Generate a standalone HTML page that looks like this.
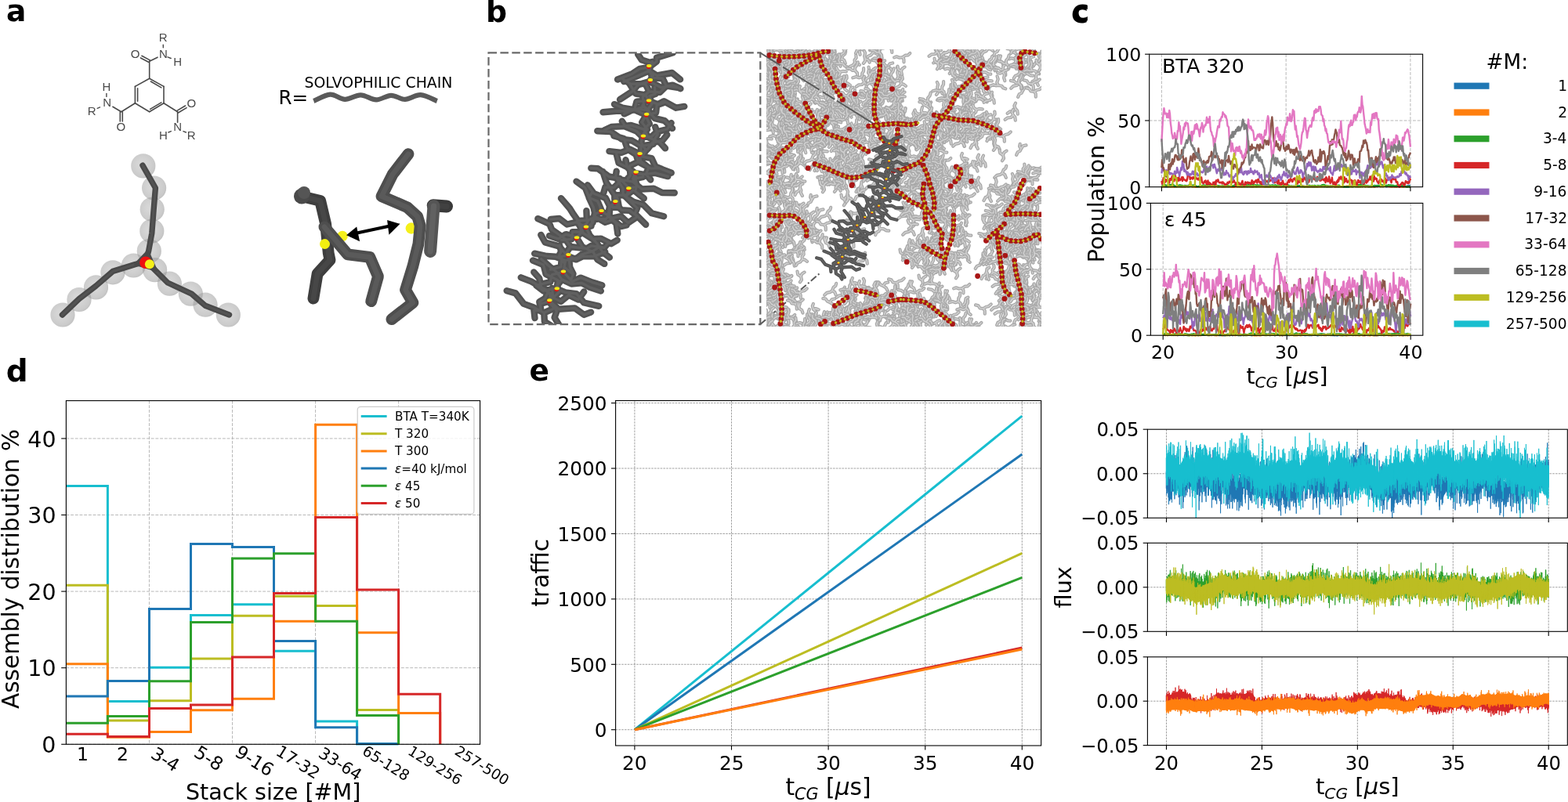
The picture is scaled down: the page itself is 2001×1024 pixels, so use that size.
<!DOCTYPE html>
<html><head><meta charset="utf-8"><title>Figure</title>
<style>html,body{margin:0;padding:0;background:#fff;overflow:hidden}svg{display:block}text{font-family:'DejaVu Sans',sans-serif}</style>
</head><body>
<svg width="2001" height="1024" viewBox="0 0 2001 1024">
<rect width="2001" height="1024" fill="#fff"/>
<line x1="190.46" y1="511.60" x2="190.46" y2="950.30" stroke="#b0b0b0" stroke-width="0.9" stroke-dasharray="3.9,1.8"/>
<line x1="296.52" y1="511.60" x2="296.52" y2="950.30" stroke="#b0b0b0" stroke-width="0.9" stroke-dasharray="3.9,1.8"/>
<line x1="402.58" y1="511.60" x2="402.58" y2="950.30" stroke="#b0b0b0" stroke-width="0.9" stroke-dasharray="3.9,1.8"/>
<line x1="508.64" y1="511.60" x2="508.64" y2="950.30" stroke="#b0b0b0" stroke-width="0.9" stroke-dasharray="3.9,1.8"/>
<line x1="84.40" y1="950.30" x2="612.60" y2="950.30" stroke="#b0b0b0" stroke-width="0.9" stroke-dasharray="3.9,1.8"/>
<line x1="84.40" y1="852.70" x2="612.60" y2="852.70" stroke="#b0b0b0" stroke-width="0.9" stroke-dasharray="3.9,1.8"/>
<line x1="84.40" y1="755.10" x2="612.60" y2="755.10" stroke="#b0b0b0" stroke-width="0.9" stroke-dasharray="3.9,1.8"/>
<line x1="84.40" y1="657.50" x2="612.60" y2="657.50" stroke="#b0b0b0" stroke-width="0.9" stroke-dasharray="3.9,1.8"/>
<line x1="84.40" y1="559.90" x2="612.60" y2="559.90" stroke="#b0b0b0" stroke-width="0.9" stroke-dasharray="3.9,1.8"/>
<g fill="none" stroke-width="3" stroke-linejoin="miter">
<path d="M84.4,620.4H137.4V895.5H190.5V852.2H243.5V785.4H296.5V771.7H349.5V831.2H402.6V921.1H455.6V949.8H508.6" stroke="#17becf"/>
<path d="M84.4,747.3H137.4V920.1H190.5V894.8H243.5V841.0H296.5V786.3H349.5V761.3H402.6V773.6H455.6V906.5H508.6V950.3" stroke="#bcbd22"/>
<path d="M84.4,847.8H137.4V941.2H190.5V934.5H243.5V906.7H296.5V892.3H349.5V793.2H402.6V542.3H455.6V807.8H508.6V910.4H561.7V950.3" stroke="#ff7f0e"/>
<path d="M84.4,889.1H137.4V869.4H190.5V777.5H243.5V694.6H296.5V698.5H349.5V818.5H402.6V928.8H455.6V949.8H508.6" stroke="#1f77b4"/>
<path d="M84.4,923.2H137.4V914.5H190.5V869.8H243.5V794.5H296.5V713.1H349.5V706.8H402.6V793.2H455.6V913.4H508.6V950.3" stroke="#2ca02c"/>
<path d="M84.4,937.3H137.4V940.5H190.5V904.6H243.5V900.0H296.5V839.0H349.5V757.5H402.6V660.4H455.6V753.1H508.6V886.3H561.7V950.3" stroke="#d62728"/>
</g>
<rect x="84.40" y="511.60" width="528.20" height="438.70" fill="none" stroke="#000" stroke-width="1.1"/>
<line x1="78.20" y1="950.30" x2="84.40" y2="950.30" stroke="#000" stroke-width="1.1"/>
<text x="53.36" y="960.93" font-size="28.50" fill="#000">0</text>
<line x1="78.20" y1="852.70" x2="84.40" y2="852.70" stroke="#000" stroke-width="1.1"/>
<text x="35.26" y="863.33" font-size="28.50" fill="#000">10</text>
<line x1="78.20" y1="755.10" x2="84.40" y2="755.10" stroke="#000" stroke-width="1.1"/>
<text x="35.26" y="765.73" font-size="28.50" fill="#000">20</text>
<line x1="78.20" y1="657.50" x2="84.40" y2="657.50" stroke="#000" stroke-width="1.1"/>
<text x="35.26" y="668.13" font-size="28.50" fill="#000">30</text>
<line x1="78.20" y1="559.90" x2="84.40" y2="559.90" stroke="#000" stroke-width="1.1"/>
<text x="35.26" y="570.53" font-size="28.50" fill="#000">40</text>
<text x="98.02" y="971.15" font-size="23.50" fill="#000">1</text>
<text x="148.94" y="970.99" font-size="23.50" fill="#000">2</text>
<text x="0" y="0" font-size="22.96" transform="translate(190.90,966.43) rotate(32)">3-4</text>
<text x="0" y="0" font-size="23.31" transform="translate(246.07,964.82) rotate(32)">5-8</text>
<text x="0" y="0" font-size="23.26" transform="translate(298.17,964.23) rotate(32)">9-16</text>
<text x="0" y="0" font-size="20.97" transform="translate(350.75,963.08) rotate(32)">17-32</text>
<text x="0" y="0" font-size="20.69" transform="translate(404.93,965.38) rotate(32)">33-64</text>
<text x="0" y="0" font-size="18.8" transform="translate(461.08,962.36) rotate(32)">65-128</text>
<text x="0" y="0" font-size="18.44" transform="translate(519.23,962.22) rotate(32)">129-256</text>
<text x="0" y="0" font-size="18.5" transform="translate(578.88,962.17) rotate(32)">257-500</text>
<text x="236.94" y="1020.50" font-size="28.55" fill="#000">Stack size [#M]</text>
<text x="0" y="0" font-size="29.5" transform="translate(24.42,904.93) rotate(-90)">Assembly distribution %</text>
<rect x="456.2" y="519.3" width="148.7" height="137.1" rx="4" fill="#fff" fill-opacity="0.8" stroke="#cccccc" stroke-width="1.2"/>
<line x1="460.70" y1="531.60" x2="493.60" y2="531.60" stroke="#17becf" stroke-width="3"/>
<text x="504.00" y="537.10" font-size="15.20" fill="#000">BTA T=340K</text>
<line x1="460.70" y1="553.76" x2="493.60" y2="553.76" stroke="#bcbd22" stroke-width="3"/>
<text x="504.00" y="559.26" font-size="15.20" fill="#000">T 320</text>
<line x1="460.70" y1="575.92" x2="493.60" y2="575.92" stroke="#ff7f0e" stroke-width="3"/>
<text x="504.00" y="581.42" font-size="15.20" fill="#000">T 300</text>
<line x1="460.70" y1="598.08" x2="493.60" y2="598.08" stroke="#1f77b4" stroke-width="3"/>
<text x="504.00" y="603.58" font-size="15.20" fill="#000"><tspan font-style="italic">ε</tspan>=40 kJ/mol</text>
<line x1="460.70" y1="620.24" x2="493.60" y2="620.24" stroke="#2ca02c" stroke-width="3"/>
<text x="504.00" y="625.74" font-size="15.20" fill="#000"><tspan font-style="italic">ε</tspan> 45</text>
<line x1="460.70" y1="642.40" x2="493.60" y2="642.40" stroke="#d62728" stroke-width="3"/>
<text x="504.00" y="647.90" font-size="15.20" fill="#000"><tspan font-style="italic">ε</tspan> 50</text>
<text x="7.65" y="486.64" font-size="39.00" font-weight="bold" fill="#000">d</text>
<line x1="809.90" y1="511.50" x2="809.90" y2="952.00" stroke="#8a8a8a" stroke-width="0.8" stroke-dasharray="2.6,1.2"/>
<line x1="933.50" y1="511.50" x2="933.50" y2="952.00" stroke="#8a8a8a" stroke-width="0.8" stroke-dasharray="2.6,1.2"/>
<line x1="1057.10" y1="511.50" x2="1057.10" y2="952.00" stroke="#8a8a8a" stroke-width="0.8" stroke-dasharray="2.6,1.2"/>
<line x1="1180.70" y1="511.50" x2="1180.70" y2="952.00" stroke="#8a8a8a" stroke-width="0.8" stroke-dasharray="2.6,1.2"/>
<line x1="1304.30" y1="511.50" x2="1304.30" y2="952.00" stroke="#8a8a8a" stroke-width="0.8" stroke-dasharray="2.6,1.2"/>
<line x1="785.60" y1="931.70" x2="1328.60" y2="931.70" stroke="#8a8a8a" stroke-width="0.8" stroke-dasharray="2.6,1.2"/>
<line x1="785.60" y1="848.28" x2="1328.60" y2="848.28" stroke="#8a8a8a" stroke-width="0.8" stroke-dasharray="2.6,1.2"/>
<line x1="785.60" y1="764.86" x2="1328.60" y2="764.86" stroke="#8a8a8a" stroke-width="0.8" stroke-dasharray="2.6,1.2"/>
<line x1="785.60" y1="681.44" x2="1328.60" y2="681.44" stroke="#8a8a8a" stroke-width="0.8" stroke-dasharray="2.6,1.2"/>
<line x1="785.60" y1="598.02" x2="1328.60" y2="598.02" stroke="#8a8a8a" stroke-width="0.8" stroke-dasharray="2.6,1.2"/>
<line x1="785.60" y1="514.60" x2="1328.60" y2="514.60" stroke="#8a8a8a" stroke-width="0.8" stroke-dasharray="2.6,1.2"/>
<g stroke-width="3" stroke-linecap="butt">
<line x1="809.90" y1="931.70" x2="1304.30" y2="531.12" stroke="#17becf" stroke-width="3"/>
<line x1="809.90" y1="931.70" x2="1304.30" y2="580.00" stroke="#1f77b4" stroke-width="3"/>
<line x1="809.90" y1="931.70" x2="1304.30" y2="706.47" stroke="#bcbd22" stroke-width="3"/>
<line x1="809.90" y1="931.70" x2="1304.30" y2="737.33" stroke="#2ca02c" stroke-width="3"/>
<line x1="809.90" y1="931.70" x2="1304.30" y2="827.09" stroke="#d62728" stroke-width="3"/>
<line x1="809.90" y1="931.70" x2="1304.30" y2="829.09" stroke="#ff7f0e" stroke-width="3"/>
</g>
<rect x="785.60" y="511.50" width="543.00" height="440.50" fill="none" stroke="#000" stroke-width="1.1"/>
<line x1="780.00" y1="931.70" x2="785.60" y2="931.70" stroke="#000" stroke-width="1.1"/>
<text x="758.86" y="940.99" font-size="24.80" fill="#000">0</text>
<line x1="780.00" y1="848.28" x2="785.60" y2="848.28" stroke="#000" stroke-width="1.1"/>
<text x="727.24" y="857.57" font-size="24.80" fill="#000">500</text>
<line x1="780.00" y1="764.86" x2="785.60" y2="764.86" stroke="#000" stroke-width="1.1"/>
<text x="711.50" y="774.15" font-size="24.80" fill="#000">1000</text>
<line x1="780.00" y1="681.44" x2="785.60" y2="681.44" stroke="#000" stroke-width="1.1"/>
<text x="711.50" y="690.73" font-size="24.80" fill="#000">1500</text>
<line x1="780.00" y1="598.02" x2="785.60" y2="598.02" stroke="#000" stroke-width="1.1"/>
<text x="711.50" y="607.31" font-size="24.80" fill="#000">2000</text>
<line x1="780.00" y1="514.60" x2="785.60" y2="514.60" stroke="#000" stroke-width="1.1"/>
<text x="711.50" y="523.89" font-size="24.80" fill="#000">2500</text>
<line x1="809.90" y1="952.00" x2="809.90" y2="957.60" stroke="#000" stroke-width="1.1"/>
<text x="794.03" y="982.55" font-size="24.80" fill="#000">20</text>
<line x1="933.50" y1="952.00" x2="933.50" y2="957.60" stroke="#000" stroke-width="1.1"/>
<text x="917.88" y="982.55" font-size="24.80" fill="#000">25</text>
<line x1="1057.10" y1="952.00" x2="1057.10" y2="957.60" stroke="#000" stroke-width="1.1"/>
<text x="1041.23" y="982.55" font-size="24.80" fill="#000">30</text>
<line x1="1180.70" y1="952.00" x2="1180.70" y2="957.60" stroke="#000" stroke-width="1.1"/>
<text x="1165.08" y="982.55" font-size="24.80" fill="#000">35</text>
<line x1="1304.30" y1="952.00" x2="1304.30" y2="957.60" stroke="#000" stroke-width="1.1"/>
<text x="1288.74" y="982.55" font-size="24.80" fill="#000">40</text>
<text x="1002.40" y="1015.40" font-size="29.7">t<tspan font-style="italic" font-size="20.79" dy="5.94">CG</tspan><tspan dy="-5.94"> [</tspan><tspan font-style="italic">μ</tspan>s]</text>
<text x="0" y="0" font-size="29.5" transform="translate(699.72,774.57) rotate(-90)">traffic</text>
<text x="675.50" y="486.40" font-size="37.50" font-weight="bold" fill="#000">e</text>
<line x1="1482.40" y1="69.20" x2="1482.40" y2="238.70" stroke="#b0b0b0" stroke-width="0.9" stroke-dasharray="3.9,1.8"/>
<line x1="1641.15" y1="69.20" x2="1641.15" y2="238.70" stroke="#b0b0b0" stroke-width="0.9" stroke-dasharray="3.9,1.8"/>
<line x1="1799.90" y1="69.20" x2="1799.90" y2="238.70" stroke="#b0b0b0" stroke-width="0.9" stroke-dasharray="3.9,1.8"/>
<line x1="1466.70" y1="153.95" x2="1815.60" y2="153.95" stroke="#b0b0b0" stroke-width="0.9" stroke-dasharray="3.9,1.8"/>
<line x1="1484.20" y1="259.40" x2="1484.20" y2="428.20" stroke="#b0b0b0" stroke-width="0.9" stroke-dasharray="3.9,1.8"/>
<line x1="1642.20" y1="259.40" x2="1642.20" y2="428.20" stroke="#b0b0b0" stroke-width="0.9" stroke-dasharray="3.9,1.8"/>
<line x1="1800.20" y1="259.40" x2="1800.20" y2="428.20" stroke="#b0b0b0" stroke-width="0.9" stroke-dasharray="3.9,1.8"/>
<line x1="1468.40" y1="343.80" x2="1815.80" y2="343.80" stroke="#b0b0b0" stroke-width="0.9" stroke-dasharray="3.9,1.8"/>
<path transform="translate(1482.40,0) scale(0.75776,0.1)" d="M0 2380l1 0 1 0 1 2 1 0 1 3 1 0 1 1 1 -2 1 3 1 -2 1 -1 1 0 1 0 1 -2 1 4 1 -2 1 -1 1 -2 1 -1 1 2 1 0 1 -2 1 -1 1 0 1 4 1 -2 1 -3 1 -3 1 0 1 6 1 -3 1 1 1 7 1 -2 1 2 1 -2 1 0 1 1 1 0 1 -2 1 -5 1 -5 1 2 1 2 1 4 1 2 1 -2 1 -1 1 0 1 -3 1 3 1 0 1 -2 1 -1 1 -3 1 0 1 2 1 0 1 4 1 4 1 -2 1 0 1 -1 1 5 1 0 1 0 1 0 1 -5 1 1 1 5 1 -2 1 1 1 -1 1 -3 1 3 1 1 1 -1 1 -3 1 -5 1 -3 1 0 1 1 1 -2 1 3 1 1 1 -2 1 -5 1 2 1 2 1 1 1 -3 1 1 1 -3 1 5 1 1 1 2 1 -2 1 -2 1 5 1 3 1 -1 1 2 1 4 1 -5 1 -1 1 -2 1 2 1 -3 1 1 1 -3 1 3 1 3 1 -1 1 2 1 -3 1 0 1 2 1 0 1 1 1 -4 1 2 1 2 1 -4 1 -7 1 -4 1 2 1 1 1 -3 1 3 1 4 1 1 1 -1 1 4 1 5 1 3 1 -3 1 2 1 -1 1 -1 1 -3 1 1 1 -2 1 3 1 0 1 3 1 -5 1 0 1 2 1 1 1 0 1 -3 1 5 1 0 1 1 1 -8 1 -3 1 1 1 -1 1 -5 1 2 1 2 1 -2 1 0 1 -1 1 3 1 -5 1 -3 1 1 1 0 1 8 1 -1 1 2 1 -1 1 -1 1 2 1 5 1 -1 1 2 1 0 1 2 1 0 1 -2 1 2 1 -1 1 -4 1 -6 1 1 1 6 1 3 1 3 1 0 1 -2 1 -1 1 2 1 -3 1 3 1 1 1 0 1 -1 1 0 1 1 1 -4 1 2 1 -3 1 -6 1 -3 1 -1 1 3 1 -3 1 2 1 1 1 2 1 0 1 2 1 1 1 3 1 0 1 -7 1 1 1 1 1 -1 1 -1 1 4 1 0 1 -2 1 -1 1 1 1 -5 1 4 1 0 1 2 1 -4 1 7 1 1 1 1 1 -2 1 -2 1 -4 1 5 1 -2 1 1 1 2 1 -2 1 3 1 3 1 0 1 -3 1 0 1 3 1 0 1 -6 1 1 1 4 1 1 1 0 1 -2 1 3 1 -1 1 -4 1 4 1 1 1 -2 1 -2 1 -2 1 0 1 -4 1 -1 1 0 1 0 1 5 1 0 1 1 1 -1 1 4 1 -6 1 0 1 4 1 4 1 0 1 -1 1 1 1 -2 1 1 1 -2 1 1 1 -1 1 -3 1 -8 1 4 1 2 1 3 1 -3 1 4 1 1 1 -1 1 3 1 1 1 0 1 -5 1 -2 1 1 1 3 1 1 1 -4 1 1 1 5 1 -3 1 0 1 2 1 -3 1 1 1 3 1 -1 1 -4 1 -1 1 -3 1 2 1 -3 1 2 1 1 1 -7 1 -1 1 3 1 1 1 0 1 -3 1 3 1 6 1 0 1 0 1 -1 1 -4 1 0 1 -2 1 4 1 -2 1 -6 1 0 1 1 1 1 1 -4 1 5 1 1 1 0 1 -1 1 2 1 0 1 2 1 0 1 0 1 4 1 0 1 -3 1 3 1 0 1 -2 1 3 1 -1 1 3 1 -4 1 -7 1 -5 1 3 1 -1 1 1 1 2 1 -4 1 6 1 -2 1 1 1 -3 1 1 1 3 1 0 1 -1 1 1 1 -1 1 2 1 7 1 -3 1 -2 1 0 1 0 1 -3 1 2 1 2 1 1 1 -4 1 5 1 -4 1 2 1 4 1 -5 1 1 1 4 1 0 1 -3 1 -4 1 2 1 -1 1 -2 1 3 1 -1 1 1 1 1 1 2 1 -1 1 0 1 2 1 0 1 -3 1 -1 1 -2 1 -3 1 -1 1 -5 1 5 1 -1 1 2" fill="none" stroke="#1f77b4" stroke-width="2.4" vector-effect="non-scaling-stroke" stroke-linejoin="round"/>
<path transform="translate(1482.40,0) scale(0.75776,0.1)" d="M0 2382l1 -3 1 4 1 2 1 -2 1 -2 1 -1 1 0 1 0 1 -1 1 1 1 -2 1 5 1 -1 1 2 1 -2 1 0 1 2 1 -1 1 1 1 2 1 0 1 1 1 -2 1 -2 1 0 1 -2 1 0 1 0 1 -1 1 -2 1 2 1 1 1 0 1 0 1 2 1 -2 1 1 1 -1 1 2 1 -1 1 -1 1 1 1 -4 1 0 1 -3 1 0 1 2 1 2 1 0 1 0 1 0 1 1 1 4 1 0 1 2 1 0 1 1 1 0 1 0 1 -2 1 1 1 -2 1 -1 1 -2 1 0 1 5 1 -1 1 1 1 0 1 0 1 0 1 0 1 -2 1 -4 1 0 1 0 1 2 1 -1 1 1 1 -2 1 1 1 -4 1 5 1 1 1 -2 1 1 1 1 1 1 1 2 1 -1 1 -5 1 -2 1 3 1 2 1 0 1 -2 1 2 1 1 1 -2 1 -2 1 1 1 3 1 2 1 1 1 -3 1 3 1 -1 1 0 1 -5 1 -2 1 3 1 -2 1 -2 1 2 1 3 1 0 1 3 1 -4 1 5 1 -1 1 1 1 0 1 -1 1 -2 1 0 1 -2 1 4 1 -1 1 1 1 -1 1 -1 1 1 1 1 1 -2 1 -1 1 1 1 -4 1 -4 1 4 1 -1 1 -4 1 0 1 1 1 1 1 2 1 1 1 1 1 -1 1 1 1 1 1 2 1 0 1 1 1 0 1 -2 1 -1 1 -1 1 -1 1 0 1 1 1 1 1 -2 1 3 1 -3 1 0 1 2 1 1 1 1 1 -1 1 2 1 -3 1 1 1 3 1 0 1 -3 1 2 1 1 1 -2 1 2 1 1 1 -5 1 0 1 0 1 -2 1 -5 1 -1 1 1 1 1 1 0 1 2 1 3 1 0 1 2 1 0 1 -1 1 -4 1 2 1 1 1 0 1 0 1 -2 1 1 1 2 1 3 1 2 1 -2 1 -1 1 2 1 0 1 -1 1 -2 1 1 1 0 1 3 1 -2 1 -1 1 2 1 0 1 0 1 0 1 1 1 -1 1 -1 1 0 1 1 1 1 1 -1 1 0 1 0 1 -2 1 -2 1 1 1 -2 1 -2 1 -2 1 -2 1 2 1 1 1 -1 1 4 1 0 1 1 1 1 1 3 1 1 1 -1 1 -2 1 -3 1 1 1 0 1 2 1 -1 1 0 1 -1 1 -4 1 1 1 3 1 2 1 2 1 0 1 -2 1 -1 1 3 1 -2 1 -3 1 1 1 1 1 1 1 -1 1 -2 1 -2 1 -2 1 -1 1 -2 1 0 1 5 1 1 1 -1 1 2 1 -2 1 1 1 2 1 -3 1 0 1 0 1 -1 1 -2 1 1 1 5 1 2 1 0 1 2 1 -1 1 -3 1 1 1 2 1 -5 1 2 1 2 1 -1 1 -1 1 1 1 -1 1 1 1 1 1 0 1 -2 1 1 1 -1 1 0 1 -5 1 2 1 -2 1 1 1 1 1 -1 1 -1 1 -2 1 1 1 2 1 2 1 -1 1 0 1 -2 1 0 1 -1 1 -2 1 1 1 4 1 3 1 3 1 -4 1 2 1 -3 1 -1 1 -2 1 -1 1 1 1 1 1 1 1 0 1 2 1 0 1 -3 1 4 1 -1 1 2 1 0 1 -2 1 0 1 -1 1 3 1 -2 1 1 1 -1 1 0 1 5 1 1 1 -2 1 -3 1 -1 1 0 1 3 1 -3 1 -4 1 1 1 1 1 4 1 -2 1 -5 1 0 1 -2 1 1 1 3 1 -2 1 3 1 1 1 0 1 -1 1 -1 1 0 1 2 1 3 1 0 1 1 1 2 1 0 1 0 1 -2 1 -1 1 -2 1 2 1 3 1 -3 1 3 1 0 1 -2 1 0 1 0 1 -4 1 1 1 3 1 2 1 -1 1 -2 1 3 1 1 1 -2 1 -2 1 1 1 -1 1 -2 1 4 1 0 1 -1 1 0 1 2 1 0 1 -1" fill="none" stroke="#ff7f0e" stroke-width="2.4" vector-effect="non-scaling-stroke" stroke-linejoin="round"/>
<path transform="translate(1482.40,0) scale(0.75776,0.1)" d="M0 2372l1 8 1 -11 1 5 1 -5 1 -4 1 -3 1 2 1 6 1 -2 1 3 1 10 1 -13 1 -2 1 -6 1 6 1 -5 1 -4 1 -3 1 3 1 7 1 2 1 10 1 6 1 -2 1 2 1 -1 1 -1 1 -9 1 -5 1 1 1 -4 1 5 1 2 1 -3 1 5 1 1 1 5 1 -1 1 -8 1 4 1 -1 1 3 1 4 1 4 1 -8 1 -10 1 -1 1 5 1 -3 1 3 1 -3 1 0 1 0 1 -1 1 3 1 2 1 7 1 1 1 4 1 -1 1 2 1 -2 1 -4 1 5 1 1 1 2 1 -6 1 -8 1 -3 1 2 1 -5 1 7 1 -6 1 4 1 11 1 -12 1 -6 1 6 1 0 1 1 1 0 1 6 1 2 1 -3 1 -1 1 -5 1 0 1 -9 1 5 1 0 1 9 1 4 1 -6 1 4 1 -3 1 0 1 4 1 0 1 1 1 1 1 -4 1 -3 1 2 1 3 1 -2 1 0 1 -5 1 -10 1 -1 1 2 1 3 1 5 1 4 1 4 1 0 1 1 1 -4 1 1 1 0 1 4 1 -7 1 -2 1 -7 1 -1 1 -4 1 3 1 -1 1 -8 1 8 1 -2 1 -4 1 1 1 0 1 -2 1 6 1 1 1 5 1 4 1 3 1 1 1 -1 1 -2 1 6 1 -9 1 -3 1 -2 1 3 1 2 1 -1 1 -1 1 8 1 -3 1 -12 1 10 1 -3 1 0 1 1 1 -4 1 6 1 0 1 -5 1 2 1 3 1 0 1 3 1 -6 1 5 1 -3 1 6 1 -3 1 0 1 11 1 -2 1 3 1 0 1 -8 1 4 1 3 1 -7 1 -1 1 -6 1 -1 1 5 1 0 1 -5 1 -2 1 1 1 1 1 2 1 3 1 -8 1 2 1 5 1 3 1 -3 1 -3 1 2 1 3 1 0 1 6 1 4 1 -5 1 1 1 -2 1 -6 1 -2 1 0 1 -8 1 0 1 3 1 -1 1 0 1 5 1 1 1 1 1 9 1 -1 1 0 1 1 1 5 1 0 1 -2 1 -2 1 3 1 -4 1 3 1 0 1 -7 1 2 1 1 1 -5 1 2 1 0 1 -1 1 -4 1 9 1 2 1 3 1 2 1 1 1 1 1 -4 1 1 1 -2 1 -4 1 2 1 -2 1 -8 1 -1 1 3 1 0 1 4 1 -2 1 -4 1 4 1 0 1 -5 1 3 1 -1 1 4 1 3 1 1 1 -10 1 2 1 2 1 2 1 0 1 -3 1 -1 1 -8 1 1 1 -4 1 1 1 -1 1 8 1 1 1 1 1 1 1 9 1 -5 1 1 1 1 1 0 1 0 1 -3 1 5 1 2 1 -3 1 -1 1 0 1 1 1 2 1 -1 1 -6 1 4 1 -7 1 -3 1 3 1 -3 1 7 1 6 1 4 1 -1 1 -1 1 0 1 -2 1 7 1 -5 1 4 1 0 1 -1 1 2 1 -3 1 0 1 3 1 -5 1 -4 1 3 1 1 1 2 1 -4 1 6 1 -7 1 0 1 2 1 -3 1 -5 1 -2 1 -4 1 1 1 -4 1 -4 1 3 1 -4 1 1 1 2 1 5 1 2 1 -2 1 6 1 -3 1 -1 1 -1 1 10 1 -1 1 -4 1 3 1 -1 1 9 1 -5 1 1 1 -5 1 7 1 -5 1 0 1 -4 1 3 1 2 1 -10 1 4 1 3 1 0 1 4 1 -6 1 -7 1 4 1 7 1 -6 1 -4 1 -2 1 -4 1 6 1 1 1 6 1 5 1 -5 1 2 1 -9 1 0 1 4 1 -3 1 -7 1 0 1 7 1 -1 1 -4 1 3 1 4 1 -3 1 0 1 5 1 2 1 2 1 -2 1 -1 1 -4 1 -3 1 7 1 -1 1 -4 1 -1 1 -3 1 3 1 5 1 -4 1 5 1 8 1 -6 1 3 1 0 1 4 1 3 1 2 1 -1 1 -4 1 3 1 -2 1 3 1 1" fill="none" stroke="#2ca02c" stroke-width="2.4" vector-effect="non-scaling-stroke" stroke-linejoin="round"/>
<path transform="translate(1482.40,0) scale(0.75776,0.1)" d="M0 2310l1 37 1 -29 1 -45 1 32 1 -6 1 29 1 -37 1 23 1 -15 1 -6 1 8 1 6 1 28 1 -53 1 0 1 15 1 -26 1 -27 1 63 1 -11 1 16 1 -46 1 -26 1 40 1 23 1 -9 1 -22 1 39 1 -46 1 26 1 12 1 -12 1 -7 1 -22 1 49 1 -48 1 21 1 11 1 1 1 9 1 -8 1 15 1 -17 1 -50 1 -16 1 5 1 11 1 46 1 -21 1 -3 1 9 1 9 1 -24 1 5 1 13 1 -15 1 14 1 -12 1 18 1 -3 1 11 1 -16 1 21 1 -10 1 -4 1 13 1 -31 1 60 1 9 1 10 1 -6 1 -23 1 10 1 -21 1 34 1 17 1 -38 1 -11 1 46 1 -22 1 19 1 -10 1 12 1 7 1 19 1 -20 1 -29 1 3 1 13 1 -24 1 43 1 -61 1 17 1 -9 1 -17 1 24 1 14 1 1 1 1 1 -7 1 6 1 13 1 -22 1 13 1 2 1 21 1 -8 1 10 1 -11 1 1 1 -23 1 3 1 9 1 -24 1 2 1 10 1 -13 1 7 1 8 1 -2 1 -28 1 4 1 24 1 4 1 36 1 -27 1 -12 1 4 1 -2 1 1 1 28 1 -11 1 32 1 -43 1 -7 1 -22 1 32 1 18 1 8 1 19 1 -61 1 27 1 -21 1 6 1 -12 1 17 1 -10 1 -1 1 16 1 -12 1 14 1 -47 1 8 1 27 1 9 1 -25 1 7 1 -19 1 -9 1 14 1 22 1 -43 1 -5 1 27 1 15 1 8 1 -17 1 29 1 -21 1 18 1 19 1 -58 1 31 1 -28 1 -10 1 18 1 -1 1 -6 1 15 1 -23 1 -27 1 37 1 -9 1 1 1 -12 1 -5 1 -15 1 15 1 15 1 29 1 1 1 -20 1 -38 1 22 1 45 1 -13 1 -34 1 52 1 -5 1 -5 1 28 1 -36 1 21 1 -44 1 30 1 12 1 8 1 -4 1 -8 1 12 1 7 1 -34 1 -10 1 -23 1 30 1 -19 1 -26 1 5 1 19 1 15 1 -8 1 -30 1 4 1 -13 1 20 1 18 1 19 1 -26 1 41 1 -48 1 -17 1 46 1 -16 1 -16 1 15 1 5 1 -30 1 33 1 -27 1 -25 1 7 1 9 1 20 1 12 1 8 1 -14 1 -4 1 20 1 -34 1 -28 1 6 1 -5 1 33 1 -28 1 10 1 -26 1 35 1 -14 1 32 1 -3 1 -13 1 -31 1 32 1 -21 1 14 1 12 1 13 1 -17 1 11 1 -14 1 0 1 -2 1 18 1 -6 1 -19 1 52 1 -70 1 17 1 32 1 8 1 -6 1 -57 1 48 1 38 1 -40 1 17 1 -50 1 66 1 17 1 -4 1 -22 1 17 1 45 1 -44 1 -27 1 13 1 -35 1 22 1 -51 1 3 1 16 1 -29 1 12 1 28 1 -14 1 20 1 33 1 -71 1 56 1 -16 1 -21 1 35 1 12 1 -9 1 -7 1 -16 1 -13 1 14 1 4 1 -2 1 47 1 -34 1 15 1 -20 1 -7 1 3 1 64 1 -29 1 27 1 -45 1 -22 1 30 1 -18 1 11 1 15 1 -29 1 9 1 25 1 -25 1 35 1 -6 1 -21 1 -31 1 15 1 27 1 -29 1 13 1 -31 1 9 1 -8 1 -36 1 26 1 18 1 -48 1 29 1 -3 1 40 1 -68 1 43 1 -17 1 8 1 -2 1 37 1 7 1 16 1 -5 1 -36 1 24 1 -7 1 -26 1 11 1 17 1 -11 1 18 1 12 1 -17 1 -43 1 58 1 -32 1 -2 1 -13 1 -6 1 -15 1 4 1 14 1 30 1 17 1 -57 1 2 1 0 1 16 1 -20 1 -7 1 16 1 43 1 1 1 -3 1 39 1 3 1 22 1 0 1 -21 1 -19 1 3 1 -21 1 2 1 6 1 30 1 2 1 -20 1 -37 1 8 1 7 1 12 1 -16 1 16 1 -6 1 -56 1 27" fill="none" stroke="#d62728" stroke-width="2.4" vector-effect="non-scaling-stroke" stroke-linejoin="round"/>
<path transform="translate(1482.40,0) scale(0.75776,0.1)" d="M0 2214l1 -63 1 19 1 -27 1 19 1 42 1 21 1 -30 1 -24 1 19 1 15 1 7 1 -1 1 -16 1 30 1 -4 1 -11 1 7 1 1 1 8 1 20 1 -19 1 -41 1 41 1 -33 1 15 1 -69 1 28 1 37 1 -4 1 50 1 -46 1 -32 1 -34 1 30 1 -110 1 42 1 -3 1 89 1 -23 1 29 1 -9 1 25 1 25 1 -36 1 18 1 19 1 5 1 -21 1 11 1 0 1 -13 1 -30 1 3 1 40 1 -34 1 -16 1 18 1 32 1 -3 1 -15 1 32 1 -10 1 6 1 -8 1 -49 1 14 1 0 1 -3 1 10 1 -6 1 -29 1 -27 1 -21 1 18 1 17 1 -29 1 39 1 31 1 -25 1 -38 1 14 1 -23 1 -6 1 -9 1 0 1 -6 1 42 1 -43 1 -6 1 32 1 16 1 38 1 30 1 -28 1 -26 1 21 1 -17 1 -6 1 0 1 7 1 -17 1 29 1 2 1 12 1 45 1 -12 1 -12 1 20 1 -51 1 28 1 0 1 2 1 30 1 15 1 1 1 -23 1 16 1 -4 1 25 1 26 1 -33 1 3 1 -21 1 1 1 -27 1 27 1 -12 1 -27 1 18 1 -27 1 -20 1 14 1 10 1 -64 1 56 1 16 1 15 1 4 1 -39 1 24 1 -23 1 -5 1 7 1 36 1 -42 1 -5 1 31 1 -20 1 6 1 -50 1 49 1 0 1 -10 1 28 1 6 1 -29 1 -17 1 26 1 -12 1 4 1 -9 1 43 1 -9 1 -10 1 63 1 -13 1 -21 1 -7 1 57 1 13 1 47 1 9 1 -30 1 -51 1 -30 1 -6 1 -6 1 24 1 -11 1 15 1 -56 1 32 1 2 1 16 1 21 1 17 1 27 1 13 1 -38 1 -27 1 9 1 35 1 -23 1 7 1 -38 1 -12 1 26 1 -43 1 24 1 5 1 41 1 -20 1 -25 1 -29 1 6 1 -41 1 42 1 11 1 -19 1 -19 1 19 1 45 1 -8 1 -26 1 11 1 -4 1 20 1 -24 1 17 1 -64 1 6 1 -16 1 14 1 25 1 -9 1 11 1 -43 1 -21 1 -21 1 37 1 40 1 -13 1 7 1 -37 1 2 1 14 1 20 1 57 1 -40 1 -8 1 -30 1 -11 1 -3 1 -28 1 -56 1 35 1 -8 1 -46 1 39 1 6 1 -40 1 38 1 64 1 -43 1 33 1 -43 1 63 1 -22 1 -34 1 31 1 21 1 3 1 13 1 -18 1 -3 1 9 1 -30 1 19 1 10 1 -18 1 17 1 -56 1 4 1 27 1 -35 1 10 1 47 1 -59 1 41 1 -13 1 1 1 5 1 23 1 -49 1 76 1 0 1 8 1 21 1 -32 1 -44 1 -43 1 62 1 -4 1 -18 1 10 1 -5 1 -36 1 25 1 3 1 -43 1 -2 1 14 1 -21 1 32 1 -15 1 6 1 45 1 -30 1 38 1 -32 1 -1 1 26 1 -7 1 15 1 9 1 10 1 29 1 -7 1 -14 1 18 1 -61 1 28 1 -19 1 16 1 -5 1 7 1 -26 1 65 1 -42 1 12 1 -14 1 5 1 16 1 66 1 -76 1 28 1 -24 1 33 1 -19 1 30 1 -38 1 44 1 -59 1 -9 1 9 1 -43 1 -36 1 43 1 -32 1 23 1 1 1 -2 1 -25 1 -31 1 39 1 -5 1 -33 1 23 1 -15 1 23 1 -22 1 -23 1 24 1 -62 1 83 1 -31 1 -8 1 20 1 -27 1 -11 1 2 1 45 1 33 1 -35 1 39 1 68 1 22 1 -24 1 38 1 -12 1 37 1 23 1 -23 1 13 1 -28 1 18 1 -8 1 -37 1 27 1 -7 1 12 1 2 1 4 1 -4 1 -3 1 -8 1 -7 1 11 1 -4 1 -3 1 -35 1 5 1 15 1 -53 1 0 1 8 1 -10 1 -1 1 2 1 29 1 9 1 -16 1 23 1 13 1 -6 1 60 1 -37 1 -12 1 22" fill="none" stroke="#9467bd" stroke-width="2.4" vector-effect="non-scaling-stroke" stroke-linejoin="round"/>
<path transform="translate(1482.40,0) scale(0.75776,0.1)" d="M0 2141l1 -100 1 103 1 -5 1 39 1 23 1 43 1 -3 1 16 1 -13 1 -24 1 -34 1 -87 1 38 1 28 1 -77 1 36 1 -47 1 -45 1 63 1 -55 1 24 1 -55 1 -30 1 0 1 14 1 24 1 23 1 -48 1 52 1 -26 1 11 1 -48 1 29 1 -95 1 86 1 -16 1 79 1 -29 1 39 1 -21 1 -36 1 97 1 44 1 -11 1 0 1 -16 1 -62 1 -34 1 -41 1 52 1 -12 1 25 1 -90 1 -9 1 3 1 76 1 -59 1 -24 1 24 1 36 1 -42 1 -79 1 64 1 39 1 52 1 -18 1 34 1 24 1 36 1 -51 1 -22 1 23 1 22 1 3 1 -33 1 10 1 -26 1 25 1 -16 1 -60 1 -4 1 -5 1 0 1 -56 1 117 1 -18 1 -80 1 34 1 11 1 12 1 -26 1 7 1 -3 1 25 1 -21 1 54 1 -17 1 53 1 -11 1 10 1 -39 1 103 1 -69 1 -30 1 36 1 11 1 24 1 -73 1 6 1 0 1 -13 1 35 1 -85 1 63 1 -1 1 45 1 -15 1 -12 1 -15 1 57 1 45 1 -48 1 -7 1 11 1 22 1 -8 1 26 1 1 1 54 1 -19 1 -23 1 -14 1 -16 1 -6 1 -53 1 23 1 -24 1 2 1 -34 1 -38 1 5 1 -60 1 7 1 -54 1 -16 1 -88 1 115 1 6 1 -47 1 44 1 -22 1 -50 1 55 1 -21 1 3 1 2 1 2 1 13 1 28 1 -39 1 -40 1 8 1 -2 1 68 1 -4 1 -76 1 17 1 22 1 6 1 -9 1 16 1 -84 1 -17 1 -6 1 16 1 43 1 -23 1 -26 1 37 1 16 1 -32 1 -109 1 60 1 -160 1 -61 1 -54 1 77 1 144 1 90 1 18 1 45 1 -17 1 -49 1 57 1 14 1 -36 1 71 1 -26 1 41 1 -22 1 -43 1 -42 1 -45 1 41 1 16 1 73 1 -11 1 37 1 -10 1 -47 1 28 1 8 1 -59 1 5 1 51 1 9 1 38 1 -42 1 16 1 -9 1 43 1 -47 1 60 1 7 1 -71 1 39 1 -60 1 37 1 9 1 28 1 71 1 -33 1 50 1 -61 1 8 1 40 1 18 1 -29 1 -25 1 87 1 -26 1 -24 1 -27 1 7 1 2 1 -32 1 -11 1 -50 1 64 1 -26 1 -18 1 -20 1 -6 1 59 1 24 1 60 1 -14 1 28 1 -34 1 20 1 33 1 -10 1 -26 1 -52 1 58 1 -38 1 -117 1 155 1 -37 1 -91 1 13 1 8 1 -29 1 18 1 40 1 129 1 -56 1 39 1 -56 1 -52 1 43 1 -61 1 -94 1 -70 1 42 1 -3 1 -67 1 63 1 -51 1 -14 1 -49 1 -33 1 -43 1 25 1 19 1 123 1 -34 1 28 1 -34 1 68 1 10 1 0 1 20 1 8 1 29 1 47 1 19 1 -36 1 65 1 -49 1 89 1 -23 1 5 1 -53 1 -55 1 49 1 29 1 34 1 -62 1 34 1 -33 1 42 1 124 1 -87 1 -30 1 53 1 5 1 8 1 -10 1 -20 1 -29 1 7 1 32 1 -138 1 -3 1 -3 1 -33 1 -37 1 23 1 -86 1 19 1 16 1 -42 1 25 1 8 1 32 1 69 1 -5 1 91 1 64 1 24 1 -77 1 32 1 -33 1 70 1 23 1 31 1 -22 1 -10 1 -70 1 -38 1 72 1 -18 1 -36 1 23 1 -42 1 -1 1 -95 1 -1 1 71 1 17 1 5 1 31 1 14 1 -20 1 -3 1 -42 1 6 1 43 1 -27 1 42 1 -26 1 14 1 21 1 51 1 -21 1 -7 1 14 1 -40 1 5 1 -46 1 41 1 -41 1 78 1 -11 1 -2 1 -13 1 23 1 -35 1 -6 1 47 1 -25 1 -48 1 38 1 -11 1 15 1 39 1 -2 1 -20 1 -42 1 73 1 -19 1 10 1 8 1 -81 1 -7 1 -36 1 -8 1 -24" fill="none" stroke="#8c564b" stroke-width="2.4" vector-effect="non-scaling-stroke" stroke-linejoin="round"/>
<path transform="translate(1482.40,0) scale(0.75776,0.1)" d="M0 1809l1 -136 1 -145 1 -83 1 -63 1 49 1 23 1 -5 1 -1 1 52 1 -9 1 -42 1 55 1 -94 1 45 1 115 1 52 1 78 1 30 1 39 1 -22 1 14 1 -65 1 40 1 65 1 -20 1 -15 1 -96 1 7 1 -115 1 52 1 -5 1 108 1 120 1 -50 1 -42 1 -42 1 -78 1 28 1 -75 1 33 1 -48 1 10 1 -1 1 3 1 55 1 119 1 35 1 -13 1 -10 1 -79 1 115 1 -75 1 -44 1 30 1 -37 1 -72 1 -6 1 53 1 -64 1 20 1 48 1 -1 1 39 1 54 1 -65 1 -52 1 9 1 -64 1 31 1 85 1 -64 1 1 1 -28 1 7 1 -32 1 -73 1 72 1 -46 1 42 1 -1 1 -75 1 136 1 54 1 6 1 40 1 8 1 39 1 97 1 -100 1 43 1 -45 1 -22 1 -55 1 -45 1 -36 1 10 1 7 1 -100 1 20 1 -32 1 -23 1 5 1 -63 1 14 1 9 1 7 1 32 1 -17 1 31 1 23 1 75 1 6 1 12 1 149 1 51 1 -26 1 135 1 -57 1 -47 1 53 1 47 1 -8 1 3 1 57 1 -90 1 -11 1 39 1 8 1 -47 1 46 1 -58 1 42 1 45 1 -30 1 43 1 42 1 -25 1 48 1 -28 1 -44 1 30 1 -87 1 11 1 -159 1 -142 1 -90 1 82 1 13 1 22 1 -30 1 18 1 34 1 -5 1 14 1 44 1 73 1 -18 1 16 1 -20 1 -1 1 -33 1 -17 1 25 1 4 1 -37 1 36 1 27 1 -56 1 44 1 72 1 -82 1 11 1 -36 1 -61 1 60 1 -34 1 -124 1 -36 1 -49 1 28 1 121 1 108 1 42 1 33 1 120 1 82 1 -87 1 38 1 -56 1 -92 1 -93 1 -14 1 -74 1 18 1 -29 1 120 1 -61 1 103 1 -57 1 -13 1 64 1 58 1 -99 1 25 1 -49 1 82 1 -113 1 -50 1 -26 1 -31 1 15 1 -98 1 44 1 -16 1 17 1 -89 1 38 1 60 1 -15 1 -51 1 -81 1 43 1 -28 1 146 1 91 1 -49 1 66 1 77 1 -15 1 62 1 54 1 28 1 28 1 -31 1 -51 1 -94 1 -43 1 -5 1 -52 1 -65 1 -58 1 5 1 147 1 10 1 91 1 -60 1 -26 1 -44 1 -10 1 -19 1 3 1 16 1 -47 1 -63 1 -13 1 40 1 -117 1 -9 1 30 1 -48 1 38 1 -24 1 -4 1 16 1 -56 1 6 1 -8 1 33 1 68 1 11 1 6 1 70 1 -29 1 81 1 13 1 58 1 -28 1 60 1 3 1 64 1 46 1 -2 1 23 1 -15 1 10 1 -6 1 -17 1 -10 1 22 1 -23 1 21 1 -12 1 12 1 57 1 -46 1 -24 1 -58 1 22 1 -114 1 36 1 -7 1 -138 1 116 1 113 1 -8 1 24 1 82 1 38 1 19 1 -38 1 -5 1 -75 1 -31 1 -91 1 -80 1 -22 1 24 1 -51 1 -26 1 61 1 -1 1 -32 1 -9 1 -86 1 30 1 -35 1 68 1 -43 1 3 1 -51 1 -16 1 4 1 -57 1 31 1 32 1 -45 1 -162 1 108 1 25 1 75 1 65 1 81 1 33 1 32 1 58 1 -35 1 -21 1 40 1 -18 1 6 1 13 1 -132 1 40 1 -78 1 -61 1 51 1 -60 1 22 1 38 1 -69 1 9 1 -10 1 66 1 17 1 -4 1 136 1 43 1 62 1 68 1 49 1 31 1 114 1 -72 1 92 1 -25 1 9 1 -86 1 -50 1 16 1 -57 1 48 1 -118 1 70 1 46 1 -30 1 8 1 -60 1 16 1 -12 1 66 1 -108 1 68 1 -29 1 3 1 -91 1 5 1 5 1 59 1 86 1 -9 1 35 1 -2 1 -17 1 -6 1 -52 1 -75 1 -2 1 42 1 -42 1 -63 1 11 1 -18 1 -15 1 -17 1 8 1 42 1 30 1 70 1 74" fill="none" stroke="#e377c2" stroke-width="2.4" vector-effect="non-scaling-stroke" stroke-linejoin="round"/>
<path transform="translate(1482.40,0) scale(0.75776,0.1)" d="M0 1772l1 128 1 102 1 64 1 16 1 -60 1 -61 1 7 1 19 1 45 1 -81 1 -6 1 39 1 75 1 -107 1 -12 1 -13 1 -29 1 38 1 -22 1 -25 1 -4 1 -3 1 -37 1 -68 1 54 1 10 1 -2 1 117 1 11 1 37 1 6 1 15 1 -39 1 -4 1 0 1 -18 1 -81 1 4 1 -1 1 -52 1 -16 1 -30 1 41 1 -14 1 -48 1 -39 1 -1 1 23 1 68 1 31 1 15 1 -9 1 29 1 26 1 -20 1 46 1 17 1 23 1 5 1 -32 1 68 1 1 1 -51 1 82 1 -38 1 36 1 17 1 -1 1 54 1 4 1 18 1 -19 1 -31 1 142 1 -78 1 39 1 -39 1 37 1 -25 1 -17 1 36 1 -13 1 -79 1 -22 1 -31 1 -41 1 13 1 -78 1 -64 1 -34 1 62 1 76 1 -17 1 59 1 24 1 49 1 22 1 55 1 43 1 62 1 1 1 -52 1 -26 1 -42 1 -40 1 -52 1 -110 1 72 1 -84 1 14 1 -27 1 -54 1 5 1 -30 1 -77 1 -26 1 -17 1 33 1 -74 1 1 1 64 1 -68 1 4 1 26 1 -55 1 22 1 -33 1 -19 1 45 1 -55 1 19 1 31 1 -17 1 -27 1 -8 1 -61 1 -27 1 20 1 105 1 -69 1 41 1 21 1 -48 1 88 1 61 1 113 1 189 1 59 1 -39 1 12 1 -78 1 -21 1 70 1 -63 1 -2 1 -3 1 -5 1 -65 1 27 1 76 1 -23 1 -22 1 73 1 14 1 -43 1 -9 1 46 1 24 1 -33 1 54 1 9 1 32 1 10 1 142 1 42 1 42 1 -7 1 21 1 0 1 -71 1 -39 1 -73 1 -18 1 -56 1 -71 1 -38 1 -10 1 -34 1 65 1 49 1 -9 1 -68 1 96 1 -71 1 -18 1 47 1 13 1 -13 1 32 1 -25 1 48 1 -17 1 -53 1 46 1 42 1 -17 1 -89 1 16 1 53 1 73 1 -15 1 13 1 12 1 17 1 -21 1 35 1 18 1 21 1 -21 1 -75 1 15 1 -43 1 13 1 -90 1 35 1 -32 1 -61 1 34 1 -5 1 -2 1 -17 1 -74 1 12 1 -11 1 28 1 49 1 1 1 31 1 2 1 33 1 77 1 19 1 51 1 105 1 29 1 -23 1 -105 1 11 1 25 1 13 1 -35 1 42 1 36 1 -45 1 -25 1 -16 1 -36 1 68 1 11 1 32 1 -39 1 39 1 -42 1 22 1 -4 1 -73 1 77 1 -70 1 12 1 39 1 -6 1 -54 1 -18 1 10 1 24 1 -18 1 -66 1 15 1 -7 1 -62 1 16 1 -18 1 -12 1 -84 1 -15 1 34 1 -57 1 -37 1 44 1 61 1 31 1 -27 1 51 1 84 1 -8 1 -29 1 -45 1 44 1 -41 1 96 1 -120 1 -29 1 -54 1 52 1 -5 1 26 1 61 1 20 1 23 1 -55 1 43 1 17 1 79 1 -78 1 71 1 -32 1 36 1 -128 1 36 1 20 1 -8 1 -11 1 -26 1 24 1 -21 1 -24 1 8 1 0 1 -13 1 40 1 8 1 -65 1 100 1 63 1 -3 1 4 1 11 1 92 1 1 1 -38 1 21 1 -38 1 -61 1 -33 1 -25 1 116 1 -102 1 26 1 -65 1 0 1 -122 1 41 1 44 1 -73 1 14 1 8 1 20 1 -23 1 25 1 70 1 60 1 -24 1 21 1 -59 1 -21 1 3 1 -87 1 -60 1 -65 1 -22 1 -11 1 -70 1 7 1 -49 1 59 1 1 1 23 1 91 1 73 1 -57 1 25 1 19 1 -66 1 53 1 -9 1 -49 1 -67 1 20 1 19 1 28 1 -51 1 -35 1 38 1 -23 1 81 1 -67 1 13 1 -37 1 77 1 -128 1 30 1 72 1 -43 1 9 1 58 1 -64 1 87 1 37 1 -25 1 68 1 -3 1 -43 1 68 1 -33 1 13 1 79 1 -4 1 -22 1 60" fill="none" stroke="#7f7f7f" stroke-width="2.4" vector-effect="non-scaling-stroke" stroke-linejoin="round"/>
<path transform="translate(1482.40,0) scale(0.75776,0.1)" d="M0 2387l1 -3 1 2 1 -9 1 4 1 -169 1 -31 1 17 1 40 1 -1 1 -47 1 193 1 3 1 -7 1 2 1 -1 1 7 1 -1 1 0 1 -96 1 -50 1 4 1 23 1 6 1 2 1 -2 1 108 1 5 1 -4 1 5 1 -4 1 2 1 -1 1 3 1 -2 1 0 1 -5 1 3 1 -4 1 5 1 -2 1 3 1 -5 1 0 1 6 1 -2 1 -6 1 5 1 -62 1 -2 1 64 1 2 1 -1 1 2 1 -5 1 0 1 -1 1 -246 1 -53 1 26 1 19 1 -45 1 93 1 9 1 -55 1 259 1 -6 1 3 1 1 1 -1 1 -4 1 2 1 0 1 4 1 -2 1 -1 1 0 1 -1 1 3 1 -6 1 2 1 2 1 1 1 -1 1 -6 1 2 1 2 1 -3 1 5 1 -1 1 5 1 -4 1 -4 1 -3 1 10 1 1 1 -1 1 1 1 -4 1 -4 1 7 1 -4 1 -3 1 5 1 3 1 -2 1 -3 1 2 1 -2 1 0 1 4 1 -3 1 2 1 0 1 -8 1 3 1 2 1 5 1 -272 1 -6 1 -80 1 8 1 -77 1 51 1 19 1 -1 1 50 1 30 1 274 1 -6 1 -7 1 14 1 -4 1 7 1 -6 1 1 1 -1 1 5 1 1 1 0 1 0 1 -4 1 1 1 2 1 -4 1 2 1 0 1 -3 1 0 1 5 1 1 1 -7 1 -2 1 2 1 5 1 -2 1 2 1 -11 1 12 1 1 1 0 1 -5 1 4 1 0 1 -5 1 4 1 2 1 -8 1 5 1 1 1 -7 1 1 1 3 1 0 1 2 1 2 1 0 1 0 1 0 1 1 1 -8 1 5 1 3 1 -3 1 0 1 -5 1 5 1 3 1 -2 1 -4 1 6 1 -4 1 2 1 1 1 0 1 0 1 -7 1 7 1 -3 1 0 1 0 1 1 1 -5 1 6 1 -1 1 2 1 1 1 -5 1 3 1 -8 1 9 1 0 1 -4 1 3 1 -4 1 0 1 -1 1 2 1 0 1 -3 1 7 1 -2 1 -7 1 9 1 -2 1 -4 1 7 1 -111 1 -28 1 30 1 -9 1 24 1 -50 1 42 1 -7 1 107 1 0 1 2 1 -1 1 1 1 -3 1 -7 1 7 1 3 1 -9 1 7 1 -8 1 3 1 3 1 0 1 3 1 -8 1 7 1 -1 1 0 1 -8 1 10 1 -3 1 -2 1 6 1 -1 1 -5 1 5 1 -5 1 0 1 1 1 -1 1 4 1 -1 1 2 1 -1 1 0 1 -5 1 0 1 3 1 3 1 0 1 -4 1 -4 1 5 1 3 1 -1 1 0 1 -3 1 4 1 -5 1 1 1 1 1 2 1 -8 1 3 1 4 1 -4 1 5 1 0 1 -4 1 -7 1 12 1 -7 1 5 1 2 1 -7 1 6 1 -3 1 -1 1 1 1 -239 1 34 1 -31 1 21 1 -8 1 63 1 -47 1 6 1 -40 1 50 1 -18 1 210 1 -4 1 8 1 -3 1 -2 1 1 1 1 1 -68 1 -10 1 79 1 1 1 -3 1 1 1 2 1 -2 1 3 1 -6 1 5 1 1 1 -5 1 0 1 5 1 -9 1 6 1 -2 1 -4 1 9 1 -6 1 -2 1 2 1 2 1 -2 1 4 1 -2 1 0 1 1 1 -1 1 2 1 -151 1 13 1 -58 1 36 1 -41 1 32 1 0 1 -4 1 -2 1 33 1 -19 1 14 1 -11 1 23 1 133 1 0 1 -1 1 -2 1 5 1 -5 1 -7 1 -273 1 84 1 -53 1 43 1 -62 1 18 1 64 1 -84 1 -9 1 7 1 36 1 44 1 2 1 -83 1 43 1 43 1 -86 1 33 1 8 1 16 1 -55 1 -119 1 148 1 -118 1 -12 1 109 1 -43 1 -69 1 133 1 33 1 38 1 -10 1 -100 1 34 1 31 1 -13 1 -39 1 62 1 -35 1 -4 1 31 1 -15 1 -27 1 -25" fill="none" stroke="#bcbd22" stroke-width="2.4" vector-effect="non-scaling-stroke" stroke-linejoin="round"/>
<path transform="translate(1484.20,0) scale(0.75418,0.1)" d="M0 4275l1 -4 1 -1 1 -4 1 -2 1 0 1 2 1 5 1 -1 1 1 1 -1 1 1 1 3 1 3 1 -2 1 -4 1 2 1 -1 1 -3 1 4 1 1 1 4 1 -4 1 0 1 1 1 5 1 0 1 -4 1 1 1 1 1 -2 1 3 1 0 1 -3 1 3 1 1 1 -1 1 0 1 0 1 -1 1 -1 1 2 1 2 1 -3 1 -3 1 -4 1 3 1 -3 1 -1 1 1 1 0 1 -2 1 -4 1 5 1 -1 1 2 1 1 1 -2 1 -1 1 4 1 1 1 0 1 4 1 -3 1 1 1 -1 1 -1 1 -5 1 1 1 2 1 -4 1 3 1 2 1 5 1 -4 1 0 1 -1 1 0 1 1 1 2 1 2 1 -1 1 -1 1 -5 1 3 1 2 1 3 1 -5 1 4 1 -3 1 -4 1 2 1 -2 1 7 1 1 1 2 1 0 1 -1 1 2 1 -4 1 -2 1 2 1 1 1 3 1 0 1 -7 1 2 1 -2 1 2 1 -3 1 -1 1 1 1 6 1 1 1 -5 1 1 1 -2 1 1 1 6 1 -3 1 -1 1 1 1 0 1 -1 1 1 1 -1 1 0 1 2 1 1 1 0 1 -1 1 2 1 0 1 -3 1 -4 1 0 1 5 1 1 1 -4 1 1 1 2 1 -1 1 -2 1 -1 1 -2 1 3 1 0 1 1 1 -1 1 4 1 1 1 -3 1 0 1 -5 1 -4 1 -2 1 3 1 -2 1 2 1 -1 1 4 1 2 1 -2 1 -5 1 2 1 -6 1 -6 1 7 1 2 1 4 1 1 1 2 1 0 1 -3 1 -2 1 1 1 0 1 1 1 0 1 -1 1 1 1 -1 1 5 1 -3 1 -4 1 0 1 6 1 -4 1 2 1 9 1 -1 1 -3 1 -1 1 -4 1 -1 1 0 1 6 1 3 1 -2 1 -2 1 3 1 1 1 -3 1 3 1 -4 1 1 1 3 1 0 1 -5 1 2 1 -2 1 4 1 1 1 0 1 -3 1 1 1 -3 1 -4 1 0 1 -3 1 3 1 -2 1 0 1 4 1 0 1 2 1 2 1 -1 1 -3 1 1 1 0 1 4 1 -1 1 -4 1 -2 1 -1 1 3 1 3 1 0 1 3 1 1 1 -2 1 2 1 -6 1 4 1 -2 1 3 1 -1 1 2 1 -1 1 0 1 0 1 -2 1 -5 1 2 1 -2 1 0 1 0 1 -5 1 7 1 2 1 5 1 0 1 -1 1 -12 1 0 1 -4 1 -2 1 4 1 0 1 -3 1 1 1 2 1 0 1 6 1 2 1 0 1 -2 1 3 1 1 1 0 1 0 1 -2 1 0 1 -1 1 5 1 2 1 -2 1 2 1 0 1 1 1 -1 1 -1 1 1 1 1 1 -1 1 1 1 -9 1 6 1 0 1 0 1 -4 1 1 1 5 1 -3 1 3 1 -1 1 1 1 -2 1 0 1 2 1 -4 1 2 1 -2 1 1 1 -1 1 -1 1 -2 1 2 1 1 1 -1 1 0 1 2 1 -6 1 2 1 -2 1 0 1 -3 1 8 1 -6 1 1 1 4 1 0 1 -7 1 0 1 5 1 2 1 -4 1 4 1 1 1 1 1 -7 1 2 1 -4 1 4 1 2 1 -2 1 -2 1 6 1 -2 1 -2 1 3 1 -1 1 -1 1 2 1 2 1 1 1 0 1 2 1 0 1 -2 1 2 1 1 1 -2 1 0 1 -7 1 -3 1 5 1 -3 1 0 1 1 1 2 1 0 1 -4 1 -1 1 3 1 2 1 1 1 -1 1 -6 1 5 1 0 1 1 1 3 1 -2 1 -1 1 4 1 2 1 -4 1 -1 1 -2 1 2 1 1 1 -2 1 2 1 3 1 -1 1 -3 1 3 1 -4 1 -2 1 3 1 0 1 0 1 -2 1 -1 1 4 1 4 1 -4 1 -1 1 -1 1 -1 1 -4 1 5 1 -3 1 3 1 -2 1 -3 1 5 1 -1" fill="none" stroke="#1f77b4" stroke-width="2.4" vector-effect="non-scaling-stroke" stroke-linejoin="round"/>
<path transform="translate(1484.20,0) scale(0.75418,0.1)" d="M0 4277l1 1 1 -1 1 2 1 2 1 -2 1 -2 1 1 1 3 1 -5 1 -2 1 0 1 2 1 2 1 -1 1 2 1 -3 1 0 1 -1 1 3 1 1 1 1 1 -1 1 0 1 1 1 -1 1 -1 1 -3 1 1 1 2 1 0 1 -3 1 1 1 1 1 0 1 0 1 -1 1 2 1 0 1 -2 1 -2 1 -1 1 -1 1 2 1 1 1 -1 1 3 1 0 1 3 1 1 1 0 1 0 1 0 1 1 1 -1 1 0 1 1 1 -4 1 1 1 -1 1 3 1 0 1 0 1 0 1 0 1 -1 1 -3 1 0 1 0 1 1 1 -5 1 -2 1 0 1 0 1 2 1 1 1 0 1 1 1 2 1 1 1 -1 1 0 1 4 1 -1 1 -3 1 1 1 0 1 2 1 -2 1 2 1 2 1 0 1 -6 1 2 1 2 1 -1 1 -1 1 -3 1 3 1 3 1 0 1 -2 1 -1 1 -2 1 3 1 1 1 0 1 -2 1 -1 1 1 1 2 1 -3 1 -1 1 -5 1 1 1 -2 1 4 1 1 1 2 1 1 1 1 1 1 1 0 1 0 1 -2 1 0 1 0 1 -3 1 0 1 0 1 0 1 1 1 -1 1 2 1 -2 1 -3 1 -1 1 2 1 4 1 1 1 -1 1 -1 1 0 1 1 1 -3 1 2 1 -2 1 -1 1 3 1 0 1 1 1 2 1 3 1 -2 1 2 1 0 1 -1 1 1 1 0 1 0 1 -2 1 -2 1 3 1 1 1 -1 1 1 1 -2 1 -4 1 2 1 -1 1 -4 1 0 1 -2 1 6 1 -2 1 0 1 4 1 -2 1 -2 1 -2 1 -1 1 1 1 2 1 1 1 1 1 -1 1 1 1 0 1 -2 1 0 1 -4 1 -3 1 4 1 2 1 3 1 2 1 -1 1 2 1 1 1 0 1 -2 1 0 1 1 1 -3 1 -1 1 0 1 -2 1 3 1 -1 1 2 1 -2 1 -2 1 3 1 -3 1 3 1 -2 1 0 1 2 1 2 1 0 1 0 1 1 1 -1 1 2 1 -1 1 0 1 1 1 0 1 0 1 -4 1 1 1 1 1 3 1 0 1 -4 1 -3 1 -1 1 -2 1 0 1 2 1 -1 1 -1 1 1 1 1 1 4 1 -2 1 0 1 3 1 -1 1 -1 1 0 1 -2 1 -1 1 4 1 0 1 -1 1 -2 1 -2 1 4 1 1 1 -2 1 -2 1 -3 1 3 1 1 1 3 1 -2 1 3 1 -3 1 -1 1 -1 1 5 1 1 1 -2 1 3 1 -1 1 0 1 -2 1 -1 1 0 1 1 1 0 1 0 1 -2 1 1 1 -2 1 4 1 -3 1 1 1 -2 1 0 1 -1 1 -3 1 3 1 0 1 1 1 0 1 4 1 0 1 0 1 1 1 0 1 2 1 -3 1 -1 1 -4 1 2 1 3 1 -1 1 3 1 -1 1 1 1 0 1 -1 1 -1 1 -4 1 -1 1 3 1 -1 1 2 1 0 1 2 1 1 1 -3 1 1 1 1 1 1 1 0 1 -4 1 2 1 2 1 -1 1 2 1 0 1 -3 1 0 1 0 1 1 1 2 1 0 1 -1 1 -3 1 -2 1 1 1 2 1 -2 1 4 1 0 1 0 1 1 1 -1 1 1 1 -2 1 -1 1 0 1 2 1 -2 1 2 1 0 1 0 1 0 1 1 1 -1 1 -1 1 -1 1 0 1 -2 1 1 1 -1 1 0 1 2 1 -2 1 3 1 -2 1 2 1 -1 1 -3 1 -1 1 2 1 0 1 1 1 2 1 2 1 -1 1 -2 1 3 1 0 1 -2 1 -1 1 2 1 -3 1 3 1 -2 1 -3 1 4 1 -1 1 -1 1 0 1 1 1 1 1 2 1 -1 1 -2 1 1 1 2 1 0 1 -1 1 -1 1 0 1 0 1 2 1 -4 1 2 1 0 1 2 1 -1 1 0 1 -2 1 -2 1 -2" fill="none" stroke="#ff7f0e" stroke-width="2.4" vector-effect="non-scaling-stroke" stroke-linejoin="round"/>
<path transform="translate(1484.20,0) scale(0.75418,0.1)" d="M0 4267l1 -1 1 -1 1 2 1 -4 1 -1 1 -3 1 3 1 -2 1 5 1 -1 1 11 1 3 1 -5 1 1 1 -1 1 5 1 -7 1 -3 1 0 1 -1 1 -1 1 -5 1 1 1 7 1 1 1 -5 1 -2 1 3 1 -2 1 1 1 -2 1 7 1 3 1 -3 1 1 1 -2 1 -7 1 2 1 0 1 3 1 3 1 0 1 5 1 7 1 -7 1 -1 1 -5 1 -1 1 0 1 -2 1 -3 1 6 1 -5 1 5 1 -1 1 -9 1 1 1 -5 1 4 1 0 1 1 1 0 1 5 1 4 1 -1 1 6 1 2 1 -3 1 1 1 3 1 2 1 -2 1 0 1 -2 1 -1 1 -8 1 3 1 7 1 -2 1 -1 1 -1 1 5 1 -5 1 -1 1 0 1 6 1 -4 1 0 1 -6 1 2 1 5 1 -2 1 3 1 -3 1 4 1 -1 1 0 1 -1 1 1 1 2 1 -1 1 1 1 -2 1 0 1 7 1 -2 1 -7 1 -2 1 -3 1 -1 1 2 1 5 1 -4 1 -4 1 -2 1 -1 1 0 1 1 1 0 1 1 1 -1 1 5 1 2 1 -2 1 1 1 9 1 -2 1 3 1 -6 1 -4 1 -3 1 3 1 4 1 0 1 -1 1 2 1 -2 1 -3 1 -2 1 4 1 7 1 -2 1 1 1 -3 1 -7 1 -6 1 0 1 -3 1 -4 1 2 1 1 1 -1 1 2 1 4 1 4 1 0 1 3 1 -4 1 2 1 -5 1 -4 1 7 1 -4 1 3 1 -5 1 0 1 2 1 -2 1 4 1 0 1 -1 1 2 1 -1 1 4 1 -2 1 5 1 -3 1 -1 1 -3 1 3 1 -11 1 3 1 1 1 4 1 -4 1 3 1 -3 1 5 1 0 1 2 1 -4 1 2 1 4 1 -2 1 5 1 3 1 -4 1 6 1 -4 1 0 1 3 1 -3 1 -3 1 2 1 0 1 -4 1 -3 1 1 1 3 1 3 1 2 1 -4 1 -2 1 -2 1 -4 1 2 1 2 1 2 1 -7 1 8 1 -1 1 -2 1 0 1 -8 1 -3 1 0 1 5 1 0 1 3 1 0 1 0 1 3 1 -2 1 -6 1 -2 1 2 1 8 1 -3 1 -4 1 3 1 2 1 -2 1 4 1 -2 1 4 1 3 1 0 1 4 1 -1 1 -3 1 4 1 -5 1 2 1 -3 1 -1 1 1 1 2 1 5 1 1 1 1 1 -8 1 -4 1 5 1 -4 1 0 1 1 1 -2 1 -3 1 3 1 1 1 0 1 3 1 -1 1 0 1 2 1 2 1 -2 1 -4 1 -1 1 3 1 -3 1 0 1 -2 1 -4 1 5 1 0 1 3 1 3 1 -8 1 -3 1 8 1 -2 1 2 1 -4 1 0 1 1 1 0 1 -1 1 0 1 2 1 0 1 -1 1 4 1 0 1 0 1 1 1 -3 1 5 1 0 1 2 1 -3 1 1 1 -1 1 -2 1 5 1 -3 1 2 1 0 1 -1 1 -4 1 -3 1 -6 1 1 1 3 1 2 1 -2 1 -5 1 0 1 4 1 0 1 0 1 1 1 3 1 9 1 1 1 -6 1 -1 1 8 1 -2 1 5 1 -10 1 -1 1 4 1 -4 1 2 1 -2 1 -1 1 4 1 -3 1 4 1 -6 1 0 1 4 1 6 1 -8 1 -6 1 5 1 -6 1 0 1 2 1 1 1 1 1 -5 1 1 1 7 1 -8 1 -2 1 5 1 2 1 4 1 -1 1 -2 1 -1 1 2 1 3 1 -4 1 0 1 -8 1 5 1 -3 1 1 1 4 1 -5 1 1 1 4 1 1 1 -4 1 5 1 -5 1 -2 1 2 1 -4 1 -5 1 0 1 2 1 -5 1 -2 1 6 1 3 1 2 1 3 1 6 1 -4 1 0 1 0 1 -5 1 4 1 0 1 0 1 2 1 1 1 -3 1 0 1 -4 1 4 1 0 1 5 1 0 1 3" fill="none" stroke="#2ca02c" stroke-width="2.4" vector-effect="non-scaling-stroke" stroke-linejoin="round"/>
<path transform="translate(1484.20,0) scale(0.75418,0.1)" d="M0 4206l1 -15 1 -6 1 -31 1 -14 1 5 1 31 1 37 1 -1 1 5 1 10 1 0 1 27 1 -43 1 21 1 6 1 -20 1 29 1 -30 1 -22 1 9 1 22 1 4 1 30 1 -43 1 -4 1 13 1 12 1 -20 1 -34 1 32 1 9 1 30 1 -28 1 -9 1 -49 1 13 1 16 1 16 1 -19 1 36 1 -22 1 -6 1 11 1 16 1 -28 1 -36 1 20 1 -5 1 -28 1 28 1 12 1 28 1 -1 1 -2 1 5 1 10 1 24 1 13 1 1 1 -31 1 1 1 7 1 -25 1 -16 1 15 1 8 1 -20 1 -9 1 19 1 -9 1 -1 1 -24 1 24 1 -19 1 -5 1 26 1 -23 1 -13 1 35 1 -42 1 34 1 19 1 2 1 -20 1 -12 1 6 1 -25 1 1 1 -19 1 -43 1 23 1 72 1 9 1 19 1 -10 1 -7 1 21 1 14 1 -8 1 -7 1 44 1 -41 1 -11 1 -6 1 -11 1 19 1 -7 1 -26 1 -20 1 -2 1 14 1 21 1 -29 1 -4 1 16 1 48 1 7 1 27 1 -45 1 -12 1 12 1 -2 1 -60 1 -15 1 42 1 5 1 27 1 29 1 -18 1 -60 1 -25 1 14 1 18 1 1 1 -16 1 40 1 37 1 -51 1 -4 1 -30 1 7 1 -21 1 29 1 -3 1 -24 1 -6 1 27 1 -9 1 25 1 35 1 -16 1 -30 1 -10 1 37 1 -18 1 -9 1 18 1 55 1 -34 1 -22 1 -7 1 41 1 25 1 -35 1 -20 1 -9 1 10 1 -7 1 15 1 6 1 16 1 -12 1 5 1 -25 1 -13 1 23 1 -39 1 34 1 -9 1 -19 1 -18 1 60 1 -24 1 -22 1 -21 1 63 1 12 1 -3 1 5 1 -34 1 18 1 -28 1 -5 1 39 1 18 1 1 1 -10 1 -27 1 6 1 -19 1 39 1 57 1 -13 1 -27 1 -3 1 12 1 -22 1 -47 1 9 1 20 1 16 1 -47 1 8 1 -8 1 -18 1 -11 1 35 1 -14 1 -8 1 1 1 -10 1 27 1 8 1 16 1 -16 1 18 1 -9 1 25 1 -2 1 3 1 -3 1 -7 1 1 1 2 1 40 1 -38 1 9 1 -1 1 11 1 -30 1 18 1 -17 1 -26 1 -28 1 -11 1 4 1 41 1 -22 1 -15 1 -3 1 -1 1 15 1 22 1 -17 1 -17 1 38 1 -15 1 3 1 -11 1 5 1 -14 1 -8 1 -3 1 46 1 -14 1 6 1 30 1 -18 1 31 1 -25 1 -35 1 21 1 -15 1 -1 1 -5 1 39 1 -13 1 0 1 -13 1 7 1 -19 1 5 1 -6 1 -19 1 12 1 -9 1 10 1 1 1 23 1 -11 1 -18 1 15 1 -7 1 2 1 33 1 -6 1 -25 1 20 1 42 1 -12 1 9 1 -47 1 7 1 5 1 16 1 -7 1 12 1 16 1 -6 1 11 1 -36 1 25 1 -4 1 10 1 21 1 -48 1 44 1 -43 1 29 1 -10 1 -53 1 54 1 23 1 -40 1 -5 1 12 1 -2 1 17 1 -9 1 -36 1 13 1 -1 1 -23 1 -33 1 31 1 3 1 20 1 16 1 6 1 10 1 29 1 27 1 -7 1 -23 1 -39 1 8 1 -1 1 -19 1 -14 1 7 1 4 1 -38 1 19 1 17 1 36 1 -17 1 2 1 -43 1 15 1 -13 1 -11 1 -24 1 45 1 -27 1 12 1 11 1 13 1 10 1 7 1 46 1 -26 1 -9 1 14 1 -8 1 -55 1 0 1 17 1 -32 1 29 1 8 1 13 1 3 1 -17 1 -10 1 21 1 2 1 -3 1 8 1 -2 1 13 1 9 1 -9 1 15 1 -18 1 -1 1 14 1 4 1 0 1 -6 1 -11 1 0 1 13 1 -38 1 -17 1 5 1 -14 1 3 1 14 1 3 1 -51 1 -2 1 -3 1 28 1 0 1 -35 1 13 1 -4 1 -7 1 8" fill="none" stroke="#d62728" stroke-width="2.4" vector-effect="non-scaling-stroke" stroke-linejoin="round"/>
<path transform="translate(1484.20,0) scale(0.75418,0.1)" d="M0 4063l1 -12 1 -21 1 36 1 -123 1 19 1 22 1 -43 1 56 1 17 1 48 1 -2 1 17 1 -30 1 9 1 28 1 6 1 -4 1 16 1 -56 1 -27 1 4 1 64 1 -31 1 58 1 -24 1 -11 1 21 1 26 1 12 1 -116 1 22 1 14 1 -44 1 -7 1 -33 1 79 1 51 1 -164 1 35 1 37 1 6 1 -34 1 75 1 -13 1 5 1 -29 1 3 1 33 1 40 1 99 1 -84 1 51 1 -11 1 -103 1 22 1 -32 1 15 1 -31 1 8 1 31 1 -63 1 29 1 69 1 3 1 -36 1 48 1 -51 1 -36 1 -87 1 63 1 -14 1 96 1 11 1 -15 1 -25 1 4 1 4 1 26 1 12 1 -26 1 -30 1 -25 1 -34 1 -34 1 112 1 22 1 -1 1 22 1 -61 1 -31 1 17 1 2 1 -50 1 37 1 25 1 -38 1 -7 1 -48 1 13 1 -7 1 52 1 56 1 -2 1 118 1 -54 1 -64 1 -5 1 9 1 -52 1 14 1 -37 1 -81 1 9 1 -4 1 18 1 23 1 16 1 20 1 -31 1 100 1 10 1 -34 1 43 1 -2 1 25 1 -34 1 -43 1 -57 1 2 1 56 1 -3 1 -17 1 -50 1 124 1 -24 1 82 1 -56 1 -28 1 -22 1 -34 1 -1 1 45 1 -12 1 -47 1 25 1 12 1 64 1 -61 1 32 1 33 1 11 1 26 1 -9 1 -75 1 -32 1 -51 1 -40 1 79 1 -5 1 -50 1 -72 1 116 1 84 1 -26 1 18 1 43 1 -32 1 30 1 88 1 -37 1 -34 1 -47 1 -48 1 0 1 19 1 33 1 68 1 -6 1 -69 1 -33 1 -88 1 37 1 100 1 -46 1 -43 1 69 1 70 1 -30 1 -47 1 50 1 0 1 19 1 33 1 29 1 -44 1 -9 1 7 1 92 1 -130 1 28 1 -16 1 34 1 -45 1 54 1 -34 1 -12 1 -58 1 49 1 15 1 -8 1 -110 1 81 1 -21 1 28 1 -24 1 -32 1 -1 1 -5 1 -5 1 36 1 9 1 71 1 -8 1 13 1 -13 1 -55 1 -23 1 -20 1 -43 1 126 1 -36 1 -6 1 -1 1 54 1 -45 1 -59 1 -36 1 23 1 -15 1 -24 1 -58 1 -14 1 38 1 30 1 18 1 10 1 40 1 -29 1 46 1 37 1 -25 1 24 1 2 1 84 1 -69 1 -13 1 -4 1 -30 1 -10 1 34 1 -97 1 41 1 -35 1 -64 1 65 1 14 1 51 1 -47 1 28 1 55 1 -69 1 -32 1 58 1 -51 1 8 1 -108 1 -32 1 79 1 43 1 59 1 -3 1 1 1 -30 1 8 1 76 1 24 1 -82 1 -48 1 25 1 17 1 14 1 1 1 77 1 -60 1 27 1 -18 1 108 1 -46 1 -84 1 102 1 -97 1 -22 1 39 1 65 1 -76 1 -14 1 -25 1 21 1 38 1 -47 1 48 1 -49 1 81 1 24 1 41 1 -95 1 70 1 23 1 -65 1 -27 1 -108 1 -62 1 12 1 4 1 117 1 41 1 4 1 -3 1 51 1 17 1 8 1 -80 1 -29 1 14 1 7 1 -20 1 30 1 2 1 67 1 -60 1 -56 1 -13 1 -14 1 -6 1 -79 1 26 1 87 1 50 1 -43 1 -47 1 -20 1 -18 1 17 1 87 1 28 1 69 1 -14 1 34 1 -42 1 -18 1 68 1 -73 1 -53 1 59 1 -27 1 -46 1 13 1 -42 1 0 1 -40 1 11 1 24 1 -13 1 -22 1 8 1 38 1 43 1 11 1 18 1 -23 1 -15 1 1 1 -3 1 -10 1 -70 1 -34 1 56 1 -4 1 30 1 11 1 15 1 28 1 54 1 88 1 -58 1 -85 1 33 1 -40 1 11 1 -21 1 33 1 -2 1 -7 1 99 1 -48 1 -18 1 94 1 -75 1 -23 1 -27 1 -27 1 16 1 42 1 1 1 0 1 -120 1 -69 1 57 1 37" fill="none" stroke="#9467bd" stroke-width="2.4" vector-effect="non-scaling-stroke" stroke-linejoin="round"/>
<path transform="translate(1484.20,0) scale(0.75418,0.1)" d="M0 3809l1 -36 1 56 1 64 1 -146 1 -55 1 131 1 117 1 28 1 -48 1 -59 1 13 1 95 1 -48 1 -63 1 -9 1 26 1 -51 1 3 1 73 1 -25 1 74 1 -93 1 -40 1 67 1 -28 1 -92 1 156 1 -13 1 -129 1 113 1 -5 1 81 1 -28 1 134 1 53 1 -32 1 -70 1 -70 1 -58 1 -94 1 -43 1 -36 1 87 1 13 1 -215 1 -106 1 15 1 17 1 -3 1 91 1 -88 1 88 1 49 1 -114 1 199 1 -11 1 133 1 31 1 -13 1 7 1 -30 1 40 1 -14 1 63 1 -5 1 63 1 -89 1 63 1 -85 1 8 1 -1 1 -101 1 -6 1 130 1 -60 1 184 1 -72 1 -11 1 60 1 -54 1 -16 1 -170 1 34 1 -135 1 -67 1 83 1 79 1 -85 1 34 1 6 1 33 1 91 1 13 1 51 1 79 1 -24 1 -160 1 -113 1 27 1 7 1 -20 1 -74 1 14 1 65 1 45 1 -70 1 -154 1 100 1 176 1 -59 1 15 1 -3 1 -78 1 20 1 110 1 130 1 -30 1 53 1 -58 1 61 1 -15 1 65 1 -25 1 -14 1 -82 1 -116 1 15 1 58 1 -148 1 -6 1 -22 1 -17 1 -71 1 -25 1 4 1 -4 1 109 1 68 1 18 1 0 1 6 1 -16 1 7 1 37 1 111 1 -83 1 -47 1 63 1 -44 1 -28 1 0 1 132 1 59 1 4 1 -148 1 54 1 7 1 57 1 3 1 -55 1 123 1 148 1 -125 1 -54 1 1 1 -107 1 -83 1 146 1 -19 1 -102 1 42 1 9 1 -81 1 22 1 80 1 28 1 65 1 -78 1 95 1 -112 1 94 1 -43 1 70 1 -24 1 -111 1 -93 1 -85 1 29 1 10 1 -1 1 -28 1 49 1 -66 1 3 1 -55 1 4 1 -11 1 88 1 47 1 97 1 7 1 -3 1 -72 1 89 1 -241 1 44 1 -61 1 -33 1 220 1 16 1 -107 1 184 1 -75 1 56 1 14 1 -37 1 115 1 -53 1 17 1 21 1 -84 1 -259 1 17 1 -2 1 41 1 77 1 -7 1 -92 1 20 1 -33 1 51 1 -149 1 171 1 -21 1 -13 1 9 1 102 1 81 1 1 1 -22 1 73 1 46 1 -75 1 -91 1 38 1 40 1 33 1 -196 1 -15 1 27 1 -53 1 -130 1 -24 1 160 1 33 1 47 1 33 1 85 1 10 1 55 1 -54 1 -23 1 83 1 85 1 -18 1 -93 1 -61 1 -9 1 217 1 -25 1 -3 1 -30 1 38 1 -25 1 -4 1 -236 1 -45 1 27 1 11 1 14 1 -11 1 32 1 -1 1 -73 1 -43 1 2 1 -69 1 23 1 101 1 131 1 30 1 -21 1 -47 1 -84 1 48 1 54 1 -67 1 -80 1 52 1 -16 1 -84 1 7 1 32 1 164 1 -107 1 -36 1 7 1 47 1 90 1 -9 1 -6 1 -88 1 90 1 -112 1 9 1 -72 1 93 1 -19 1 -74 1 18 1 123 1 17 1 -46 1 98 1 79 1 -54 1 39 1 -82 1 65 1 95 1 2 1 -156 1 42 1 -27 1 -38 1 52 1 -99 1 -15 1 -30 1 123 1 101 1 148 1 -62 1 -45 1 -101 1 -132 1 18 1 15 1 -38 1 -104 1 81 1 -37 1 32 1 30 1 -55 1 68 1 71 1 -63 1 -2 1 15 1 2 1 -41 1 27 1 -57 1 -20 1 -89 1 -54 1 -15 1 62 1 26 1 69 1 -183 1 69 1 0 1 -55 1 144 1 76 1 29 1 64 1 68 1 2 1 -123 1 -57 1 3 1 3 1 118 1 -70 1 -36 1 76 1 -30 1 5 1 26 1 52 1 20 1 33 1 -71 1 -48 1 -35 1 8 1 21 1 -152 1 151 1 -94 1 -14 1 8 1 46 1 16 1 79 1 75 1 -29 1 84 1 -107 1 -102 1 234 1 52 1 -84 1 -62 1 -42 1 -53" fill="none" stroke="#8c564b" stroke-width="2.4" vector-effect="non-scaling-stroke" stroke-linejoin="round"/>
<path transform="translate(1484.20,0) scale(0.75418,0.1)" d="M0 3657l1 -14 1 -162 1 174 1 -50 1 12 1 17 1 34 1 17 1 -99 1 -30 1 109 1 -135 1 142 1 -64 1 -4 1 -86 1 11 1 -49 1 55 1 -45 1 22 1 -133 1 143 1 -59 1 21 1 37 1 85 1 -25 1 139 1 85 1 -113 1 110 1 -171 1 25 1 -26 1 -3 1 -30 1 36 1 32 1 2 1 -95 1 -70 1 -59 1 35 1 69 1 167 1 -77 1 -68 1 56 1 -61 1 -81 1 44 1 -49 1 28 1 185 1 21 1 9 1 -70 1 66 1 10 1 49 1 -42 1 -37 1 -99 1 -51 1 16 1 6 1 14 1 9 1 -111 1 255 1 -18 1 -52 1 -101 1 113 1 -41 1 -70 1 60 1 159 1 -19 1 55 1 -113 1 46 1 -184 1 11 1 84 1 32 1 69 1 -74 1 -139 1 45 1 -62 1 110 1 -28 1 -181 1 180 1 -93 1 -58 1 209 1 105 1 32 1 -136 1 22 1 -6 1 -76 1 -2 1 -11 1 38 1 -93 1 93 1 -138 1 72 1 86 1 -61 1 -24 1 182 1 -58 1 90 1 17 1 -120 1 54 1 -63 1 18 1 -176 1 47 1 119 1 74 1 34 1 -62 1 -30 1 -100 1 -1 1 2 1 -14 1 27 1 -16 1 -51 1 -34 1 86 1 157 1 27 1 -71 1 179 1 -45 1 -105 1 12 1 54 1 -198 1 -103 1 65 1 -85 1 -55 1 161 1 -203 1 159 1 52 1 102 1 -27 1 96 1 -43 1 -117 1 -7 1 33 1 -124 1 115 1 -75 1 54 1 -6 1 11 1 -1 1 14 1 69 1 29 1 -62 1 2 1 88 1 22 1 13 1 -42 1 -48 1 -25 1 44 1 -25 1 96 1 188 1 -104 1 60 1 -431 1 -115 1 -7 1 -79 1 -12 1 -53 1 57 1 65 1 36 1 94 1 135 1 -140 1 33 1 22 1 47 1 14 1 46 1 75 1 -185 1 191 1 -45 1 -45 1 -7 1 87 1 -5 1 19 1 62 1 -41 1 1 1 13 1 -91 1 80 1 -68 1 40 1 -58 1 -9 1 -20 1 85 1 41 1 35 1 -61 1 -88 1 -85 1 71 1 0 1 139 1 142 1 -15 1 -26 1 54 1 55 1 -151 1 8 1 76 1 -274 1 -9 1 34 1 -58 1 78 1 -138 1 161 1 89 1 -35 1 28 1 -158 1 139 1 22 1 -64 1 -69 1 -82 1 -1 1 -152 1 116 1 25 1 -39 1 70 1 45 1 43 1 45 1 69 1 -1 1 81 1 -103 1 92 1 -236 1 -128 1 -37 1 81 1 86 1 -90 1 24 1 -14 1 95 1 -82 1 97 1 -9 1 143 1 9 1 -88 1 19 1 12 1 -92 1 8 1 -101 1 229 1 -89 1 -54 1 130 1 67 1 -132 1 70 1 12 1 -93 1 14 1 -56 1 71 1 -47 1 -95 1 -2 1 203 1 -95 1 -15 1 67 1 -141 1 160 1 -186 1 79 1 -127 1 47 1 135 1 -24 1 -36 1 -41 1 -70 1 112 1 -37 1 -45 1 52 1 88 1 61 1 -97 1 -70 1 86 1 99 1 -143 1 130 1 -51 1 44 1 106 1 -81 1 -29 1 -151 1 -169 1 86 1 -40 1 -29 1 108 1 100 1 -134 1 71 1 19 1 35 1 11 1 45 1 -79 1 -95 1 69 1 128 1 -31 1 105 1 1 1 -151 1 -189 1 31 1 137 1 -58 1 207 1 13 1 -171 1 -52 1 138 1 115 1 -127 1 -12 1 36 1 -57 1 42 1 137 1 -129 1 31 1 50 1 60 1 -88 1 26 1 -98 1 7 1 -105 1 48 1 55 1 143 1 25 1 -131 1 -276 1 163 1 93 1 -50 1 -45 1 64 1 -18 1 124 1 -23 1 -113 1 -134 1 55 1 45 1 -28 1 -71 1 2 1 102 1 -22 1 -64 1 93 1 113 1 -73 1 -38 1 -74 1 21 1 74 1 33 1 70 1 40 1 -5" fill="none" stroke="#e377c2" stroke-width="2.4" vector-effect="non-scaling-stroke" stroke-linejoin="round"/>
<path transform="translate(1484.20,0) scale(0.75418,0.1)" d="M0 4012l1 -90 1 -154 1 96 1 -31 1 247 1 -9 1 110 1 -213 1 -231 1 53 1 230 1 12 1 -8 1 -24 1 -109 1 -52 1 355 1 -216 1 70 1 48 1 -182 1 70 1 160 1 93 1 -92 1 -147 1 -153 1 86 1 85 1 -173 1 118 1 -134 1 50 1 30 1 69 1 -15 1 72 1 67 1 -18 1 45 1 -75 1 -23 1 24 1 8 1 8 1 -207 1 62 1 101 1 29 1 -85 1 41 1 19 1 23 1 -31 1 -43 1 -32 1 204 1 63 1 69 1 -107 1 -181 1 -130 1 46 1 -81 1 79 1 56 1 187 1 32 1 -1 1 -163 1 -178 1 120 1 -17 1 -1 1 113 1 170 1 -1 1 57 1 -60 1 -65 1 -35 1 -23 1 -83 1 101 1 -134 1 193 1 -68 1 -77 1 80 1 135 1 -158 1 45 1 -128 1 -77 1 37 1 21 1 -93 1 10 1 146 1 -30 1 -59 1 2 1 2 1 38 1 19 1 100 1 113 1 -205 1 64 1 -53 1 153 1 -85 1 53 1 -373 1 200 1 116 1 -134 1 -102 1 285 1 -80 1 -115 1 155 1 -110 1 63 1 88 1 -15 1 2 1 101 1 -326 1 89 1 86 1 -119 1 26 1 -134 1 90 1 -12 1 21 1 5 1 42 1 15 1 -181 1 142 1 72 1 21 1 -84 1 -33 1 -77 1 196 1 -52 1 15 1 21 1 -35 1 206 1 -114 1 -56 1 134 1 -61 1 -212 1 78 1 -57 1 52 1 94 1 69 1 -14 1 -189 1 -64 1 124 1 -106 1 55 1 94 1 -63 1 105 1 133 1 -223 1 196 1 -133 1 139 1 -74 1 -28 1 9 1 158 1 -71 1 -72 1 49 1 -59 1 -149 1 92 1 -48 1 120 1 -90 1 -81 1 -245 1 18 1 62 1 -67 1 215 1 -89 1 118 1 79 1 -134 1 10 1 -110 1 228 1 -44 1 57 1 8 1 178 1 -193 1 -40 1 102 1 100 1 10 1 -234 1 17 1 35 1 -67 1 11 1 -17 1 -65 1 5 1 -55 1 185 1 -20 1 31 1 -29 1 -3 1 62 1 6 1 -132 1 78 1 120 1 -122 1 -113 1 62 1 -4 1 99 1 -7 1 -142 1 -54 1 36 1 66 1 183 1 -94 1 -72 1 -107 1 -166 1 72 1 -17 1 207 1 -118 1 -36 1 -75 1 28 1 40 1 -84 1 174 1 -31 1 -66 1 157 1 133 1 -86 1 -19 1 -63 1 -42 1 123 1 -42 1 -108 1 90 1 47 1 117 1 -133 1 -200 1 227 1 -86 1 -66 1 112 1 49 1 100 1 33 1 -79 1 -100 1 -4 1 -79 1 19 1 156 1 -180 1 -81 1 149 1 -170 1 34 1 55 1 -153 1 369 1 131 1 -164 1 1 1 74 1 -212 1 -22 1 171 1 40 1 -134 1 -180 1 288 1 -62 1 29 1 161 1 -69 1 109 1 -45 1 -254 1 -38 1 -51 1 -12 1 19 1 -54 1 191 1 32 1 -108 1 100 1 30 1 -154 1 -128 1 147 1 111 1 -80 1 -15 1 90 1 -79 1 -44 1 24 1 -286 1 -8 1 53 1 10 1 -197 1 75 1 236 1 35 1 46 1 96 1 -29 1 -16 1 22 1 58 1 -102 1 192 1 -137 1 2 1 -27 1 262 1 -266 1 196 1 28 1 -141 1 45 1 7 1 183 1 -57 1 -111 1 -116 1 31 1 -34 1 -44 1 90 1 63 1 -247 1 146 1 -131 1 43 1 -121 1 148 1 -32 1 1 1 59 1 -21 1 101 1 -12 1 27 1 -106 1 26 1 152 1 -15 1 -38 1 62 1 -198 1 -22 1 -60 1 133 1 42 1 -122 1 182 1 -78 1 -19 1 51 1 -31 1 103 1 -73 1 106 1 72 1 -239 1 76 1 196 1 -207 1 58 1 166 1 -8 1 -206 1 -64 1 -183 1 83 1 -25 1 153 1 -30 1 -162 1 9 1 42 1 251 1 -16" fill="none" stroke="#7f7f7f" stroke-width="2.4" vector-effect="non-scaling-stroke" stroke-linejoin="round"/>
<path transform="translate(1484.20,0) scale(0.75418,0.1)" d="M0 4274l1 -154 1 -57 1 18 1 10 1 178 1 6 1 6 1 -17 1 16 1 -3 1 1 1 -3 1 1 1 -7 1 11 1 -12 1 1 1 12 1 -2 1 -2 1 1 1 -4 1 -3 1 10 1 -10 1 1 1 -1 1 2 1 5 1 -2 1 -1 1 -6 1 7 1 -5 1 6 1 -2 1 0 1 -3 1 -1 1 7 1 3 1 -2 1 2 1 1 1 0 1 -1 1 -3 1 0 1 4 1 -2 1 -1 1 -3 1 3 1 -8 1 11 1 -2 1 -3 1 3 1 1 1 1 1 -4 1 -3 1 6 1 -27 1 -146 1 -95 1 -64 1 -9 1 69 1 88 1 171 1 7 1 3 1 0 1 0 1 4 1 -11 1 7 1 2 1 -11 1 6 1 0 1 3 1 -3 1 1 1 1 1 2 1 -2 1 4 1 -3 1 1 1 -8 1 5 1 -11 1 -38 1 -78 1 -152 1 73 1 39 1 165 1 7 1 -1 1 -9 1 8 1 -1 1 -8 1 9 1 3 1 -6 1 4 1 -5 1 -3 1 10 1 -198 1 -71 1 41 1 198 1 20 1 -6 1 2 1 4 1 -194 1 -6 1 169 1 35 1 0 1 4 1 -4 1 5 1 -3 1 -9 1 5 1 4 1 -1 1 4 1 0 1 0 1 -3 1 -1 1 4 1 -2 1 3 1 -5 1 -3 1 -3 1 8 1 0 1 -2 1 -3 1 3 1 3 1 -3 1 -145 1 -124 1 -81 1 33 1 128 1 182 1 11 1 -8 1 2 1 -2 1 1 1 2 1 1 1 4 1 -11 1 -4 1 -269 1 8 1 265 1 11 1 -3 1 4 1 -3 1 1 1 -7 1 -1 1 6 1 2 1 -4 1 5 1 -6 1 -7 1 4 1 -2 1 7 1 2 1 2 1 -1 1 -5 1 -154 1 -94 1 37 1 3 1 58 1 155 1 1 1 -2 1 -11 1 -168 1 -2 1 183 1 -4 1 -4 1 -9 1 -66 1 -47 1 -50 1 31 1 71 1 68 1 7 1 3 1 -9 1 8 1 -9 1 -313 1 316 1 -5 1 12 1 0 1 -3 1 2 1 -7 1 8 1 -1 1 -8 1 -7 1 10 1 1 1 1 1 1 1 0 1 3 1 -7 1 0 1 -2 1 -2 1 4 1 -2 1 0 1 0 1 8 1 -6 1 1 1 5 1 -3 1 2 1 0 1 -11 1 13 1 -6 1 4 1 -7 1 -215 1 -56 1 68 1 205 1 -7 1 12 1 -4 1 2 1 3 1 -6 1 0 1 7 1 0 1 -4 1 -2 1 -6 1 5 1 1 1 3 1 -8 1 10 1 -11 1 5 1 3 1 3 1 -11 1 6 1 7 1 -2 1 0 1 -188 1 -55 1 -47 1 103 1 164 1 19 1 0 1 5 1 -5 1 -1 1 -2 1 4 1 0 1 4 1 -3 1 -1 1 4 1 -5 1 6 1 -4 1 -3 1 -3 1 7 1 0 1 3 1 -7 1 5 1 -4 1 -6 1 11 1 -6 1 3 1 -6 1 -4 1 6 1 5 1 -6 1 6 1 0 1 -1 1 -138 1 3 1 134 1 -3 1 5 1 1 1 -3 1 4 1 -2 1 -1 1 -1 1 3 1 -5 1 3 1 -259 1 24 1 217 1 11 1 7 1 -10 1 11 1 -2 1 -4 1 2 1 -6 1 -257 1 -10 1 227 1 48 1 -6 1 11 1 -9 1 -180 1 -81 1 -3 1 55 1 207 1 -1 1 10 1 -2 1 -4 1 4 1 -4 1 6 1 -2 1 -2 1 -2 1 7 1 -1 1 0 1 1 1 -7 1 -216 1 212 1 6 1 -3 1 2 1 -8 1 10 1 -4 1 8 1 1 1 -2 1 1 1 -3 1 1 1 1 1 -2 1 3 1 -6 1 4 1 -2 1 0 1 3 1 1 1 -8 1 4 1 -4 1 0 1 -263 1 19 1 248 1 -1 1 -2 1 1 1 -1 1 3 1 2 1 2 1 -15 1 5 1 5 1 -3 1 6" fill="none" stroke="#bcbd22" stroke-width="2.4" vector-effect="non-scaling-stroke" stroke-linejoin="round"/>
<rect x="1466.70" y="69.20" width="348.90" height="169.50" fill="none" stroke="#000" stroke-width="1.1"/>
<line x1="1461.10" y1="238.70" x2="1466.70" y2="238.70" stroke="#000" stroke-width="1.1"/>
<text x="1441.29" y="247.59" font-size="23.70" fill="#000">0</text>
<line x1="1461.10" y1="153.95" x2="1466.70" y2="153.95" stroke="#000" stroke-width="1.1"/>
<text x="1426.24" y="162.84" font-size="23.70" fill="#000">50</text>
<line x1="1461.10" y1="69.20" x2="1466.70" y2="69.20" stroke="#000" stroke-width="1.1"/>
<text x="1411.07" y="78.09" font-size="23.70" fill="#000">100</text>
<rect x="1468.40" y="259.40" width="347.40" height="168.80" fill="none" stroke="#000" stroke-width="1.1"/>
<line x1="1462.80" y1="428.20" x2="1468.40" y2="428.20" stroke="#000" stroke-width="1.1"/>
<text x="1442.99" y="437.09" font-size="23.70" fill="#000">0</text>
<line x1="1462.80" y1="343.80" x2="1468.40" y2="343.80" stroke="#000" stroke-width="1.1"/>
<text x="1427.94" y="352.69" font-size="23.70" fill="#000">50</text>
<line x1="1462.80" y1="259.40" x2="1468.40" y2="259.40" stroke="#000" stroke-width="1.1"/>
<text x="1412.77" y="268.29" font-size="23.70" fill="#000">100</text>
<line x1="1482.40" y1="238.70" x2="1482.40" y2="244.30" stroke="#000" stroke-width="1.1"/>
<line x1="1641.15" y1="238.70" x2="1641.15" y2="244.30" stroke="#000" stroke-width="1.1"/>
<line x1="1799.90" y1="238.70" x2="1799.90" y2="244.30" stroke="#000" stroke-width="1.1"/>
<line x1="1484.20" y1="428.20" x2="1484.20" y2="433.80" stroke="#000" stroke-width="1.1"/>
<text x="1469.03" y="458.24" font-size="23.70" fill="#000">20</text>
<line x1="1642.20" y1="428.20" x2="1642.20" y2="433.80" stroke="#000" stroke-width="1.1"/>
<text x="1627.03" y="458.24" font-size="23.70" fill="#000">30</text>
<line x1="1800.20" y1="428.20" x2="1800.20" y2="433.80" stroke="#000" stroke-width="1.1"/>
<text x="1785.33" y="458.24" font-size="23.70" fill="#000">40</text>
<text x="1482.96" y="93.00" font-size="25.40" fill="#000">BTA 320</text>
<text x="1485.75" y="288.54" font-size="25.40" fill="#000">ε 45</text>
<text x="1590.50" y="489.70" font-size="28.3">t<tspan font-style="italic" font-size="19.81" dy="5.66">CG</tspan><tspan dy="-5.66"> [</tspan><tspan font-style="italic">μ</tspan>s]</text>
<text x="0" y="0" font-size="28.6" transform="translate(1409.34,335.18) rotate(-90)">Population %</text>
<text x="1367.00" y="29.00" font-size="37.50" font-weight="bold" fill="#000">c</text>
<text x="1896.43" y="87.80" font-size="26.30" fill="#000">#M:</text>
<rect x="1855.5" y="105.6" width="45" height="8.2" fill="#1f77b4"/>
<text x="1988.16" y="115.89" font-size="18.60" fill="#000">1</text>
<rect x="1855.5" y="139.4" width="45" height="8.2" fill="#ff7f0e"/>
<text x="1988.35" y="149.74" font-size="18.60" fill="#000">2</text>
<rect x="1855.5" y="173.1" width="45" height="8.2" fill="#2ca02c"/>
<text x="1969.00" y="183.36" font-size="18.60" fill="#000">3-4</text>
<rect x="1855.5" y="206.9" width="45" height="8.2" fill="#d62728"/>
<text x="1969.19" y="217.12" font-size="18.60" fill="#000">5-8</text>
<rect x="1855.5" y="240.6" width="45" height="8.2" fill="#9467bd"/>
<text x="1957.19" y="250.88" font-size="18.60" fill="#000">9-16</text>
<rect x="1855.5" y="274.4" width="45" height="8.2" fill="#8c564b"/>
<text x="1946.13" y="284.64" font-size="18.60" fill="#000">17-32</text>
<rect x="1855.5" y="308.2" width="45" height="8.2" fill="#e377c2"/>
<text x="1945.29" y="318.40" font-size="18.60" fill="#000">33-64</text>
<rect x="1855.5" y="341.9" width="45" height="8.2" fill="#7f7f7f"/>
<text x="1933.66" y="352.16" font-size="18.60" fill="#000">65-128</text>
<rect x="1855.5" y="375.7" width="45" height="8.2" fill="#bcbd22"/>
<text x="1921.76" y="385.92" font-size="18.60" fill="#000">129-256</text>
<rect x="1855.5" y="409.4" width="45" height="8.2" fill="#17becf"/>
<text x="1921.85" y="419.68" font-size="18.60" fill="#000">257-500</text>
<line x1="1488.50" y1="548.20" x2="1488.50" y2="661.30" stroke="#8a8a8a" stroke-width="0.8" stroke-dasharray="2.6,1.2"/>
<line x1="1610.42" y1="548.20" x2="1610.42" y2="661.30" stroke="#8a8a8a" stroke-width="0.8" stroke-dasharray="2.6,1.2"/>
<line x1="1732.35" y1="548.20" x2="1732.35" y2="661.30" stroke="#8a8a8a" stroke-width="0.8" stroke-dasharray="2.6,1.2"/>
<line x1="1854.28" y1="548.20" x2="1854.28" y2="661.30" stroke="#8a8a8a" stroke-width="0.8" stroke-dasharray="2.6,1.2"/>
<line x1="1976.20" y1="548.20" x2="1976.20" y2="661.30" stroke="#8a8a8a" stroke-width="0.8" stroke-dasharray="2.6,1.2"/>
<line x1="1464.40" y1="604.75" x2="2000.30" y2="604.75" stroke="#8a8a8a" stroke-width="0.8" stroke-dasharray="2.6,1.2"/>
<line x1="1488.50" y1="693.30" x2="1488.50" y2="806.30" stroke="#8a8a8a" stroke-width="0.8" stroke-dasharray="2.6,1.2"/>
<line x1="1610.42" y1="693.30" x2="1610.42" y2="806.30" stroke="#8a8a8a" stroke-width="0.8" stroke-dasharray="2.6,1.2"/>
<line x1="1732.35" y1="693.30" x2="1732.35" y2="806.30" stroke="#8a8a8a" stroke-width="0.8" stroke-dasharray="2.6,1.2"/>
<line x1="1854.28" y1="693.30" x2="1854.28" y2="806.30" stroke="#8a8a8a" stroke-width="0.8" stroke-dasharray="2.6,1.2"/>
<line x1="1976.20" y1="693.30" x2="1976.20" y2="806.30" stroke="#8a8a8a" stroke-width="0.8" stroke-dasharray="2.6,1.2"/>
<line x1="1464.40" y1="749.80" x2="2000.30" y2="749.80" stroke="#8a8a8a" stroke-width="0.8" stroke-dasharray="2.6,1.2"/>
<line x1="1488.50" y1="838.80" x2="1488.50" y2="951.60" stroke="#8a8a8a" stroke-width="0.8" stroke-dasharray="2.6,1.2"/>
<line x1="1610.42" y1="838.80" x2="1610.42" y2="951.60" stroke="#8a8a8a" stroke-width="0.8" stroke-dasharray="2.6,1.2"/>
<line x1="1732.35" y1="838.80" x2="1732.35" y2="951.60" stroke="#8a8a8a" stroke-width="0.8" stroke-dasharray="2.6,1.2"/>
<line x1="1854.28" y1="838.80" x2="1854.28" y2="951.60" stroke="#8a8a8a" stroke-width="0.8" stroke-dasharray="2.6,1.2"/>
<line x1="1976.20" y1="838.80" x2="1976.20" y2="951.60" stroke="#8a8a8a" stroke-width="0.8" stroke-dasharray="2.6,1.2"/>
<line x1="1464.40" y1="895.20" x2="2000.30" y2="895.20" stroke="#8a8a8a" stroke-width="0.8" stroke-dasharray="2.6,1.2"/>
<path d="M1488.5 602.5 1491.0 603.9 1493.4 605.5 1495.9 604.9 1498.3 605.3 1500.8 602.5 1503.2 602.2 1505.7 603.8 1508.1 606.6 1510.6 601.6 1513.0 596.6 1515.5 595.7 1517.9 599.5 1520.4 599.1 1522.8 599.5 1525.3 600.5 1527.7 599.7 1530.2 603.2 1532.6 600.7 1535.1 602.6 1537.5 600.2 1540.0 600.2 1542.4 600.1 1544.9 603.1 1547.3 607.6 1549.8 603.8 1552.2 601.1 1554.7 601.4 1557.1 604.4 1559.6 600.7 1562.0 600.7 1564.5 605.3 1566.9 609.1 1569.4 607.9 1571.8 610.8 1574.3 613.4 1576.7 615.7 1579.2 613.6 1581.6 613.8 1584.1 609.6 1586.5 601.0 1589.0 602.7 1591.4 603.7 1593.9 602.6 1596.3 606.3 1598.8 609.8 1601.2 605.1 1603.7 606.7 1606.1 607.4 1608.6 608.3 1611.0 610.2 1613.5 606.5 1615.9 603.4 1618.4 605.7 1620.8 611.1 1623.3 613.5 1625.7 611.3 1628.2 614.4 1630.6 618.8 1633.1 615.0 1635.5 609.3 1638.0 616.6 1640.4 617.9 1642.9 615.3 1645.3 613.3 1647.8 614.4 1650.2 614.7 1652.7 617.7 1655.2 611.5 1657.6 608.0 1660.1 605.4 1662.5 603.7 1665.0 601.0 1667.4 600.9 1669.9 602.1 1672.3 602.2 1674.8 603.3 1677.2 612.3 1679.7 607.6 1682.1 603.3 1684.6 608.1 1687.0 606.2 1689.5 604.5 1691.9 607.0 1694.4 607.1 1696.8 605.4 1699.3 602.6 1701.7 605.5 1704.2 606.4 1706.6 605.6 1709.1 603.9 1711.5 604.2 1714.0 602.1 1716.4 598.5 1718.9 602.1 1721.3 598.8 1723.8 596.7 1726.2 592.5 1728.7 592.3 1731.1 594.6 1733.6 593.6 1736.0 587.8 1738.5 585.6 1740.9 588.2 1743.4 590.3 1745.8 591.6 1748.3 601.5 1750.7 605.2 1753.2 606.8 1755.6 608.4 1758.1 611.0 1760.5 613.6 1763.0 613.6 1765.4 610.5 1767.9 609.5 1770.3 608.6 1772.8 612.5 1775.2 611.9 1777.7 614.4 1780.1 617.1 1782.6 612.4 1785.0 609.1 1787.5 608.9 1789.9 609.3 1792.4 607.8 1794.8 605.7 1797.3 608.0 1799.7 611.6 1802.2 612.9 1804.6 608.0 1807.1 605.5 1809.5 606.3 1812.0 603.8 1814.5 606.9 1816.9 605.2 1819.4 599.7 1821.8 600.6 1824.3 602.0 1826.7 598.1 1829.2 598.5 1831.6 597.1 1834.1 601.5 1836.5 603.7 1839.0 607.6 1841.4 612.3 1843.9 608.8 1846.3 602.8 1848.8 600.0 1851.2 604.6 1853.7 608.1 1856.1 604.3 1858.6 602.1 1861.0 605.1 1863.5 602.8 1865.9 601.5 1868.4 603.3 1870.8 604.5 1873.3 603.5 1875.7 605.2 1878.2 608.4 1880.6 610.6 1883.1 604.2 1885.5 607.5 1888.0 607.2 1890.4 602.1 1892.9 598.8 1895.3 597.2 1897.8 602.0 1900.2 604.1 1902.7 611.9 1905.1 611.2 1907.6 610.5 1910.0 613.3 1912.5 616.4 1914.9 615.1 1917.4 614.0 1919.8 615.4 1922.3 616.8 1924.7 610.9 1927.2 607.6 1929.6 607.9 1932.1 610.1 1934.5 610.4 1937.0 611.8 1939.4 611.8 1941.9 608.1 1944.3 607.2 1946.8 605.1 1949.2 600.7 1951.7 602.0 1954.1 603.9 1956.6 609.4 1959.0 606.9 1961.5 606.6 1963.9 603.4 1966.4 601.7 1968.8 598.8 1971.3 596.0 1973.7 596.3 1976.2 594.1 1976.2 614.9 1973.7 617.1 1971.3 616.8 1968.8 619.6 1966.4 622.5 1963.9 624.2 1961.5 627.4 1959.0 627.7 1956.6 630.2 1954.1 624.7 1951.7 622.8 1949.2 621.5 1946.8 625.9 1944.3 628.1 1941.9 628.9 1939.4 632.7 1937.0 632.6 1934.5 631.2 1932.1 630.9 1929.6 628.7 1927.2 628.4 1924.7 631.8 1922.3 637.6 1919.8 636.2 1917.4 634.8 1914.9 635.9 1912.5 637.2 1910.0 634.1 1907.6 631.3 1905.1 632.0 1902.7 632.7 1900.2 624.9 1897.8 622.8 1895.3 618.1 1892.9 619.6 1890.4 622.9 1888.0 628.0 1885.5 628.3 1883.1 625.0 1880.6 631.5 1878.2 629.2 1875.7 626.0 1873.3 624.4 1870.8 625.4 1868.4 624.1 1865.9 622.4 1863.5 623.6 1861.0 625.9 1858.6 622.9 1856.1 625.1 1853.7 628.9 1851.2 625.4 1848.8 620.8 1846.3 623.7 1843.9 629.6 1841.4 633.1 1839.0 628.4 1836.5 624.6 1834.1 622.3 1831.6 617.9 1829.2 619.3 1826.7 619.0 1824.3 622.8 1821.8 621.5 1819.4 620.5 1816.9 626.0 1814.5 627.7 1812.0 624.6 1809.5 627.1 1807.1 626.3 1804.6 628.8 1802.2 633.7 1799.7 632.4 1797.3 628.8 1794.8 626.5 1792.4 628.6 1789.9 630.1 1787.5 629.7 1785.0 629.9 1782.6 633.3 1780.1 638.0 1777.7 635.3 1775.2 632.8 1772.8 633.3 1770.3 629.4 1767.9 630.3 1765.4 631.3 1763.0 634.5 1760.5 634.4 1758.1 631.8 1755.6 629.2 1753.2 627.6 1750.7 626.0 1748.3 622.3 1745.8 612.4 1743.4 611.1 1740.9 609.0 1738.5 606.5 1736.0 608.7 1733.6 614.4 1731.1 615.4 1728.7 613.1 1726.2 613.3 1723.8 617.5 1721.3 619.6 1718.9 622.9 1716.4 619.3 1714.0 622.9 1711.5 625.0 1709.1 624.8 1706.6 626.4 1704.2 627.2 1701.7 626.4 1699.3 623.5 1696.8 626.2 1694.4 627.9 1691.9 627.8 1689.5 625.3 1687.0 627.0 1684.6 628.9 1682.1 624.1 1679.7 628.4 1677.2 633.1 1674.8 624.1 1672.3 623.0 1669.9 622.9 1667.4 621.7 1665.0 621.8 1662.5 624.5 1660.1 626.2 1657.6 628.8 1655.2 632.3 1652.7 638.5 1650.2 635.5 1647.8 635.2 1645.3 634.1 1642.9 636.1 1640.4 638.7 1638.0 637.4 1635.5 630.1 1633.1 635.8 1630.6 639.6 1628.2 635.2 1625.7 632.1 1623.3 634.3 1620.8 631.9 1618.4 626.5 1615.9 624.2 1613.5 627.3 1611.0 631.1 1608.6 629.1 1606.1 628.2 1603.7 627.5 1601.2 625.9 1598.8 630.7 1596.3 627.2 1593.9 623.4 1591.4 624.5 1589.0 623.5 1586.5 621.8 1584.1 630.4 1581.6 634.6 1579.2 634.4 1576.7 636.5 1574.3 634.2 1571.8 631.7 1569.4 628.8 1566.9 629.9 1564.5 626.1 1562.0 621.5 1559.6 621.5 1557.1 625.2 1554.7 622.2 1552.2 621.9 1549.8 624.6 1547.3 628.4 1544.9 623.9 1542.4 620.9 1540.0 621.0 1537.5 621.1 1535.1 623.4 1532.6 621.5 1530.2 624.0 1527.7 620.5 1525.3 621.3 1522.8 620.3 1520.4 619.9 1517.9 620.4 1515.5 616.5 1513.0 617.4 1510.6 622.4 1508.1 627.4 1505.7 624.6 1503.2 623.1 1500.8 623.3 1498.3 626.1 1495.9 625.8 1493.4 626.3 1491.0 624.7 1488.5 623.3Z" fill="#1f77b4" stroke="#1f77b4" stroke-width="1.5" stroke-linejoin="round"/>
<path transform="translate(1488.50,0) scale(0.09756,0.1)" d="M0 6324l1 -122 1 -14 1 -1 1 -234 1 -26 1 67 1 -80 1 249 1 -231 1 189 1 -23 1 -10 1 211 1 -108 1 -54 1 -68 1 62 1 111 1 35 1 -142 1 142 1 -14 1 -139 1 -23 1 130 1 122 1 -274 1 -66 1 170 1 -3 1 261 1 -434 1 266 1 -230 1 170 1 -47 1 10 1 211 1 -587 1 563 1 -229 1 117 1 -64 1 -206 1 415 1 -218 1 -83 1 49 1 -41 1 151 1 117 1 -36 1 -120 1 -142 1 71 1 -198 1 198 1 -19 1 0 1 251 1 -300 1 226 1 -87 1 -349 1 456 1 -171 1 -19 1 25 1 10 1 56 1 -323 1 515 1 -128 1 -324 1 117 1 182 1 10 1 -86 1 -367 1 265 1 191 1 -175 1 125 1 -273 1 161 1 -131 1 131 1 -227 1 211 1 18 1 161 1 -77 1 -95 1 117 1 -379 1 332 1 97 1 -224 1 195 1 -109 1 45 1 71 1 -280 1 179 1 -111 1 193 1 143 1 -43 1 -105 1 -39 1 -42 1 -70 1 229 1 -202 1 186 1 -64 1 -412 1 169 1 204 1 -268 1 62 1 64 1 -52 1 208 1 -13 1 90 1 -204 1 252 1 -89 1 -144 1 127 1 -109 1 -194 1 356 1 -322 1 271 1 36 1 -151 1 -106 1 215 1 1 1 -53 1 45 1 -123 1 103 1 -70 1 -82 1 109 1 -198 1 240 1 10 1 -363 1 83 1 193 1 -103 1 57 1 123 1 -151 1 63 1 -122 1 376 1 -345 1 87 1 116 1 -22 1 13 1 119 1 -94 1 -189 1 313 1 -152 1 247 1 -216 1 -131 1 71 1 -16 1 138 1 -219 1 189 1 -230 1 89 1 67 1 -241 1 246 1 -188 1 113 1 28 1 -131 1 79 1 54 1 6 1 -46 1 6 1 62 1 96 1 211 1 -323 1 17 1 -188 1 110 1 -89 1 -74 1 235 1 98 1 -226 1 182 1 -29 1 -218 1 127 1 -79 1 306 1 -180 1 -145 1 325 1 -173 1 -23 1 355 1 -495 1 299 1 -78 1 -242 1 438 1 -300 1 121 1 -65 1 107 1 -275 1 312 1 -201 1 -21 1 88 1 -9 1 -9 1 -175 1 59 1 62 1 130 1 -169 1 -40 1 68 1 -177 1 432 1 -577 1 362 1 108 1 89 1 -349 1 44 1 100 1 -16 1 -49 1 69 1 -220 1 62 1 92 1 197 1 -389 1 236 1 72 1 -300 1 115 1 330 1 -50 1 -160 1 109 1 -141 1 -351 1 -40 1 400 1 -106 1 -10 1 123 1 186 1 -314 1 157 1 -78 1 -32 1 176 1 -337 1 205 1 -27 1 85 1 -157 1 -33 1 211 1 -145 1 120 1 91 1 -112 1 -131 1 9 1 -77 1 231 1 -55 1 -48 1 -68 1 97 1 108 1 84 1 -344 1 1 1 230 1 -264 1 221 1 -43 1 -100 1 216 1 52 1 129 1 -251 1 -28 1 -57 1 31 1 53 1 -150 1 275 1 -180 1 -4 1 92 1 -226 1 152 1 -117 1 58 1 139 1 -293 1 112 1 133 1 15 1 121 1 -98 1 3 1 -52 1 87 1 -132 1 85 1 186 1 -134 1 50 1 46 1 -133 1 -158 1 268 1 105 1 -234 1 -399 1 468 1 -123 1 94 1 -161 1 -73 1 208 1 -174 1 294 1 -154 1 180 1 -195 1 112 1 -123 1 174 1 -190 1 26 1 75 1 31 1 68 1 -110 1 -101 1 79 1 -36 1 -129 1 203 1 -79 1 -67 1 28 1 17 1 46 1 -233 1 262 1 31 1 -123 1 -127 1 21 1 180 1 -105 1 26 1 66 1 -77 1 20 1 65 1 -212 1 264 1 -220 1 -99 1 -9 1 242 1 38 1 185 1 -193 1 -330 1 539 1 -16 1 -319 1 32 1 314 1 -235 1 -69 1 248 1 -311 1 316 1 -318 1 135 1 119 1 115 1 -161 1 -24 1 -6 1 62 1 -52 1 -149 1 244 1 -84 1 -109 1 65 1 -107 1 -88 1 254 1 -64 1 415 1 -338 1 -132 1 229 1 -305 1 432 1 -429 1 247 1 55 1 -73 1 -16 1 93 1 56 1 -115 1 -202 1 52 1 -122 1 249 1 -36 1 -9 1 -41 1 -38 1 -172 1 134 1 77 1 -163 1 269 1 69 1 -256 1 68 1 5 1 -116 1 152 1 -25 1 -56 1 -28 1 -52 1 111 1 -22 1 347 1 -479 1 366 1 -190 1 -331 1 372 1 161 1 -414 1 287 1 -63 1 4 1 -119 1 -3 1 125 1 -148 1 267 1 -198 1 162 1 -163 1 182 1 -36 1 -249 1 334 1 0 1 -214 1 113 1 29 1 -49 1 -294 1 407 1 -115 1 -53 1 143 1 -121 1 -66 1 171 1 -271 1 286 1 -130 1 -60 1 -367 1 645 1 -250 1 -295 1 399 1 -219 1 118 1 214 1 -240 1 165 1 -143 1 214 1 -293 1 404 1 -293 1 -188 1 110 1 118 1 -21 1 12 1 -403 1 357 1 -9 1 85 1 -36 1 -144 1 151 1 36 1 -33 1 -11 1 -51 1 93 1 -26 1 69 1 -267 1 152 1 53 1 -76 1 46 1 196 1 -183 1 -234 1 155 1 -83 1 234 1 109 1 -115 1 -264 1 294 1 -17 1 -241 1 173 1 -11 1 -74 1 21 1 50 1 -75 1 131 1 -101 1 -98 1 220 1 -96 1 118 1 -241 1 13 1 -50 1 -5 1 0 1 33 1 193 1 -220 1 250 1 -416 1 276 1 -48 1 237 1 -289 1 -13 1 368 1 -104 1 -22 1 13 1 -252 1 -96 1 419 1 -272 1 177 1 -208 1 499 1 -258 1 -217 1 259 1 -248 1 221 1 -201 1 60 1 144 1 45 1 -80 1 -177 1 149 1 75 1 -510 1 638 1 -177 1 -97 1 212 1 -146 1 59 1 141 1 -250 1 209 1 -52 1 -257 1 303 1 -226 1 -80 1 13 1 75 1 78 1 155 1 -207 1 -40 1 126 1 79 1 -256 1 257 1 -189 1 112 1 156 1 -446 1 116 1 3 1 253 1 -173 1 -42 1 132 1 -313 1 482 1 -356 1 350 1 -50 1 -47 1 -230 1 166 1 -18 1 27 1 84 1 -67 1 4 1 -101 1 17 1 263 1 -221 1 -239 1 217 1 -51 1 91 1 -22 1 -78 1 168 1 -162 1 195 1 -258 1 241 1 -281 1 -52 1 335 1 -304 1 143 1 -204 1 235 1 -30 1 -1 1 -209 1 415 1 -348 1 95 1 77 1 -34 1 -162 1 14 1 -108 1 305 1 167 1 -172 1 -28 1 45 1 -206 1 -141 1 247 1 281 1 -377 1 227 1 -99 1 -106 1 67 1 44 1 -34 1 -52 1 19 1 -191 1 660 1 -270 1 -23 1 -183 1 57 1 -93 1 295 1 -148 1 -115 1 100 1 44 1 -91 1 -175 1 486 1 -478 1 175 1 135 1 -202 1 83 1 -146 1 261 1 -236 1 237 1 -171 1 -53 1 110 1 -110 1 151 1 -222 1 193 1 39 1 -73 1 -4 1 93 1 -203 1 123 1 -107 1 268 1 -20 1 -151 1 105 1 -115 1 -88 1 -75 1 -44 1 96 1 193 1 -152 1 135 1 -135 1 200 1 -308 1 127 1 88 1 130 1 -196 1 104 1 -106 1 137 1 -14 1 -157 1 -104 1 362 1 -153 1 -68 1 78 1 56 1 -330 1 401 1 -170 1 100 1 -41 1 269 1 -419 1 144 1 92 1 -345 1 259 1 58 1 38 1 -249 1 138 1 50 1 124 1 -46 1 -170 1 51 1 258 1 -139 1 -143 1 -313 1 461 1 191 1 -388 1 154 1 107 1 -237 1 109 1 115 1 54 1 -166 1 -40 1 236 1 -363 1 288 1 -351 1 153 1 74 1 -78 1 111 1 -71 1 -220 1 291 1 -176 1 230 1 -98 1 -130 1 285 1 -198 1 308 1 -135 1 -90 1 -174 1 34 1 203 1 -105 1 -40 1 223 1 -271 1 -117 1 22 1 221 1 -24 1 56 1 -52 1 -35 1 -116 1 73 1 133 1 -222 1 -21 1 192 1 -31 1 -17 1 208 1 -221 1 -66 1 -162 1 228 1 68 1 -3 1 -95 1 -31 1 226 1 -143 1 -64 1 349 1 -442 1 212 1 -139 1 128 1 21 1 -34 1 -42 1 -86 1 164 1 119 1 -47 1 21 1 -222 1 217 1 -306 1 179 1 23 1 -182 1 240 1 -12 1 -147 1 -7 1 222 1 -436 1 247 1 229 1 -134 1 -149 1 95 1 -84 1 -203 1 191 1 -164 1 170 1 172 1 -277 1 286 1 -214 1 51 1 208 1 -22 1 -69 1 -54 1 -104 1 165 1 -238 1 127 1 206 1 -9 1 -90 1 82 1 -56 1 -122 1 62 1 -102 1 221 1 25 1 78 1 53 1 -171 1 -64 1 28 1 -32 1 -272 1 406 1 -117 1 27 1 45 1 -299 1 174 1 -168 1 320 1 -379 1 -68 1 404 1 -117 1 17 1 -87 1 218 1 -221 1 -34 1 172 1 226 1 -196 1 -32 1 -148 1 183 1 61 1 -220 1 28 1 -60 1 81 1 -123 1 95 1 291 1 -263 1 -70 1 84 1 -182 1 248 1 -142 1 247 1 -157 1 75 1 49 1 37 1 -187 1 -33 1 131 1 84 1 -44 1 -214 1 257 1 -306 1 359 1 -250 1 -69 1 -66 1 218 1 27 1 65 1 -304 1 137 1 51 1 -15 1 -89 1 35 1 -153 1 422 1 -396 1 161 1 -69 1 27 1 -29 1 -114 1 59 1 209 1 -187 1 2 1 -67 1 33 1 18 1 -133 1 261 1 -429 1 361 1 60 1 -235 1 -23 1 -21 1 -15 1 127 1 54 1 -50 1 51 1 67 1 -276 1 -24 1 247 1 23 1 33 1 160 1 -133 1 -17 1 -58 1 125 1 108 1 -330 1 -127 1 506 1 -274 1 -122 1 253 1 37 1 -197 1 36 1 66 1 -293 1 1 1 111 1 89 1 37 1 -156 1 142 1 -227 1 12 1 242 1 -176 1 -99 1 129 1 222 1 -94 1 25 1 -71 1 4 1 52 1 -147 1 -65 1 249 1 109 1 -234 1 51 1 -54 1 146 1 -122 1 171 1 -247 1 -72 1 341 1 209 1 -294 1 -10 1 -98 1 7 1 -60 1 -284 1 406 1 -15 1 -101 1 299 1 -355 1 188 1 100 1 -73 1 -165 1 -46 1 -54 1 115 1 158 1 -160 1 75 1 -319 1 570 1 -481 1 113 1 43 1 71 1 72 1 58 1 75 1 -468 1 134 1 48 1 42 1 294 1 -206 1 -54 1 -132 1 291 1 -176 1 78 1 -43 1 108 1 -141 1 44 1 260 1 -395 1 -131 1 416 1 -275 1 269 1 -70 1 -290 1 222 1 -167 1 160 1 -96 1 156 1 -207 1 -48 1 156 1 146 1 -17 1 72 1 -211 1 17 1 158 1 -224 1 196 1 -321 1 126 1 -101 1 293 1 38 1 110 1 -330 1 227 1 -325 1 166 1 -81 1 255 1 -97 1 -104 1 -68 1 268 1 -216 1 140 1 -213 1 124 1 11 1 -105 1 -85 1 180 1 -181 1 283 1 -172 1 191 1 -167 1 150 1 -111 1 -69 1 213 1 96 1 -217 1 -86 1 39 1 146 1 -221 1 148 1 -144 1 211 1 -171 1 -90 1 226 1 -43 1 -120 1 21 1 27 1 61 1 190 1 -207 1 166 1 -166 1 333 1 -498 1 -55 1 175 1 167 1 -64 1 -159 1 32 1 175 1 -238 1 56 1 15 1 118 1 -60 1 96 1 -118 1 123 1 -221 1 128 1 -34 1 -25 1 15 1 223 1 -352 1 152 1 81 1 61 1 -36 1 1 1 -78 1 109 1 -119 1 -2 1 111 1 -374 1 292 1 -61 1 26 1 46 1 -104 1 -98 1 194 1 105 1 -173 1 336 1 -294 1 50 1 -71 1 227 1 -143 1 68 1 -65 1 -144 1 105 1 56 1 -224 1 147 1 264 1 -127 1 -193 1 -2 1 39 1 1 1 159 1 -88 1 140 1 -35 1 20 1 -1 1 -72 1 -12 1 65 1 -241 1 200 1 -260 1 63 1 283 1 -261 1 297 1 -356 1 146 1 168 1 141 1 -242 1 117 1 -323 1 299 1 -154 1 -105 1 40 1 -35 1 62 1 -133 1 211 1 -195 1 236 1 -184 1 168 1 -127 1 -99 1 -67 1 385 1 -142 1 38 1 -272 1 269 1 -199 1 171 1 104 1 -207 1 165 1 -224 1 -15 1 -81 1 294 1 -342 1 87 1 352 1 -501 1 51 1 345 1 -157 1 230 1 -159 1 -42 1 -53 1 180 1 -119 1 113 1 -153 1 -34 1 87 1 -132 1 48 1 51 1 -93 1 309 1 -148 1 219 1 -224 1 55 1 -164 1 157 1 26 1 -70 1 10 1 -85 1 194 1 58 1 17 1 -353 1 314 1 -98 1 79 1 -251 1 189 1 -219 1 256 1 -119 1 -75 1 -16 1 287 1 -108 1 -49 1 239 1 -315 1 40 1 -18 1 256 1 -188 1 -25 1 -83 1 199 1 -161 1 -165 1 308 1 -8 1 -11 1 148 1 -138 1 -252 1 325 1 -94 1 -173 1 76 1 38 1 72 1 -22 1 -25 1 -108 1 85 1 -98 1 367 1 -338 1 183 1 -60 1 48 1 -145 1 85 1 -102 1 187 1 -137 1 -128 1 17 1 198 1 -75 1 57 1 -28 1 -16 1 -154 1 79 1 -120 1 -10 1 356 1 -190 1 99 1 165 1 -84 1 -86 1 -286 1 194 1 18 1 -28 1 106 1 -116 1 53 1 204 1 -130 1 -499 1 346 1 101 1 -96 1 207 1 -135 1 -99 1 337 1 -108 1 -50 1 -17 1 41 1 -99 1 -98 1 94 1 -93 1 4 1 212 1 -111 1 64 1 -130 1 133 1 -27 1 -237 1 237 1 195 1 -217 1 -23 1 112 1 -85 1 -120 1 197 1 -31 1 79 1 -128 1 70 1 97 1 -106 1 -248 1 462 1 -38 1 -211 1 217 1 -427 1 440 1 -25 1 -110 1 -218 1 39 1 23 1 36 1 -119 1 384 1 -270 1 -148 1 314 1 -176 1 -106 1 -19 1 168 1 -257 1 164 1 -83 1 274 1 -46 1 3 1 -326 1 522 1 -84 1 -331 1 78 1 390 1 -322 1 -19 1 -192 1 399 1 -175 1 -196 1 28 1 208 1 -88 1 162 1 -362 1 233 1 -216 1 49 1 211 1 -92 1 -110 1 18 1 -152 1 67 1 98 1 -43 1 185 1 -15 1 -142 1 52 1 190 1 -128 1 75 1 -24 1 -224 1 299 1 -34 1 -153 1 61 1 0 1 209 1 -160 1 41 1 68 1 -9 1 -44 1 -148 1 -135 1 219 1 -165 1 163 1 209 1 -211 1 -156 1 0 1 279 1 -410 1 376 1 -10 1 -25 1 -244 1 154 1 -76 1 398 1 -277 1 16 1 -95 1 137 1 -207 1 240 1 99 1 28 1 -373 1 67 1 195 1 -228 1 148 1 -2 1 169 1 -129 1 -82 1 0 1 104 1 -194 1 -71 1 280 1 -151 1 234 1 -255 1 179 1 -114 1 -49 1 48 1 -143 1 227 1 -51 1 -98 1 25 1 -37 1 67 1 69 1 -187 1 66 1 -102 1 -66 1 217 1 47 1 -26 1 31 1 166 1 -450 1 158 1 -240 1 360 1 -151 1 33 1 34 1 -134 1 127 1 23 1 -27 1 306 1 -175 1 -12 1 -284 1 130 1 -30 1 21 1 80 1 -232 1 240 1 135 1 -249 1 -57 1 143 1 -28 1 -75 1 -75 1 131 1 -142 1 155 1 -220 1 435 1 -297 1 72 1 26 1 183 1 -286 1 149 1 92 1 -28 1 -32 1 -32 1 139 1 -3 1 -170 1 44 1 -263 1 298 1 -157 1 -118 1 255 1 -150 1 77 1 45 1 -203 1 317 1 -44 1 144 1 -205 1 -139 1 147 1 -128 1 188 1 -245 1 149 1 62 1 -250 1 200 1 -68 1 62 1 -67 1 83 1 168 1 -181 1 -19 1 6 1 87 1 -266 1 336 1 -129 1 0 1 156 1 5 1 -232 1 -9 1 67 1 233 1 -168 1 -77 1 -43 1 -57 1 95 1 -67 1 -90 1 489 1 -421 1 173 1 -98 1 14 1 153 1 -23 1 -164 1 77 1 -114 1 125 1 -329 1 294 1 -308 1 357 1 -169 1 -67 1 293 1 -44 1 -179 1 -108 1 -9 1 83 1 -65 1 279 1 -76 1 -230 1 269 1 -40 1 187 1 -208 1 177 1 -252 1 -149 1 127 1 20 1 65 1 -106 1 217 1 -79 1 -326 1 442 1 -89 1 98 1 -324 1 184 1 137 1 -14 1 -310 1 53 1 -15 1 93 1 -124 1 -45 1 92 1 288 1 27 1 -58 1 -240 1 220 1 -49 1 -151 1 117 1 47 1 -270 1 70 1 -31 1 -18 1 -59 1 202 1 14 1 198 1 -186 1 49 1 -186 1 33 1 -96 1 44 1 -24 1 72 1 47 1 65 1 -48 1 109 1 -172 1 63 1 239 1 81 1 -252 1 -34 1 -32 1 -201 1 233 1 80 1 -200 1 -69 1 -79 1 328 1 -106 1 23 1 -237 1 106 1 74 1 -88 1 139 1 -25 1 -9 1 57 1 -30 1 -74 1 24 1 -163 1 64 1 128 1 263 1 -94 1 -140 1 -11 1 124 1 -116 1 -78 1 93 1 -62 1 -21 1 95 1 39 1 -99 1 -55 1 175 1 120 1 -135 1 -183 1 271 1 -311 1 196 1 -89 1 114 1 -182 1 61 1 -26 1 284 1 -343 1 296 1 -176 1 -105 1 83 1 -77 1 34 1 22 1 101 1 -211 1 4 1 201 1 46 1 -136 1 115 1 -110 1 -76 1 17 1 -103 1 121 1 169 1 -16 1 -172 1 -174 1 284 1 80 1 -280 1 178 1 -98 1 -52 1 260 1 -80 1 30 1 -126 1 -16 1 141 1 -142 1 303 1 -267 1 -13 1 31 1 182 1 -160 1 124 1 -312 1 213 1 -13 1 -17 1 -70 1 67 1 -46 1 192 1 -248 1 192 1 -175 1 60 1 -102 1 128 1 178 1 -42 1 -121 1 -204 1 218 1 -54 1 -136 1 224 1 -101 1 -3 1 110 1 -106 1 -86 1 -8 1 177 1 -384 1 326 1 82 1 44 1 26 1 -210 1 452 1 -333 1 163 1 -139 1 1 1 163 1 -17 1 -269 1 230 1 -60 1 44 1 -151 1 -45 1 34 1 38 1 -9 1 207 1 -301 1 237 1 47 1 -59 1 50 1 -147 1 -48 1 -68 1 152 1 52 1 -35 1 102 1 -29 1 -346 1 334 1 -42 1 -119 1 24 1 -61 1 201 1 14 1 -290 1 251 1 -77 1 -29 1 245 1 -204 1 46 1 -133 1 91 1 234 1 -388 1 414 1 -278 1 29 1 -17 1 -66 1 -123 1 217 1 -24 1 -155 1 35 1 -38 1 45 1 63 1 28 1 -3 1 -170 1 -69 1 -69 1 368 1 -100 1 -17 1 18 1 123 1 -400 1 74 1 214 1 37 1 -60 1 138 1 -102 1 -139 1 -110 1 103 1 -31 1 305 1 262 1 -567 1 158 1 38 1 -212 1 326 1 -1 1 -45 1 -283 1 81 1 342 1 -418 1 209 1 -49 1 152 1 -329 1 175 1 -101 1 268 1 -199 1 72 1 20 1 78 1 -25 1 45 1 -65 1 -63 1 -87 1 264 1 -60 1 -63 1 133 1 -176 1 2 1 -14 1 -65 1 -62 1 25 1 71 1 -41 1 173 1 17 1 -208 1 11 1 -185 1 301 1 93 1 -166 1 82 1 47 1 -277 1 -75 1 204 1 116 1 -116 1 34 1 169 1 -276 1 66 1 -117 1 235 1 -75 1 8 1 182 1 -524 1 571 1 -119 1 -98 1 151 1 -236 1 119 1 -62 1 -17 1 30 1 6 1 34 1 -79 1 -46 1 126 1 16 1 -13 1 -84 1 87 1 18 1 145 1 -431 1 402 1 -374 1 97 1 -25 1 87 1 -17 1 34 1 -35 1 -31 1 -84 1 321 1 -202 1 -143 1 24 1 296 1 -168 1 6 1 8 1 326 1 -402 1 317 1 -461 1 198 1 108 1 -110 1 58 1 73 1 -68 1 -60 1 139 1 -184 1 -50 1 10 1 -13 1 -10 1 64 1 -83 1 158 1 -30 1 -133 1 -73 1 288 1 150 1 -456 1 115 1 -68 1 111 1 99 1 109 1 26 1 -305 1 55 1 86 1 181 1 -95 1 1 1 -37 1 329 1 -392 1 -188 1 265 1 -81 1 -28 1 172 1 -192 1 158 1 -40 1 -81 1 45 1 -14 1 142 1 -219 1 226 1 -252 1 171 1 86 1 -140 1 113 1 -73 1 -51 1 -112 1 8 1 48 1 102 1 162 1 -154 1 -2 1 -26 1 67 1 9 1 -157 1 269 1 -179 1 -151 1 252 1 30 1 -106 1 3 1 -79 1 -145 1 188 1 -83 1 154 1 -14 1 -99 1 126 1 -237 1 205 1 -22 1 117 1 -87 1 74 1 -77 1 173 1 -213 1 -224 1 454 1 -454 1 231 1 -136 1 232 1 -386 1 396 1 -113 1 -209 1 359 1 123 1 -277 1 96 1 34 1 -15 1 92 1 -357 1 5 1 325 1 -150 1 46 1 -208 1 244 1 -313 1 213 1 95 1 -90 1 57 1 -368 1 274 1 69 1 -70 1 -181 1 319 1 94 1 -382 1 95 1 135 1 -59 1 -169 1 481 1 -512 1 174 1 -113 1 79 1 -394 1 466 1 -216 1 469 1 -337 1 -104 1 304 1 79 1 -266 1 -116 1 -22 1 261 1 -123 1 234 1 -408 1 299 1 -233 1 213 1 5 1 -250 1 316 1 -277 1 209 1 75 1 -8 1 -255 1 152 1 44 1 150 1 -341 1 18 1 88 1 -84 1 523 1 -359 1 -91 1 -2 1 84 1 -114 1 123 1 -30 1 66 1 -165 1 110 1 -29 1 -226 1 193 1 3 1 201 1 -132 1 -181 1 50 1 58 1 27 1 -29 1 -43 1 98 1 272 1 -583 1 91 1 171 1 -215 1 358 1 -336 1 152 1 -95 1 162 1 -70 1 -69 1 -59 1 67 1 2 1 135 1 -295 1 193 1 53 1 7 1 108 1 -55 1 99 1 -234 1 41 1 -41 1 197 1 -109 1 14 1 -213 1 332 1 1 1 -366 1 112 1 263 1 -371 1 -18 1 59 1 408 1 -266 1 135 1 -65 1 177 1 -438 1 311 1 -134 1 -73 1 42 1 24 1 120 1 -75 1 60 1 272 1 -430 1 219 1 -29 1 -19 1 117 1 -29 1 70 1 -295 1 -109 1 153 1 155 1 -318 1 214 1 163 1 44 1 -275 1 -171 1 238 1 27 1 -38 1 90 1 -34 1 -102 1 107 1 -213 1 240 1 -226 1 30 1 95 1 -17 1 6 1 -253 1 333 1 -253 1 12 1 173 1 -252 1 520 1 -336 1 16 1 15 1 -112 1 154 1 -13 1 -176 1 154 1 128 1 -206 1 84 1 54 1 -149 1 174 1 24 1 -102 1 -12 1 -46 1 160 1 -370 1 143 1 71 1 -9 1 351 1 -448 1 239 1 -204 1 209 1 -276 1 202 1 -47 1 -227 1 66 1 307 1 -82 1 -130 1 47 1 -121 1 200 1 155 1 -130 1 -93 1 -83 1 -32 1 -62 1 122 1 55 1 -129 1 102 1 42 1 5 1 -190 1 -73 1 34 1 383 1 -346 1 285 1 -107 1 -110 1 245 1 -13 1 -52 1 -324 1 87 1 268 1 -141 1 -6 1 -17 1 125 1 -287 1 242 1 -172 1 327 1 -271 1 53 1 -163 1 521 1 -413 1 -19 1 132 1 -218 1 -117 1 185 1 5 1 -73 1 145 1 -96 1 83 1 155 1 55 1 -290 1 76 1 162 1 -87 1 -194 1 406 1 -94 1 -217 1 -9 1 262 1 -32 1 -151 1 -166 1 175 1 300 1 -431 1 145 1 51 1 86 1 -309 1 123 1 -25 1 8 1 1 1 -54 1 -118 1 356 1 -121 1 56 1 -280 1 261 1 173 1 -214 1 89 1 -14 1 -40 1 99 1 73 1 -526 1 271 1 107 1 -213 1 -88 1 406 1 -170 1 -98 1 159 1 -170 1 223 1 -73 1 -72 1 -69 1 42 1 90 1 -38 1 227 1 -561 1 325 1 -24 1 -71 1 -41 1 14 1 134 1 115 1 -200 1 86 1 -19 1 -77 1 -24 1 -131 1 203 1 196 1 -301 1 -44 1 333 1 -295 1 55 1 91 1 -90 1 -6 1 -32 1 -76 1 152 1 -14 1 -303 1 479 1 -116 1 8 1 -132 1 -41 1 312 1 -322 1 311 1 -512 1 416 1 -231 1 177 1 -119 1 190 1 -112 1 23 1 3 1 -108 1 161 1 -6 1 133 1 -165 1 32 1 -173 1 27 1 174 1 -148 1 -103 1 207 1 126 1 -467 1 260 1 -18 1 -242 1 425 1 -142 1 272 1 -305 1 14 1 165 1 3 1 -86 1 21 1 -229 1 223 1 -17 1 2 1 179 1 -132 1 120 1 -181 1 309 1 -136 1 -184 1 299 1 -79 1 -354 1 307 1 -171 1 -45 1 185 1 85 1 -422 1 279 1 -143 1 156 1 -137 1 238 1 8 1 -34 1 -56 1 4 1 -41 1 -109 1 120 1 -188 1 218 1 -152 1 -66 1 -50 1 485 1 -478 1 459 1 -401 1 200 1 -33 1 163 1 -229 1 27 1 168 1 4 1 -195 1 -29 1 24 1 157 1 -42 1 -119 1 20 1 -44 1 130 1 110 1 -133 1 -18 1 120 1 -113 1 166 1 -147 1 119 1 -349 1 113 1 124 1 221 1 0 1 -259 1 118 1 -71 1 234 1 -8 1 -215 1 49 1 149 1 -63 1 -211 1 169 1 -130 1 -141 1 167 1 45 1 109 1 -229 1 348 1 -47 1 -142 1 172 1 -325 1 204 1 -146 1 103 1 -14 1 -40 1 258 1 -119 1 -92 1 -344 1 201 1 5 1 223 1 -249 1 -42 1 42 1 -240 1 527 1 -31 1 -110 1 98 1 -130 1 -63 1 73 1 -16 1 -39 1 -39 1 186 1 11 1 -250 1 207 1 66 1 -130 1 86 1 -51 1 11 1 -89 1 -42 1 242 1 60 1 -365 1 308 1 103 1 48 1 -244 1 77 1 155 1 -122 1 20 1 -270 1 88 1 31 1 162 1 -139 1 -110 1 60 1 -115 1 141 1 -81 1 31 1 129 1 -248 1 114 1 -51 1 254 1 -3 1 -109 1 78 1 -185 1 43 1 -112 1 71 1 222 1 -259 1 201 1 19 1 -102 1 5 1 -130 1 -219 1 314 1 -135 1 224 1 -66 1 105 1 -12 1 -226 1 120 1 -1 1 161 1 -325 1 256 1 64 1 -78 1 -91 1 -20 1 -102 1 323 1 -83 1 -256 1 -96 1 380 1 -66 1 194 1 -94 1 8 1 -117 1 137 1 -273 1 122 1 29 1 -161 1 147 1 103 1 -156 1 -278 1 270 1 -57 1 87 1 11 1 -88 1 406 1 -190 1 -75 1 -30 1 -233 1 -136 1 227 1 38 1 -35 1 -109 1 319 1 -62 1 -84 1 -27 1 289 1 -298 1 265 1 -301 1 -12 1 405 1 -355 1 28 1 103 1 -201 1 -146 1 200 1 206 1 46 1 -31 1 -17 1 -278 1 120 1 44 1 -119 1 108 1 -4 1 94 1 -33 1 -84 1 157 1 -367 1 196 1 89 1 -209 1 272 1 -279 1 122 1 -223 1 310 1 -24 1 63 1 34 1 -200 1 173 1 -174 1 130 1 -221 1 467 1 -373 1 56 1 12 1 85 1 -306 1 285 1 -113 1 82 1 12 1 -41 1 -75 1 228 1 -83 1 119 1 -235 1 174 1 6 1 -186 1 90 1 -58 1 73 1 -70 1 31 1 165 1 -172 1 80 1 -14 1 -72 1 103 1 64 1 -280 1 -87 1 276 1 -202 1 82 1 128 1 33 1 -67 1 18 1 -21 1 -18 1 123 1 -264 1 266 1 -13 1 -252 1 21 1 -88 1 169 1 111 1 -237 1 178 1 7 1 98 1 -175 1 355 1 -372 1 335 1 -373 1 320 1 -308 1 -211 1 356 1 135 1 -413 1 316 1 74 1 -304 1 524 1 -179 1 -31 1 -81 1 196 1 -365 1 -14 1 133 1 41 1 149 1 -268 1 150 1 -167 1 -68 1 124 1 282 1 -141 1 -295 1 141 1 -148 1 479 1 -276 1 17 1 187 1 -115 1 -205 1 62 1 133 1 -117 1 -114 1 304 1 -176 1 -104 1 214 1 -247 1 183 1 -157 1 21 1 85 1 66 1 58 1 -120 1 3 1 -156 1 189 1 -67 1 -181 1 170 1 -28 1 -149 1 191 1 -53 1 -40 1 124 1 137 1 34 1 -174 1 -170 1 15 1 -87 1 86 1 217 1 109 1 -120 1 -36 1 61 1 -214 1 220 1 -158 1 -51 1 321 1 -179 1 -213 1 50 1 77 1 146 1 -53 1 -93 1 -154 1 102 1 69 1 -32 1 -69 1 327 1 -96 1 -141 1 -144 1 27 1 244 1 -111 1 101 1 -41 1 -76 1 64 1 30 1 77 1 57 1 -186 1 -51 1 -49 1 190 1 -9 1 -262 1 107 1 -54 1 190 1 16 1 48 1 -281 1 261 1 77 1 -134 1 -258 1 168 1 -27 1 11 1 18 1 15 1 163 1 -391 1 238 1 -181 1 352 1 -246 1 218 1 6 1 -213 1 -102 1 -49 1 8 1 209 1 -141 1 188 1 -1 1 -103 1 57 1 -126 1 360 1 -387 1 223 1 -263 1 50 1 302 1 -125 1 -92 1 189 1 -17 1 -52 1 -136 1 -32 1 158 1 -159 1 -92 1 62 1 210 1 22 1 -139 1 -74 1 32 1 107 1 58 1 -300 1 194 1 -256 1 378 1 -114 1 36 1 -321 1 74 1 229 1 166 1 -389 1 147 1 161 1 37 1 -241 1 79 1 -37 1 -32 1 108 1 -5 1 -108 1 103 1 7 1 -118 1 337 1 -434 1 108 1 165 1 -81 1 -171 1 84 1 293 1 -90 1 -151 1 -221 1 141 1 130 1 -102 1 75 1 48 1 -101 1 330 1 -409 1 64 1 128 1 65 1 38 1 -188 1 6 1 6 1 -195 1 501 1 -191 1 12 1 -221 1 165 1 88 1 -127 1 -27 1 -167 1 168 1 82 1 12 1 36 1 -165 1 -42 1 136 1 15 1 -203 1 161 1 -59 1 212 1 -68 1 194 1 -81 1 -210 1 -114 1 200 1 119 1 -161 1 -148 1 183 1 -129 1 134 1 161 1 -38 1 -84 1 -317 1 215 1 95 1 -78 1 -7 1 75 1 -44 1 5 1 -135 1 -121 1 32 1 229 1 -104 1 163 1 43 1 -149 1 -78 1 96 1 -109 1 -9 1 8 1 117 1 144 1 -417 1 300 1 -158 1 45 1 108 1 -284 1 162 1 76 1 35 1 67 1 31 1 -249 1 132 1 -7 1 -127 1 122 1 -121 1 171 1 -25 1 -186 1 198 1 -162 1 23 1 48 1 192 1 -48 1 -26 1 16 1 -268 1 225 1 59 1 -98 1 -54 1 205 1 -287 1 -3 1 176 1 -190 1 306 1 -139 1 -43 1 -29 1 -135 1 192 1 81 1 -141 1 2 1 -43 1 100 1 -66 1 97 1 -151 1 157 1 1 1 -230 1 239 1 -101 1 -72 1 111 1 -152 1 194 1 -190 1 331 1 -34 1 -179 1 -167 1 -31 1 315 1 -107 1 55 1 205 1 -366 1 147 1 -237 1 139 1 110 1 19 1 -74 1 -71 1 110 1 -420 1 316 1 167 1 -155 1 -146 1 82 1 100 1 41 1 21 1 43 1 -74 1 -98 1 124 1 -285 1 178 1 113 1 -55 1 -189 1 409 1 -240 1 -309 1 228 1 241 1 -138 1 40 1 -386 1 432 1 -55 1 0 1 136 1 240 1 -386 1 -75 1 116 1 -118 1 -49 1 23 1 300 1 -403 1 83 1 14 1 98 1 2 1 62 1 -125 1 -68 1 181 1 -182 1 166 1 -146 1 96 1 -132 1 -134 1 223 1 116 1 -14 1 -126 1 138 1 -204 1 98 1 -85 1 187 1 48 1 -17 1 -147 1 150 1 -201 1 336 1 -181 1 -61 1 195 1 -155 1 115 1 -184 1 19 1 -132 1 208 1 102 1 -154 1 -99 1 2 1 -11 1 -133 1 194 1 -14 1 81 1 -28 1 -204 1 87 1 382 1 -485 1 411 1 -203 1 -173 1 113 1 -53 1 -46 1 65 1 198 1 -206 1 138 1 205 1 -279 1 -100 1 56 1 19 1 -219 1 202 1 -82 1 86 1 -164 1 246 1 -206 1 -75 1 290 1 -175 1 323 1 -207 1 -51 1 209 1 117 1 -236 1 52 1 -80 1 -19 1 -70 1 -108 1 134 1 257 1 -284 1 39 1 43 1 -199 1 157 1 90 1 -109 1 278 1 -337 1 116 1 -207 1 119 1 40 1 26 1 169 1 -139 1 -55 1 -88 1 64 1 -38 1 -5 1 164 1 -121 1 68 1 119 1 38 1 -297 1 -75 1 -7 1 295 1 -304 1 6 1 301 1 -161 1 -156 1 223 1 -144 1 239 1 -51 1 -154 1 116 1 -43 1 1 1 148 1 -321 1 205 1 41 1 8 1 -56 1 130 1 -207 1 151 1 -151 1 212 1 15 1 -9 1 -148 1 189 1 -273 1 146 1 -162 1 166 1 -154 1 234 1 13 1 -236 1 151 1 -219 1 216 1 -137 1 169 1 110 1 -412 1 218 1 -153 1 112 1 252 1 -268 1 -89 1 -40 1 -46 1 151 1 74 1 -12 1 163 1 -258 1 13 1 62 1 145 1 -191 1 167 1 -229 1 250 1 -22 1 -32 1 89 1 -16 1 -77 1 279 1 -566 1 216 1 20 1 150 1 -131 1 19 1 4 1 198 1 -179 1 218 1 -215 1 101 1 -28 1 -46 1 -147 1 -45 1 158 1 142 1 -327 1 384 1 -105 1 -51 1 55 1 -265 1 124 1 -98 1 179 1 -141 1 133 1 -7 1 -70 1 -7 1 -28 1 104 1 157 1 -154 1 302 1 -300 1 71 1 -208 1 485 1 -615 1 303 1 163 1 -257 1 -9 1 6 1 -215 1 386 1 -146 1 19 1 119 1 -124 1 -115 1 269 1 -179 1 -79 1 48 1 295 1 -238 1 83 1 -203 1 179 1 -250 1 419 1 -217 1 181 1 -352 1 36 1 333 1 -222 1 110 1 204 1 -76 1 -149 1 -48 1 107 1 -99 1 5 1 5 1 182 1 -170 1 -43 1 264 1 -398 1 18 1 164 1 -252 1 378 1 13 1 -47 1 3 1 -338 1 243 1 6 1 -60 1 -166 1 190 1 63 1 -87 1 -119 1 178 1 -202 1 151 1 58 1 -81 1 -195 1 288 1 -212 1 98 1 52 1 7 1 -107 1 33 1 25 1 -42 1 194 1 -36 1 31 1 -91 1 -5 1 17 1 -115 1 193 1 -94 1 -140 1 -118 1 207 1 -147 1 -28 1 300 1 -171 1 161 1 -84 1 -103 1 232 1 -218 1 77 1 16 1 -114 1 160 1 122 1 -223 1 73 1 -60 1 112 1 -18 1 14 1 35 1 -59 1 -10 1 -97 1 -405 1 490 1 120 1 -279 1 238 1 -44 1 -64 1 -42 1 -13 1 -7 1 42 1 -162 1 39 1 168 1 -49 1 157 1 -261 1 107 1 -263 1 325 1 -286 1 317 1 114 1 -108 1 -147 1 -72 1 244 1 -215 1 192 1 -13 1 -4 1 -253 1 195 1 -13 1 238 1 -219 1 -14 1 -166 1 329 1 -18 1 17 1 -25 1 -172 1 184 1 -248 1 149 1 120 1 -52 1 78 1 11 1 -330 1 43 1 248 1 -74 1 -260 1 299 1 -119 1 -42 1 82 1 -2 1 20 1 -59 1 197 1 -188 1 -8 1 188 1 -228 1 166 1 205 1 -104 1 -252 1 -64 1 127 1 123 1 -166 1 -144 1 129 1 180 1 -243 1 88 1 0 1 -22 1 -73 1 83 1 100 1 -100 1 -15 1 -128 1 307 1 -145 1 85 1 -156 1 91 1 317 1 -514 1 212 1 49 1 57 1 -49 1 25 1 -149 1 -44 1 35 1 -65 1 149 1 -182 1 97 1 -61 1 -10 1 113 1 -193 1 51 1 156 1 -271 1 15 1 408 1 83 1 -212 1 -138 1 -48 1 49 1 70 1 -116 1 45 1 137 1 -67 1 -118 1 208 1 -4 1 19 1 -281 1 110 1 -20 1 154 1 -43 1 -162 1 195 1 -168 1 149 1 2 1 -81 1 -56 1 -114 1 261 1 -250 1 302 1 10 1 172 1 -398 1 -71 1 335 1 -115 1 -22 1 180 1 -206 1 -47 1 105 1 70 1 -161 1 -79 1 254 1 -161 1 -78 1 430 1 -390 1 -170 1 380 1 -329 1 199 1 -114 1 107 1 119 1 70 1 -515 1 475 1 -138 1 -216 1 143 1 11 1 269 1 -175 1 91 1 68 1 -272 1 -63 1 196 1 -16 1 -137 1 -51 1 245 1 -274 1 29 1 118 1 149 1 -216 1 -13 1 -141 1 304 1 -282 1 234 1 -114 1 76 1 -20 1 -173 1 290 1 -192 1 149 1 -30 1 103 1 -109 1 278 1 -224 1 -149 1 25 1 293 1 -71 1 -91 1 -269 1 300 1 -57 1 28 1 -75 1 147 1 -150 1 -35 1 -57 1 224 1 -225 1 -125 1 132 1 9 1 392 1 -479 1 -76 1 83 1 101 1 -40 1 -276 1 478 1 -33 1 -183 1 105 1 307 1 -315 1 -15 1 170 1 -157 1 17 1 265 1 -314 1 -229 1 39 1 378 1 36 1 -176 1 -21 1 197 1 -78 1 -267 1 144 1 -112 1 145 1 -140 1 212 1 0 1 61 1 123 1 -198 1 114 1 -120 1 -73 1 7 1 -22 1 105 1 -41 1 -150 1 160 1 -31 1 322 1 -170 1 -282 1 254 1 27 1 -250 1 287 1 -272 1 141 1 62 1 193 1 -438 1 411 1 -70 1 -278 1 255 1 -230 1 74 1 27 1 103 1 -55 1 -114 1 163 1 -205 1 62 1 -53 1 33 1 -37 1 36 1 -52 1 65 1 12 1 172 1 111 1 -231 1 -121 1 260 1 85 1 -128 1 -109 1 -62 1 157 1 104 1 -150 1 -94 1 99 1 -153 1 180 1 -182 1 -98 1 332 1 -29 1 -192 1 -335 1 339 1 60 1 -169 1 184 1 198 1 -86 1 -307 1 400 1 -31 1 -295 1 90 1 -154 1 306 1 -63 1 -45 1 107 1 -143 1 -13 1 -122 1 126 1 40 1 -120 1 -88 1 0 1 87 1 93 1 4 1 123 1 -179 1 21 1 -202 1 178 1 -68 1 -81 1 425 1 -148 1 -53 1 -40 1 162 1 -253 1 -4 1 62 1 -34 1 233 1 -280 1 221 1 161 1 -263 1 -40 1 146 1 127 1 -47 1 -117 1 319 1 -465 1 -7 1 154 1 -158 1 149 1 128 1 -235 1 6 1 203 1 60 1 -57 1 -270 1 199 1 -393 1 437 1 -181 1 30 1 58 1 -126 1 207 1 -120 1 131 1 139 1 -301 1 159 1 11 1 -239 1 97 1 -66 1 -179 1 202 1 -44 1 207 1 -267 1 -1 1 249 1 -221 1 38 1 68 1 -41 1 -303 1 400 1 -35 1 -41 1 32 1 209 1 -313 1 -51 1 -95 1 290 1 88 1 -251 1 210 1 -141 1 52 1 -67 1 93 1 -151 1 198 1 -436 1 209 1 180 1 39 1 -115 1 43 1 41 1 -290 1 62 1 276 1 -224 1 69 1 -97 1 186 1 -370 1 266 1 -262 1 324 1 -230 1 191 1 -222 1 243 1 106 1 -13 1 -62 1 -162 1 38 1 42 1 -125 1 -75 1 349 1 -257 1 -183 1 373 1 -6 1 -128 1 13 1 98 1 -62 1 -205 1 105 1 241 1 136 1 -78 1 -170 1 134 1 3 1 -206 1 131 1 26 1 -90 1 -172 1 154 1 -65 1 79 1 -184 1 365 1 2 1 -77 1 -316 1 54 1 341 1 -72 1 -135 1 77 1 -108 1 175 1 151 1 -286 1 -81 1 364 1 43 1 -197 1 170 1 -312 1 212 1 -240 1 141 1 -66 1 -51 1 118 1 90 1 -240 1 316 1 -368 1 258 1 -10 1 -117 1 10 1 -17 1 257 1 -71 1 -159 1 -11 1 73 1 -167 1 199 1 -138 1 6 1 101 1 60 1 -119 1 29 1 2 1 193 1 -186 1 -160 1 248 1 -48 1 45 1 -136 1 385 1 -462 1 140 1 95 1 -79 1 -115 1 103 1 -38 1 -59 1 133 1 -73 1 -99 1 110 1 169 1 -184 1 -171 1 315 1 -117 1 9 1 -80 1 161 1 -60 1 -258 1 155 1 178 1 -176 1 111 1 -196 1 413 1 -228 1 -120 1 302 1 -74 1 -160 1 54 1 40 1 -79 1 219 1 -80 1 -324 1 316 1 -133 1 54 1 -115 1 51 1 16 1 -92 1 112 1 258 1 -146 1 -268 1 55 1 160 1 161 1 -92 1 -365 1 111 1 4 1 368 1 -36 1 -99 1 100 1 -179 1 152 1 -197 1 89 1 48 1 -159 1 20 1 38 1 58 1 -29 1 237 1 1 1 -160 1 -104 1 -186 1 174 1 181 1 -46 1 95 1 -152 1 3 1 -6 1 -44 1 -101 1 48 1 231 1 -264 1 257 1 -181 1 41 1 -194 1 216 1 -9 1 31 1 -137 1 62 1 79 1 -139 1 -148 1 62 1 5 1 264 1 -56 1 -49 1 231 1 -451 1 399 1 -247 1 223 1 -168 1 -76 1 19 1 175 1 -26 1 -197 1 135 1 0 1 -125 1 442 1 -356 1 -118 1 -67 1 137 1 181 1 -223 1 -110 1 318 1 3 1 -79 1 30 1 208 1 50 1 -141 1 -84 1 -129 1 116 1 -77 1 -148 1 -215 1 262 1 239 1 -253 1 122 1 -44 1 -73 1 20 1 264 1 -23 1 -190 1 -59 1 -176 1 191 1 107 1 21 1 31 1 81 1 -3 1 -85 1 -88 1 104 1 -94 1 44 1 6 1 25 1 -83 1 39 1 343 1 -367 1 13 1 77 1 -82 1 116 1 -107 1 135 1 -195 1 40 1 217 1 -106 1 -177 1 36 1 36 1 163 1 -48 1 -94 1 -14 1 30 1 97 1 -62 1 35 1 89 1 -11 1 -29 1 80 1 -250 1 -44 1 -23 1 227 1 -2 1 -141 1 90 1 -29 1 -4 1 168 1 -369 1 335 1 6 1 -315 1 250 1 -283 1 104 1 -1 1 95 1 125 1 -32 1 -174 1 31 1 132 1 -12 1 -35 1 -93 1 -68 1 -62 1 154 1 -228 1 92 1 -100 1 294 1 -190 1 -81 1 368 1 -358 1 89 1 -72 1 101 1 -140 1 205 1 4 1 -149 1 9 1 255 1 -330 1 9 1 -1 1 224 1 -264 1 103 1 -44 1 123 1 56 1 31 1 6 1 -192 1 215 1 -12 1 -121 1 76 1 229 1 -183 1 -40 1 -252 1 108 1 210 1 6 1 -78 1 -91 1 122 1 -148 1 244 1 -208 1 -100 1 480 1 -331 1 -33 1 -29 1 38 1 9 1 -39 1 17 1 -4 1 -179 1 68 1 20 1 198 1 -22 1 -180 1 272 1 -254 1 297 1 -432 1 108 1 232 1 -7 1 193 1 -253 1 -158 1 73 1 101 1 -302 1 191 1 23 1 98 1 -126 1 -249 1 284 1 264 1 -247 1 -203 1 92 1 226 1 -103 1 215 1 -268 1 193 1 -45 1 2 1 19 1 -293 1 36 1 205 1 -42 1 -210 1 253 1 9 1 44 1 -301 1 159 1 27 1 56 1 68 1 -228 1 220 1 -24 1 148 1 -86 1 -60 1 7 1 137 1 -110 1 -69 1 306 1 -407 1 106 1 114 1 -126 1 -80 1 56 1 -8 1 5 1 -73 1 263 1 -95 1 -117 1 48 1 146 1 -110 1 48 1 -106 1 215 1 -6 1 -21 1 -165 1 -326 1 188 1 -14 1 154 1 -205 1 171 1 39 1 -134 1 279 1 122 1 -130 1 -342 1 53 1 93 1 58 1 -17 1 -73 1 162 1 -204 1 217 1 -291 1 214 1 75 1 -68 1 66 1 -110 1 198 1 -165 1 -73 1 -44 1 91 1 -187 1 363 1 -177 1 34 1 -55 1 18 1 -213 1 176 1 104 1 -430 1 315 1 27 1 -129 1 186 1 -54 1 -136 1 259 1 -101 1 -179 1 -116 1 236 1 15 1 -142 1 338 1 -108 1 9 1 163 1 115 1 -318 1 -166 1 28 1 -69 1 515 1 -341 1 -179 1 278 1 44 1 -194 1 37 1 -80 1 82 1 -160 1 79 1 73 1 64 1 -135 1 166 1 -215 1 -27 1 22 1 276 1 -231 1 4 1 -74 1 311 1 -118 1 -67 1 -190 1 249 1 -206 1 88 1 -226 1 187 1 244 1 -172 1 -71 1 -126 1 87 1 119 1 128 1 -157 1 19 1 -183 1 56 1 312 1 118 1 -257 1 -94 1 149 1 -57 1 -225 1 63 1 317 1 -267 1 36 1 46 1 -100 1 -16 1 -236 1 284 1 128 1 -25 1 -132 1 -147 1 159 1 5 1 33 1 71 1 -71 1 175 1 -248 1 36 1 24 1 140 1 -79 1 32 1 -105 1 75 1 -66 1 -73 1 -24 1 295 1 -102 1 93 1 -298 1 266 1 -298 1 232 1 -204 1 204 1 -36 1 -36 1 7 1 36 1 -112 1 -73 1 45 1 175 1 199 1 -245 1 373 1 -452 1 32 1 254 1 -231 1 167 1 -244 1 262 1 4 1 -8 1 -109 1 154 1 -422 1 341 1 -274 1 257 1 11 1 43 1 1 1 -152 1 -105 1 148 1 121 1 -139 1 135 1 245 1 -367 1 243 1 -140 1 -82 1 64 1 -26 1 -249 1 64 1 -76 1 160 1 1 1 -192 1 314 1 -134 1 28 1 -15 1 -33 1 59 1 -84 1 210 1 -172 1 185 1 -260 1 10 1 157 1 41 1 -74 1 -79 1 265 1 -69 1 -246 1 137 1 140 1 115 1 -224 1 166 1 -237 1 32 1 -245 1 384 1 -234 1 236 1 -24 1 -99 1 74 1 -344 1 257 1 94 1 -379 1 386 1 -61 1 -11 1 77 1 -174 1 -71 1 307 1 -109 1 -19 1 120 1 -18 1 -119 1 71 1 -147 1 -71 1 73 1 -21 1 155 1 -37 1 -127 1 -33 1 80 1 -81 1 107 1 112 1 -191 1 101 1 147 1 -313 1 50 1 -41 1 150 1 -240 1 131 1 -68 1 207 1 -40 1 -208 1 159 1 -8 1 -185 1 28 1 118 1 -214 1 423 1 -167 1 77 1 -255 1 -20 1 257 1 -74 1 -94 1 45 1 35 1 -78 1 -124 1 226 1 150 1 -133 1 -20 1 38 1 -133 1 14 1 -24 1 55 1 16 1 150 1 -88 1 53 1 -146 1 55 1 -2 1 -67 1 100 1 -177 1 9 1 241 1 -299 1 216 1 51 1 -51 1 111 1 -216 1 -117 1 339 1 -233 1 -18 1 -9 1 1 1 33 1 100 1 -161 1 64 1 -59 1 70 1 71 1 -26 1 -79 1 -59 1 369 1 -98 1 35 1 -128 1 39 1 -118 1 61 1 -202 1 250 1 24 1 30 1 -86 1 -70 1 86 1 39 1 71 1 -197 1 86 1 62 1 -84 1 -65 1 -213 1 42 1 304 1 -57 1 178 1 16 1 -30 1 -340 1 143 1 167 1 -92 1 -21 1 17 1 -243 1 410 1 -196 1 -77 1 -41 1 319 1 -300 1 166 1 -72 1 120 1 -282 1 -309 1 269 1 173 1 172 1 -330 1 -40 1 285 1 -257 1 325 1 -57 1 -171 1 197 1 -265 1 -83 1 181 1 -55" fill="none" stroke="#1f77b4" stroke-width="0.9" vector-effect="non-scaling-stroke" stroke-linejoin="bevel"/>
<path d="M1488.5 584.9 1491.0 582.4 1493.4 582.8 1495.9 584.4 1498.3 587.1 1500.8 585.6 1503.2 592.7 1505.7 596.3 1508.1 591.4 1510.6 586.9 1513.0 584.8 1515.5 584.6 1517.9 589.1 1520.4 592.1 1522.8 594.5 1525.3 590.4 1527.7 583.3 1530.2 579.9 1532.6 584.6 1535.1 582.4 1537.5 581.2 1540.0 582.0 1542.4 585.5 1544.9 588.0 1547.3 586.5 1549.8 585.7 1552.2 583.3 1554.7 583.2 1557.1 585.0 1559.6 586.9 1562.0 588.6 1564.5 589.1 1566.9 586.6 1569.4 581.3 1571.8 577.2 1574.3 580.0 1576.7 583.0 1579.2 580.9 1581.6 578.6 1584.1 576.8 1586.5 578.4 1589.0 580.8 1591.4 581.8 1593.9 581.6 1596.3 583.7 1598.8 584.7 1601.2 595.0 1603.7 596.5 1606.1 596.7 1608.6 600.0 1611.0 596.9 1613.5 598.0 1615.9 598.2 1618.4 596.2 1620.8 593.3 1623.3 593.9 1625.7 593.7 1628.2 592.8 1630.6 588.6 1633.1 588.1 1635.5 591.2 1638.0 591.8 1640.4 594.1 1642.9 592.9 1645.3 592.0 1647.8 589.1 1650.2 588.0 1652.7 587.9 1655.2 590.2 1657.6 592.5 1660.1 596.1 1662.5 593.3 1665.0 594.6 1667.4 589.1 1669.9 583.4 1672.3 585.9 1674.8 583.8 1677.2 583.5 1679.7 585.1 1682.1 583.8 1684.6 583.5 1687.0 584.8 1689.5 581.1 1691.9 586.1 1694.4 595.5 1696.8 594.7 1699.3 594.3 1701.7 590.3 1704.2 587.2 1706.6 586.8 1709.1 580.9 1711.5 583.8 1714.0 587.3 1716.4 587.9 1718.9 588.7 1721.3 591.6 1723.8 597.8 1726.2 604.1 1728.7 599.9 1731.1 595.7 1733.6 596.3 1736.0 594.4 1738.5 595.5 1740.9 593.1 1743.4 595.9 1745.8 594.3 1748.3 593.3 1750.7 593.9 1753.2 601.6 1755.6 601.2 1758.1 602.3 1760.5 605.3 1763.0 602.3 1765.4 597.6 1767.9 596.4 1770.3 596.9 1772.8 594.2 1775.2 591.5 1777.7 592.6 1780.1 587.1 1782.6 584.3 1785.0 589.1 1787.5 593.3 1789.9 590.5 1792.4 589.1 1794.8 580.1 1797.3 584.6 1799.7 588.5 1802.2 590.2 1804.6 594.7 1807.1 589.9 1809.5 585.0 1812.0 589.2 1814.5 593.4 1816.9 595.1 1819.4 594.8 1821.8 587.9 1824.3 585.1 1826.7 582.1 1829.2 582.1 1831.6 582.3 1834.1 578.8 1836.5 576.8 1839.0 582.1 1841.4 582.1 1843.9 583.3 1846.3 580.4 1848.8 581.9 1851.2 585.1 1853.7 586.1 1856.1 589.1 1858.6 590.0 1861.0 592.4 1863.5 593.9 1865.9 592.3 1868.4 587.6 1870.8 585.3 1873.3 585.5 1875.7 586.2 1878.2 590.0 1880.6 587.5 1883.1 590.3 1885.5 591.1 1888.0 589.4 1890.4 585.6 1892.9 586.2 1895.3 586.4 1897.8 588.1 1900.2 587.6 1902.7 593.3 1905.1 587.5 1907.6 583.4 1910.0 580.9 1912.5 580.9 1914.9 584.4 1917.4 584.8 1919.8 582.9 1922.3 584.6 1924.7 583.7 1927.2 586.6 1929.6 587.4 1932.1 589.5 1934.5 589.1 1937.0 590.2 1939.4 596.1 1941.9 594.5 1944.3 594.3 1946.8 594.3 1949.2 598.2 1951.7 601.1 1954.1 596.0 1956.6 599.7 1959.0 600.0 1961.5 595.4 1963.9 594.9 1966.4 590.6 1968.8 595.4 1971.3 594.6 1973.7 595.1 1976.2 594.6 1976.2 620.1 1973.7 620.5 1971.3 620.0 1968.8 620.9 1966.4 616.0 1963.9 620.4 1961.5 620.9 1959.0 625.4 1956.6 625.1 1954.1 621.4 1951.7 626.5 1949.2 623.6 1946.8 619.7 1944.3 619.8 1941.9 619.9 1939.4 621.6 1937.0 615.6 1934.5 614.5 1932.1 614.9 1929.6 612.9 1927.2 612.0 1924.7 609.1 1922.3 610.1 1919.8 608.4 1917.4 610.3 1914.9 609.9 1912.5 606.3 1910.0 606.3 1907.6 608.9 1905.1 613.0 1902.7 618.8 1900.2 613.0 1897.8 613.6 1895.3 611.9 1892.9 611.6 1890.4 611.0 1888.0 614.8 1885.5 616.6 1883.1 615.8 1880.6 613.0 1878.2 615.4 1875.7 611.7 1873.3 610.9 1870.8 610.8 1868.4 613.0 1865.9 617.7 1863.5 619.3 1861.0 617.8 1858.6 615.5 1856.1 614.6 1853.7 611.5 1851.2 610.6 1848.8 607.3 1846.3 605.8 1843.9 608.8 1841.4 607.5 1839.0 607.5 1836.5 602.2 1834.1 604.3 1831.6 607.7 1829.2 607.5 1826.7 607.5 1824.3 610.5 1821.8 613.3 1819.4 620.2 1816.9 620.6 1814.5 618.8 1812.0 614.6 1809.5 610.4 1807.1 615.3 1804.6 620.2 1802.2 615.7 1799.7 614.0 1797.3 610.0 1794.8 605.6 1792.4 614.5 1789.9 615.9 1787.5 618.7 1785.0 614.6 1782.6 609.7 1780.1 612.6 1777.7 618.1 1775.2 616.9 1772.8 619.6 1770.3 622.4 1767.9 621.9 1765.4 623.0 1763.0 627.7 1760.5 630.7 1758.1 627.8 1755.6 626.7 1753.2 627.0 1750.7 619.4 1748.3 618.7 1745.8 619.7 1743.4 621.4 1740.9 618.6 1738.5 621.0 1736.0 619.9 1733.6 621.8 1731.1 621.2 1728.7 625.3 1726.2 629.5 1723.8 623.2 1721.3 617.0 1718.9 614.1 1716.4 613.4 1714.0 612.8 1711.5 609.2 1709.1 606.3 1706.6 612.3 1704.2 612.7 1701.7 615.7 1699.3 619.8 1696.8 620.2 1694.4 621.0 1691.9 611.5 1689.5 606.6 1687.0 610.3 1684.6 608.9 1682.1 609.2 1679.7 610.5 1677.2 609.0 1674.8 609.3 1672.3 611.3 1669.9 608.8 1667.4 614.6 1665.0 620.1 1662.5 618.8 1660.1 621.6 1657.6 618.0 1655.2 615.7 1652.7 613.4 1650.2 613.4 1647.8 614.5 1645.3 617.4 1642.9 618.3 1640.4 619.6 1638.0 617.3 1635.5 616.6 1633.1 613.5 1630.6 614.1 1628.2 618.3 1625.7 619.2 1623.3 619.4 1620.8 618.7 1618.4 621.6 1615.9 623.7 1613.5 623.5 1611.0 622.4 1608.6 625.4 1606.1 622.1 1603.7 622.0 1601.2 620.4 1598.8 610.2 1596.3 609.2 1593.9 607.1 1591.4 607.2 1589.0 606.3 1586.5 603.8 1584.1 602.2 1581.6 604.1 1579.2 606.3 1576.7 608.4 1574.3 605.5 1571.8 602.6 1569.4 606.8 1566.9 612.1 1564.5 614.5 1562.0 614.0 1559.6 612.3 1557.1 610.5 1554.7 608.6 1552.2 608.7 1549.8 611.1 1547.3 611.9 1544.9 613.5 1542.4 610.9 1540.0 607.5 1537.5 606.7 1535.1 607.8 1532.6 610.0 1530.2 605.3 1527.7 608.7 1525.3 615.8 1522.8 620.0 1520.4 617.5 1517.9 614.6 1515.5 610.1 1513.0 610.3 1510.6 612.4 1508.1 616.8 1505.7 621.7 1503.2 618.1 1500.8 611.1 1498.3 612.6 1495.9 609.9 1493.4 608.2 1491.0 607.8 1488.5 610.3Z" fill="#17becf" stroke="#17becf" stroke-width="1.5" stroke-linejoin="round"/>
<path transform="translate(1488.50,0) scale(0.09756,0.1)" d="M0 6069l1 -187 1 243 1 -436 1 113 1 396 1 -405 1 152 1 -105 1 122 1 16 1 179 1 -121 1 -58 1 216 1 -97 1 -138 1 -58 1 113 1 -233 1 268 1 -162 1 -91 1 281 1 -277 1 171 1 109 1 -333 1 5 1 262 1 -197 1 14 1 134 1 -301 1 300 1 74 1 -96 1 15 1 37 1 -26 1 145 1 -266 1 265 1 -340 1 59 1 154 1 1 1 34 1 -86 1 -230 1 198 1 107 1 -303 1 299 1 -2 1 -357 1 199 1 -65 1 70 1 15 1 -13 1 -16 1 -186 1 463 1 162 1 -293 1 169 1 -220 1 186 1 -177 1 -132 1 215 1 30 1 -220 1 220 1 -101 1 16 1 155 1 -302 1 299 1 -272 1 69 1 191 1 -93 1 -156 1 151 1 -338 1 430 1 -311 1 393 1 -190 1 -166 1 416 1 -299 1 183 1 23 1 -81 1 -40 1 -3 1 15 1 41 1 244 1 -541 1 -99 1 231 1 99 1 96 1 -165 1 -5 1 170 1 -103 1 -128 1 78 1 56 1 -32 1 122 1 -87 1 -15 1 112 1 -91 1 -139 1 -32 1 450 1 -101 1 -334 1 78 1 -14 1 234 1 -199 1 -69 1 16 1 160 1 -27 1 -113 1 10 1 -136 1 488 1 -236 1 -273 1 337 1 -178 1 -189 1 346 1 -187 1 -213 1 451 1 110 1 -418 1 222 1 -44 1 -19 1 -147 1 205 1 -180 1 38 1 120 1 -140 1 114 1 58 1 -429 1 674 1 -100 1 -14 1 -87 1 -91 1 43 1 -337 1 379 1 101 1 -150 1 55 1 1 1 -184 1 91 1 -96 1 309 1 -221 1 79 1 94 1 127 1 -207 1 152 1 -276 1 27 1 7 1 -333 1 205 1 445 1 -367 1 68 1 2 1 118 1 -185 1 524 1 -218 1 -271 1 57 1 -108 1 187 1 12 1 -185 1 93 1 268 1 -371 1 277 1 -286 1 99 1 -53 1 -77 1 257 1 -247 1 98 1 30 1 -42 1 68 1 -69 1 -39 1 102 1 -234 1 145 1 171 1 -206 1 -16 1 284 1 -245 1 89 1 -94 1 72 1 -79 1 26 1 335 1 -331 1 -60 1 -34 1 -83 1 114 1 -129 1 59 1 193 1 33 1 -281 1 92 1 319 1 -107 1 -302 1 145 1 264 1 -301 1 -66 1 48 1 111 1 26 1 32 1 -2 1 -106 1 -327 1 -11 1 379 1 188 1 -202 1 29 1 -11 1 193 1 -237 1 73 1 -96 1 231 1 -217 1 180 1 -65 1 -22 1 6 1 -4 1 -4 1 16 1 6 1 -6 1 -33 1 -310 1 132 1 208 1 114 1 -356 1 165 1 -52 1 -124 1 436 1 -181 1 -125 1 -178 1 212 1 -17 1 12 1 7 1 -27 1 113 1 14 1 -32 1 -142 1 -81 1 151 1 69 1 -199 1 110 1 -40 1 136 1 52 1 -130 1 90 1 -194 1 276 1 -173 1 44 1 149 1 -91 1 89 1 -102 1 -17 1 -393 1 521 1 -229 1 158 1 -106 1 92 1 56 1 -326 1 47 1 400 1 -223 1 29 1 180 1 -252 1 -31 1 68 1 -41 1 -188 1 321 1 -228 1 -130 1 716 1 -375 1 -218 1 125 1 142 1 -278 1 70 1 347 1 -343 1 142 1 -62 1 189 1 -251 1 64 1 151 1 -82 1 -250 1 -7 1 415 1 -268 1 104 1 25 1 -91 1 -181 1 150 1 206 1 -129 1 -54 1 -91 1 177 1 -13 1 -19 1 -55 1 343 1 -456 1 125 1 41 1 138 1 -192 1 -240 1 354 1 150 1 -283 1 43 1 12 1 215 1 -276 1 -24 1 646 1 -590 1 -96 1 217 1 162 1 -316 1 -292 1 247 1 -265 1 249 1 78 1 64 1 -305 1 374 1 -77 1 -28 1 -95 1 21 1 202 1 -38 1 -404 1 220 1 10 1 48 1 -97 1 156 1 -275 1 33 1 145 1 -122 1 151 1 17 1 -197 1 164 1 89 1 -341 1 249 1 -98 1 -146 1 391 1 -144 1 -183 1 169 1 24 1 -57 1 34 1 13 1 -105 1 46 1 -231 1 195 1 -188 1 224 1 -228 1 251 1 -183 1 132 1 -217 1 343 1 -52 1 -111 1 190 1 -331 1 235 1 -84 1 -69 1 67 1 195 1 99 1 47 1 -124 1 -19 1 7 1 -167 1 258 1 43 1 -239 1 -219 1 383 1 -116 1 -7 1 -163 1 20 1 174 1 -187 1 133 1 -102 1 -143 1 551 1 -109 1 -34 1 -13 1 -194 1 5 1 -218 1 47 1 156 1 52 1 -85 1 23 1 113 1 -174 1 159 1 -56 1 3 1 51 1 15 1 -105 1 22 1 156 1 -419 1 1 1 16 1 66 1 182 1 108 1 24 1 111 1 -199 1 188 1 -245 1 -33 1 128 1 -8 1 -59 1 -84 1 111 1 -282 1 365 1 -40 1 -35 1 -39 1 -51 1 -48 1 132 1 -260 1 483 1 -300 1 35 1 191 1 0 1 -226 1 -129 1 104 1 77 1 27 1 23 1 -13 1 -139 1 -51 1 87 1 162 1 -172 1 -64 1 393 1 -303 1 102 1 -88 1 186 1 -16 1 -127 1 67 1 -3 1 44 1 -182 1 -88 1 279 1 -166 1 99 1 -91 1 -113 1 121 1 54 1 143 1 -299 1 -72 1 485 1 -333 1 111 1 144 1 -406 1 161 1 -210 1 405 1 -32 1 146 1 -212 1 251 1 -200 1 -201 1 91 1 -73 1 108 1 -81 1 129 1 158 1 -246 1 86 1 91 1 45 1 -325 1 393 1 -116 1 -170 1 -45 1 57 1 224 1 -347 1 162 1 180 1 -350 1 154 1 252 1 113 1 -351 1 64 1 -115 1 15 1 126 1 -158 1 16 1 181 1 -245 1 79 1 58 1 -72 1 156 1 1 1 -99 1 111 1 -348 1 183 1 -67 1 -150 1 45 1 -73 1 414 1 -347 1 277 1 -29 1 -60 1 7 1 16 1 -40 1 -179 1 505 1 -100 1 -17 1 -233 1 28 1 -32 1 -218 1 268 1 201 1 -261 1 -188 1 -19 1 277 1 -20 1 -23 1 -43 1 110 1 34 1 -278 1 3 1 212 1 78 1 9 1 70 1 0 1 -142 1 74 1 -148 1 112 1 54 1 -75 1 289 1 -390 1 79 1 -231 1 255 1 -40 1 97 1 -420 1 245 1 -132 1 210 1 -124 1 208 1 -42 1 -41 1 101 1 -208 1 -18 1 -54 1 284 1 -46 1 -71 1 -100 1 266 1 -136 1 -191 1 139 1 34 1 142 1 -93 1 -132 1 -53 1 366 1 -284 1 94 1 87 1 -397 1 162 1 245 1 -17 1 -169 1 226 1 -173 1 -81 1 267 1 -205 1 -44 1 156 1 -142 1 -26 1 44 1 151 1 -215 1 156 1 -84 1 27 1 10 1 269 1 -410 1 79 1 48 1 -66 1 134 1 -41 1 -86 1 384 1 -200 1 -29 1 -44 1 29 1 29 1 -149 1 -70 1 46 1 -69 1 71 1 -125 1 -9 1 297 1 49 1 -39 1 -9 1 -158 1 28 1 48 1 118 1 -33 1 -29 1 -70 1 442 1 -450 1 -31 1 167 1 -286 1 90 1 16 1 304 1 -325 1 82 1 -17 1 333 1 -96 1 -184 1 158 1 -376 1 355 1 -249 1 53 1 -333 1 399 1 -186 1 262 1 111 1 -212 1 -137 1 239 1 -220 1 63 1 81 1 -50 1 0 1 97 1 -106 1 -47 1 175 1 251 1 -443 1 201 1 -179 1 201 1 -175 1 91 1 16 1 -51 1 -59 1 288 1 -400 1 24 1 100 1 266 1 -333 1 113 1 -231 1 302 1 -40 1 -155 1 421 1 -244 1 -31 1 270 1 -196 1 -159 1 -21 1 -184 1 86 1 324 1 -309 1 60 1 42 1 178 1 -412 1 -1 1 200 1 163 1 46 1 -4 1 -286 1 362 1 -395 1 158 1 -72 1 -56 1 -216 1 221 1 130 1 -90 1 23 1 8 1 -5 1 156 1 -178 1 231 1 -341 1 214 1 109 1 -252 1 1 1 72 1 216 1 -24 1 -273 1 -240 1 268 1 -20 1 -28 1 197 1 -280 1 231 1 -98 1 110 1 69 1 -52 1 18 1 -55 1 -264 1 175 1 116 1 -142 1 135 1 -228 1 55 1 156 1 -47 1 -19 1 150 1 18 1 -128 1 107 1 -127 1 -111 1 145 1 -117 1 -181 1 304 1 -256 1 324 1 54 1 -170 1 63 1 175 1 -381 1 58 1 266 1 -90 1 -1 1 147 1 -226 1 244 1 51 1 -440 1 295 1 23 1 -82 1 63 1 -404 1 231 1 -53 1 -11 1 -170 1 590 1 -419 1 79 1 14 1 -145 1 76 1 329 1 -267 1 51 1 -193 1 440 1 -376 1 75 1 -58 1 31 1 339 1 -378 1 100 1 112 1 -252 1 136 1 -239 1 67 1 322 1 -266 1 107 1 6 1 17 1 -173 1 259 1 -167 1 260 1 -267 1 217 1 -5 1 -171 1 153 1 -308 1 303 1 -370 1 121 1 102 1 -77 1 61 1 -305 1 256 1 143 1 -136 1 102 1 -42 1 65 1 -3 1 -185 1 113 1 -108 1 146 1 -26 1 51 1 -255 1 -63 1 251 1 -124 1 352 1 -29 1 -291 1 342 1 -627 1 240 1 -93 1 248 1 165 1 -75 1 -7 1 -235 1 265 1 -23 1 -347 1 378 1 -80 1 -278 1 -160 1 585 1 104 1 -244 1 -130 1 35 1 94 1 104 1 -287 1 204 1 2 1 -93 1 -197 1 182 1 -331 1 395 1 -116 1 383 1 -204 1 -98 1 88 1 11 1 -19 1 53 1 -69 1 -92 1 -39 1 200 1 -116 1 82 1 -244 1 -114 1 226 1 -29 1 104 1 -97 1 90 1 151 1 -350 1 -137 1 225 1 92 1 -62 1 -172 1 302 1 -162 1 88 1 321 1 -254 1 -141 1 26 1 67 1 162 1 -225 1 16 1 -48 1 -170 1 249 1 -141 1 85 1 -311 1 315 1 -306 1 514 1 35 1 -250 1 71 1 -204 1 77 1 -7 1 229 1 -108 1 -129 1 211 1 -88 1 -161 1 188 1 -37 1 -150 1 114 1 267 1 -217 1 9 1 -47 1 -286 1 161 1 142 1 130 1 -216 1 87 1 -160 1 139 1 -101 1 249 1 -81 1 -32 1 121 1 -173 1 117 1 15 1 45 1 -92 1 206 1 -362 1 76 1 -26 1 -95 1 144 1 94 1 -215 1 249 1 -74 1 329 1 -229 1 -75 1 -111 1 19 1 -73 1 222 1 7 1 -104 1 157 1 -69 1 -66 1 285 1 -72 1 -285 1 147 1 -188 1 165 1 76 1 -228 1 115 1 -88 1 154 1 35 1 -82 1 87 1 -85 1 104 1 -197 1 -55 1 47 1 250 1 -354 1 421 1 -265 1 28 1 -103 1 213 1 -14 1 -254 1 11 1 314 1 -95 1 65 1 262 1 -525 1 271 1 -96 1 -27 1 217 1 -322 1 218 1 135 1 -239 1 31 1 102 1 -69 1 -252 1 154 1 115 1 46 1 -303 1 340 1 222 1 -445 1 252 1 246 1 -118 1 3 1 115 1 -206 1 -20 1 -336 1 254 1 48 1 -51 1 -49 1 -116 1 -55 1 456 1 -66 1 -203 1 -284 1 328 1 -219 1 222 1 -5 1 -45 1 -224 1 274 1 -82 1 -13 1 -80 1 117 1 -104 1 -128 1 113 1 173 1 -33 1 -58 1 81 1 124 1 -31 1 -68 1 198 1 -690 1 288 1 207 1 20 1 -275 1 380 1 -60 1 -277 1 162 1 -119 1 95 1 28 1 98 1 -159 1 29 1 1 1 94 1 -224 1 159 1 -53 1 245 1 59 1 -338 1 203 1 15 1 -166 1 -149 1 229 1 8 1 -103 1 -10 1 68 1 261 1 -364 1 222 1 -406 1 389 1 -130 1 34 1 -42 1 -330 1 384 1 -182 1 134 1 47 1 -166 1 61 1 85 1 115 1 -198 1 -427 1 501 1 -121 1 182 1 -560 1 695 1 -115 1 183 1 -371 1 53 1 -28 1 70 1 -223 1 38 1 34 1 536 1 -252 1 -145 1 -120 1 528 1 -616 1 177 1 -182 1 400 1 -54 1 40 1 -66 1 27 1 131 1 -415 1 103 1 187 1 182 1 -455 1 488 1 -169 1 12 1 -78 1 -168 1 -56 1 75 1 203 1 -353 1 19 1 61 1 -221 1 496 1 -39 1 6 1 -30 1 -171 1 61 1 96 1 -229 1 173 1 57 1 5 1 103 1 -153 1 95 1 -104 1 -61 1 -11 1 129 1 -337 1 413 1 -264 1 96 1 -37 1 139 1 16 1 -203 1 337 1 -271 1 224 1 59 1 -272 1 88 1 -354 1 526 1 -271 1 1 1 -11 1 95 1 162 1 -344 1 5 1 45 1 18 1 -163 1 26 1 40 1 189 1 -222 1 272 1 -196 1 194 1 -117 1 -135 1 155 1 -171 1 201 1 -309 1 271 1 -391 1 290 1 120 1 147 1 -111 1 -354 1 467 1 45 1 -263 1 -145 1 229 1 68 1 -96 1 2 1 -198 1 -105 1 279 1 94 1 51 1 85 1 -224 1 224 1 -327 1 151 1 55 1 -302 1 462 1 -379 1 123 1 -23 1 40 1 150 1 -255 1 -92 1 461 1 -313 1 32 1 24 1 -104 1 84 1 39 1 -232 1 319 1 -83 1 2 1 53 1 -31 1 -282 1 319 1 -482 1 587 1 126 1 -247 1 73 1 -348 1 116 1 222 1 -122 1 19 1 -428 1 348 1 -19 1 -45 1 35 1 38 1 128 1 -142 1 -34 1 240 1 -198 1 184 1 66 1 -236 1 -86 1 -50 1 216 1 126 1 -74 1 -96 1 -23 1 -82 1 90 1 -174 1 239 1 -150 1 -36 1 37 1 -30 1 214 1 -294 1 199 1 -48 1 119 1 -200 1 122 1 49 1 -198 1 206 1 -173 1 10 1 -39 1 77 1 173 1 -203 1 -33 1 -215 1 16 1 122 1 -9 1 501 1 -293 1 87 1 -249 1 -2 1 -1 1 -7 1 27 1 60 1 61 1 -178 1 108 1 -146 1 237 1 -14 1 75 1 -201 1 218 1 213 1 -225 1 -23 1 -97 1 53 1 -225 1 133 1 -79 1 -54 1 45 1 10 1 200 1 -122 1 72 1 -119 1 194 1 -170 1 151 1 -190 1 -62 1 8 1 234 1 -253 1 424 1 -269 1 237 1 -208 1 169 1 -150 1 97 1 -281 1 -120 1 183 1 -33 1 72 1 86 1 24 1 128 1 -51 1 -224 1 155 1 -94 1 187 1 -449 1 134 1 192 1 -279 1 196 1 -85 1 181 1 38 1 -288 1 103 1 -12 1 -25 1 142 1 78 1 -119 1 320 1 -261 1 -150 1 200 1 -307 1 319 1 110 1 -238 1 109 1 -114 1 192 1 -160 1 70 1 -19 1 -99 1 233 1 -99 1 -182 1 -16 1 56 1 259 1 -195 1 90 1 -12 1 176 1 83 1 -439 1 31 1 321 1 -159 1 -76 1 106 1 -154 1 121 1 144 1 -145 1 -127 1 190 1 -234 1 -40 1 64 1 14 1 91 1 -82 1 188 1 239 1 -241 1 -301 1 66 1 291 1 -116 1 67 1 67 1 -124 1 -160 1 121 1 31 1 263 1 -605 1 467 1 -166 1 -114 1 80 1 -101 1 439 1 -221 1 -37 1 100 1 43 1 -354 1 318 1 -332 1 30 1 182 1 136 1 -115 1 19 1 -16 1 21 1 -127 1 32 1 -32 1 -3 1 -185 1 -96 1 292 1 22 1 24 1 -159 1 35 1 83 1 35 1 -108 1 -76 1 199 1 -120 1 315 1 -173 1 -165 1 280 1 -6 1 -247 1 318 1 -232 1 -342 1 248 1 -214 1 40 1 320 1 -70 1 -84 1 -96 1 -47 1 92 1 68 1 206 1 -291 1 229 1 -227 1 -62 1 406 1 -492 1 315 1 -179 1 16 1 -136 1 92 1 -63 1 100 1 227 1 -85 1 -132 1 -28 1 121 1 111 1 78 1 -175 1 -419 1 432 1 59 1 -145 1 -17 1 82 1 307 1 -180 1 -11 1 -182 1 190 1 -47 1 127 1 -74 1 -392 1 190 1 43 1 176 1 47 1 -305 1 151 1 -94 1 54 1 14 1 364 1 -480 1 -120 1 248 1 43 1 -51 1 70 1 213 1 -199 1 -45 1 -138 1 288 1 -95 1 -56 1 -79 1 -212 1 190 1 -4 1 260 1 -395 1 478 1 -437 1 77 1 109 1 166 1 -205 1 138 1 -275 1 608 1 -421 1 375 1 -371 1 54 1 -165 1 286 1 -22 1 173 1 -238 1 -93 1 67 1 106 1 -101 1 -115 1 39 1 328 1 -210 1 71 1 282 1 -481 1 24 1 196 1 -225 1 51 1 101 1 -114 1 69 1 73 1 -260 1 376 1 -505 1 243 1 88 1 -131 1 176 1 -74 1 -328 1 209 1 95 1 7 1 -148 1 7 1 171 1 -217 1 165 1 -4 1 -111 1 206 1 107 1 -215 1 -147 1 169 1 -160 1 -44 1 220 1 -52 1 31 1 -109 1 24 1 47 1 -163 1 135 1 23 1 140 1 -106 1 -182 1 98 1 74 1 23 1 107 1 -22 1 -238 1 151 1 -7 1 -176 1 232 1 3 1 -260 1 104 1 306 1 -218 1 129 1 -34 1 -37 1 184 1 -131 1 -358 1 272 1 26 1 -206 1 323 1 -171 1 -208 1 177 1 -43 1 86 1 -84 1 -59 1 108 1 -45 1 -30 1 305 1 -384 1 -123 1 137 1 87 1 70 1 -113 1 -223 1 52 1 302 1 -325 1 314 1 -13 1 -68 1 -109 1 111 1 -187 1 97 1 -180 1 423 1 -209 1 -80 1 -113 1 513 1 -251 1 244 1 -346 1 137 1 -122 1 -87 1 33 1 150 1 -127 1 -346 1 504 1 -145 1 158 1 -195 1 224 1 -185 1 303 1 -246 1 -319 1 514 1 -70 1 -214 1 290 1 178 1 -87 1 -275 1 -147 1 139 1 -1 1 -147 1 157 1 -193 1 -17 1 247 1 -213 1 87 1 111 1 -3 1 -168 1 328 1 49 1 -398 1 -111 1 235 1 -101 1 372 1 -49 1 -101 1 -32 1 -80 1 86 1 -51 1 10 1 -124 1 -60 1 42 1 -67 1 224 1 28 1 191 1 -33 1 -344 1 40 1 63 1 59 1 145 1 128 1 -214 1 -56 1 310 1 -550 1 290 1 -152 1 -118 1 -30 1 248 1 -174 1 11 1 127 1 -47 1 163 1 -154 1 133 1 -63 1 -32 1 -114 1 167 1 15 1 20 1 -448 1 453 1 -135 1 288 1 -224 1 180 1 -99 1 -180 1 -144 1 216 1 -71 1 49 1 100 1 -73 1 -119 1 103 1 72 1 16 1 -138 1 105 1 -179 1 333 1 -295 1 230 1 -113 1 -300 1 151 1 220 1 -18 1 -189 1 0 1 127 1 -107 1 158 1 338 1 -549 1 228 1 -168 1 118 1 22 1 75 1 -242 1 -10 1 -58 1 90 1 41 1 133 1 -90 1 -62 1 405 1 -192 1 -133 1 -139 1 -95 1 -44 1 341 1 -105 1 88 1 49 1 -66 1 -60 1 -89 1 329 1 -174 1 128 1 -345 1 -34 1 312 1 41 1 -187 1 -50 1 275 1 -84 1 -94 1 177 1 -367 1 214 1 -14 1 179 1 -357 1 361 1 -88 1 -14 1 -59 1 193 1 -91 1 -207 1 89 1 -22 1 -125 1 78 1 -70 1 153 1 119 1 -361 1 465 1 -61 1 -34 1 -507 1 328 1 -141 1 376 1 -65 1 -214 1 112 1 -89 1 -71 1 68 1 -14 1 -4 1 50 1 -68 1 -95 1 273 1 -167 1 -75 1 175 1 -31 1 -283 1 105 1 -151 1 55 1 300 1 48 1 -43 1 -160 1 608 1 -493 1 -174 1 174 1 -35 1 100 1 196 1 -378 1 179 1 -93 1 57 1 -262 1 221 1 21 1 87 1 110 1 -165 1 -106 1 147 1 307 1 -192 1 -386 1 366 1 -109 1 304 1 -185 1 38 1 -229 1 36 1 2 1 -52 1 223 1 -301 1 281 1 -164 1 -143 1 377 1 -140 1 60 1 -44 1 -24 1 50 1 -8 1 -85 1 285 1 -93 1 -37 1 124 1 -252 1 111 1 47 1 74 1 -52 1 -193 1 234 1 -303 1 38 1 41 1 303 1 -152 1 -263 1 203 1 64 1 7 1 -185 1 316 1 -411 1 118 1 181 1 -239 1 479 1 -209 1 -217 1 -173 1 373 1 33 1 -203 1 -19 1 125 1 3 1 -331 1 346 1 122 1 -157 1 -225 1 74 1 97 1 183 1 -175 1 -404 1 322 1 -76 1 368 1 -185 1 24 1 -335 1 286 1 -35 1 57 1 328 1 -577 1 430 1 -190 1 142 1 -141 1 -12 1 -2 1 -284 1 373 1 -126 1 -116 1 144 1 25 1 -344 1 157 1 226 1 -144 1 172 1 -204 1 253 1 -324 1 42 1 11 1 45 1 -27 1 136 1 -136 1 -79 1 19 1 201 1 -213 1 270 1 -63 1 26 1 -42 1 -80 1 -117 1 -46 1 96 1 162 1 -209 1 -32 1 257 1 58 1 -149 1 -305 1 326 1 -18 1 -114 1 265 1 -14 1 -134 1 -145 1 174 1 34 1 142 1 -469 1 402 1 -361 1 293 1 -273 1 -80 1 364 1 -205 1 -30 1 -80 1 233 1 -237 1 152 1 150 1 -288 1 -37 1 174 1 -6 1 -128 1 -120 1 416 1 -328 1 -146 1 424 1 -203 1 76 1 -51 1 -136 1 403 1 -164 1 123 1 -152 1 -291 1 422 1 -72 1 15 1 -144 1 112 1 65 1 -1 1 -89 1 156 1 174 1 -519 1 150 1 95 1 -54 1 -125 1 229 1 -118 1 74 1 -239 1 518 1 -128 1 -406 1 370 1 -67 1 44 1 164 1 -317 1 -100 1 57 1 219 1 -100 1 -316 1 256 1 98 1 -253 1 167 1 234 1 -143 1 -229 1 155 1 -11 1 -101 1 205 1 118 1 -206 1 92 1 -90 1 98 1 6 1 96 1 -245 1 -229 1 443 1 -357 1 64 1 193 1 50 1 -231 1 116 1 2 1 22 1 -331 1 505 1 -294 1 -212 1 248 1 -275 1 306 1 -15 1 -102 1 227 1 -113 1 -78 1 177 1 -153 1 -85 1 324 1 -145 1 -72 1 158 1 -243 1 -35 1 249 1 -111 1 118 1 -73 1 -80 1 85 1 -56 1 90 1 -217 1 30 1 212 1 -158 1 -295 1 437 1 -243 1 -191 1 403 1 -150 1 413 1 -499 1 96 1 -46 1 110 1 -107 1 -27 1 64 1 156 1 -19 1 -30 1 42 1 86 1 55 1 -175 1 113 1 -68 1 133 1 31 1 -125 1 -28 1 -346 1 320 1 -160 1 94 1 39 1 95 1 -130 1 22 1 255 1 -303 1 133 1 203 1 -112 1 -205 1 -29 1 167 1 -201 1 55 1 327 1 -65 1 -209 1 180 1 -22 1 -133 1 83 1 69 1 120 1 -502 1 498 1 -135 1 -212 1 156 1 133 1 18 1 -306 1 46 1 393 1 -63 1 -289 1 -141 1 322 1 -217 1 364 1 6 1 -49 1 -244 1 49 1 -75 1 359 1 -483 1 284 1 -435 1 333 1 289 1 -248 1 130 1 -345 1 183 1 -158 1 290 1 -8 1 -127 1 16 1 117 1 -219 1 -82 1 215 1 17 1 14 1 -146 1 90 1 -96 1 -111 1 207 1 -2 1 7 1 -258 1 222 1 -17 1 54 1 -168 1 76 1 229 1 -318 1 62 1 -127 1 111 1 81 1 116 1 -291 1 -30 1 300 1 -115 1 -73 1 83 1 -79 1 112 1 38 1 -259 1 421 1 -344 1 205 1 -117 1 114 1 -129 1 121 1 -134 1 247 1 -58 1 -143 1 -108 1 237 1 -384 1 343 1 -160 1 371 1 -135 1 -5 1 24 1 48 1 -164 1 53 1 -360 1 260 1 -59 1 326 1 -514 1 -13 1 377 1 -4 1 -40 1 -323 1 401 1 -39 1 74 1 -278 1 -95 1 267 1 -293 1 132 1 157 1 -198 1 -102 1 -16 1 108 1 -105 1 190 1 -57 1 -197 1 285 1 91 1 58 1 -92 1 196 1 -136 1 40 1 -134 1 158 1 -184 1 -25 1 -116 1 -30 1 -80 1 270 1 159 1 -308 1 55 1 123 1 -174 1 -177 1 242 1 112 1 -80 1 153 1 -416 1 458 1 -31 1 -298 1 173 1 146 1 -316 1 -28 1 404 1 -327 1 -44 1 -119 1 186 1 -28 1 78 1 -83 1 -151 1 144 1 193 1 -83 1 -308 1 464 1 -93 1 13 1 -302 1 306 1 -75 1 -53 1 -73 1 -12 1 269 1 5 1 33 1 -366 1 207 1 -45 1 20 1 210 1 27 1 -78 1 -429 1 344 1 -130 1 210 1 -520 1 371 1 243 1 -165 1 -113 1 -100 1 191 1 -141 1 53 1 25 1 95 1 -115 1 -110 1 149 1 51 1 -452 1 301 1 11 1 309 1 -365 1 386 1 -395 1 100 1 117 1 23 1 -121 1 58 1 208 1 -396 1 369 1 -203 1 44 1 -283 1 429 1 -368 1 78 1 484 1 -210 1 -104 1 65 1 -183 1 -44 1 -74 1 252 1 -171 1 97 1 -113 1 90 1 3 1 49 1 -123 1 46 1 163 1 165 1 -446 1 34 1 122 1 -180 1 179 1 -5 1 35 1 -241 1 -87 1 272 1 57 1 -245 1 29 1 35 1 295 1 -258 1 23 1 83 1 -102 1 83 1 -62 1 60 1 45 1 -275 1 249 1 -104 1 -35 1 267 1 -108 1 93 1 -100 1 148 1 -299 1 121 1 184 1 -226 1 215 1 61 1 -272 1 58 1 114 1 -191 1 40 1 39 1 -115 1 102 1 -127 1 135 1 -1 1 462 1 -353 1 -331 1 357 1 -59 1 51 1 204 1 -337 1 -174 1 33 1 273 1 103 1 -49 1 -160 1 122 1 -166 1 71 1 223 1 -10 1 -289 1 -8 1 107 1 -194 1 204 1 29 1 -49 1 -84 1 393 1 -344 1 7 1 138 1 5 1 -296 1 238 1 -31 1 -179 1 298 1 -512 1 446 1 -8 1 114 1 -114 1 58 1 -77 1 100 1 187 1 -519 1 79 1 27 1 9 1 -5 1 178 1 -510 1 498 1 82 1 -456 1 350 1 -66 1 160 1 -95 1 -91 1 13 1 203 1 -291 1 223 1 116 1 -343 1 81 1 71 1 78 1 -219 1 173 1 58 1 -169 1 41 1 208 1 -351 1 408 1 -135 1 -148 1 77 1 -141 1 27 1 424 1 -524 1 259 1 -81 1 110 1 45 1 -234 1 11 1 27 1 131 1 -305 1 169 1 -39 1 52 1 -47 1 -120 1 19 1 -1 1 136 1 3 1 178 1 -140 1 48 1 46 1 -129 1 -9 1 121 1 139 1 -205 1 -39 1 -52 1 160 1 40 1 76 1 -269 1 103 1 -183 1 286 1 -401 1 217 1 -2 1 -56 1 -74 1 -9 1 398 1 -186 1 -142 1 -18 1 40 1 153 1 -187 1 101 1 -28 1 -171 1 179 1 -75 1 -132 1 66 1 302 1 -19 1 120 1 -431 1 191 1 46 1 -84 1 149 1 -237 1 207 1 -246 1 66 1 41 1 -68 1 106 1 -35 1 -166 1 -62 1 159 1 -134 1 424 1 -236 1 13 1 69 1 -133 1 -196 1 191 1 -87 1 -34 1 -6 1 165 1 109 1 -238 1 46 1 187 1 -293 1 344 1 54 1 -167 1 186 1 -145 1 -16 1 62 1 -93 1 189 1 136 1 -430 1 -4 1 12 1 170 1 -124 1 104 1 -209 1 325 1 -217 1 107 1 -160 1 78 1 258 1 -195 1 95 1 -212 1 -59 1 271 1 -232 1 198 1 -80 1 -88 1 -156 1 105 1 -24 1 155 1 -44 1 -97 1 71 1 -4 1 -36 1 -177 1 34 1 0 1 147 1 147 1 64 1 -195 1 160 1 128 1 -230 1 -351 1 307 1 -27 1 35 1 -23 1 199 1 -219 1 -72 1 75 1 -1 1 51 1 -96 1 263 1 128 1 -203 1 -67 1 -103 1 193 1 -140 1 34 1 -111 1 168 1 -159 1 -18 1 145 1 -5 1 35 1 47 1 -6 1 47 1 -252 1 42 1 73 1 -35 1 13 1 -206 1 87 1 170 1 -146 1 319 1 -163 1 30 1 -167 1 107 1 32 1 1 1 89 1 -17 1 -53 1 -184 1 8 1 -58 1 -129 1 117 1 361 1 -163 1 -279 1 177 1 -38 1 11 1 230 1 -251 1 67 1 118 1 -192 1 -183 1 265 1 140 1 -153 1 107 1 206 1 -267 1 -127 1 201 1 -128 1 16 1 46 1 -5 1 -15 1 -4 1 -16 1 -95 1 122 1 52 1 -177 1 165 1 -377 1 339 1 -304 1 232 1 -3 1 -75 1 66 1 83 1 6 1 67 1 5 1 -235 1 455 1 -561 1 114 1 190 1 -278 1 -15 1 110 1 497 1 -59 1 -360 1 273 1 -211 1 105 1 -121 1 108 1 -44 1 230 1 -236 1 120 1 -268 1 240 1 -140 1 -26 1 101 1 90 1 -132 1 45 1 -122 1 233 1 43 1 -271 1 44 1 -111 1 -32 1 447 1 -296 1 12 1 12 1 -127 1 -140 1 281 1 -9 1 -97 1 -13 1 121 1 -132 1 -59 1 245 1 -247 1 282 1 -272 1 296 1 -5 1 63 1 -160 1 -31 1 19 1 22 1 -26 1 32 1 -21 1 -70 1 97 1 -99 1 189 1 29 1 -297 1 223 1 -119 1 150 1 62 1 -18 1 -63 1 -305 1 277 1 -123 1 89 1 -66 1 177 1 -307 1 128 1 94 1 -175 1 304 1 -112 1 -156 1 -177 1 277 1 -335 1 82 1 295 1 -192 1 -98 1 273 1 -350 1 401 1 -412 1 40 1 -73 1 112 1 71 1 251 1 -457 1 145 1 -21 1 194 1 225 1 -382 1 187 1 -114 1 -80 1 251 1 -239 1 179 1 -5 1 -185 1 317 1 -123 1 -37 1 -171 1 157 1 -112 1 253 1 66 1 -187 1 -246 1 153 1 128 1 27 1 -277 1 114 1 286 1 77 1 -544 1 252 1 21 1 -30 1 63 1 -3 1 -13 1 268 1 -234 1 8 1 -209 1 25 1 198 1 -29 1 -30 1 -269 1 131 1 250 1 -302 1 322 1 -280 1 136 1 179 1 -98 1 -34 1 -168 1 -19 1 438 1 -170 1 -221 1 77 1 -9 1 -13 1 -15 1 -63 1 243 1 248 1 -378 1 141 1 136 1 -234 1 118 1 -78 1 265 1 -367 1 51 1 -51 1 126 1 20 1 -231 1 48 1 125 1 144 1 -244 1 132 1 -179 1 217 1 -110 1 -34 1 134 1 -142 1 281 1 -363 1 254 1 -9 1 -39 1 35 1 54 1 -123 1 111 1 -36 1 -76 1 45 1 65 1 -197 1 -148 1 347 1 -206 1 220 1 -51 1 108 1 -66 1 12 1 -100 1 24 1 -330 1 416 1 -221 1 -44 1 346 1 -18 1 -348 1 268 1 -134 1 317 1 -220 1 -113 1 -191 1 -123 1 362 1 -285 1 214 1 36 1 -5 1 0 1 165 1 -207 1 134 1 -202 1 -336 1 560 1 -402 1 376 1 -111 1 -181 1 64 1 -106 1 -28 1 214 1 27 1 -167 1 24 1 -149 1 534 1 -409 1 77 1 119 1 71 1 3 1 -1 1 -323 1 221 1 28 1 -36 1 -55 1 -38 1 99 1 26 1 83 1 -103 1 16 1 58 1 -40 1 -210 1 59 1 77 1 -131 1 158 1 -138 1 160 1 -196 1 117 1 118 1 120 1 -166 1 -6 1 169 1 -104 1 51 1 -123 1 220 1 -165 1 -255 1 129 1 137 1 -213 1 246 1 -167 1 71 1 115 1 -131 1 -266 1 452 1 -14 1 -352 1 322 1 -70 1 51 1 64 1 -178 1 224 1 -7 1 -99 1 -106 1 -145 1 211 1 -130 1 -52 1 126 1 -56 1 131 1 216 1 -330 1 260 1 -243 1 198 1 48 1 -162 1 155 1 -204 1 47 1 10 1 -242 1 107 1 140 1 -137 1 54 1 114 1 147 1 -88 1 -377 1 271 1 -58 1 -165 1 346 1 -255 1 493 1 -217 1 172 1 -311 1 -14 1 109 1 -9 1 -510 1 348 1 -21 1 188 1 -19 1 -161 1 60 1 -22 1 16 1 203 1 -303 1 31 1 -54 1 -16 1 -140 1 300 1 -88 1 -163 1 244 1 -212 1 233 1 -17 1 77 1 -131 1 -308 1 30 1 235 1 -61 1 -85 1 311 1 -93 1 -30 1 238 1 -161 1 -27 1 -48 1 -8 1 280 1 -378 1 134 1 -129 1 -12 1 112 1 -275 1 488 1 -248 1 -21 1 -191 1 215 1 -83 1 56 1 -262 1 345 1 64 1 -69 1 -115 1 -151 1 520 1 -159 1 -383 1 243 1 51 1 -34 1 54 1 26 1 -149 1 112 1 -356 1 592 1 -428 1 166 1 -315 1 378 1 -201 1 -157 1 161 1 177 1 -64 1 -69 1 -168 1 173 1 -76 1 234 1 -175 1 -162 1 206 1 41 1 -8 1 -218 1 84 1 28 1 174 1 142 1 -398 1 204 1 -180 1 58 1 145 1 66 1 -286 1 410 1 28 1 -559 1 337 1 -117 1 -114 1 -121 1 438 1 -127 1 -138 1 123 1 112 1 -252 1 369 1 -369 1 140 1 -6 1 90 1 -79 1 -180 1 98 1 -121 1 71 1 134 1 -10 1 -46 1 74 1 -264 1 368 1 -395 1 332 1 22 1 -125 1 172 1 -423 1 0 1 21 1 -40 1 68 1 439 1 -340 1 197 1 -227 1 160 1 9 1 61 1 -214 1 -74 1 319 1 -206 1 -11 1 65 1 19 1 -193 1 -12 1 81 1 19 1 -11 1 189 1 -74 1 -37 1 137 1 -246 1 -152 1 -30 1 299 1 21 1 44 1 -197 1 103 1 -159 1 325 1 -171 1 117 1 -121 1 70 1 236 1 -378 1 115 1 -27 1 30 1 125 1 -140 1 -99 1 -119 1 195 1 119 1 -243 1 177 1 23 1 -51 1 -71 1 275 1 -167 1 33 1 58 1 -279 1 456 1 -222 1 -26 1 -3 1 -183 1 485 1 -245 1 69 1 71 1 -114 1 -137 1 93 1 -315 1 493 1 -256 1 2 1 22 1 -75 1 109 1 -114 1 115 1 20 1 67 1 -63 1 -168 1 171 1 -154 1 121 1 -29 1 -185 1 354 1 -158 1 -131 1 38 1 37 1 -133 1 272 1 -73 1 -237 1 403 1 -233 1 -18 1 35 1 -21 1 172 1 -136 1 36 1 -72 1 20 1 -238 1 109 1 -145 1 170 1 76 1 -44 1 -84 1 302 1 94 1 1 1 -303 1 153 1 -5 1 -59 1 -89 1 164 1 52 1 -56 1 -176 1 124 1 -113 1 -71 1 159 1 82 1 51 1 -97 1 57 1 -148 1 213 1 -186 1 69 1 -167 1 254 1 -166 1 -87 1 315 1 -263 1 142 1 49 1 82 1 -210 1 97 1 -41 1 -146 1 528 1 -544 1 -203 1 334 1 55 1 -31 1 -141 1 -219 1 439 1 308 1 -458 1 58 1 2 1 14 1 277 1 -341 1 143 1 -142 1 112 1 44 1 111 1 -433 1 202 1 -51 1 -162 1 155 1 38 1 351 1 -478 1 48 1 294 1 72 1 -274 1 78 1 -223 1 369 1 -164 1 -101 1 32 1 232 1 42 1 -130 1 -358 1 405 1 -36 1 -181 1 49 1 -126 1 277 1 -8 1 -208 1 149 1 -31 1 147 1 -40 1 -1 1 -32 1 -8 1 -60 1 -1 1 -198 1 -102 1 278 1 -258 1 159 1 388 1 -355 1 233 1 -354 1 238 1 -284 1 35 1 273 1 71 1 -276 1 255 1 -98 1 -143 1 160 1 -117 1 -174 1 225 1 -35 1 180 1 286 1 -383 1 11 1 -64 1 74 1 94 1 -18 1 -100 1 130 1 75 1 -215 1 45 1 -96 1 141 1 -57 1 114 1 -58 1 -166 1 -125 1 270 1 -104 1 168 1 95 1 -122 1 -53 1 8 1 61 1 -138 1 -127 1 219 1 -120 1 -29 1 -55 1 50 1 -49 1 131 1 193 1 -19 1 -77 1 71 1 -32 1 -77 1 -10 1 51 1 -112 1 -208 1 406 1 -67 1 84 1 -322 1 37 1 313 1 -247 1 255 1 -246 1 57 1 -2 1 232 1 -264 1 -14 1 -145 1 161 1 20 1 81 1 -169 1 -33 1 7 1 -8 1 166 1 182 1 -216 1 -196 1 12 1 258 1 -362 1 101 1 70 1 256 1 -221 1 -27 1 -166 1 375 1 -26 1 -195 1 -6 1 21 1 190 1 9 1 -133 1 -31 1 -59 1 212 1 111 1 -365 1 167 1 6 1 -159 1 322 1 -189 1 46 1 -112 1 72 1 -97 1 276 1 -111 1 58 1 -270 1 -24 1 143 1 -83 1 119 1 55 1 -271 1 195 1 -209 1 -142 1 484 1 -265 1 132 1 -98 1 367 1 -399 1 207 1 -154 1 -18 1 -52 1 111 1 -54 1 81 1 171 1 -129 1 -22 1 -13 1 -62 1 -1 1 -117 1 -133 1 415 1 -173 1 -34 1 96 1 -127 1 401 1 -414 1 129 1 226 1 -224 1 -310 1 291 1 -288 1 -36 1 252 1 74 1 -137 1 -113 1 -48 1 209 1 169 1 -328 1 469 1 -214 1 -35 1 -64 1 144 1 -113 1 -113 1 128 1 117 1 -231 1 82 1 166 1 -11 1 -359 1 290 1 -106 1 153 1 -50 1 -11 1 74 1 -171 1 -40 1 26 1 162 1 22 1 183 1 -422 1 196 1 124 1 -7 1 -255 1 167 1 -150 1 78 1 -121 1 98 1 423 1 -585 1 362 1 -387 1 180 1 123 1 -32 1 44 1 -163 1 -21 1 254 1 75 1 -428 1 125 1 251 1 -327 1 -28 1 125 1 4 1 146 1 352 1 -513 1 203 1 -393 1 327 1 -135 1 178 1 90 1 -128 1 -368 1 305 1 290 1 -429 1 -30 1 287 1 -117 1 33 1 97 1 -123 1 218 1 -283 1 -107 1 253 1 -208 1 -12 1 20 1 -112 1 199 1 110 1 -228 1 42 1 383 1 -320 1 143 1 -62 1 -69 1 -197 1 152 1 158 1 -21 1 -110 1 -33 1 -319 1 523 1 -70 1 -218 1 187 1 -67 1 258 1 0 1 -316 1 240 1 -249 1 192 1 -112 1 -134 1 284 1 0 1 -274 1 164 1 38 1 -147 1 267 1 -128 1 161 1 8 1 -273 1 -72 1 130 1 225 1 -173 1 -69 1 54 1 -163 1 270 1 -166 1 100 1 -37 1 31 1 -116 1 235 1 -121 1 -103 1 -85 1 -24 1 137 1 -131 1 -25 1 194 1 -294 1 60 1 268 1 -23 1 49 1 -44 1 -73 1 17 1 99 1 -130 1 -107 1 42 1 32 1 136 1 -7 1 -268 1 220 1 95 1 -236 1 -102 1 431 1 -446 1 375 1 -257 1 115 1 87 1 59 1 -1 1 38 1 -125 1 -189 1 173 1 -316 1 300 1 73 1 -93 1 -233 1 318 1 -97 1 -139 1 218 1 -141 1 90 1 13 1 -22 1 6 1 -146 1 320 1 -61 1 -103 1 153 1 -98 1 47 1 -153 1 221 1 -186 1 59 1 -232 1 365 1 3 1 -15 1 -62 1 -29 1 -214 1 203 1 -72 1 -17 1 -77 1 268 1 -91 1 -100 1 -173 1 290 1 7 1 -196 1 81 1 6 1 -244 1 348 1 -195 1 -156 1 324 1 -390 1 208 1 42 1 -145 1 144 1 386 1 -387 1 47 1 175 1 -311 1 185 1 56 1 -423 1 149 1 -54 1 -31 1 436 1 -440 1 414 1 7 1 -195 1 104 1 -287 1 283 1 -153 1 82 1 95 1 -71 1 33 1 -75 1 51 1 -134 1 158 1 -70 1 -184 1 150 1 -315 1 385 1 -25 1 -39 1 -75 1 36 1 104 1 8 1 33 1 -61 1 210 1 -41 1 -2 1 -359 1 178 1 -115 1 152 1 -90 1 178 1 154 1 -227 1 40 1 19 1 97 1 -280 1 -19 1 28 1 -75 1 247 1 -184 1 93 1 66 1 -69 1 152 1 -78 1 -42 1 248 1 -446 1 75 1 29 1 -120 1 147 1 9 1 -147 1 308 1 122 1 -325 1 175 1 -177 1 56 1 178 1 -98 1 141 1 -154 1 42 1 -130 1 -143 1 223 1 62 1 -70 1 25 1 50 1 -95 1 186 1 -38 1 -164 1 -91 1 58 1 115 1 -201 1 96 1 -201 1 168 1 71 1 160 1 -338 1 26 1 -68 1 257 1 68 1 -335 1 175 1 349 1 -421 1 248 1 -366 1 51 1 438 1 -328 1 39 1 -89 1 267 1 31 1 -316 1 391 1 -271 1 -78 1 -45 1 42 1 -284 1 161 1 185 1 8 1 89 1 -138 1 -257 1 197 1 101 1 149 1 194 1 -334 1 98 1 -151 1 191 1 -259 1 135 1 45 1 -129 1 120 1 -60 1 93 1 -169 1 291 1 -227 1 -97 1 -41 1 45 1 -121 1 160 1 -333 1 427 1 215 1 23 1 -45 1 -247 1 233 1 -38 1 -293 1 345 1 -270 1 -113 1 -36 1 145 1 241 1 -64 1 -337 1 -20 1 282 1 -175 1 2 1 147 1 -206 1 280 1 -211 1 -8 1 115 1 65 1 -289 1 319 1 11 1 77 1 -170 1 1 1 86 1 -270 1 146 1 -72 1 275 1 -131 1 -263 1 58 1 101 1 -104 1 56 1 69 1 -14 1 -2 1 135 1 -306 1 -96 1 329 1 31 1 -335 1 278 1 -28 1 21 1 48 1 55 1 -152 1 313 1 -355 1 -67 1 245 1 13 1 -335 1 286 1 45 1 -199 1 290 1 134 1 -301 1 79 1 37 1 -9 1 -16 1 -53 1 286 1 -434 1 163 1 2 1 -1 1 -157 1 65 1 -262 1 615 1 -425 1 -20 1 547 1 -488 1 104 1 -4 1 -23 1 -72 1 107 1 39 1 -234 1 133 1 -111 1 -260 1 570 1 -72 1 -10 1 -84 1 -248 1 167 1 -85 1 -110 1 538 1 -226 1 50 1 -166 1 223 1 -379 1 298 1 35 1 54 1 49 1 -172 1 84 1 -134 1 116 1 -145 1 35 1 -130 1 56 1 184 1 -255 1 248 1 52 1 -262 1 303 1 -94 1 129 1 -1 1 -258 1 173 1 -362 1 26 1 147 1 147 1 -97 1 36 1 -189 1 417 1 -240 1 -31 1 -52 1 -33 1 161 1 -140 1 252 1 -333 1 107 1 76 1 -165 1 261 1 141 1 -319 1 71 1 75 1 63 1 -160 1 -63 1 239 1 81 1 -294 1 253 1 -346 1 -24 1 268 1 -407 1 353 1 -27 1 7 1 -85 1 -53 1 87 1 148 1 -44 1 168 1 -87 1 -170 1 19 1 90 1 -106 1 142 1 -116 1 -10 1 -134 1 10 1 290 1 -88 1 193 1 -526 1 576 1 -293 1 219 1 -215 1 -28 1 -63 1 184 1 -192 1 208 1 36 1 -31 1 9 1 -345 1 112 1 46 1 365 1 -263 1 -98 1 347 1 -389 1 284 1 -162 1 -36 1 58 1 -26 1 -64 1 -105 1 -64 1 15 1 188 1 310 1 -119 1 -97 1 -151 1 -84 1 219 1 39 1 -108 1 -10 1 -80 1 -12 1 125 1 327 1 -276 1 348 1 -385 1 -405 1 209 1 123 1 -260 1 471 1 -196 1 -20 1 178 1 -31 1 -180 1 51 1 120 1 -69 1 -108 1 131 1 77 1 -157 1 51 1 -25 1 190 1 -165 1 46 1 151 1 -428 1 198 1 -8 1 -77 1 -73 1 47 1 239 1 -138 1 120 1 -55 1 -80 1 -97 1 314 1 -256 1 49 1 205 1 -544 1 434 1 -183 1 183 1 -59 1 -78 1 118 1 2 1 -175 1 26 1 -184 1 323 1 290 1 -58 1 -270 1 224 1 68 1 -369 1 392 1 3 1 -256 1 -132 1 56 1 278 1 -275 1 257 1 -182 1 476 1 -278 1 -227 1 57 1 -71 1 586 1 -720 1 62 1 -175 1 374 1 -220 1 34 1 121 1 -105 1 64 1 -94 1 140 1 -56 1 121 1 -31 1 -92 1 -8 1 -11 1 -74 1 224 1 18 1 125 1 -432 1 -81 1 216 1 -45 1 204 1 -112 1 -185 1 160 1 234 1 -243 1 35 1 -128 1 -112 1 238 1 -59 1 -71 1 265 1 -92 1 198 1 -274 1 -73 1 52 1 -18 1 177 1 23 1 -310 1 81 1 140 1 -131 1 185 1 32 1 -192 1 67 1 -51 1 -290 1 274 1 41 1 -269 1 410 1 -82 1 47 1 -57 1 -339 1 626 1 -467 1 370 1 45 1 -221 1 -9 1 24 1 114 1 -236 1 269 1 -264 1 -324 1 591 1 -219 1 41 1 240 1 -214 1 -140 1 14 1 30 1 184 1 -63 1 92 1 -301 1 278 1 45 1 -58 1 -321 1 473 1 -351 1 25 1 181 1 -104 1 250 1 -265 1 -7 1 168 1 -138 1 33 1 -90 1 -28 1 -52 1 176 1 -100 1 -40 1 -116 1 222 1 72 1 39 1 -75 1 230 1 -91 1 -248 1 -184 1 76 1 286 1 -270 1 130 1 127 1 -265 1 46 1 -11 1 28 1 -70 1 170 1 2 1 47 1 -225 1 66 1 -76 1 192 1 0 1 -38 1 3 1 37 1 -245 1 179 1 393 1 -284 1 -127 1 22 1 2 1 56 1 -251 1 327 1 -202 1 -13 1 6 1 -175 1 442 1 -32 1 -153 1 -41 1 2 1 174 1 -42 1 -289 1 145 1 13 1 -17 1 -129 1 275 1 -62 1 287 1 -172 1 -82 1 -40 1 195 1 96 1 -85 1 161 1 -152 1 -120 1 -99 1 -160 1 187 1 129 1 -148 1 81 1 -214 1 -7 1 393 1 -194 1 -332 1 127 1 191 1 408 1 -537 1 37 1 76 1 -146 1 62 1 -44 1 123 1 -2 1 -93 1 98 1 129 1 9 1 -208 1 148 1 3 1 -24 1 -182 1 382 1 52 1 -363 1 63 1 -242 1 255 1 175 1 -258 1 -11 1 -5 1 4 1 -243 1 362 1 -104 1 72 1 236 1 -79 1 -39 1 -81 1 128 1 -388 1 204 1 138 1 -30 1 -132 1 99 1 49 1 19 1 -182 1 -248 1 641 1 -343 1 -59 1 123 1 -444 1 293 1 256 1 -274 1 208 1 -287 1 107 1 -174 1 305 1 -190 1 -174 1 281 1 113 1 -103 1 -81 1 82 1 -126 1 -91 1 278 1 107 1 -101 1 112 1 -115 1 -68 1 209 1 -242 1 0 1 221 1 -163 1 185 1 -305 1 133 1 -96 1 -135 1 109 1 99 1 -42 1 116 1 -51 1 -246 1 326 1 -65 1 -41 1 -32 1 -56 1 260 1 -103 1 -51 1 -61 1 -50 1 28 1 60 1 144 1 32 1 6 1 -295 1 -100 1 335 1 79 1 -132 1 -80 1 106 1 -57 1 -136 1 46 1 122 1 117 1 -156 1 -191 1 379 1 -449 1 193 1 -177 1 302 1 40 1 79 1 -216 1 1 1 61 1 -49 1 -48 1 166 1 -234 1 346 1 -162 1 -134 1 90 1 -58 1 243 1 -171 1 -36 1 190 1 -274 1 266 1 -59 1 77 1 -207 1 126 1 -181 1 -33 1 163 1 -124 1 -167 1 477 1 1 1 -478 1 370 1 -530 1 284 1 450 1 -450 1 134 1 -41 1 -104 1 206 1 -53 1 -75 1 253 1 -196 1 -78 1 38 1 -7 1 18 1 270 1 -155 1 147 1 -333 1 -83 1 102" fill="none" stroke="#17becf" stroke-width="0.9" vector-effect="non-scaling-stroke" stroke-linejoin="bevel"/>
<path d="M1488.5 740.7 1491.0 740.7 1493.4 738.6 1495.9 738.0 1498.3 738.9 1500.8 739.8 1503.2 743.0 1505.7 741.8 1508.1 738.8 1510.6 740.4 1513.0 741.1 1515.5 740.6 1517.9 742.0 1520.4 742.2 1522.8 739.5 1525.3 739.8 1527.7 741.5 1530.2 743.3 1532.6 742.7 1535.1 743.4 1537.5 742.5 1540.0 741.9 1542.4 743.1 1544.9 745.0 1547.3 744.9 1549.8 746.4 1552.2 746.3 1554.7 743.7 1557.1 742.9 1559.6 741.9 1562.0 740.3 1564.5 741.8 1566.9 742.3 1569.4 741.3 1571.8 741.9 1574.3 740.7 1576.7 741.1 1579.2 740.0 1581.6 742.7 1584.1 743.8 1586.5 743.5 1589.0 743.2 1591.4 742.8 1593.9 742.5 1596.3 742.5 1598.8 742.7 1601.2 745.4 1603.7 744.0 1606.1 745.6 1608.6 746.3 1611.0 745.4 1613.5 744.3 1615.9 742.5 1618.4 742.1 1620.8 743.0 1623.3 744.5 1625.7 743.3 1628.2 742.3 1630.6 743.7 1633.1 744.3 1635.5 744.4 1638.0 745.4 1640.4 745.1 1642.9 746.0 1645.3 743.7 1647.8 743.3 1650.2 743.3 1652.7 741.5 1655.2 741.4 1657.6 741.2 1660.1 742.2 1662.5 741.4 1665.0 740.9 1667.4 741.5 1669.9 741.1 1672.3 738.8 1674.8 738.0 1677.2 739.2 1679.7 739.2 1682.1 738.6 1684.6 740.0 1687.0 738.8 1689.5 737.8 1691.9 739.7 1694.4 741.5 1696.8 743.0 1699.3 743.7 1701.7 745.3 1704.2 745.1 1706.6 743.8 1709.1 743.5 1711.5 741.6 1714.0 740.9 1716.4 740.0 1718.9 738.0 1721.3 740.0 1723.8 740.5 1726.2 741.9 1728.7 740.4 1731.1 739.5 1733.6 737.9 1736.0 738.9 1738.5 740.4 1740.9 739.8 1743.4 740.0 1745.8 741.4 1748.3 744.1 1750.7 743.5 1753.2 741.5 1755.6 741.1 1758.1 743.8 1760.5 743.6 1763.0 740.4 1765.4 738.9 1767.9 739.0 1770.3 740.1 1772.8 740.8 1775.2 741.9 1777.7 742.0 1780.1 741.5 1782.6 738.3 1785.0 739.9 1787.5 741.8 1789.9 742.6 1792.4 743.4 1794.8 740.5 1797.3 741.0 1799.7 743.2 1802.2 743.4 1804.6 742.2 1807.1 739.6 1809.5 738.9 1812.0 740.3 1814.5 742.5 1816.9 744.1 1819.4 744.2 1821.8 745.1 1824.3 742.5 1826.7 742.3 1829.2 742.1 1831.6 741.5 1834.1 742.2 1836.5 739.8 1839.0 737.4 1841.4 738.2 1843.9 740.2 1846.3 740.3 1848.8 741.4 1851.2 743.5 1853.7 741.0 1856.1 740.8 1858.6 739.4 1861.0 739.0 1863.5 741.7 1865.9 743.0 1868.4 742.9 1870.8 741.2 1873.3 742.4 1875.7 743.6 1878.2 742.3 1880.6 741.3 1883.1 742.7 1885.5 743.0 1888.0 743.7 1890.4 743.3 1892.9 742.6 1895.3 743.8 1897.8 743.7 1900.2 742.1 1902.7 744.4 1905.1 742.3 1907.6 740.3 1910.0 742.0 1912.5 743.2 1914.9 744.7 1917.4 743.3 1919.8 743.9 1922.3 744.4 1924.7 745.2 1927.2 746.1 1929.6 744.5 1932.1 744.8 1934.5 745.7 1937.0 744.8 1939.4 743.4 1941.9 741.2 1944.3 740.5 1946.8 742.0 1949.2 742.0 1951.7 740.4 1954.1 740.8 1956.6 741.6 1959.0 740.3 1961.5 739.5 1963.9 740.8 1966.4 741.5 1968.8 741.1 1971.3 741.9 1973.7 742.8 1976.2 742.2 1976.2 755.8 1973.7 756.3 1971.3 755.4 1968.8 754.7 1966.4 755.1 1963.9 754.4 1961.5 753.0 1959.0 753.8 1956.6 755.1 1954.1 754.4 1951.7 754.0 1949.2 755.5 1946.8 755.5 1944.3 754.1 1941.9 754.8 1939.4 756.9 1937.0 758.3 1934.5 759.2 1932.1 758.4 1929.6 758.1 1927.2 759.7 1924.7 758.7 1922.3 757.9 1919.8 757.4 1917.4 756.9 1914.9 758.2 1912.5 756.8 1910.0 755.5 1907.6 753.9 1905.1 755.8 1902.7 758.0 1900.2 755.7 1897.8 757.2 1895.3 757.3 1892.9 756.2 1890.4 756.8 1888.0 757.2 1885.5 756.5 1883.1 756.3 1880.6 754.9 1878.2 755.8 1875.7 757.2 1873.3 755.9 1870.8 754.8 1868.4 756.5 1865.9 756.5 1863.5 755.3 1861.0 752.6 1858.6 753.0 1856.1 754.4 1853.7 754.6 1851.2 757.0 1848.8 754.9 1846.3 753.8 1843.9 753.8 1841.4 751.8 1839.0 751.0 1836.5 753.4 1834.1 755.7 1831.6 755.1 1829.2 755.6 1826.7 755.9 1824.3 756.1 1821.8 758.7 1819.4 757.8 1816.9 757.6 1814.5 756.1 1812.0 753.8 1809.5 752.5 1807.1 753.2 1804.6 755.7 1802.2 757.0 1799.7 756.8 1797.3 754.6 1794.8 754.0 1792.4 756.9 1789.9 756.1 1787.5 755.4 1785.0 753.4 1782.6 751.8 1780.1 755.1 1777.7 755.5 1775.2 755.4 1772.8 754.4 1770.3 753.7 1767.9 752.5 1765.4 752.4 1763.0 754.0 1760.5 757.1 1758.1 757.3 1755.6 754.7 1753.2 755.1 1750.7 757.1 1748.3 757.7 1745.8 755.0 1743.4 753.6 1740.9 753.4 1738.5 753.9 1736.0 752.5 1733.6 751.4 1731.1 753.0 1728.7 753.9 1726.2 755.5 1723.8 754.0 1721.3 753.6 1718.9 751.5 1716.4 753.5 1714.0 754.5 1711.5 755.1 1709.1 757.1 1706.6 757.3 1704.2 758.6 1701.7 758.9 1699.3 757.3 1696.8 756.5 1694.4 755.0 1691.9 753.2 1689.5 751.4 1687.0 752.3 1684.6 753.6 1682.1 752.1 1679.7 752.8 1677.2 752.8 1674.8 751.6 1672.3 752.4 1669.9 754.7 1667.4 755.1 1665.0 754.5 1662.5 755.0 1660.1 755.8 1657.6 754.8 1655.2 755.0 1652.7 755.1 1650.2 756.9 1647.8 756.9 1645.3 757.3 1642.9 759.6 1640.4 758.7 1638.0 759.0 1635.5 758.0 1633.1 757.9 1630.6 757.3 1628.2 755.8 1625.7 756.8 1623.3 758.1 1620.8 756.5 1618.4 755.6 1615.9 756.1 1613.5 757.8 1611.0 758.9 1608.6 759.9 1606.1 759.2 1603.7 757.5 1601.2 758.9 1598.8 756.2 1596.3 756.0 1593.9 756.1 1591.4 756.4 1589.0 756.7 1586.5 757.1 1584.1 757.3 1581.6 756.2 1579.2 753.5 1576.7 754.7 1574.3 754.2 1571.8 755.5 1569.4 754.9 1566.9 755.9 1564.5 755.4 1562.0 753.8 1559.6 755.4 1557.1 756.4 1554.7 757.3 1552.2 759.9 1549.8 759.9 1547.3 758.5 1544.9 758.5 1542.4 756.7 1540.0 755.4 1537.5 756.1 1535.1 757.0 1532.6 756.3 1530.2 756.8 1527.7 755.1 1525.3 753.4 1522.8 753.1 1520.4 755.7 1517.9 755.6 1515.5 754.1 1513.0 754.7 1510.6 754.0 1508.1 752.4 1505.7 755.3 1503.2 756.5 1500.8 753.3 1498.3 752.5 1495.9 751.5 1493.4 752.2 1491.0 754.3 1488.5 754.2Z" fill="#2ca02c" stroke="#2ca02c" stroke-width="1.5" stroke-linejoin="round"/>
<path transform="translate(1488.50,0) scale(0.09756,0.1)" d="M0 7463l1 67 1 -36 1 199 1 -102 1 71 1 -65 1 -173 1 -47 1 -18 1 180 1 -87 1 57 1 -63 1 17 1 85 1 -159 1 136 1 8 1 -27 1 31 1 86 1 -133 1 -39 1 -28 1 89 1 -174 1 190 1 -3 1 149 1 -336 1 45 1 -17 1 246 1 -192 1 198 1 -231 1 109 1 25 1 -41 1 24 1 -154 1 32 1 221 1 -197 1 280 1 -362 1 194 1 -19 1 -16 1 -205 1 136 1 61 1 -50 1 79 1 -118 1 127 1 -15 1 -8 1 -130 1 85 1 28 1 103 1 -213 1 113 1 -57 1 51 1 -46 1 5 1 163 1 7 1 -122 1 125 1 -195 1 53 1 -88 1 33 1 6 1 110 1 -79 1 -60 1 -11 1 58 1 28 1 45 1 -32 1 20 1 -136 1 -3 1 120 1 35 1 -119 1 -43 1 50 1 155 1 29 1 -266 1 62 1 117 1 -40 1 6 1 -10 1 88 1 -155 1 134 1 42 1 -197 1 91 1 -88 1 74 1 -55 1 -63 1 119 1 -59 1 130 1 -80 1 245 1 -193 1 56 1 70 1 -195 1 53 1 -34 1 158 1 -140 1 -166 1 123 1 162 1 -165 1 39 1 73 1 15 1 -83 1 194 1 -272 1 29 1 22 1 -14 1 -41 1 230 1 -130 1 -30 1 -14 1 94 1 -27 1 -67 1 8 1 -99 1 302 1 -155 1 26 1 -44 1 19 1 59 1 -75 1 135 1 -18 1 3 1 -94 1 -43 1 -46 1 220 1 -89 1 -120 1 94 1 -114 1 -5 1 169 1 -2 1 -42 1 69 1 -61 1 17 1 -181 1 149 1 40 1 -52 1 -15 1 203 1 -85 1 22 1 -106 1 -56 1 110 1 61 1 -191 1 96 1 -33 1 -52 1 -31 1 125 1 37 1 18 1 -26 1 -92 1 -216 1 182 1 90 1 -38 1 14 1 86 1 -116 1 -32 1 12 1 76 1 -68 1 51 1 -28 1 123 1 -218 1 85 1 199 1 -203 1 -76 1 -192 1 325 1 -209 1 210 1 -162 1 26 1 80 1 76 1 -7 1 -174 1 -36 1 154 1 0 1 37 1 -63 1 50 1 -133 1 16 1 35 1 116 1 39 1 -85 1 -152 1 47 1 79 1 -82 1 31 1 134 1 -200 1 34 1 196 1 -71 1 -99 1 -67 1 25 1 195 1 -45 1 -148 1 169 1 -86 1 51 1 -72 1 157 1 -3 1 -30 1 -259 1 4 1 15 1 202 1 37 1 -117 1 64 1 64 1 -145 1 137 1 -180 1 71 1 55 1 83 1 -110 1 -7 1 -54 1 48 1 8 1 107 1 -64 1 -50 1 -40 1 58 1 102 1 -32 1 -52 1 -83 1 78 1 65 1 -83 1 3 1 -128 1 121 1 48 1 -45 1 -43 1 198 1 -122 1 57 1 -34 1 -19 1 -147 1 55 1 39 1 108 1 -111 1 -19 1 178 1 5 1 -252 1 24 1 80 1 -76 1 7 1 -122 1 438 1 -265 1 -71 1 72 1 84 1 59 1 -224 1 -62 1 337 1 -67 1 -148 1 -14 1 127 1 70 1 -218 1 -17 1 269 1 -162 1 -41 1 41 1 -125 1 87 1 -14 1 25 1 142 1 -307 1 236 1 -50 1 -118 1 47 1 79 1 160 1 -185 1 -93 1 116 1 108 1 -235 1 -83 1 99 1 -8 1 235 1 -97 1 155 1 -287 1 33 1 267 1 -272 1 -37 1 158 1 -48 1 -157 1 243 1 -159 1 -49 1 68 1 55 1 -49 1 -20 1 -30 1 -67 1 259 1 -120 1 9 1 -145 1 234 1 -252 1 223 1 -5 1 51 1 -97 1 29 1 -53 1 29 1 -71 1 22 1 238 1 -298 1 97 1 5 1 46 1 -120 1 109 1 -126 1 193 1 -235 1 28 1 210 1 -167 1 114 1 58 1 -60 1 -57 1 69 1 -93 1 -59 1 228 1 41 1 -166 1 -18 1 8 1 -49 1 14 1 216 1 -170 1 70 1 -58 1 100 1 -161 1 52 1 44 1 71 1 -266 1 70 1 23 1 116 1 13 1 -202 1 169 1 -109 1 -103 1 314 1 -23 1 -138 1 181 1 -112 1 20 1 -116 1 188 1 -127 1 -40 1 150 1 -15 1 -167 1 17 1 203 1 -8 1 -278 1 131 1 62 1 -61 1 5 1 -46 1 -98 1 12 1 178 1 -18 1 -18 1 -168 1 46 1 260 1 -117 1 -1 1 -142 1 -4 1 150 1 42 1 -99 1 -36 1 22 1 118 1 -71 1 -68 1 18 1 -13 1 124 1 -37 1 -51 1 268 1 -224 1 -71 1 17 1 66 1 -25 1 -78 1 69 1 122 1 -168 1 187 1 -72 1 -251 1 151 1 -48 1 22 1 -22 1 56 1 -57 1 58 1 83 1 -107 1 20 1 -65 1 -25 1 -15 1 194 1 -100 1 -124 1 191 1 15 1 -20 1 5 1 19 1 -207 1 172 1 -47 1 98 1 -273 1 266 1 25 1 -188 1 146 1 -68 1 -129 1 236 1 -251 1 192 1 197 1 -245 1 49 1 72 1 -327 1 241 1 121 1 -152 1 -96 1 17 1 96 1 16 1 -13 1 81 1 -138 1 7 1 -86 1 205 1 -230 1 43 1 25 1 97 1 -80 1 87 1 -112 1 88 1 66 1 -50 1 64 1 -137 1 76 1 52 1 -280 1 204 1 -104 1 164 1 -88 1 88 1 -106 1 28 1 -168 1 397 1 -194 1 -132 1 299 1 -236 1 71 1 -28 1 90 1 -12 1 122 1 -119 1 -18 1 44 1 -196 1 122 1 -91 1 68 1 118 1 -73 1 1 1 18 1 -119 1 18 1 85 1 -71 1 119 1 -35 1 -155 1 18 1 14 1 -57 1 133 1 24 1 -48 1 -63 1 -35 1 122 1 10 1 -104 1 59 1 36 1 84 1 -52 1 -26 1 -19 1 18 1 -87 1 80 1 34 1 6 1 -55 1 -12 1 -4 1 4 1 87 1 -151 1 195 1 85 1 -234 1 1 1 128 1 -20 1 -114 1 -5 1 135 1 1 1 -101 1 -64 1 -71 1 168 1 -22 1 107 1 -54 1 196 1 -39 1 -260 1 75 1 87 1 -155 1 105 1 31 1 17 1 -50 1 -149 1 173 1 -211 1 112 1 -43 1 93 1 108 1 -189 1 172 1 -185 1 20 1 83 1 63 1 -10 1 -123 1 122 1 175 1 -124 1 -210 1 49 1 116 1 -45 1 0 1 -236 1 300 1 -27 1 -74 1 -39 1 69 1 -115 1 68 1 51 1 6 1 -38 1 -9 1 -40 1 -72 1 121 1 -90 1 -2 1 119 1 144 1 -188 1 -14 1 -84 1 276 1 -229 1 69 1 -52 1 -63 1 72 1 -24 1 26 1 122 1 -121 1 57 1 -69 1 177 1 -213 1 41 1 30 1 21 1 -112 1 51 1 -38 1 23 1 80 1 -64 1 -42 1 111 1 -80 1 25 1 -97 1 107 1 13 1 51 1 -15 1 -82 1 -57 1 236 1 -102 1 -71 1 -16 1 106 1 22 1 -63 1 -60 1 0 1 85 1 -81 1 52 1 -8 1 -101 1 75 1 -57 1 10 1 77 1 18 1 -66 1 24 1 -132 1 94 1 17 1 98 1 -57 1 -87 1 176 1 -2 1 -155 1 7 1 78 1 -45 1 36 1 -32 1 -83 1 17 1 -127 1 64 1 91 1 50 1 -100 1 65 1 3 1 -37 1 65 1 54 1 -95 1 73 1 27 1 -106 1 131 1 31 1 -269 1 96 1 84 1 -46 1 24 1 56 1 1 1 39 1 -146 1 -72 1 -9 1 109 1 -110 1 113 1 -77 1 -31 1 158 1 -47 1 30 1 39 1 -64 1 -86 1 -19 1 162 1 -47 1 -161 1 203 1 -36 1 -178 1 183 1 -78 1 75 1 117 1 -173 1 189 1 -22 1 -232 1 51 1 67 1 -92 1 -25 1 64 1 138 1 -15 1 -180 1 93 1 -106 1 182 1 -127 1 202 1 -205 1 19 1 -66 1 263 1 -52 1 -46 1 -93 1 -98 1 35 1 210 1 -68 1 -162 1 55 1 172 1 -165 1 2 1 -16 1 63 1 -33 1 -48 1 64 1 -64 1 20 1 10 1 93 1 -90 1 -24 1 125 1 25 1 -114 1 -20 1 121 1 -94 1 -134 1 340 1 -198 1 17 1 11 1 13 1 -53 1 45 1 33 1 -105 1 -102 1 172 1 -80 1 -35 1 187 1 -59 1 30 1 -46 1 -105 1 146 1 -167 1 -65 1 238 1 -75 1 -46 1 161 1 68 1 -168 1 78 1 -76 1 67 1 -21 1 7 1 -60 1 -67 1 63 1 -29 1 142 1 -234 1 41 1 -36 1 143 1 56 1 -105 1 137 1 -92 1 21 1 -6 1 115 1 -204 1 185 1 -119 1 22 1 147 1 -222 1 55 1 -149 1 0 1 221 1 98 1 -172 1 -81 1 92 1 -163 1 145 1 71 1 -42 1 -37 1 -80 1 135 1 -57 1 -55 1 89 1 -41 1 -64 1 34 1 -17 1 108 1 69 1 -40 1 -37 1 -73 1 84 1 30 1 -27 1 -58 1 71 1 -124 1 42 1 29 1 79 1 -198 1 110 1 -49 1 35 1 74 1 1 1 -4 1 -102 1 33 1 177 1 -178 1 188 1 -78 1 -157 1 106 1 33 1 196 1 -288 1 75 1 -14 1 101 1 -25 1 -74 1 161 1 -226 1 3 1 150 1 -17 1 -86 1 7 1 69 1 -60 1 83 1 40 1 -198 1 26 1 149 1 -112 1 -16 1 -112 1 23 1 -12 1 150 1 -118 1 150 1 24 1 -277 1 260 1 -187 1 150 1 10 1 -209 1 324 1 -166 1 -35 1 109 1 27 1 1 1 -272 1 343 1 -63 1 -67 1 85 1 -186 1 140 1 -37 1 -34 1 65 1 -100 1 151 1 -111 1 -81 1 -8 1 200 1 20 1 -308 1 94 1 247 1 -251 1 60 1 -19 1 -96 1 144 1 -62 1 89 1 -171 1 78 1 -58 1 71 1 150 1 -107 1 6 1 -33 1 97 1 -23 1 -1 1 52 1 -122 1 81 1 -170 1 163 1 104 1 -166 1 -95 1 1 1 168 1 -29 1 -5 1 -69 1 80 1 190 1 -327 1 37 1 156 1 -85 1 28 1 43 1 -99 1 118 1 -93 1 -74 1 -15 1 -84 1 149 1 -33 1 -6 1 97 1 118 1 -80 1 70 1 -161 1 -126 1 72 1 -133 1 165 1 -188 1 60 1 94 1 -88 1 189 1 57 1 -142 1 -95 1 77 1 -4 1 59 1 58 1 -109 1 -10 1 100 1 -146 1 -38 1 323 1 -202 1 146 1 -80 1 -44 1 -58 1 13 1 -19 1 44 1 81 1 -97 1 65 1 -79 1 52 1 -14 1 146 1 -173 1 72 1 -63 1 56 1 -186 1 48 1 -73 1 235 1 -87 1 53 1 49 1 -107 1 113 1 -251 1 207 1 -68 1 96 1 -17 1 27 1 -159 1 32 1 48 1 89 1 -52 1 -42 1 130 1 -108 1 193 1 -104 1 -7 1 -20 1 -175 1 268 1 -138 1 56 1 50 1 -39 1 67 1 -143 1 -6 1 132 1 -127 1 21 1 221 1 -211 1 48 1 25 1 14 1 87 1 -92 1 106 1 -248 1 142 1 -165 1 96 1 -46 1 67 1 -16 1 -44 1 40 1 -73 1 144 1 -41 1 58 1 -253 1 8 1 125 1 -31 1 65 1 -12 1 -190 1 143 1 31 1 33 1 -66 1 -14 1 108 1 -27 1 -80 1 42 1 53 1 -62 1 9 1 29 1 23 1 -68 1 74 1 55 1 -28 1 -58 1 48 1 50 1 -183 1 207 1 -57 1 -152 1 142 1 -21 1 89 1 -130 1 158 1 -222 1 104 1 -88 1 87 1 72 1 -45 1 -173 1 96 1 31 1 -119 1 246 1 -112 1 -114 1 162 1 -111 1 68 1 -152 1 64 1 39 1 40 1 30 1 61 1 -31 1 89 1 -149 1 -50 1 -156 1 144 1 -107 1 215 1 -31 1 -90 1 92 1 -135 1 -1 1 84 1 29 1 -19 1 49 1 -203 1 136 1 -129 1 210 1 -244 1 192 1 -23 1 -59 1 -40 1 -32 1 116 1 95 1 -212 1 146 1 78 1 2 1 -73 1 154 1 -158 1 22 1 -173 1 56 1 83 1 177 1 -112 1 -56 1 -90 1 198 1 -120 1 99 1 -242 1 152 1 44 1 -91 1 72 1 -19 1 -53 1 55 1 9 1 -186 1 131 1 49 1 -186 1 90 1 -81 1 170 1 -42 1 -48 1 -12 1 95 1 -204 1 261 1 -142 1 67 1 4 1 -16 1 -208 1 252 1 104 1 -250 1 71 1 -13 1 -17 1 -103 1 220 1 -38 1 -98 1 83 1 -40 1 128 1 -58 1 -115 1 345 1 -308 1 234 1 -410 1 102 1 -39 1 1 1 213 1 -82 1 80 1 -119 1 75 1 -61 1 87 1 -58 1 84 1 -26 1 21 1 -41 1 -64 1 -56 1 170 1 -146 1 143 1 -194 1 127 1 72 1 -62 1 -76 1 65 1 -34 1 51 1 -191 1 99 1 64 1 -5 1 -162 1 158 1 15 1 96 1 -163 1 134 1 -34 1 -203 1 269 1 -158 1 124 1 89 1 -72 1 -7 1 -46 1 16 1 6 1 -18 1 -112 1 29 1 138 1 -77 1 44 1 -135 1 214 1 -172 1 -11 1 90 1 3 1 -66 1 161 1 -66 1 58 1 -161 1 125 1 -56 1 144 1 -122 1 -137 1 51 1 -81 1 347 1 2 1 -382 1 113 1 152 1 -190 1 30 1 6 1 -17 1 -38 1 18 1 29 1 -27 1 22 1 21 1 6 1 31 1 -33 1 -39 1 71 1 1 1 -155 1 -12 1 140 1 77 1 -187 1 249 1 -262 1 24 1 148 1 -32 1 77 1 -105 1 112 1 32 1 -132 1 71 1 -43 1 17 1 44 1 -83 1 95 1 -118 1 89 1 -150 1 145 1 -99 1 -16 1 90 1 91 1 -169 1 168 1 -142 1 162 1 -93 1 -24 1 40 1 -66 1 -32 1 37 1 -13 1 -95 1 53 1 31 1 84 1 53 1 -36 1 -128 1 67 1 -51 1 172 1 41 1 -172 1 224 1 -180 1 111 1 -140 1 -32 1 141 1 -207 1 64 1 42 1 75 1 -9 1 -52 1 -101 1 88 1 139 1 4 1 -169 1 44 1 -93 1 25 1 -34 1 -28 1 26 1 45 1 195 1 -229 1 -11 1 23 1 148 1 -150 1 -43 1 54 1 73 1 144 1 -104 1 -225 1 147 1 -79 1 103 1 81 1 -205 1 69 1 -57 1 96 1 111 1 -225 1 151 1 -62 1 8 1 -47 1 33 1 -78 1 126 1 -109 1 -41 1 162 1 69 1 -82 1 -118 1 83 1 -67 1 89 1 154 1 -86 1 43 1 43 1 -135 1 -116 1 43 1 14 1 -2 1 72 1 -165 1 70 1 19 1 236 1 -273 1 -12 1 98 1 136 1 -221 1 121 1 -8 1 7 1 -8 1 71 1 -119 1 -84 1 119 1 93 1 -67 1 -16 1 2 1 -48 1 38 1 -8 1 -1 1 108 1 -138 1 -47 1 54 1 16 1 -222 1 198 1 -149 1 240 1 7 1 49 1 -38 1 -14 1 -73 1 -28 1 45 1 -26 1 62 1 17 1 12 1 -50 1 -148 1 311 1 -261 1 -1 1 94 1 -97 1 -72 1 185 1 -79 1 61 1 -20 1 -16 1 -5 1 45 1 -9 1 -140 1 -34 1 101 1 -46 1 98 1 13 1 -59 1 -74 1 75 1 129 1 -184 1 -100 1 151 1 178 1 -160 1 -150 1 188 1 -59 1 58 1 -66 1 220 1 -114 1 -30 1 -66 1 31 1 81 1 -43 1 79 1 -26 1 -32 1 -74 1 -123 1 170 1 20 1 -59 1 204 1 -248 1 -22 1 159 1 -34 1 -197 1 146 1 41 1 15 1 -199 1 151 1 51 1 -103 1 -118 1 235 1 66 1 -288 1 128 1 -93 1 25 1 175 1 26 1 -235 1 158 1 -82 1 125 1 -159 1 132 1 21 1 -176 1 33 1 65 1 -104 1 202 1 -201 1 -37 1 70 1 78 1 50 1 -83 1 102 1 -107 1 46 1 -8 1 -41 1 100 1 -83 1 -14 1 144 1 -265 1 151 1 2 1 -101 1 16 1 236 1 -325 1 20 1 181 1 -91 1 6 1 122 1 -101 1 -7 1 -104 1 323 1 -153 1 62 1 -205 1 198 1 6 1 -14 1 -83 1 -21 1 -12 1 62 1 -24 1 60 1 -7 1 -3 1 31 1 -273 1 171 1 2 1 33 1 -12 1 -161 1 -8 1 192 1 -27 1 -165 1 255 1 -92 1 -59 1 118 1 -134 1 204 1 -181 1 -67 1 229 1 -143 1 -88 1 174 1 -42 1 13 1 105 1 -114 1 -148 1 148 1 -128 1 366 1 -239 1 184 1 -105 1 -120 1 -99 1 155 1 -166 1 136 1 21 1 104 1 -23 1 -46 1 -52 1 -164 1 -1 1 56 1 85 1 -25 1 -64 1 223 1 -107 1 -78 1 150 1 -227 1 104 1 20 1 13 1 61 1 -79 1 73 1 12 1 -40 1 -116 1 202 1 -159 1 -32 1 104 1 25 1 -81 1 98 1 86 1 -268 1 238 1 -74 1 10 1 -46 1 -88 1 115 1 -14 1 -56 1 76 1 -96 1 -65 1 62 1 -116 1 108 1 4 1 284 1 -178 1 -122 1 189 1 -85 1 -92 1 -28 1 77 1 22 1 -35 1 206 1 -188 1 90 1 -45 1 101 1 43 1 -143 1 -68 1 6 1 157 1 -53 1 20 1 -121 1 -44 1 38 1 -7 1 -93 1 142 1 5 1 -96 1 200 1 -19 1 -109 1 -155 1 241 1 -88 1 68 1 -126 1 25 1 28 1 59 1 -12 1 113 1 -49 1 -137 1 270 1 -349 1 210 1 -117 1 -94 1 362 1 -114 1 -60 1 -77 1 -97 1 -73 1 197 1 -158 1 134 1 11 1 -108 1 155 1 30 1 -212 1 75 1 21 1 -16 1 194 1 -221 1 -111 1 160 1 -51 1 32 1 -81 1 46 1 236 1 -255 1 -25 1 253 1 -146 1 -99 1 -46 1 177 1 -274 1 180 1 31 1 -30 1 -2 1 -26 1 163 1 -142 1 6 1 -208 1 219 1 58 1 43 1 -68 1 36 1 106 1 -15 1 -94 1 15 1 -162 1 51 1 83 1 -71 1 101 1 70 1 49 1 -154 1 -39 1 -48 1 309 1 -148 1 -81 1 20 1 160 1 -169 1 23 1 -110 1 176 1 -230 1 229 1 -241 1 147 1 -86 1 103 1 74 1 -208 1 146 1 -112 1 163 1 -3 1 -61 1 -120 1 154 1 -235 1 187 1 -138 1 257 1 -97 1 -106 1 -23 1 143 1 -223 1 278 1 -113 1 -102 1 44 1 46 1 -73 1 149 1 -138 1 205 1 -34 1 -173 1 12 1 92 1 70 1 -74 1 40 1 -185 1 -69 1 274 1 -108 1 -7 1 -14 1 21 1 -43 1 268 1 -140 1 17 1 -24 1 77 1 -58 1 -7 1 -79 1 15 1 122 1 13 1 33 1 -88 1 -4 1 0 1 -101 1 52 1 -61 1 47 1 -14 1 -50 1 -10 1 -127 1 214 1 40 1 108 1 -243 1 -66 1 148 1 29 1 48 1 -74 1 215 1 -276 1 134 1 -115 1 -111 1 302 1 -105 1 53 1 2 1 -167 1 -3 1 23 1 4 1 79 1 -57 1 -48 1 -9 1 101 1 -73 1 91 1 67 1 -286 1 163 1 2 1 60 1 -75 1 55 1 -109 1 -61 1 174 1 22 1 -64 1 -15 1 49 1 80 1 -149 1 20 1 18 1 49 1 -53 1 25 1 56 1 -80 1 31 1 -47 1 52 1 -57 1 165 1 -136 1 138 1 -272 1 140 1 -47 1 72 1 -43 1 6 1 50 1 103 1 -59 1 -91 1 -37 1 90 1 22 1 -53 1 44 1 -90 1 213 1 -65 1 -175 1 65 1 -186 1 282 1 -198 1 90 1 -129 1 13 1 215 1 -20 1 -17 1 -252 1 161 1 159 1 46 1 -190 1 19 1 63 1 -65 1 167 1 -155 1 -13 1 2 1 88 1 -73 1 51 1 165 1 15 1 -272 1 164 1 -150 1 128 1 -121 1 -76 1 -79 1 215 1 -164 1 103 1 316 1 -64 1 -261 1 -58 1 135 1 -17 1 59 1 9 1 -165 1 118 1 35 1 -99 1 104 1 -87 1 64 1 -65 1 53 1 131 1 -239 1 14 1 59 1 47 1 -156 1 192 1 -104 1 -15 1 -10 1 75 1 17 1 -193 1 230 1 86 1 -21 1 -128 1 74 1 -135 1 -28 1 247 1 -1 1 -126 1 -38 1 117 1 -62 1 114 1 -216 1 -59 1 96 1 -18 1 -16 1 -49 1 15 1 32 1 -14 1 191 1 -160 1 108 1 -99 1 34 1 -6 1 -40 1 33 1 41 1 -181 1 152 1 -37 1 64 1 29 1 16 1 -74 1 8 1 -53 1 92 1 -143 1 23 1 286 1 -76 1 -86 1 -52 1 -34 1 14 1 57 1 -172 1 244 1 -75 1 25 1 -77 1 -20 1 27 1 -38 1 38 1 -100 1 150 1 1 1 -96 1 15 1 -4 1 39 1 114 1 -144 1 87 1 -123 1 34 1 18 1 44 1 -116 1 84 1 119 1 -203 1 -71 1 85 1 48 1 98 1 -43 1 -90 1 -12 1 59 1 -80 1 -70 1 150 1 -54 1 14 1 -6 1 -50 1 162 1 35 1 -56 1 13 1 13 1 -116 1 -14 1 145 1 112 1 -25 1 -158 1 7 1 82 1 -105 1 -75 1 77 1 -50 1 213 1 -212 1 90 1 -62 1 142 1 -65 1 11 1 12 1 -97 1 31 1 -11 1 -105 1 50 1 5 1 -23 1 38 1 -75 1 51 1 73 1 -13 1 -69 1 121 1 -69 1 -2 1 21 1 -5 1 -43 1 -53 1 -65 1 113 1 -17 1 -23 1 211 1 -32 1 -167 1 27 1 73 1 -103 1 120 1 33 1 -130 1 2 1 -32 1 -169 1 266 1 -110 1 118 1 -35 1 -5 1 -134 1 152 1 121 1 95 1 -341 1 101 1 -79 1 121 1 68 1 -29 1 -161 1 158 1 -120 1 -51 1 237 1 -265 1 90 1 2 1 14 1 -78 1 113 1 -107 1 63 1 -31 1 80 1 -145 1 53 1 106 1 -57 1 27 1 -62 1 -34 1 216 1 -193 1 -41 1 50 1 36 1 -73 1 135 1 -28 1 4 1 40 1 -119 1 3 1 -7 1 -41 1 118 1 -40 1 103 1 -14 1 41 1 -193 1 57 1 117 1 -50 1 62 1 78 1 -242 1 45 1 -102 1 147 1 -2 1 33 1 9 1 -21 1 24 1 -43 1 -58 1 66 1 -188 1 177 1 -117 1 -45 1 179 1 -143 1 61 1 130 1 -58 1 213 1 -186 1 -83 1 81 1 -49 1 22 1 9 1 -26 1 20 1 -6 1 -85 1 -122 1 230 1 -48 1 39 1 23 1 -80 1 21 1 -105 1 25 1 141 1 82 1 -148 1 -47 1 18 1 44 1 15 1 -1 1 14 1 -31 1 -30 1 66 1 84 1 -134 1 87 1 -70 1 54 1 109 1 -129 1 -15 1 -73 1 17 1 20 1 1 1 -73 1 170 1 -222 1 4 1 120 1 82 1 -184 1 141 1 -40 1 14 1 -24 1 58 1 -75 1 20 1 42 1 -86 1 22 1 75 1 -10 1 -81 1 168 1 -138 1 7 1 124 1 -73 1 -155 1 59 1 135 1 -61 1 5 1 29 1 5 1 -53 1 24 1 -165 1 -17 1 129 1 33 1 102 1 -54 1 -3 1 -66 1 -134 1 176 1 -151 1 109 1 -12 1 27 1 204 1 -144 1 -43 1 -71 1 117 1 -39 1 58 1 -75 1 41 1 -126 1 130 1 8 1 -71 1 -107 1 95 1 8 1 -52 1 50 1 -70 1 6 1 65 1 137 1 -160 1 -31 1 -45 1 153 1 15 1 -96 1 21 1 -17 1 56 1 -42 1 3 1 194 1 -277 1 130 1 102 1 -13 1 -130 1 132 1 -103 1 56 1 -57 1 14 1 -190 1 125 1 -77 1 221 1 -81 1 74 1 -135 1 -81 1 116 1 152 1 -123 1 -100 1 -42 1 152 1 -27 1 89 1 49 1 -106 1 -139 1 173 1 -102 1 16 1 54 1 22 1 78 1 -116 1 -62 1 -18 1 48 1 4 1 144 1 -25 1 -45 1 -22 1 82 1 -61 1 -34 1 -35 1 13 1 108 1 -34 1 -154 1 154 1 -96 1 -102 1 -10 1 235 1 -104 1 31 1 19 1 -137 1 58 1 -93 1 219 1 88 1 -177 1 -7 1 -112 1 135 1 -75 1 -64 1 320 1 -201 1 35 1 50 1 -46 1 -26 1 -192 1 252 1 -47 1 -120 1 -125 1 325 1 -163 1 104 1 -191 1 71 1 29 1 -64 1 76 1 25 1 -39 1 165 1 -128 1 -92 1 321 1 -76 1 -207 1 2 1 47 1 -42 1 66 1 -130 1 200 1 -222 1 140 1 58 1 -120 1 101 1 -187 1 188 1 68 1 73 1 -195 1 -167 1 128 1 73 1 200 1 -88 1 -154 1 81 1 -41 1 -3 1 -51 1 99 1 -103 1 -39 1 109 1 -58 1 67 1 30 1 -63 1 49 1 42 1 -48 1 14 1 -100 1 -29 1 248 1 10 1 -87 1 -160 1 196 1 -1 1 61 1 -89 1 -47 1 -111 1 -72 1 155 1 -36 1 -16 1 38 1 -31 1 179 1 -187 1 -21 1 201 1 -48 1 -106 1 -15 1 -13 1 -77 1 65 1 -140 1 223 1 48 1 39 1 -181 1 -56 1 179 1 -67 1 107 1 -250 1 120 1 -63 1 154 1 -99 1 -81 1 82 1 153 1 -61 1 -40 1 -79 1 14 1 -49 1 91 1 98 1 -198 1 55 1 172 1 -124 1 92 1 -305 1 215 1 -23 1 -84 1 191 1 -166 1 66 1 -45 1 155 1 -167 1 171 1 -137 1 -25 1 -17 1 -25 1 216 1 -294 1 166 1 -17 1 -74 1 -70 1 223 1 -65 1 -13 1 -98 1 91 1 -155 1 123 1 117 1 4 1 -44 1 -6 1 57 1 -82 1 -59 1 112 1 -117 1 37 1 27 1 -93 1 7 1 219 1 -122 1 -25 1 133 1 33 1 -120 1 77 1 -58 1 89 1 -163 1 153 1 26 1 -92 1 -34 1 102 1 -121 1 127 1 -247 1 112 1 -6 1 31 1 -2 1 142 1 -158 1 -30 1 129 1 -87 1 106 1 -162 1 69 1 -135 1 60 1 115 1 -66 1 -150 1 42 1 150 1 46 1 -34 1 24 1 -30 1 -290 1 210 1 -85 1 210 1 -125 1 -40 1 227 1 -89 1 68 1 -19 1 -50 1 -139 1 -24 1 121 1 45 1 -215 1 130 1 15 1 -178 1 175 1 88 1 -200 1 133 1 88 1 -207 1 166 1 -23 1 -109 1 -49 1 271 1 -206 1 -50 1 -38 1 120 1 61 1 -108 1 169 1 -245 1 156 1 84 1 -153 1 -69 1 44 1 154 1 -231 1 88 1 39 1 14 1 -101 1 51 1 37 1 -18 1 -2 1 7 1 8 1 -18 1 -109 1 213 1 68 1 -72 1 -101 1 66 1 -35 1 -42 1 24 1 -15 1 -24 1 22 1 78 1 0 1 -23 1 79 1 -58 1 56 1 -34 1 90 1 -31 1 -228 1 238 1 -151 1 -12 1 -36 1 125 1 -60 1 39 1 -37 1 -6 1 -47 1 76 1 42 1 17 1 30 1 -92 1 -61 1 80 1 -72 1 -60 1 168 1 -160 1 70 1 100 1 -3 1 -91 1 33 1 -62 1 217 1 -256 1 4 1 191 1 -37 1 -225 1 101 1 81 1 9 1 -31 1 -60 1 93 1 -65 1 88 1 119 1 -180 1 62 1 -146 1 76 1 -30 1 165 1 -179 1 217 1 -229 1 65 1 -60 1 -51 1 28 1 176 1 12 1 -119 1 2 1 -9 1 116 1 17 1 -95 1 -129 1 218 1 -120 1 -1 1 66 1 204 1 -276 1 227 1 -157 1 111 1 -67 1 -143 1 256 1 -60 1 -56 1 14 1 -76 1 9 1 -30 1 14 1 -5 1 -143 1 223 1 -102 1 31 1 -71 1 307 1 -171 1 -106 1 43 1 -115 1 246 1 -340 1 161 1 68 1 35 1 17 1 -30 1 -59 1 78 1 -109 1 77 1 -84 1 127 1 -82 1 82 1 -169 1 102 1 -29 1 -133 1 132 1 79 1 -51 1 25 1 -98 1 -103 1 -2 1 164 1 -16 1 -93 1 26 1 257 1 -134 1 -35 1 18 1 -64 1 -36 1 147 1 -175 1 69 1 -59 1 -93 1 197 1 111 1 -121 1 -32 1 31 1 -17 1 67 1 -132 1 -75 1 60 1 145 1 -81 1 -34 1 120 1 -73 1 60 1 -205 1 64 1 60 1 193 1 -226 1 154 1 -180 1 -27 1 5 1 100 1 90 1 -107 1 -5 1 300 1 -205 1 -113 1 88 1 -142 1 103 1 -40 1 2 1 2 1 -75 1 139 1 61 1 46 1 -131 1 118 1 -10 1 -114 1 56 1 -13 1 -165 1 114 1 77 1 -44 1 88 1 -109 1 -34 1 -73 1 83 1 28 1 -21 1 7 1 57 1 123 1 -115 1 -84 1 -13 1 38 1 37 1 37 1 -19 1 86 1 -288 1 200 1 -40 1 -32 1 123 1 11 1 -32 1 -59 1 -62 1 120 1 -7 1 28 1 -88 1 2 1 -44 1 -38 1 61 1 61 1 25 1 -71 1 35 1 -50 1 -38 1 124 1 -104 1 43 1 130 1 -195 1 82 1 54 1 -103 1 -33 1 164 1 -69 1 100 1 -87 1 -46 1 11 1 14 1 -130 1 50 1 45 1 -4 1 23 1 48 1 20 1 -66 1 -68 1 95 1 116 1 -224 1 73 1 -79 1 41 1 111 1 -5 1 -53 1 143 1 -358 1 214 1 -10 1 84 1 -121 1 -53 1 -64 1 171 1 -167 1 102 1 154 1 -223 1 143 1 -99 1 12 1 59 1 8 1 -94 1 119 1 27 1 -182 1 116 1 -146 1 256 1 -110 1 -11 1 80 1 -187 1 126 1 144 1 -195 1 169 1 -138 1 -35 1 -160 1 244 1 -46 1 56 1 13 1 -108 1 -36 1 30 1 282 1 -289 1 82 1 93 1 -29 1 113 1 -221 1 58 1 -22 1 79 1 11 1 -136 1 -13 1 71 1 9 1 -65 1 -97 1 131 1 29 1 20 1 -73 1 63 1 -43 1 -27 1 101 1 -163 1 -72 1 234 1 -125 1 216 1 -214 1 212 1 -271 1 33 1 229 1 -97 1 117 1 -328 1 25 1 117 1 116 1 -115 1 -2 1 -80 1 -81 1 86 1 0 1 92 1 18 1 -99 1 82 1 38 1 57 1 11 1 -40 1 36 1 13 1 -92 1 70 1 -106 1 5 1 -20 1 129 1 -171 1 155 1 -50 1 -75 1 102 1 -272 1 157 1 16 1 -90 1 275 1 -275 1 178 1 -7 1 102 1 -258 1 94 1 133 1 -122 1 -114 1 175 1 -97 1 101 1 -66 1 -181 1 159 1 54 1 -162 1 251 1 -154 1 -63 1 206 1 -189 1 -136 1 62 1 217 1 -132 1 94 1 -9 1 -185 1 126 1 15 1 -4 1 95 1 17 1 -84 1 -47 1 31 1 -143 1 75 1 97 1 -19 1 -178 1 27 1 85 1 156 1 -33 1 -34 1 -71 1 16 1 -23 1 217 1 -180 1 -76 1 41 1 43 1 34 1 -1 1 64 1 -81 1 -108 1 101 1 -122 1 154 1 16 1 -138 1 195 1 -65 1 76 1 -109 1 77 1 -9 1 2 1 -9 1 -107 1 -49 1 -197 1 276 1 -74 1 173 1 -95 1 43 1 -33 1 -15 1 59 1 13 1 21 1 -19 1 -75 1 167 1 -269 1 58 1 162 1 -155 1 46 1 132 1 -20 1 -101 1 94 1 -78 1 55 1 -163 1 237 1 -230 1 178 1 -78 1 -155 1 261 1 6 1 -12 1 92 1 -131 1 -259 1 266 1 -37 1 -97 1 23 1 232 1 -215 1 -113 1 15 1 281 1 -173 1 -82 1 35 1 130 1 -78 1 -6 1 75 1 -55 1 4 1 71 1 -30 1 22 1 -193 1 103 1 -55 1 53 1 -57 1 130 1 -59 1 129 1 -127 1 6 1 170 1 13 1 -64 1 -132 1 115 1 -25 1 144 1 -454 1 299 1 87 1 23 1 -235 1 105 1 -39 1 -6 1 39 1 -68 1 -145 1 227 1 -48 1 -54 1 20 1 -85 1 87 1 65 1 -101 1 193 1 -136 1 -20 1 -133 1 221 1 -41 1 -13 1 107 1 -102 1 15 1 9 1 -56 1 -135 1 187 1 -101 1 36 1 51 1 -93 1 -51 1 53 1 48 1 -28 1 85 1 -123 1 57 1 39 1 32 1 -72 1 139 1 -66 1 73 1 -244 1 -11 1 95 1 122 1 -69 1 -156 1 87 1 -41 1 -102 1 37 1 71 1 63 1 56 1 -33 1 -61 1 -36 1 69 1 23 1 -47 1 -114 1 110 1 176 1 -132 1 -13 1 -67 1 179 1 -34 1 42 1 -221 1 105 1 -41 1 -11 1 81 1 144 1 -304 1 301 1 -172 1 -16 1 60 1 -44 1 9 1 -6 1 -14 1 186 1 -14 1 -231 1 196 1 -121 1 -110 1 103 1 120 1 -105 1 13 1 7 1 -57 1 101 1 -86 1 -77 1 134 1 -75 1 -79 1 78 1 84 1 145 1 -75 1 -151 1 53 1 -14 1 -284 1 239 1 91 1 -168 1 7 1 117 1 -43 1 21 1 40 1 66 1 -179 1 18 1 160 1 -100 1 91 1 37 1 -140 1 45 1 2 1 -28 1 -34 1 -2 1 119 1 -75 1 -57 1 164 1 -125 1 124 1 -103 1 -63 1 39 1 24 1 -3 1 79 1 -179 1 182 1 61 1 -125 1 39 1 -108 1 68 1 61 1 8 1 -1 1 28 1 -130 1 -143 1 214 1 3 1 -52 1 -4 1 -15 1 -121 1 114 1 -8 1 -1 1 95 1 -9 1 107 1 -138 1 7 1 -52 1 -94 1 262 1 -245 1 -80 1 148 1 -14 1 -131 1 79 1 28 1 110 1 -21 1 -115 1 -21 1 73 1 -104 1 -24 1 294 1 -131 1 16 1 -75 1 -183 1 293 1 -3 1 -131 1 145 1 -50 1 -124 1 -31 1 -16 1 43 1 117 1 -13 1 -113 1 141 1 -100 1 112 1 -130 1 27 1 176 1 -64 1 2 1 -111 1 96 1 150 1 -178 1 -25 1 127 1 -214 1 15 1 216 1 -121 1 218 1 -129 1 33 1 -89 1 -30 1 -5 1 63 1 -5 1 -86 1 86 1 -174 1 134 1 2 1 -68 1 81 1 -112 1 10 1 52 1 120 1 -88 1 12 1 -43 1 3 1 44 1 -9 1 1 1 60 1 -48 1 33 1 -63 1 114 1 -265 1 68 1 66 1 73 1 -95 1 78 1 -124 1 79 1 15 1 169 1 -105 1 -89 1 125 1 -83 1 -92 1 -50 1 169 1 218 1 -263 1 -49 1 185 1 -234 1 116 1 -142 1 145 1 -19 1 107 1 -144 1 43 1 78 1 -110 1 94 1 -176 1 97 1 42 1 12 1 -171 1 146 1 -30 1 129 1 -151 1 58 1 70 1 23 1 -174 1 92 1 -53 1 -14 1 -74 1 21 1 150 1 -22 1 152 1 -179 1 -19 1 159 1 -143 1 -4 1 7 1 -20 1 112 1 -102 1 -178 1 180 1 40 1 -17 1 -152 1 249 1 -281 1 205 1 -99 1 -16 1 138 1 -47 1 -93 1 76 1 129 1 -173 1 137 1 -140 1 45 1 126 1 -202 1 63 1 -83 1 87 1 68 1 105 1 -162 1 98 1 -55 1 144 1 -31 1 -162 1 -16 1 -151 1 62 1 196 1 -165 1 96 1 134 1 -207 1 112 1 20 1 -6 1 -84 1 25 1 -3 1 -30 1 -59 1 109 1 -7 1 -56 1 -19 1 -23 1 -67 1 343 1 -310 1 62 1 -61 1 172 1 -95 1 -107 1 -5 1 25 1 79 1 101 1 -70 1 168 1 -137 1 81 1 -88 1 -2 1 -67 1 -17 1 19 1 0 1 10 1 -114 1 155 1 23 1 36 1 -92 1 -53 1 -82 1 169 1 -103 1 96 1 -95 1 179 1 -144 1 -15 1 207 1 -139 1 68 1 -91 1 -19 1 31 1 -36 1 35 1 -29 1 74 1 -82 1 166 1 -168 1 114 1 -30 1 -37 1 0 1 -66 1 125 1 -57 1 125 1 24 1 -262 1 147 1 -74 1 53 1 126 1 -190 1 9 1 -2 1 -65 1 153 1 -32 1 72 1 -26 1 28 1 10 1 -26 1 -57 1 76 1 -14 1 18 1 58 1 -54 1 -48 1 -50 1 -46 1 18 1 89 1 21 1 -17 1 -17 1 94 1 -151 1 54 1 21 1 56 1 -187 1 -21 1 231 1 -244 1 173 1 -89 1 204 1 -154 1 -79 1 88 1 -90 1 62 1 -74 1 -91 1 249 1 -94 1 92 1 84 1 -82 1 -120 1 -43 1 16 1 27 1 40 1 60 1 -69 1 19 1 166 1 -271 1 134 1 80 1 -173 1 16 1 -125 1 207 1 36 1 -167 1 122 1 -128 1 52 1 181 1 -42 1 11 1 -218 1 42 1 17 1 161 1 -136 1 334 1 -313 1 17 1 -100 1 57 1 131 1 -88 1 92 1 -67 1 21 1 -308 1 320 1 -14 1 -57 1 -154 1 250 1 -195 1 29 1 159 1 -36 1 -201 1 344 1 -49 1 56 1 -106 1 -84 1 98 1 -124 1 16 1 -38 1 69 1 -4 1 46 1 -160 1 93 1 -82 1 171 1 -79 1 11 1 91 1 -49 1 111 1 -73 1 -263 1 174 1 131 1 -186 1 -40 1 -76 1 117 1 -25 1 57 1 89 1 -92 1 40 1 88 1 -264 1 172 1 64 1 -52 1 -121 1 101 1 43 1 -178 1 184 1 -141 1 63 1 58 1 -143 1 25 1 -7 1 71 1 21 1 273 1 -261 1 -4 1 -113 1 -135 1 204 1 -214 1 226 1 -104 1 -7 1 265 1 -314 1 258 1 -90 1 68 1 -17 1 45 1 -71 1 -165 1 238 1 -187 1 49 1 -27 1 22 1 -26 1 11 1 161 1 39 1 -224 1 48 1 -101 1 136 1 30 1 65 1 88 1 -196 1 -108 1 142 1 -87 1 -6 1 211 1 -167 1 126 1 -111 1 -29 1 78 1 -20 1 -102 1 -84 1 265 1 -57 1 33 1 29 1 -133 1 94 1 -154 1 6 1 113 1 84 1 -103 1 10 1 53 1 -167 1 121 1 85 1 -148 1 183 1 -226 1 113 1 -147 1 117 1 139 1 -75 1 -86 1 75 1 -27 1 -64 1 178 1 -87 1 53 1 -94 1 -56 1 68 1 75 1 -37 1 1 1 -80 1 -7 1 15 1 -35 1 139 1 20 1 32 1 -196 1 55 1 106 1 -141 1 103 1 12 1 37 1 -101 1 -16 1 3 1 36 1 -4 1 -11 1 25 1 199 1 -186 1 3 1 -68 1 60 1 -14 1 16 1 36 1 65 1 -83 1 -64 1 -20 1 -84 1 -37 1 127 1 -20 1 57 1 -41 1 90 1 -39 1 -44 1 -54 1 114 1 -10 1 -128 1 98 1 -43 1 -53 1 70 1 41 1 -146 1 139 1 -55 1 105 1 -220 1 190 1 -186 1 174 1 -7 1 91 1 -19 1 -103 1 -68 1 137 1 -56 1 -80 1 81 1 45 1 -60 1 27 1 18 1 -99 1 228 1 -303 1 122 1 118 1 -135 1 33 1 -89 1 30 1 84 1 -65 1 -74 1 2 1 84 1 40 1 64 1 -96 1 -27 1 40 1 190 1 -137 1 18 1 -61 1 31 1 -13 1 13 1 -78 1 141 1 -88 1 84 1 -130 1 28 1 6 1 -67 1 19 1 -52 1 211 1 -124 1 59 1 -176 1 70 1 61 1 -102 1 92 1 -26 1 33 1 -111 1 92 1 -110 1 177 1 -78 1 87 1 -145 1 86 1 83 1 -154 1 -4 1 69 1 57 1 -82 1 -107 1 218 1 64 1 -136 1 102 1 26 1 -152 1 -15 1 -30 1 40 1 -20 1 48 1 -112 1 152 1 27 1 -183 1 73 1 56 1 -16 1 59 1 17 1 79 1 0 1 -183 1 78 1 25 1 -16 1 -101 1 -64 1 122 1 73 1 -34 1 -25 1 -75 1 44 1 -55 1 173 1 -137 1 -122 1 110 1 60 1 -57 1 -55 1 55 1 -61 1 212 1 -154 1 -2 1 -15 1 35 1 4 1 -38 1 126 1 -54 1 -26 1 -53 1 32 1 51 1 -139 1 55 1 15 1 -31 1 24 1 -88 1 113 1 74 1 -115 1 -14 1 -25 1 13 1 66 1 -133 1 182 1 5 1 -118 1 119 1 -155 1 167 1 -86 1 -7 1 59 1 112 1 -165 1 -1 1 29 1 39 1 66 1 -49 1 95 1 -289 1 169 1 -127 1 115 1 -132 1 170 1 5 1 5 1 -68 1 81 1 41 1 -243 1 13 1 168 1 -137 1 267 1 -208 1 -148 1 -4 1 102 1 -33 1 72 1 -104 1 158 1 162 1 -276 1 81 1 12 1 -45 1 -6 1 168 1 -121 1 68 1 -26 1 -113 1 96 1 47 1 -58 1 19 1 -16 1 -65 1 75 1 40 1 -18 1 67 1 -206 1 62 1 208 1 -145 1 -110 1 234 1 -100 1 -181 1 113 1 -37 1 149 1 -211 1 88 1 -71 1 194 1 -32 1 35 1 -105 1 110 1 -84 1 -124 1 57 1 120 1 -87 1 124 1 -153 1 156 1 -149 1 -28 1 191 1 -183 1 -35 1 -21 1 7 1 59 1 -7 1 110 1 -213 1 139 1 -75 1 35 1 45 1 93 1 -141 1 34 1 88 1 -208 1 97 1 74 1 6 1 -146 1 147 1 -8 1 129 1 -134 1 33 1 -131 1 -34 1 21 1 217 1 -149 1 -98 1 146 1 -4 1 -6 1 117 1 -88 1 -17 1 -34 1 8 1 12 1 35 1 -199 1 49 1 40 1 47 1 -100 1 186 1 -138 1 5 1 74 1 132 1 -22 1 -231 1 203 1 -146 1 76 1 26 1 -59 1 -87 1 43 1 -41 1 189 1 -32 1 -150 1 102 1 24 1 93 1 -81 1 4 1 -87 1 54 1 142 1 17 1 -251 1 205 1 11 1 -12 1 -65 1 -75 1 27 1 53 1 -14 1 25 1 -49 1 37 1 -66 1 94 1 -49 1 -52 1 105 1 -40 1 -76 1 63 1 11 1 -8 1 -25 1 229 1 -244 1 43 1 -172 1 277 1 -225 1 117 1 15 1 -40 1 7 1 106 1 -138 1 -15 1 133 1 -144 1 50 1 -42 1 3 1 33 1 -138 1 147 1 123 1 -194 1 207 1 -141 1 25 1 162 1 -42 1 -315 1 241 1 124 1 -105 1 -48 1 -112 1 207 1 -134 1 1 1 15 1 -106 1 107 1 159 1 -171 1 53 1 -38 1 -64 1 231 1 -192 1 -22 1 114 1 72 1 -268 1 29 1 203 1 -74 1 12 1 -39 1 77 1 -152 1 45 1 -65 1 73 1 -140 1 227 1 -148 1 9 1 66 1 -37 1 64 1 90 1 -95 1 -93 1 259 1 -325 1 254 1 -173 1 158 1 -158 1 109 1 -82 1 8 1 1 1 -34 1 51 1 20 1 -129 1 137 1 -24 1 -46 1 117 1 -41 1 -44 1 1 1 17 1 25 1 -56 1 -30 1 165 1 -54 1 -59 1 -21 1 -47 1 32 1 84 1 44 1 -114 1 84 1 19 1 -152 1 121 1 -14 1 -53 1 200 1 -411 1 92 1 -46 1 167 1 -23 1 -66 1 72 1 -22 1 65 1 32 1 -177 1 59 1 39 1 56 1 -237 1 226 1 139 1 -203 1 230 1 -301 1 165 1 -52 1 -7 1 26 1 87 1 -169 1 20 1 92 1 -132 1 8 1 138 1 -80 1 141 1 81 1 -291 1 66 1 -100 1 90 1 -10 1 -12 1 -17 1 -10 1 143 1 -130 1 214 1 -203 1 -157 1 9 1 45 1 180 1 -110 1 124 1 -165 1 96 1 33 1 -85 1 -60 1 214 1 -100 1 -39 1 0 1 86 1 -56 1 53 1 -132 1 49 1 -105 1 189 1 3 1 -80 1 -77 1 76 1 43 1 117 1 -116 1 -48 1 -71 1 214 1 -169 1 20 1 -149 1 81 1 231 1 -77 1 -34 1 37 1 -12 1 78 1 -79 1 38 1 -47 1 17 1 -55 1 12 1 6 1 15 1 96 1 -99 1 -118 1 110 1 -5 1 -37 1 38 1 47 1 -24 1 57 1 11 1 -83 1 32 1 50 1 -103 1 -39 1 64 1 32 1 -198 1 146 1 50 1 -124 1 -48 1 233 1 -17 1 -67 1 -75 1 153 1 -209 1 89 1 -128 1 140 1 -30 1 -26 1 114 1 54 1 -71 1 99 1 -24 1 -98 1 -45 1 -44 1 -47 1 171 1 60 1 -240 1 110 1 6 1 131 1 -32 1 -149 1 116 1 -167 1 188 1 -195 1 218 1 22 1 -107 1 30 1 8 1 -108 1 -15 1 167 1 -169 1 -46 1 11 1 118 1 25 1 -39 1 -25 1 100 1 57 1 -140 1 -7 1 14 1 110 1 38 1 -109 1 -65 1 -46 1 117 1 80 1 -24 1 -50 1 -102 1 206 1 -102 1 9 1 -62 1 25 1 57 1 -151 1 -29 1 28 1 38 1 -24 1 32 1 25 1 149 1 -147 1 -24 1 85 1 -129 1 74 1 92 1 -189 1 159 1 -101 1 130 1 20 1 -147 1 95 1 -15 1 -12 1 -50 1 -111 1 156 1 -48 1 43 1 -170 1 123 1 81 1 -26 1 -181 1 126 1 -154 1 240 1 -144 1 82 1 -23 1 -19 1 -52 1 88 1 -48 1 92 1 -13 1 -85 1 -23 1 62 1 -139 1 210 1 44 1 -203 1 56 1 91 1 -184 1 138 1 -221 1 350 1 -87 1 -124 1 -49 1 -26 1 177 1 -46 1 -38 1 -36 1 111 1 -23 1 125 1 -227 1 170 1 -124 1 22 1 -7 1 55 1 -81 1 5 1 141 1 -73 1 -22 1 105 1 -113 1 -68 1 -15 1 130 1 233 1 -321 1 5 1 75 1 -17 1 57 1 25 1 -136 1 -42 1 97 1 102 1 57 1 -186 1 1 1 -57 1 128 1 20 1 7 1 -135 1 -75 1 227 1 -32 1 -7 1 -94 1 121 1 -141 1 32 1 25 1 -64 1 154 1 -17 1 -182 1 129 1 50 1 -36 1 58 1 -150 1 137 1 -144 1 4 1 78 1 -165 1 152 1 -29 1 -42 1 139 1 38 1 -132 1 98 1 40 1 -19 1 -157 1 -84 1 159 1 6 1 -31 1 -37 1 59 1 47 1 -104 1 105 1 20 1 2 1 -6 1 -37 1 -13 1 -60 1 85 1 -40 1 32 1 -32 1 -88 1 135 1 105 1 -214 1 41 1 2 1 230 1 -102 1 -121 1 38 1 12 1 -114 1 184 1 -46 1 -64 1 93 1 -8 1 -42 1 36 1 -34 1 -106 1 192 1 -49 1 3 1 -23 1 -62 1 -103 1 20 1 -104 1 346 1 -71 1 -274 1 192 1 -13 1 38 1 20 1 -157 1 119 1 52 1 -60 1 8 1 -51 1 6 1 21 1 40 1 -41 1 32 1 85 1 -104 1 135 1 -131 1 70 1 -203 1 89 1 74 1 7 1 -116 1 158 1 -202 1 9 1 65 1 92 1 -87 1 76 1 130 1 -66 1 -175 1 109" fill="none" stroke="#2ca02c" stroke-width="0.9" vector-effect="non-scaling-stroke" stroke-linejoin="bevel"/>
<path d="M1488.5 739.8 1491.0 739.4 1493.4 740.6 1495.9 739.5 1498.3 739.4 1500.8 740.1 1503.2 741.5 1505.7 742.5 1508.1 743.4 1510.6 742.7 1513.0 742.6 1515.5 744.5 1517.9 746.5 1520.4 746.6 1522.8 748.5 1525.3 750.9 1527.7 750.1 1530.2 749.4 1532.6 750.3 1535.1 748.7 1537.5 747.4 1540.0 746.7 1542.4 745.5 1544.9 744.3 1547.3 744.9 1549.8 744.2 1552.2 740.7 1554.7 738.8 1557.1 735.8 1559.6 735.7 1562.0 735.0 1564.5 736.1 1566.9 736.7 1569.4 738.2 1571.8 740.4 1574.3 741.4 1576.7 741.9 1579.2 740.3 1581.6 737.5 1584.1 739.0 1586.5 738.3 1589.0 737.7 1591.4 735.1 1593.9 736.4 1596.3 737.5 1598.8 736.2 1601.2 736.5 1603.7 737.5 1606.1 739.8 1608.6 741.9 1611.0 741.8 1613.5 741.3 1615.9 740.4 1618.4 740.4 1620.8 740.3 1623.3 741.0 1625.7 743.4 1628.2 743.7 1630.6 743.0 1633.1 742.2 1635.5 741.3 1638.0 740.5 1640.4 740.5 1642.9 741.2 1645.3 743.5 1647.8 745.1 1650.2 743.3 1652.7 740.2 1655.2 739.3 1657.6 738.9 1660.1 740.4 1662.5 744.5 1665.0 743.9 1667.4 740.8 1669.9 742.6 1672.3 742.2 1674.8 740.9 1677.2 739.9 1679.7 739.1 1682.1 738.7 1684.6 738.3 1687.0 738.4 1689.5 739.5 1691.9 742.7 1694.4 741.6 1696.8 742.0 1699.3 741.5 1701.7 740.7 1704.2 739.6 1706.6 739.8 1709.1 738.9 1711.5 739.3 1714.0 740.4 1716.4 739.4 1718.9 738.6 1721.3 739.8 1723.8 741.1 1726.2 742.0 1728.7 740.4 1731.1 740.8 1733.6 740.5 1736.0 739.6 1738.5 740.4 1740.9 741.3 1743.4 744.4 1745.8 746.0 1748.3 745.9 1750.7 746.1 1753.2 747.0 1755.6 747.7 1758.1 746.2 1760.5 743.1 1763.0 743.8 1765.4 745.7 1767.9 746.2 1770.3 744.5 1772.8 742.8 1775.2 742.7 1777.7 741.8 1780.1 742.2 1782.6 741.0 1785.0 740.8 1787.5 741.1 1789.9 741.0 1792.4 739.7 1794.8 739.6 1797.3 740.3 1799.7 740.9 1802.2 739.3 1804.6 738.3 1807.1 738.8 1809.5 739.2 1812.0 741.1 1814.5 740.9 1816.9 740.0 1819.4 742.1 1821.8 742.7 1824.3 744.4 1826.7 743.6 1829.2 743.7 1831.6 744.1 1834.1 743.9 1836.5 745.2 1839.0 746.3 1841.4 745.5 1843.9 744.8 1846.3 743.3 1848.8 741.9 1851.2 741.5 1853.7 739.0 1856.1 740.0 1858.6 740.7 1861.0 741.2 1863.5 741.8 1865.9 742.1 1868.4 740.7 1870.8 737.9 1873.3 737.6 1875.7 738.9 1878.2 742.9 1880.6 742.8 1883.1 741.9 1885.5 742.4 1888.0 746.3 1890.4 748.1 1892.9 747.2 1895.3 745.7 1897.8 747.2 1900.2 747.5 1902.7 745.8 1905.1 743.5 1907.6 745.5 1910.0 745.2 1912.5 744.6 1914.9 743.5 1917.4 742.8 1919.8 740.3 1922.3 739.8 1924.7 742.0 1927.2 739.1 1929.6 739.0 1932.1 737.3 1934.5 736.0 1937.0 733.8 1939.4 734.1 1941.9 735.5 1944.3 736.1 1946.8 737.6 1949.2 738.2 1951.7 738.5 1954.1 740.9 1956.6 741.3 1959.0 744.2 1961.5 743.5 1963.9 743.5 1966.4 742.7 1968.8 743.0 1971.3 743.2 1973.7 744.1 1976.2 743.6 1976.2 761.5 1973.7 762.0 1971.3 761.1 1968.8 760.9 1966.4 760.6 1963.9 761.4 1961.5 761.4 1959.0 762.1 1956.6 759.2 1954.1 758.8 1951.7 756.4 1949.2 756.1 1946.8 755.5 1944.3 754.0 1941.9 753.4 1939.4 752.0 1937.0 751.7 1934.5 753.9 1932.1 755.2 1929.6 756.9 1927.2 757.0 1924.7 759.9 1922.3 757.7 1919.8 758.2 1917.4 760.7 1914.9 761.4 1912.5 762.5 1910.0 763.1 1907.6 763.4 1905.1 761.4 1902.7 763.7 1900.2 765.4 1897.8 765.1 1895.3 763.6 1892.9 765.1 1890.4 766.0 1888.0 764.2 1885.5 760.3 1883.1 759.8 1880.6 760.7 1878.2 760.8 1875.7 756.8 1873.3 755.5 1870.8 755.8 1868.4 758.6 1865.9 760.0 1863.5 759.7 1861.0 759.1 1858.6 758.6 1856.1 757.9 1853.7 756.9 1851.2 759.4 1848.8 759.8 1846.3 761.2 1843.9 762.7 1841.4 763.4 1839.0 764.2 1836.5 763.1 1834.1 761.8 1831.6 762.0 1829.2 761.6 1826.7 761.5 1824.3 762.3 1821.8 760.6 1819.4 760.0 1816.9 757.9 1814.5 758.8 1812.0 759.0 1809.5 757.1 1807.1 756.7 1804.6 756.2 1802.2 757.2 1799.7 758.8 1797.3 758.2 1794.8 757.5 1792.4 757.6 1789.9 758.9 1787.5 759.0 1785.0 758.7 1782.6 758.9 1780.1 760.1 1777.7 759.7 1775.2 760.6 1772.8 760.7 1770.3 762.4 1767.9 764.1 1765.4 763.6 1763.0 761.7 1760.5 761.0 1758.1 764.1 1755.6 765.6 1753.2 764.9 1750.7 764.0 1748.3 763.8 1745.8 763.9 1743.4 762.3 1740.9 759.2 1738.5 758.3 1736.0 757.5 1733.6 758.4 1731.1 758.7 1728.7 758.3 1726.2 759.9 1723.8 759.0 1721.3 757.7 1718.9 756.5 1716.4 757.3 1714.0 758.3 1711.5 757.2 1709.1 756.8 1706.6 757.7 1704.2 757.5 1701.7 758.6 1699.3 759.4 1696.8 759.9 1694.4 759.5 1691.9 760.6 1689.5 757.4 1687.0 756.3 1684.6 756.2 1682.1 756.6 1679.7 757.0 1677.2 757.8 1674.8 758.8 1672.3 760.1 1669.9 760.5 1667.4 758.7 1665.0 761.8 1662.5 762.4 1660.1 758.3 1657.6 756.8 1655.2 757.2 1652.7 758.1 1650.2 761.2 1647.8 763.0 1645.3 761.4 1642.9 759.1 1640.4 758.4 1638.0 758.4 1635.5 759.2 1633.1 760.1 1630.6 760.9 1628.2 761.6 1625.7 761.3 1623.3 758.9 1620.8 758.2 1618.4 758.3 1615.9 758.3 1613.5 759.2 1611.0 759.7 1608.6 759.8 1606.1 757.7 1603.7 755.4 1601.2 754.4 1598.8 754.1 1596.3 755.4 1593.9 754.3 1591.4 753.0 1589.0 755.6 1586.5 756.2 1584.1 756.9 1581.6 755.4 1579.2 758.2 1576.7 759.8 1574.3 759.3 1571.8 758.3 1569.4 756.1 1566.9 754.6 1564.5 754.0 1562.0 752.9 1559.6 753.6 1557.1 753.7 1554.7 756.7 1552.2 758.6 1549.8 762.0 1547.3 762.8 1544.9 762.2 1542.4 763.4 1540.0 764.6 1537.5 765.3 1535.1 766.6 1532.6 768.2 1530.2 767.3 1527.7 768.0 1525.3 768.8 1522.8 766.4 1520.4 764.5 1517.9 764.4 1515.5 762.4 1513.0 760.5 1510.6 760.6 1508.1 761.3 1505.7 760.4 1503.2 759.4 1500.8 758.0 1498.3 757.3 1495.9 757.4 1493.4 758.5 1491.0 757.2 1488.5 757.7Z" fill="#bcbd22" stroke="#bcbd22" stroke-width="1.5" stroke-linejoin="round"/>
<path transform="translate(1488.50,0) scale(0.09756,0.1)" d="M0 7431l1 -28 1 10 1 96 1 67 1 -144 1 128 1 -176 1 131 1 37 1 -108 1 16 1 -13 1 81 1 -62 1 141 1 -152 1 150 1 -147 1 -8 1 -58 1 49 1 120 1 -57 1 -89 1 0 1 118 1 -86 1 -80 1 177 1 -101 1 -4 1 59 1 -39 1 -93 1 84 1 19 1 22 1 24 1 65 1 -10 1 31 1 -100 1 48 1 60 1 -227 1 104 1 -93 1 -34 1 -6 1 134 1 194 1 -230 1 48 1 117 1 83 1 -282 1 -2 1 -23 1 -15 1 17 1 57 1 12 1 -51 1 37 1 29 1 -47 1 88 1 26 1 -218 1 -15 1 79 1 170 1 -39 1 -110 1 41 1 51 1 -154 1 138 1 1 1 -5 1 48 1 -136 1 211 1 -135 1 -54 1 -69 1 78 1 147 1 -164 1 1 1 52 1 52 1 50 1 -69 1 -41 1 -210 1 181 1 35 1 160 1 -44 1 -47 1 -40 1 -4 1 -99 1 -35 1 19 1 159 1 -21 1 37 1 52 1 -13 1 -139 1 97 1 -119 1 74 1 17 1 -42 1 -4 1 -223 1 294 1 -81 1 136 1 -77 1 -148 1 75 1 -103 1 295 1 -74 1 -78 1 100 1 -35 1 55 1 -167 1 84 1 -30 1 95 1 -70 1 -175 1 75 1 63 1 68 1 -48 1 -27 1 -153 1 140 1 36 1 -3 1 79 1 -106 1 105 1 -18 1 -27 1 -213 1 33 1 159 1 -84 1 58 1 -34 1 61 1 -65 1 -76 1 145 1 -111 1 102 1 -70 1 162 1 -135 1 115 1 -14 1 -65 1 -176 1 160 1 -69 1 46 1 75 1 78 1 -14 1 60 1 -182 1 35 1 -20 1 -28 1 -125 1 191 1 -50 1 -15 1 -16 1 83 1 -130 1 160 1 -51 1 150 1 -159 1 30 1 20 1 26 1 -100 1 -25 1 -140 1 259 1 -88 1 0 1 -70 1 161 1 2 1 -56 1 45 1 -51 1 64 1 -71 1 -82 1 88 1 -27 1 -30 1 -1 1 36 1 162 1 -45 1 -213 1 181 1 -48 1 -96 1 155 1 97 1 -101 1 -138 1 -8 1 29 1 -135 1 80 1 262 1 -3 1 -143 1 139 1 -228 1 242 1 -166 1 88 1 -133 1 -121 1 162 1 213 1 -146 1 11 1 -71 1 -117 1 158 1 22 1 67 1 9 1 -24 1 -96 1 -67 1 34 1 60 1 -76 1 89 1 -145 1 196 1 25 1 -144 1 61 1 -165 1 160 1 -78 1 2 1 -73 1 -8 1 212 1 60 1 -91 1 -113 1 -18 1 118 1 -208 1 169 1 -124 1 120 1 113 1 -69 1 -114 1 -9 1 76 1 -168 1 146 1 -31 1 6 1 73 1 72 1 -105 1 13 1 27 1 -60 1 53 1 -109 1 12 1 106 1 -159 1 129 1 126 1 -17 1 -67 1 -90 1 99 1 -143 1 -86 1 260 1 -87 1 86 1 -178 1 252 1 -217 1 112 1 -41 1 -12 1 75 1 17 1 -223 1 102 1 15 1 -94 1 181 1 -130 1 87 1 122 1 -69 1 -73 1 82 1 5 1 -144 1 45 1 58 1 91 1 -172 1 -44 1 82 1 -47 1 59 1 -112 1 6 1 58 1 -54 1 88 1 -125 1 34 1 103 1 -110 1 78 1 39 1 -40 1 65 1 -94 1 58 1 -11 1 -161 1 372 1 -166 1 -143 1 178 1 46 1 -206 1 -29 1 177 1 -54 1 56 1 42 1 -127 1 -1 1 53 1 92 1 -105 1 62 1 1 1 -57 1 13 1 121 1 -173 1 95 1 -8 1 65 1 -34 1 64 1 -106 1 56 1 -26 1 -133 1 150 1 -131 1 142 1 -66 1 132 1 -146 1 -35 1 303 1 -185 1 -102 1 16 1 67 1 -35 1 -64 1 16 1 160 1 -193 1 125 1 -73 1 -2 1 38 1 -123 1 36 1 20 1 -107 1 179 1 -23 1 -92 1 85 1 68 1 -120 1 -8 1 160 1 -156 1 102 1 -53 1 -16 1 -101 1 88 1 -64 1 115 1 -48 1 68 1 -159 1 103 1 52 1 -126 1 15 1 24 1 6 1 2 1 6 1 33 1 27 1 -64 1 63 1 -152 1 112 1 6 1 141 1 -109 1 -19 1 135 1 -93 1 15 1 -53 1 -75 1 209 1 -181 1 -49 1 1 1 97 1 118 1 -171 1 45 1 -46 1 -6 1 74 1 95 1 -48 1 58 1 -147 1 59 1 135 1 -4 1 -208 1 156 1 26 1 -230 1 105 1 37 1 -52 1 -120 1 116 1 -111 1 51 1 61 1 -76 1 158 1 18 1 -56 1 -142 1 143 1 -32 1 48 1 -79 1 52 1 -96 1 108 1 -58 1 -74 1 148 1 20 1 -9 1 55 1 -221 1 80 1 -61 1 100 1 -45 1 -76 1 52 1 -83 1 124 1 144 1 -63 1 -26 1 -61 1 47 1 23 1 -46 1 74 1 -114 1 8 1 -58 1 -67 1 128 1 -158 1 180 1 2 1 -4 1 37 1 -172 1 265 1 -191 1 3 1 16 1 28 1 -56 1 -53 1 128 1 -39 1 -86 1 251 1 -236 1 143 1 -43 1 -112 1 24 1 44 1 36 1 14 1 -55 1 -50 1 -23 1 61 1 10 1 -71 1 119 1 -28 1 -27 1 44 1 -82 1 76 1 3 1 -224 1 260 1 -127 1 40 1 86 1 -97 1 120 1 -3 1 -117 1 203 1 -21 1 -92 1 2 1 -72 1 173 1 -188 1 75 1 -37 1 74 1 -6 1 -302 1 196 1 30 1 -154 1 50 1 350 1 -249 1 -72 1 122 1 -14 1 -103 1 83 1 -3 1 76 1 -77 1 11 1 -33 1 -68 1 104 1 165 1 -76 1 -181 1 129 1 -33 1 -101 1 -119 1 339 1 -269 1 91 1 43 1 144 1 -36 1 -190 1 250 1 -341 1 143 1 31 1 168 1 -183 1 -80 1 42 1 -4 1 15 1 -15 1 -26 1 -93 1 225 1 -51 1 -83 1 119 1 104 1 -150 1 59 1 -150 1 -21 1 11 1 -27 1 16 1 116 1 75 1 -145 1 -126 1 130 1 -85 1 42 1 30 1 136 1 -110 1 -84 1 105 1 -6 1 77 1 28 1 -52 1 55 1 -205 1 -33 1 237 1 -180 1 39 1 65 1 -48 1 -138 1 154 1 -56 1 91 1 -43 1 182 1 -178 1 -54 1 191 1 -129 1 158 1 -232 1 84 1 -58 1 174 1 -158 1 -9 1 123 1 -182 1 -66 1 170 1 34 1 -106 1 -137 1 198 1 60 1 -86 1 78 1 -80 1 94 1 -6 1 -244 1 111 1 95 1 -4 1 -184 1 169 1 -121 1 40 1 -50 1 30 1 113 1 17 1 -90 1 26 1 -100 1 110 1 99 1 -111 1 -182 1 279 1 -107 1 -82 1 -68 1 109 1 -104 1 161 1 -61 1 55 1 114 1 -158 1 194 1 -320 1 -33 1 82 1 169 1 -47 1 -66 1 -63 1 127 1 11 1 -57 1 -96 1 160 1 -170 1 114 1 60 1 -30 1 40 1 -73 1 46 1 44 1 -89 1 75 1 -42 1 -88 1 10 1 70 1 -5 1 7 1 254 1 -222 1 -23 1 -91 1 -41 1 142 1 32 1 40 1 -144 1 -18 1 103 1 -141 1 2 1 98 1 17 1 8 1 -40 1 183 1 -35 1 -129 1 -41 1 -58 1 275 1 -305 1 269 1 -186 1 23 1 128 1 -135 1 45 1 -5 1 -25 1 114 1 -9 1 57 1 -186 1 8 1 122 1 15 1 -93 1 75 1 -105 1 -24 1 160 1 -112 1 50 1 -111 1 227 1 -243 1 104 1 -23 1 45 1 125 1 -192 1 -65 1 11 1 76 1 101 1 9 1 -185 1 72 1 -25 1 61 1 30 1 -103 1 138 1 -178 1 40 1 -30 1 18 1 -58 1 113 1 -66 1 21 1 2 1 35 1 108 1 -189 1 -52 1 104 1 -55 1 113 1 92 1 -267 1 158 1 86 1 -114 1 113 1 -140 1 13 1 78 1 -61 1 151 1 -173 1 79 1 66 1 -89 1 37 1 -41 1 -50 1 34 1 45 1 2 1 -9 1 -82 1 200 1 -170 1 22 1 171 1 -102 1 -44 1 -113 1 95 1 68 1 -85 1 -5 1 5 1 -170 1 181 1 136 1 -195 1 157 1 -217 1 108 1 62 1 -16 1 -18 1 -74 1 33 1 43 1 95 1 -101 1 -48 1 49 1 40 1 69 1 -253 1 156 1 -3 1 2 1 40 1 22 1 -249 1 275 1 -38 1 73 1 -96 1 -50 1 64 1 -161 1 52 1 129 1 29 1 -229 1 186 1 -9 1 -122 1 19 1 79 1 -16 1 17 1 -9 1 43 1 -117 1 56 1 -11 1 51 1 70 1 -174 1 67 1 73 1 -61 1 153 1 -140 1 -89 1 47 1 62 1 -16 1 16 1 -15 1 -10 1 106 1 -44 1 -71 1 -9 1 -56 1 27 1 18 1 107 1 -164 1 182 1 -90 1 -49 1 83 1 -154 1 -8 1 178 1 -1 1 -100 1 19 1 -177 1 110 1 -130 1 300 1 -31 1 -20 1 31 1 -4 1 -238 1 100 1 -48 1 25 1 53 1 51 1 -131 1 -59 1 275 1 -236 1 66 1 121 1 30 1 -94 1 27 1 -69 1 59 1 94 1 -109 1 50 1 -131 1 -2 1 62 1 -52 1 82 1 8 1 -179 1 311 1 -227 1 -91 1 56 1 158 1 -138 1 73 1 -35 1 87 1 -8 1 -125 1 155 1 33 1 -17 1 29 1 -143 1 -80 1 -23 1 314 1 -107 1 -108 1 3 1 51 1 -108 1 18 1 102 1 121 1 -132 1 -80 1 10 1 -23 1 33 1 212 1 -70 1 -236 1 54 1 -10 1 -2 1 108 1 -103 1 140 1 -110 1 56 1 110 1 39 1 -53 1 -134 1 26 1 27 1 -5 1 -15 1 -131 1 165 1 49 1 -61 1 60 1 -137 1 42 1 -1 1 -59 1 168 1 -32 1 -49 1 57 1 -96 1 100 1 8 1 -12 1 -166 1 2 1 -4 1 47 1 5 1 61 1 -15 1 -29 1 -79 1 237 1 -243 1 4 1 82 1 -148 1 79 1 39 1 8 1 -53 1 145 1 -195 1 290 1 -95 1 -60 1 55 1 92 1 -225 1 293 1 -280 1 86 1 -39 1 -13 1 158 1 -50 1 148 1 -33 1 -190 1 -150 1 146 1 77 1 -120 1 22 1 -51 1 -25 1 57 1 50 1 148 1 -88 1 -6 1 5 1 -77 1 20 1 68 1 -116 1 48 1 65 1 -85 1 61 1 -78 1 -67 1 234 1 -138 1 39 1 -56 1 -77 1 -50 1 152 1 62 1 -218 1 84 1 44 1 -67 1 176 1 -152 1 25 1 33 1 94 1 -130 1 -163 1 321 1 -247 1 90 1 -25 1 97 1 -220 1 179 1 54 1 -1 1 -127 1 -9 1 246 1 -35 1 -72 1 163 1 -142 1 -6 1 -119 1 -41 1 118 1 -91 1 300 1 -171 1 11 1 -101 1 55 1 -127 1 141 1 -18 1 111 1 -228 1 214 1 -243 1 133 1 -158 1 87 1 187 1 -92 1 36 1 2 1 -71 1 -6 1 64 1 7 1 -113 1 69 1 7 1 -197 1 165 1 56 1 -67 1 -32 1 -1 1 58 1 124 1 -118 1 -147 1 159 1 4 1 90 1 -34 1 -29 1 62 1 -129 1 92 1 68 1 -12 1 -80 1 206 1 -357 1 61 1 61 1 90 1 -10 1 -35 1 -176 1 98 1 -31 1 -16 1 180 1 57 1 -122 1 86 1 -135 1 42 1 -12 1 41 1 49 1 -117 1 117 1 -91 1 135 1 -47 1 -22 1 -138 1 -53 1 120 1 -66 1 67 1 -116 1 264 1 -109 1 -57 1 -58 1 147 1 34 1 -65 1 54 1 46 1 14 1 -64 1 -114 1 27 1 13 1 -23 1 73 1 -144 1 201 1 -36 1 -52 1 157 1 -162 1 -138 1 138 1 -73 1 125 1 -45 1 65 1 -26 1 128 1 -279 1 3 1 70 1 -9 1 17 1 -29 1 -29 1 -25 1 118 1 -11 1 -88 1 64 1 -46 1 30 1 -25 1 105 1 -21 1 -3 1 -10 1 -104 1 88 1 -48 1 9 1 -31 1 -117 1 192 1 58 1 -12 1 -56 1 -90 1 137 1 -76 1 36 1 87 1 11 1 -17 1 -65 1 -60 1 73 1 -176 1 158 1 14 1 52 1 -89 1 -22 1 -38 1 54 1 6 1 6 1 -93 1 161 1 23 1 2 1 -45 1 -149 1 60 1 -40 1 12 1 64 1 -129 1 205 1 -87 1 24 1 50 1 -47 1 -56 1 -24 1 -61 1 201 1 -54 1 -93 1 64 1 -64 1 206 1 -174 1 51 1 -1 1 -58 1 81 1 93 1 -68 1 46 1 -246 1 313 1 -189 1 141 1 -153 1 99 1 74 1 -93 1 -108 1 -65 1 -21 1 -38 1 161 1 -33 1 25 1 22 1 49 1 -34 1 -23 1 94 1 -26 1 18 1 -104 1 18 1 -25 1 9 1 -32 1 157 1 -63 1 -44 1 -147 1 277 1 -116 1 131 1 -232 1 132 1 -36 1 -4 1 7 1 -46 1 -26 1 2 1 196 1 -13 1 -109 1 -5 1 -40 1 135 1 -72 1 39 1 -83 1 72 1 -187 1 136 1 36 1 -39 1 -99 1 152 1 62 1 -131 1 14 1 58 1 -76 1 -31 1 68 1 -183 1 241 1 -13 1 110 1 -255 1 50 1 10 1 137 1 -239 1 -19 1 193 1 149 1 -187 1 119 1 -57 1 -134 1 135 1 -92 1 21 1 -23 1 -2 1 54 1 19 1 -11 1 133 1 -215 1 134 1 -22 1 68 1 -96 1 57 1 -99 1 91 1 -98 1 63 1 -39 1 123 1 -119 1 122 1 -114 1 148 1 -138 1 5 1 -67 1 48 1 -40 1 4 1 114 1 -36 1 174 1 -267 1 -63 1 233 1 -103 1 -6 1 69 1 -21 1 -136 1 112 1 -64 1 79 1 16 1 -162 1 186 1 -93 1 -20 1 26 1 -213 1 268 1 -79 1 103 1 -99 1 191 1 -99 1 17 1 -153 1 99 1 -129 1 336 1 -251 1 93 1 -52 1 -89 1 48 1 -10 1 97 1 -19 1 -82 1 106 1 -64 1 -50 1 7 1 96 1 -63 1 35 1 15 1 -113 1 42 1 -60 1 -91 1 147 1 -119 1 102 1 44 1 -99 1 62 1 31 1 -103 1 114 1 -49 1 -43 1 112 1 -38 1 22 1 79 1 -101 1 80 1 42 1 -134 1 45 1 -35 1 1 1 -81 1 -38 1 42 1 46 1 -31 1 185 1 -176 1 11 1 2 1 69 1 -97 1 -47 1 196 1 -116 1 105 1 69 1 -147 1 -28 1 11 1 13 1 -34 1 -34 1 152 1 17 1 -107 1 -76 1 -14 1 152 1 -13 1 -168 1 46 1 59 1 26 1 -19 1 69 1 -278 1 262 1 41 1 -65 1 -86 1 97 1 109 1 -207 1 92 1 -86 1 120 1 -74 1 -87 1 58 1 -41 1 112 1 -62 1 28 1 64 1 -138 1 58 1 141 1 -19 1 -181 1 52 1 81 1 -105 1 93 1 -11 1 -57 1 -23 1 -97 1 38 1 100 1 76 1 -76 1 27 1 -133 1 70 1 122 1 26 1 -157 1 -25 1 97 1 102 1 -58 1 -33 1 56 1 53 1 -11 1 -184 1 195 1 -145 1 149 1 49 1 -47 1 -135 1 -76 1 175 1 108 1 -328 1 101 1 -47 1 211 1 -166 1 144 1 -192 1 135 1 36 1 29 1 -168 1 145 1 11 1 -62 1 0 1 55 1 -198 1 40 1 -1 1 244 1 -23 1 -14 1 -122 1 -5 1 -93 1 104 1 -197 1 186 1 -131 1 175 1 53 1 -122 1 -25 1 26 1 -33 1 -12 1 42 1 37 1 -122 1 138 1 -29 1 2 1 114 1 -143 1 82 1 -56 1 13 1 -49 1 -94 1 37 1 47 1 -82 1 207 1 -176 1 -69 1 214 1 -145 1 127 1 -43 1 -39 1 -1 1 22 1 103 1 -77 1 -105 1 62 1 -28 1 184 1 -99 1 -194 1 8 1 125 1 117 1 -94 1 -106 1 96 1 -62 1 173 1 -133 1 -29 1 86 1 12 1 -162 1 116 1 7 1 7 1 -33 1 101 1 -57 1 -162 1 154 1 -106 1 44 1 30 1 -66 1 -6 1 1 1 102 1 -42 1 -61 1 102 1 -205 1 299 1 -48 1 10 1 -131 1 81 1 -110 1 96 1 23 1 8 1 -70 1 -101 1 143 1 -52 1 80 1 -20 1 -67 1 -17 1 131 1 -15 1 -169 1 231 1 -148 1 104 1 -113 1 -92 1 190 1 -100 1 128 1 -127 1 5 1 32 1 -49 1 39 1 -22 1 38 1 210 1 -92 1 -131 1 -15 1 28 1 -101 1 131 1 21 1 -6 1 -127 1 37 1 -112 1 111 1 -41 1 173 1 -162 1 133 1 -46 1 16 1 -7 1 28 1 11 1 50 1 -66 1 -92 1 44 1 117 1 -200 1 155 1 117 1 -43 1 79 1 -226 1 55 1 37 1 -53 1 10 1 -125 1 204 1 -75 1 9 1 -137 1 203 1 -112 1 -23 1 102 1 -51 1 41 1 -159 1 168 1 -154 1 125 1 73 1 -114 1 102 1 -12 1 -143 1 5 1 -99 1 153 1 13 1 38 1 -139 1 128 1 -39 1 -31 1 158 1 -136 1 -33 1 -23 1 110 1 -104 1 237 1 -168 1 -49 1 -58 1 -60 1 74 1 65 1 -67 1 -79 1 120 1 -46 1 -21 1 181 1 -54 1 -37 1 97 1 -59 1 -133 1 95 1 29 1 20 1 -54 1 38 1 71 1 -114 1 141 1 -41 1 -165 1 100 1 -55 1 66 1 102 1 -109 1 143 1 -336 1 309 1 -163 1 55 1 84 1 -172 1 95 1 48 1 124 1 -169 1 -176 1 40 1 231 1 -215 1 77 1 -25 1 -56 1 191 1 -48 1 -204 1 174 1 -1 1 85 1 -103 1 -73 1 -80 1 78 1 64 1 16 1 -97 1 77 1 20 1 133 1 -90 1 -49 1 2 1 -15 1 -101 1 271 1 -201 1 41 1 129 1 -166 1 30 1 147 1 -152 1 -28 1 64 1 -76 1 98 1 -64 1 11 1 -43 1 135 1 -288 1 314 1 -238 1 101 1 5 1 -87 1 146 1 53 1 -205 1 -74 1 -48 1 160 1 247 1 -246 1 -32 1 43 1 -27 1 -14 1 25 1 61 1 97 1 -54 1 -110 1 -46 1 -18 1 82 1 118 1 -133 1 139 1 -145 1 130 1 -143 1 7 1 97 1 -80 1 -5 1 78 1 -42 1 16 1 133 1 -97 1 -237 1 163 1 183 1 -177 1 -20 1 32 1 -46 1 -36 1 -76 1 56 1 99 1 156 1 1 1 -204 1 41 1 29 1 -126 1 208 1 9 1 -36 1 -79 1 106 1 -90 1 28 1 -12 1 5 1 110 1 -182 1 -25 1 215 1 -104 1 -84 1 20 1 143 1 -125 1 59 1 -162 1 44 1 -66 1 184 1 -111 1 110 1 -105 1 66 1 78 1 -23 1 -37 1 -81 1 174 1 -314 1 170 1 16 1 -17 1 63 1 -32 1 -118 1 225 1 -144 1 -48 1 -26 1 226 1 -154 1 175 1 -101 1 -48 1 6 1 29 1 -79 1 -22 1 50 1 83 1 -30 1 -64 1 -20 1 42 1 113 1 -58 1 -59 1 122 1 -86 1 19 1 -112 1 -14 1 174 1 -194 1 -15 1 165 1 -22 1 32 1 18 1 58 1 96 1 -229 1 -120 1 224 1 -144 1 104 1 -68 1 33 1 -53 1 -7 1 -5 1 -10 1 -37 1 194 1 -40 1 -133 1 165 1 -153 1 78 1 -84 1 83 1 28 1 -15 1 145 1 -165 1 29 1 -76 1 34 1 121 1 -78 1 -36 1 32 1 -78 1 72 1 -8 1 127 1 -179 1 -42 1 142 1 28 1 -52 1 -173 1 6 1 130 1 93 1 -21 1 49 1 -22 1 -122 1 20 1 69 1 -72 1 -8 1 -107 1 200 1 -201 1 33 1 150 1 -107 1 90 1 -134 1 56 1 66 1 -128 1 71 1 96 1 -60 1 -86 1 68 1 63 1 -23 1 -74 1 -65 1 159 1 -88 1 -14 1 -25 1 -30 1 202 1 -84 1 -28 1 -29 1 -29 1 19 1 133 1 22 1 -93 1 -44 1 166 1 -90 1 -48 1 20 1 -75 1 161 1 -110 1 44 1 -177 1 302 1 -235 1 216 1 -166 1 29 1 107 1 -36 1 -82 1 -52 1 46 1 121 1 -58 1 -168 1 148 1 155 1 -112 1 50 1 -9 1 -200 1 144 1 -3 1 -49 1 37 1 17 1 85 1 -63 1 -117 1 1 1 84 1 58 1 -25 1 -109 1 78 1 -30 1 -79 1 178 1 -35 1 4 1 -191 1 144 1 -5 1 96 1 -189 1 48 1 4 1 24 1 128 1 -178 1 -63 1 121 1 -45 1 -46 1 114 1 -64 1 -100 1 212 1 -255 1 77 1 199 1 -4 1 -144 1 19 1 76 1 -175 1 25 1 9 1 212 1 -105 1 -205 1 297 1 -141 1 -20 1 -20 1 103 1 100 1 -104 1 -132 1 19 1 110 1 -90 1 -23 1 130 1 5 1 -53 1 -24 1 -143 1 123 1 49 1 -131 1 152 1 44 1 -83 1 90 1 102 1 -214 1 107 1 -4 1 -91 1 -86 1 97 1 30 1 92 1 -82 1 -49 1 -78 1 1 1 10 1 96 1 44 1 8 1 -105 1 128 1 -85 1 -72 1 27 1 22 1 89 1 -110 1 -4 1 -18 1 72 1 11 1 66 1 10 1 -119 1 16 1 18 1 47 1 -192 1 227 1 -148 1 73 1 -37 1 2 1 72 1 -127 1 60 1 -6 1 14 1 68 1 -265 1 240 1 17 1 -232 1 281 1 -143 1 -133 1 150 1 -3 1 5 1 152 1 -193 1 -24 1 82 1 80 1 -116 1 -69 1 92 1 79 1 -81 1 85 1 71 1 -182 1 106 1 75 1 -172 1 29 1 -14 1 -49 1 94 1 -52 1 -13 1 -26 1 136 1 -16 1 -139 1 -65 1 127 1 6 1 159 1 -241 1 69 1 70 1 -97 1 77 1 -15 1 -17 1 -44 1 -113 1 147 1 76 1 -93 1 80 1 32 1 4 1 -38 1 123 1 -189 1 63 1 -147 1 185 1 -76 1 81 1 -84 1 23 1 -98 1 46 1 -12 1 96 1 -45 1 55 1 -6 1 18 1 -27 1 -20 1 110 1 -160 1 52 1 -15 1 -136 1 -134 1 416 1 -97 1 -30 1 49 1 -103 1 29 1 -33 1 -17 1 -24 1 30 1 21 1 59 1 -64 1 -36 1 85 1 -30 1 -4 1 -11 1 139 1 -123 1 -13 1 129 1 -112 1 -10 1 164 1 -299 1 133 1 -77 1 125 1 -38 1 89 1 -51 1 -8 1 -67 1 -76 1 259 1 -124 1 -115 1 119 1 92 1 -224 1 -23 1 66 1 55 1 22 1 29 1 -80 1 -22 1 175 1 -198 1 138 1 -54 1 32 1 -41 1 17 1 -111 1 160 1 -73 1 -51 1 -21 1 237 1 -253 1 35 1 21 1 113 1 108 1 -156 1 -28 1 161 1 -120 1 5 1 -17 1 -106 1 238 1 -126 1 42 1 -122 1 -56 1 -7 1 150 1 -201 1 158 1 -171 1 284 1 -18 1 -60 1 27 1 122 1 -173 1 190 1 -130 1 -88 1 129 1 -102 1 26 1 15 1 -102 1 143 1 -169 1 202 1 -153 1 77 1 -38 1 90 1 -45 1 -3 1 -28 1 9 1 -156 1 121 1 117 1 -193 1 25 1 204 1 -262 1 137 1 -16 1 50 1 -12 1 -14 1 -35 1 -79 1 38 1 17 1 39 1 77 1 -33 1 -115 1 40 1 95 1 -56 1 -133 1 80 1 10 1 -76 1 100 1 108 1 -84 1 12 1 -74 1 71 1 6 1 -22 1 48 1 24 1 48 1 -169 1 36 1 22 1 -57 1 0 1 209 1 -153 1 134 1 -296 1 228 1 -199 1 166 1 -11 1 38 1 69 1 -264 1 246 1 -93 1 7 1 -32 1 -106 1 245 1 -154 1 62 1 -74 1 35 1 46 1 -159 1 89 1 39 1 -14 1 26 1 -70 1 23 1 44 1 16 1 115 1 -78 1 -99 1 -3 1 71 1 -184 1 43 1 137 1 -120 1 161 1 -141 1 42 1 137 1 -240 1 242 1 -167 1 43 1 -93 1 10 1 48 1 274 1 -156 1 -304 1 145 1 131 1 -163 1 -10 1 121 1 -45 1 -36 1 -78 1 216 1 -84 1 142 1 -180 1 98 1 161 1 -253 1 -16 1 -72 1 129 1 171 1 -21 1 -223 1 103 1 101 1 -76 1 22 1 -144 1 31 1 163 1 -117 1 -56 1 137 1 -33 1 74 1 -133 1 174 1 -96 1 -19 1 20 1 -72 1 37 1 -46 1 -43 1 1 1 -121 1 259 1 -135 1 162 1 -6 1 0 1 -106 1 97 1 -10 1 -20 1 -13 1 -174 1 168 1 25 1 -32 1 74 1 8 1 -80 1 -40 1 90 1 7 1 -124 1 213 1 -28 1 -106 1 -160 1 196 1 -165 1 135 1 164 1 -302 1 53 1 126 1 -13 1 -142 1 106 1 -81 1 22 1 83 1 -6 1 -97 1 -107 1 158 1 132 1 -140 1 128 1 -99 1 -29 1 71 1 11 1 -4 1 -86 1 -11 1 53 1 25 1 109 1 40 1 -145 1 -87 1 208 1 -163 1 -5 1 -37 1 -13 1 73 1 -136 1 118 1 118 1 -84 1 -26 1 -79 1 64 1 0 1 123 1 -72 1 -73 1 183 1 -199 1 2 1 102 1 -75 1 -23 1 0 1 -20 1 140 1 -20 1 52 1 69 1 -207 1 32 1 135 1 -170 1 11 1 70 1 257 1 -265 1 14 1 -108 1 78 1 45 1 -106 1 -16 1 -36 1 35 1 193 1 -103 1 -57 1 168 1 -53 1 14 1 -119 1 123 1 -178 1 45 1 -54 1 108 1 -58 1 141 1 -30 1 -79 1 22 1 -46 1 9 1 13 1 207 1 -318 1 198 1 -144 1 163 1 -148 1 -15 1 105 1 -2 1 63 1 -61 1 -25 1 46 1 28 1 88 1 -144 1 -49 1 -122 1 210 1 35 1 -107 1 1 1 -126 1 37 1 57 1 -2 1 20 1 -54 1 -57 1 314 1 -190 1 -100 1 165 1 45 1 -187 1 138 1 -39 1 -77 1 -88 1 210 1 -164 1 64 1 64 1 -99 1 71 1 -27 1 -188 1 139 1 10 1 -65 1 253 1 -279 1 92 1 19 1 70 1 -138 1 110 1 26 1 61 1 -218 1 166 1 -17 1 -72 1 -14 1 -79 1 175 1 56 1 -69 1 36 1 -11 1 17 1 -113 1 -35 1 29 1 213 1 -9 1 -235 1 204 1 -187 1 149 1 -51 1 -233 1 156 1 85 1 -189 1 189 1 19 1 -99 1 -67 1 57 1 -84 1 32 1 -3 1 86 1 50 1 32 1 -52 1 41 1 -28 1 125 1 13 1 -366 1 83 1 127 1 -71 1 11 1 67 1 89 1 -190 1 50 1 140 1 -143 1 70 1 -192 1 368 1 -235 1 121 1 -79 1 142 1 -161 1 29 1 116 1 -159 1 16 1 96 1 -173 1 104 1 -22 1 -93 1 206 1 -120 1 -59 1 179 1 -251 1 74 1 122 1 -195 1 144 1 26 1 38 1 -126 1 59 1 -32 1 -2 1 41 1 -23 1 19 1 -67 1 27 1 110 1 -37 1 32 1 -93 1 -104 1 111 1 -132 1 256 1 -149 1 -75 1 166 1 -55 1 -9 1 10 1 23 1 -359 1 431 1 -146 1 93 1 -86 1 15 1 -20 1 60 1 -33 1 39 1 -36 1 25 1 -23 1 -108 1 23 1 244 1 -143 1 100 1 -243 1 157 1 -205 1 169 1 67 1 -155 1 303 1 -308 1 15 1 82 1 112 1 -14 1 -83 1 158 1 -161 1 -63 1 158 1 1 1 -208 1 116 1 12 1 -60 1 151 1 -125 1 -29 1 -87 1 68 1 172 1 -217 1 158 1 -59 1 -94 1 18 1 111 1 69 1 -211 1 84 1 -13 1 -18 1 35 1 -138 1 142 1 -85 1 23 1 119 1 -82 1 42 1 -10 1 -57 1 46 1 72 1 -183 1 136 1 -149 1 102 1 -40 1 74 1 114 1 -106 1 -1 1 25 1 135 1 -181 1 61 1 8 1 -112 1 -15 1 140 1 -4 1 -113 1 -14 1 4 1 55 1 -148 1 127 1 42 1 50 1 -143 1 96 1 -67 1 -38 1 98 1 -107 1 -18 1 98 1 85 1 42 1 -36 1 -7 1 -43 1 -88 1 23 1 52 1 -103 1 89 1 -170 1 171 1 -57 1 117 1 -133 1 3 1 12 1 -10 1 -77 1 12 1 135 1 53 1 -46 1 -7 1 -116 1 183 1 -9 1 -106 1 87 1 -28 1 35 1 -183 1 104 1 87 1 -118 1 18 1 -45 1 104 1 -33 1 88 1 -121 1 143 1 -120 1 -75 1 14 1 200 1 -132 1 -6 1 5 1 -46 1 -86 1 78 1 -64 1 203 1 -188 1 -1 1 180 1 -29 1 101 1 -135 1 -19 1 -133 1 198 1 -12 1 -21 1 -104 1 98 1 -12 1 80 1 -126 1 70 1 28 1 -38 1 9 1 -33 1 -57 1 -32 1 -92 1 169 1 -38 1 -63 1 166 1 -68 1 9 1 -160 1 93 1 153 1 95 1 -200 1 126 1 -28 1 26 1 -79 1 33 1 -197 1 155 1 -83 1 218 1 -249 1 184 1 -80 1 9 1 -91 1 108 1 -87 1 66 1 -40 1 -94 1 -26 1 200 1 -60 1 -30 1 66 1 -197 1 209 1 -28 1 -38 1 -43 1 133 1 34 1 -110 1 -71 1 167 1 -60 1 37 1 15 1 -69 1 85 1 -97 1 -64 1 63 1 -60 1 15 1 86 1 19 1 -59 1 38 1 22 1 70 1 -243 1 68 1 -138 1 192 1 -39 1 -7 1 244 1 -167 1 -148 1 93 1 -50 1 45 1 -21 1 75 1 2 1 98 1 15 1 -236 1 157 1 -6 1 -84 1 -38 1 45 1 -40 1 19 1 107 1 -243 1 99 1 169 1 -24 1 57 1 -139 1 66 1 141 1 -343 1 103 1 55 1 -85 1 102 1 -68 1 118 1 -137 1 187 1 -271 1 132 1 -34 1 -8 1 65 1 1 1 42 1 -33 1 -35 1 -23 1 74 1 18 1 -129 1 205 1 -278 1 183 1 -68 1 -54 1 -109 1 240 1 69 1 -89 1 119 1 -44 1 58 1 -217 1 54 1 1 1 -64 1 13 1 150 1 -173 1 105 1 61 1 -71 1 72 1 -36 1 84 1 -75 1 -44 1 26 1 -117 1 104 1 4 1 -108 1 7 1 43 1 29 1 56 1 56 1 -148 1 -63 1 -11 1 -98 1 187 1 -11 1 6 1 -18 1 139 1 -40 1 -67 1 51 1 -115 1 167 1 -236 1 248 1 -103 1 149 1 -182 1 -27 1 33 1 99 1 -164 1 109 1 63 1 -121 1 -15 1 -44 1 92 1 51 1 -33 1 62 1 -121 1 79 1 -16 1 -29 1 -45 1 -50 1 63 1 135 1 -193 1 -73 1 168 1 25 1 82 1 -80 1 68 1 -184 1 241 1 -95 1 -95 1 139 1 -32 1 -197 1 300 1 -108 1 -222 1 103 1 206 1 -67 1 69 1 -177 1 104 1 -15 1 61 1 -170 1 312 1 -101 1 -173 1 144 1 -200 1 103 1 -78 1 68 1 -13 1 34 1 -45 1 173 1 -17 1 -182 1 -33 1 83 1 96 1 -57 1 -116 1 33 1 133 1 -214 1 262 1 -87 1 118 1 -207 1 -150 1 177 1 29 1 4 1 -25 1 -54 1 -16 1 42 1 -96 1 258 1 -120 1 -42 1 31 1 -162 1 138 1 103 1 -94 1 -89 1 -52 1 117 1 -54 1 47 1 41 1 146 1 -218 1 148 1 -144 1 13 1 34 1 -114 1 115 1 -93 1 165 1 -46 1 -214 1 141 1 175 1 -171 1 78 1 -81 1 176 1 -159 1 30 1 23 1 90 1 -72 1 -124 1 1 1 169 1 -53 1 -126 1 39 1 131 1 -132 1 88 1 -4 1 59 1 -118 1 17 1 -40 1 39 1 57 1 56 1 -9 1 -99 1 72 1 -70 1 158 1 -121 1 4 1 39 1 -5 1 31 1 75 1 -286 1 175 1 -76 1 -105 1 169 1 -90 1 -101 1 94 1 100 1 47 1 -43 1 -119 1 -171 1 327 1 -63 1 -103 1 152 1 -150 1 -2 1 147 1 -66 1 -39 1 182 1 -83 1 37 1 27 1 -183 1 134 1 -21 1 -61 1 -23 1 86 1 -17 1 -91 1 104 1 -68 1 62 1 -59 1 31 1 -78 1 85 1 5 1 116 1 28 1 -308 1 87 1 217 1 -279 1 242 1 -117 1 -72 1 -72 1 10 1 111 1 26 1 26 1 45 1 -2 1 43 1 -156 1 43 1 86 1 -205 1 310 1 -207 1 35 1 37 1 141 1 -228 1 1 1 123 1 -171 1 126 1 -88 1 94 1 -6 1 -6 1 -65 1 65 1 -153 1 105 1 66 1 41 1 51 1 -262 1 -22 1 105 1 19 1 95 1 -132 1 75 1 -92 1 111 1 -270 1 197 1 56 1 -95 1 117 1 41 1 -77 1 32 1 -139 1 7 1 -10 1 71 1 -117 1 47 1 47 1 -31 1 48 1 -50 1 202 1 -60 1 -250 1 225 1 31 1 -33 1 -13 1 -63 1 21 1 142 1 -195 1 -47 1 -1 1 45 1 -23 1 92 1 28 1 -21 1 101 1 -46 1 -26 1 -52 1 25 1 -92 1 26 1 146 1 -32 1 106 1 -230 1 11 1 -3 1 93 1 63 1 -43 1 -94 1 14 1 -34 1 126 1 -98 1 -103 1 332 1 -129 1 -31 1 -56 1 99 1 -127 1 206 1 -157 1 31 1 96 1 -111 1 -76 1 123 1 57 1 -98 1 58 1 -6 1 -153 1 79 1 -42 1 266 1 -90 1 -10 1 -37 1 21 1 -74 1 -75 1 -37 1 126 1 -13 1 -150 1 265 1 -173 1 19 1 -20 1 22 1 30 1 -84 1 117 1 -54 1 181 1 -242 1 81 1 158 1 -257 1 150 1 -97 1 14 1 38 1 -96 1 180 1 -112 1 -158 1 131 1 19 1 144 1 -103 1 -4 1 7 1 9 1 -9 1 20 1 71 1 -40 1 -53 1 32 1 -70 1 -59 1 93 1 57 1 40 1 -225 1 144 1 55 1 -64 1 -27 1 -25 1 149 1 -136 1 20 1 32 1 -55 1 60 1 -183 1 86 1 -8 1 76 1 -110 1 95 1 113 1 3 1 -82 1 -26 1 -10 1 -52 1 59 1 13 1 -36 1 118 1 -145 1 20 1 3 1 -31 1 221 1 -27 1 0 1 -270 1 183 1 -70 1 -149 1 292 1 -49 1 -86 1 -48 1 -54 1 179 1 -127 1 144 1 -73 1 12 1 2 1 -119 1 34 1 169 1 -168 1 -53 1 126 1 -18 1 -102 1 147 1 -174 1 182 1 -55 1 31 1 -60 1 3 1 124 1 -116 1 -12 1 61 1 21 1 -88 1 12 1 149 1 -179 1 -109 1 135 1 -17 1 161 1 -184 1 35 1 9 1 50 1 -114 1 14 1 -7 1 128 1 -177 1 45 1 -109 1 254 1 -100 1 12 1 -69 1 12 1 82 1 -29 1 144 1 -241 1 89 1 22 1 -5 1 -1 1 -45 1 58 1 -20 1 100 1 -149 1 -33 1 69 1 51 1 -62 1 -99 1 134 1 13 1 -47 1 -67 1 40 1 47 1 71 1 -151 1 43 1 187 1 -287 1 45 1 30 1 5 1 109 1 -137 1 -11 1 -30 1 146 1 17 1 -211 1 153 1 163 1 -76 1 -76 1 -66 1 174 1 -75 1 38 1 -46 1 62 1 -146 1 136 1 -45 1 -58 1 80 1 -47 1 46 1 -162 1 191 1 -92 1 63 1 12 1 69 1 -118 1 16 1 -38 1 21 1 65 1 -16 1 68 1 -163 1 -32 1 92 1 23 1 -220 1 193 1 -103 1 147 1 -40 1 61 1 -71 1 37 1 -44 1 -13 1 106 1 -241 1 222 1 -90 1 -54 1 40 1 90 1 9 1 -15 1 184 1 -283 1 -51 1 30 1 -72 1 213 1 -55 1 -6 1 -43 1 73 1 136 1 -207 1 -100 1 243 1 42 1 -182 1 137 1 -115 1 -13 1 86 1 31 1 -105 1 62 1 -86 1 9 1 -55 1 42 1 -3 1 222 1 -113 1 -243 1 147 1 98 1 -28 1 -181 1 102 1 29 1 39 1 -9 1 -174 1 268 1 -135 1 191 1 -274 1 70 1 -14 1 144 1 -13 1 -119 1 39 1 -18 1 52 1 2 1 23 1 50 1 -50 1 113 1 -222 1 41 1 -53 1 65 1 176 1 -242 1 -34 1 192 1 13 1 -227 1 168 1 -56 1 95 1 -118 1 48 1 -158 1 88 1 229 1 -97 1 -134 1 8 1 143 1 -119 1 -89 1 34 1 139 1 -132 1 -50 1 135 1 61 1 -203 1 22 1 96 1 31 1 -129 1 48 1 -58 1 83 1 79 1 -59 1 -100 1 73 1 42 1 2 1 -148 1 49 1 29 1 69 1 113 1 -198 1 218 1 -271 1 -31 1 57 1 111 1 -84 1 91 1 13 1 -41 1 -56 1 -210 1 228 1 -21 1 132 1 -120 1 -43 1 -2 1 44 1 90 1 -198 1 107 1 -111 1 92 1 -53 1 235 1 -58 1 -104 1 -38 1 135 1 74 1 -262 1 199 1 -166 1 -82 1 205 1 55 1 -74 1 -105 1 211 1 -137 1 124 1 26 1 -12 1 -73 1 86 1 -111 1 108 1 -6 1 36 1 -167 1 105 1 -67 1 -55 1 55 1 32 1 23 1 66 1 -147 1 55 1 157 1 -97 1 -158 1 61 1 6 1 -54 1 224 1 -108 1 -3 1 -30 1 -71 1 100 1 83 1 -72 1 -2 1 -237 1 100 1 -10 1 -36 1 115 1 -64 1 24 1 23 1 118 1 -246 1 140 1 21 1 -77 1 33 1 -65 1 153 1 133 1 -53 1 -117 1 -48 1 -107 1 200 1 -59 1 84 1 -124 1 -55 1 9 1 144 1 23 1 -5 1 -104 1 158 1 -262 1 44 1 8 1 114 1 -73 1 -110 1 127 1 -57 1 39 1 -112 1 167 1 195 1 -251 1 73 1 91 1 -76 1 20 1 -94 1 -14 1 127 1 1 1 -173 1 183 1 -156 1 89 1 57 1 -108 1 47 1 204 1 -225 1 110 1 -28 1 159 1 -355 1 104 1 77 1 -111 1 41 1 36 1 41 1 -48 1 -41 1 -42 1 101 1 -22 1 -46 1 -23 1 32 1 81 1 -57 1 25 1 -101 1 170 1 -111 1 30 1 37 1 -30 1 63 1 66 1 -248 1 43 1 114 1 -141 1 48 1 149 1 -111 1 44 1 47 1 -20 1 -47 1 -32 1 21 1 43 1 85 1 -53 1 -95 1 55 1 15 1 13 1 -39 1 101 1 -52 1 82 1 -264 1 118 1 82 1 -63 1 -57 1 -110 1 88 1 173 1 -129 1 -55 1 72 1 146 1 -24 1 -297 1 154 1 116 1 18 1 52 1 -96 1 16 1 6 1 -208 1 -15 1 188 1 146 1 -70 1 -159 1 -80 1 206 1 -64 1 -24 1 -94 1 56 1 43 1 70 1 -154 1 40 1 117 1 46 1 -311 1 329 1 -185 1 92 1 -1 1 -53 1 -141 1 99 1 72 1 -163 1 226 1 -174 1 -12 1 94 1 -19 1 -38 1 -93 1 66 1 129 1 -18 1 31 1 51 1 -56 1 29 1 13 1 -132 1 23 1 -4 1 -25 1 -9 1 42 1 -34 1 175 1 -125 1 23 1 -96 1 80 1 89 1 -193 1 134 1 -84 1 0 1 4 1 -17 1 141 1 35 1 -94 1 143 1 -246 1 64 1 47 1 51 1 48 1 -245 1 72 1 118 1 -3 1 -175 1 86 1 50 1 -53 1 22 1 97 1 -225 1 46 1 68 1 164 1 -212 1 97 1 -83 1 1 1 149 1 -143 1 60 1 43 1 -125 1 73 1 -117 1 64 1 133 1 -109 1 87 1 -111 1 30 1 -104 1 117 1 82 1 -59 1 21 1 117 1 -110 1 -180 1 221 1 -158 1 87 1 -101 1 35 1 35 1 106 1 -36 1 -40 1 -209 1 24 1 246 1 -127 1 136 1 -93 1 -152 1 49 1 43 1 172 1 -77 1 18 1 -264 1 188 1 -111 1 70 1 48 1 40 1 -170 1 129 1 -43 1 29 1 77 1 -115 1 127 1 -87 1 94 1 77 1 -239 1 17 1 63 1 147 1 -37 1 -126 1 146 1 -359 1 325 1 -47 1 -147 1 31 1 22 1 -17 1 -17 1 64 1 48 1 -21 1 -42 1 -18 1 -47 1 49 1 -37 1 112 1 24 1 -2 1 -40 1 103 1 -61 1 -91 1 83 1 54 1 11 1 -32 1 3 1 -208 1 11 1 -24 1 172 1 52 1 -22 1 54 1 -108 1 68 1 -132 1 141 1 -93 1 242 1 -203 1 -21 1 -11 1 45 1 -49 1 -11 1 -9 1 -106 1 144 1 -96 1 -47 1 28 1 38 1 -3 1 -59 1 -9 1 153 1 -35 1 -134 1 90 1 131 1 -106 1 -47 1 16 1 37 1 14 1 15 1 70 1 -132 1 10 1 94 1 5 1 1 1 -26 1 -172 1 133 1 -38 1 33 1 -8 1 21 1 124 1 -227 1 32 1 8 1 11 1 -45 1 124 1 -96 1 -151 1 82 1 97 1 150 1 80 1 -168 1 -89 1 85 1 -65 1 -19 1 -33 1 -36 1 75 1 64 1 -17 1 43 1 -306 1 160 1 20 1 175 1 -14 1 -125 1 -37 1 -6 1 -68 1 75 1 64 1 -8 1 -76 1 -38 1 -9 1 58 1 -128 1 220 1 -71 1 95 1 -41 1 -168 1 248 1 -91 1 5 1 -26 1 -42 1 117 1 -27 1 16 1 38 1 -74 1 36 1 -8 1 42 1 30 1 -13 1 -2 1 -21 1 37 1 -21 1 -231 1 234 1 -152 1 -187 1 134 1 52 1 74 1 -196 1 194 1 -22 1 150 1 -157 1 -20 1 182 1 -157 1 -15 1 12 1 126 1 -66 1 -134 1 56 1 159 1 -131 1 180 1 -194 1 -56 1 -78 1 224 1 -37 1 2 1 63 1 2 1 -125 1 88 1 -41 1 30 1 -1 1 37 1 -51 1 -123 1 -30 1 -50 1 290 1 -32 1 -172 1 19 1 106 1 -110 1 49 1 134 1 -164 1 12 1 18 1 -17 1 155 1 -209 1 65 1 -101 1 91 1 -7 1 81 1 42 1 -131 1 103 1 -110 1 46 1 164 1 -201 1 -33 1 148 1 12 1 -102 1 62 1 -34 1 90 1 -57 1 -18 1 -2 1 -138 1 167 1 75 1 -39 1 -18 1 -113 1 -72 1 111 1 -88 1 154 1 -135 1 73 1 -2 1 37 1 -30 1 -100 1 116 1 -69 1 53 1 14 1 -38 1 161 1 -186 1 -13 1 128 1 -85 1 -27 1 97 1 -96 1 -66 1 3 1 53 1 -122 1 61 1 129 1 -60 1 -119 1 80 1 60 1 -80 1 53 1 61 1 0 1 -25 1 132 1 -126 1 46 1 -46 1 1 1 -61 1 40 1 10 1 -30 1 -12 1 75 1 -7 1 -42 1 -35 1 -11 1 165 1 -75 1 -19 1 95 1 -124 1 -75 1 143 1 -24 1 -141 1 130 1 -27 1 -37 1 18 1 -52 1 10 1 120 1 -150 1 40 1 -93 1 65 1 93 1 -136 1 111 1 19 1 -34 1 3 1 33 1 -39 1 66 1 10 1 -203 1 252 1 -209 1 63 1 118 1 -43 1 98 1 -91 1 -150 1 309 1 -255 1 50 1 96 1 -49 1 -146 1 148 1 -60 1 87 1 -51 1 -52 1 -32 1 160 1 -159 1 -21 1 123 1 -91 1 117 1 -115 1 32 1 28 1 -77 1 -3 1 59 1 24 1 -85 1 79 1 -193 1 394 1 -283 1 -29 1 107 1 147 1 -198 1 51 1 -55 1 -58 1 109 1 10 1 -71 1 99 1 7 1 -55 1 -2 1 -58 1 -22 1 86 1 75 1 -228 1 -13 1 100 1 195 1 9 1 -147 1 139 1 -174 1 38 1 -36 1 48 1 29 1 71 1 48 1 -274 1 60 1 221 1 -176 1 56 1 -79 1 14 1 -102 1 253 1 -53 1 -158 1 149 1 -113 1 -11 1 110 1 0 1 -80 1 164 1 65 1 -187 1 128 1 -72 1 -111 1 -7 1 -65 1 110 1 17 1 86 1 -4 1 175 1 -357 1 169 1 10 1 52 1 -64 1 -13 1 55 1 -104 1 53 1 1 1 130 1 -85 1 -158 1 120 1 104 1 -48 1 -221 1 47 1 67 1 -62 1 120 1 -98 1 22 1 65 1 -1 1 -68 1 132 1 -199 1 55 1 175 1 -19 1 51 1 -74 1 -95 1 153 1 -52 1 -58 1 5 1 -5 1 42 1 -175 1 186 1 -118 1 159 1 -130 1 -103 1 103 1 217 1 -249 1 21 1 99 1 -123 1 -7 1 114 1 -90 1 37 1 -39 1 35 1 162 1 -163 1 110 1 -6 1 -211 1 111 1 15 1 207 1 -189 1 -65 1 70 1 16 1 -79 1 67 1 24 1 35 1 -21 1 -90 1 -97 1 138 1 54 1 -62 1 112 1 -64 1 -7 1 -62 1 11 1 -13 1 84 1 -172 1 116 1 58 1 -64 1 60 1 -96 1 103 1 -56 1 -136 1 46 1 36 1 84 1 31 1 -21 1 -89 1 -15 1 50 1 -57 1 164 1 -169 1 252 1 -90 1 -35 1 -5 1 -44 1 -237 1 276 1 -171 1 199 1 -161 1 156 1 -126 1 44 1 -37 1 55 1 124 1 -49 1 -80 1 -59 1 102 1 -18 1 -80 1 131 1 -77 1 12 1 -56 1 196 1 -115 1 -156 1 262 1 -125 1 -2 1 41 1 -3 1 22 1 -227 1 144 1 -39 1 93 1 76 1 -202 1 15 1 141 1 25 1 -214 1 76 1 57 1 -69 1 -85 1 67 1 -25 1 33 1 75 1 51 1 -215 1 335 1 -137 1 -73 1 75 1 -51 1 -8 1 -13 1 -38 1 -55 1 -49 1 111 1 32 1 -6 1 72 1 -12 1 -44 1 -54 1 -26 1 126 1 -92 1 13 1 -135 1 80 1 -4 1 175 1 -4 1 -84 1 -48 1 163 1 -148 1 2 1 -10 1 -79 1 239 1 -30 1 -124 1 79 1 -71 1 -17 1 205 1 -297 1 15 1 255 1 -76 1 -117 1 108 1 -77 1 109 1 -176 1 207 1 -95 1 -34 1 131 1 -133 1 0 1 -34 1 177 1 -229 1 175 1 -4 1 -12 1 -90 1 74 1 -2 1 -60 1 61 1 24 1 7 1 -31 1 -37 1 -87 1 93 1 -86 1 24 1 -56 1 106 1 47 1 143 1 -150 1 -56 1 -22 1 179 1 -60 1 15 1 -28 1 -103 1 21 1 -48 1 212 1 7 1 -133 1 60 1 -55 1 3 1 -64 1 -22 1 130 1 -76 1 -15 1 -76 1 86 1 161 1 -164 1 58 1 80 1 -196 1 134 1 -49 1 50 1 -51 1 -22 1 -12 1 -131 1 15 1 195 1 -128 1 -27 1 42 1 22 1 37 1 32 1 41 1 -9 1 -109 1 92 1 -117 1 153 1 -150 1 150 1 14 1 -41 1 -182" fill="none" stroke="#bcbd22" stroke-width="0.9" vector-effect="non-scaling-stroke" stroke-linejoin="bevel"/>
<path d="M1488.5 887.9 1491.0 887.4 1493.4 888.3 1495.9 886.7 1498.3 886.0 1500.8 884.1 1503.2 884.5 1505.7 883.9 1508.1 884.6 1510.6 884.5 1513.0 885.9 1515.5 887.1 1517.9 888.2 1520.4 895.8 1522.8 895.5 1525.3 895.4 1527.7 895.2 1530.2 894.6 1532.6 895.6 1535.1 895.1 1537.5 895.3 1540.0 895.3 1542.4 895.0 1544.9 895.1 1547.3 893.4 1549.8 892.3 1552.2 886.2 1554.7 886.6 1557.1 886.2 1559.6 886.5 1562.0 887.1 1564.5 886.9 1566.9 887.0 1569.4 887.9 1571.8 887.6 1574.3 887.5 1576.7 887.7 1579.2 888.0 1581.6 886.2 1584.1 886.5 1586.5 886.6 1589.0 886.7 1591.4 885.7 1593.9 884.9 1596.3 886.2 1598.8 887.3 1601.2 894.6 1603.7 894.9 1606.1 894.2 1608.6 894.8 1611.0 894.2 1613.5 893.3 1615.9 892.2 1618.4 892.6 1620.8 892.1 1623.3 892.0 1625.7 892.9 1628.2 892.8 1630.6 893.1 1633.1 894.0 1635.5 893.8 1638.0 893.7 1640.4 892.9 1642.9 892.0 1645.3 891.8 1647.8 892.7 1650.2 893.9 1652.7 893.0 1655.2 892.1 1657.6 892.3 1660.1 893.4 1662.5 892.5 1665.0 891.8 1667.4 891.4 1669.9 891.7 1672.3 891.7 1674.8 891.8 1677.2 891.6 1679.7 892.0 1682.1 892.5 1684.6 893.4 1687.0 893.2 1689.5 893.7 1691.9 892.9 1694.4 892.5 1696.8 893.7 1699.3 893.7 1701.7 893.8 1704.2 893.5 1706.6 894.4 1709.1 895.1 1711.5 896.1 1714.0 895.2 1716.4 893.3 1718.9 893.4 1721.3 894.7 1723.8 894.0 1726.2 893.1 1728.7 887.7 1731.1 888.6 1733.6 889.3 1736.0 888.7 1738.5 887.9 1740.9 886.2 1743.4 886.4 1745.8 886.1 1748.3 887.3 1750.7 887.6 1753.2 889.0 1755.6 887.2 1758.1 886.1 1760.5 885.9 1763.0 886.6 1765.4 886.1 1767.9 885.5 1770.3 887.3 1772.8 888.6 1775.2 889.1 1777.7 889.7 1780.1 889.6 1782.6 889.0 1785.0 889.0 1787.5 887.3 1789.9 892.4 1792.4 892.6 1794.8 895.0 1797.3 896.1 1799.7 895.5 1802.2 895.7 1804.6 894.3 1807.1 894.5 1809.5 893.4 1812.0 893.4 1814.5 894.3 1816.9 895.4 1819.4 894.6 1821.8 896.9 1824.3 896.2 1826.7 898.4 1829.2 900.8 1831.6 901.6 1834.1 899.8 1836.5 899.0 1839.0 899.9 1841.4 897.7 1843.9 897.8 1846.3 897.6 1848.8 898.0 1851.2 896.5 1853.7 895.8 1856.1 895.0 1858.6 894.1 1861.0 894.4 1863.5 894.2 1865.9 894.1 1868.4 894.3 1870.8 895.4 1873.3 895.9 1875.7 895.5 1878.2 896.3 1880.6 896.3 1883.1 895.8 1885.5 895.1 1888.0 894.5 1890.4 894.7 1892.9 895.0 1895.3 896.1 1897.8 897.3 1900.2 899.4 1902.7 899.4 1905.1 898.9 1907.6 899.4 1910.0 898.9 1912.5 898.0 1914.9 898.5 1917.4 899.8 1919.8 899.9 1922.3 900.0 1924.7 899.4 1927.2 898.4 1929.6 897.9 1932.1 897.3 1934.5 895.7 1937.0 894.1 1939.4 893.6 1941.9 894.3 1944.3 895.1 1946.8 894.6 1949.2 894.3 1951.7 894.3 1954.1 893.4 1956.6 892.8 1959.0 892.6 1961.5 892.8 1963.9 893.9 1966.4 893.9 1968.8 894.7 1971.3 894.1 1973.7 894.3 1976.2 895.8 1976.2 902.9 1973.7 901.4 1971.3 901.2 1968.8 901.8 1966.4 901.0 1963.9 901.0 1961.5 899.9 1959.0 899.7 1956.6 899.9 1954.1 900.5 1951.7 901.4 1949.2 901.4 1946.8 901.7 1944.3 902.2 1941.9 901.4 1939.4 900.7 1937.0 901.2 1934.5 902.8 1932.1 904.4 1929.6 905.0 1927.2 905.5 1924.7 906.5 1922.3 907.1 1919.8 907.0 1917.4 906.9 1914.9 905.7 1912.5 905.1 1910.0 906.0 1907.6 906.5 1905.1 906.0 1902.7 906.5 1900.2 906.5 1897.8 904.4 1895.3 903.2 1892.9 902.1 1890.4 901.8 1888.0 901.6 1885.5 902.2 1883.1 902.9 1880.6 903.4 1878.2 903.4 1875.7 902.6 1873.3 903.0 1870.8 902.5 1868.4 901.5 1865.9 901.3 1863.5 901.3 1861.0 901.5 1858.6 901.2 1856.1 902.1 1853.7 902.9 1851.2 903.7 1848.8 905.1 1846.3 904.7 1843.9 904.9 1841.4 904.8 1839.0 907.0 1836.5 906.1 1834.1 906.9 1831.6 908.7 1829.2 907.9 1826.7 905.5 1824.3 903.3 1821.8 904.0 1819.4 901.7 1816.9 902.5 1814.5 901.4 1812.0 900.5 1809.5 900.5 1807.1 901.6 1804.6 901.4 1802.2 902.8 1799.7 902.6 1797.3 903.2 1794.8 902.1 1792.4 899.7 1789.9 899.5 1787.5 894.4 1785.0 896.2 1782.6 896.1 1780.1 896.7 1777.7 896.8 1775.2 896.2 1772.8 895.7 1770.3 894.4 1767.9 892.6 1765.4 893.2 1763.0 893.7 1760.5 893.0 1758.1 893.2 1755.6 894.3 1753.2 896.1 1750.7 894.8 1748.3 894.4 1745.8 893.2 1743.4 893.5 1740.9 893.3 1738.5 895.0 1736.0 895.8 1733.6 896.4 1731.1 895.7 1728.7 894.8 1726.2 900.2 1723.8 901.1 1721.3 901.8 1718.9 900.6 1716.4 900.4 1714.0 902.3 1711.5 903.2 1709.1 902.2 1706.6 901.6 1704.2 900.6 1701.7 900.9 1699.3 900.8 1696.8 900.8 1694.4 899.6 1691.9 900.0 1689.5 900.8 1687.0 900.3 1684.6 900.5 1682.1 899.6 1679.7 899.1 1677.2 898.7 1674.8 898.9 1672.3 898.8 1669.9 898.8 1667.4 898.5 1665.0 898.9 1662.5 899.6 1660.1 900.5 1657.6 899.4 1655.2 899.2 1652.7 900.2 1650.2 901.0 1647.8 899.8 1645.3 898.9 1642.9 899.1 1640.4 900.0 1638.0 900.8 1635.5 900.9 1633.1 901.1 1630.6 900.2 1628.2 899.9 1625.7 900.0 1623.3 899.1 1620.8 899.2 1618.4 899.7 1615.9 899.3 1613.5 900.4 1611.0 901.3 1608.6 901.9 1606.1 901.3 1603.7 902.0 1601.2 901.7 1598.8 894.4 1596.3 893.3 1593.9 892.0 1591.4 892.8 1589.0 893.9 1586.5 893.7 1584.1 893.6 1581.6 893.3 1579.2 895.1 1576.7 894.8 1574.3 894.6 1571.8 894.7 1569.4 895.0 1566.9 894.1 1564.5 894.0 1562.0 894.2 1559.6 893.6 1557.1 893.3 1554.7 893.7 1552.2 893.3 1549.8 899.4 1547.3 900.5 1544.9 902.2 1542.4 902.2 1540.0 902.4 1537.5 902.4 1535.1 902.3 1532.6 902.7 1530.2 901.7 1527.7 902.3 1525.3 902.5 1522.8 902.6 1520.4 902.9 1517.9 895.3 1515.5 894.2 1513.0 893.0 1510.6 891.6 1508.1 891.7 1505.7 891.0 1503.2 891.6 1500.8 891.2 1498.3 893.1 1495.9 893.8 1493.4 895.4 1491.0 894.6 1488.5 895.0Z" fill="#d62728" stroke="#d62728" stroke-width="1.5" stroke-linejoin="round"/>
<path transform="translate(1488.50,0) scale(0.09756,0.1)" d="M0 8938l1 -52 1 19 1 -10 1 57 1 -35 1 -60 1 36 1 78 1 -76 1 -36 1 -30 1 164 1 -63 1 -24 1 34 1 -3 1 44 1 -47 1 -36 1 25 1 -62 1 70 1 -52 1 27 1 38 1 -54 1 7 1 27 1 69 1 -169 1 39 1 25 1 -32 1 119 1 -91 1 -7 1 4 1 -3 1 82 1 -73 1 4 1 -44 1 67 1 -20 1 1 1 -21 1 32 1 -1 1 1 1 0 1 -10 1 71 1 -44 1 -6 1 -16 1 11 1 67 1 -88 1 50 1 10 1 -46 1 -20 1 21 1 -5 1 1 1 -9 1 26 1 44 1 -44 1 27 1 -40 1 11 1 20 1 54 1 -147 1 199 1 -93 1 -70 1 35 1 -10 1 -3 1 -17 1 84 1 -27 1 -68 1 -29 1 39 1 -64 1 137 1 -69 1 -10 1 -33 1 113 1 -42 1 45 1 -13 1 -24 1 75 1 -92 1 -4 1 -57 1 108 1 -132 1 85 1 -33 1 21 1 1 1 44 1 -56 1 -9 1 -26 1 113 1 -28 1 -47 1 -7 1 2 1 54 1 -159 1 65 1 27 1 44 1 43 1 -47 1 14 1 -5 1 -59 1 30 1 -23 1 14 1 -6 1 -15 1 16 1 9 1 33 1 -12 1 35 1 -60 1 46 1 -39 1 -17 1 -2 1 -15 1 29 1 -35 1 72 1 17 1 -29 1 -42 1 -3 1 -32 1 8 1 91 1 -58 1 -20 1 47 1 -4 1 -27 1 -30 1 -19 1 27 1 99 1 -114 1 -75 1 147 1 -10 1 4 1 1 1 -38 1 36 1 35 1 -29 1 -8 1 -8 1 -83 1 19 1 53 1 -21 1 45 1 26 1 1 1 -30 1 90 1 -61 1 -129 1 139 1 -52 1 9 1 29 1 -50 1 -4 1 -10 1 21 1 24 1 4 1 -8 1 -87 1 171 1 -119 1 59 1 -113 1 50 1 23 1 -78 1 51 1 69 1 -83 1 -2 1 33 1 -6 1 74 1 35 1 -16 1 -100 1 22 1 -8 1 -4 1 -35 1 89 1 -29 1 14 1 -29 1 43 1 -3 1 -85 1 43 1 -10 1 21 1 -57 1 47 1 15 1 16 1 -69 1 57 1 75 1 -56 1 -36 1 53 1 -90 1 26 1 28 1 -99 1 89 1 41 1 -45 1 -32 1 -2 1 44 1 47 1 -97 1 27 1 31 1 -54 1 -35 1 83 1 -66 1 17 1 54 1 -6 1 -1 1 39 1 -17 1 -4 1 -10 1 43 1 -27 1 3 1 -63 1 47 1 58 1 -74 1 56 1 -23 1 -35 1 -5 1 49 1 -89 1 63 1 35 1 -70 1 -3 1 83 1 -7 1 4 1 -79 1 34 1 -31 1 150 1 -77 1 -22 1 34 1 -41 1 51 1 -59 1 9 1 -25 1 -22 1 66 1 -33 1 58 1 -97 1 126 1 -98 1 58 1 -59 1 -37 1 31 1 -25 1 118 1 21 1 -83 1 9 1 21 1 5 1 -51 1 21 1 -52 1 80 1 -16 1 -48 1 4 1 22 1 28 1 21 1 -40 1 18 1 23 1 27 1 -8 1 -23 1 40 1 -45 1 36 1 -12 1 -38 1 88 1 -16 1 -22 1 -8 1 40 1 -35 1 34 1 5 1 -21 1 -70 1 66 1 -88 1 60 1 6 1 -50 1 54 1 18 1 15 1 16 1 -105 1 42 1 50 1 -64 1 -4 1 -22 1 -13 1 43 1 -2 1 22 1 -2 1 -11 1 67 1 -36 1 -83 1 106 1 -52 1 95 1 -80 1 44 1 -21 1 20 1 15 1 -101 1 68 1 -41 1 -27 1 2 1 -1 1 50 1 -29 1 78 1 -66 1 -68 1 88 1 -34 1 119 1 -69 1 70 1 -29 1 -16 1 -50 1 77 1 -105 1 -2 1 -3 1 27 1 83 1 6 1 -15 1 -78 1 -9 1 115 1 -115 1 53 1 15 1 -33 1 -33 1 -39 1 7 1 82 1 39 1 -74 1 1 1 -40 1 8 1 52 1 3 1 -21 1 84 1 -101 1 53 1 -14 1 -75 1 40 1 45 1 -60 1 80 1 -44 1 59 1 -31 1 -8 1 3 1 -34 1 76 1 -9 1 -23 1 -20 1 -67 1 39 1 103 1 -49 1 -59 1 -77 1 118 1 -78 1 18 1 5 1 149 1 -98 1 10 1 -52 1 95 1 -90 1 15 1 -45 1 60 1 35 1 -99 1 65 1 40 1 -39 1 25 1 -24 1 33 1 -85 1 46 1 23 1 -8 1 31 1 -96 1 114 1 -104 1 40 1 0 1 -93 1 78 1 -47 1 117 1 -10 1 -81 1 -42 1 93 1 -59 1 18 1 -28 1 3 1 62 1 4 1 47 1 -47 1 -58 1 119 1 -151 1 62 1 46 1 -74 1 27 1 71 1 -27 1 -79 1 55 1 -53 1 55 1 -46 1 33 1 50 1 -50 1 -20 1 50 1 -66 1 40 1 20 1 -49 1 18 1 -13 1 78 1 -64 1 28 1 -13 1 32 1 -85 1 4 1 75 1 -39 1 -5 1 -12 1 42 1 -41 1 -92 1 112 1 -24 1 56 1 -5 1 -16 1 25 1 8 1 -108 1 96 1 -29 1 31 1 -23 1 82 1 -111 1 48 1 -67 1 12 1 43 1 36 1 -70 1 31 1 12 1 -24 1 -27 1 61 1 -67 1 16 1 0 1 0 1 72 1 -50 1 -30 1 39 1 0 1 -95 1 71 1 -39 1 24 1 -12 1 5 1 63 1 0 1 -22 1 -6 1 62 1 -56 1 21 1 -54 1 16 1 81 1 -159 1 170 1 -170 1 86 1 -144 1 125 1 -27 1 36 1 32 1 48 1 -45 1 -8 1 -30 1 -29 1 13 1 14 1 -31 1 17 1 -52 1 -25 1 87 1 -5 1 -32 1 19 1 2 1 50 1 -18 1 -38 1 7 1 54 1 13 1 -35 1 -12 1 -4 1 39 1 52 1 -91 1 -15 1 -88 1 102 1 -5 1 -57 1 16 1 11 1 94 1 -75 1 -32 1 14 1 57 1 20 1 -111 1 15 1 36 1 -6 1 45 1 -90 1 39 1 -72 1 71 1 -7 1 20 1 -7 1 -42 1 -3 1 57 1 -27 1 -69 1 10 1 36 1 32 1 -19 1 -12 1 -121 1 195 1 -92 1 -44 1 121 1 -101 1 61 1 20 1 -59 1 -8 1 7 1 -1 1 68 1 -115 1 38 1 26 1 -31 1 60 1 6 1 -11 1 -19 1 41 1 -31 1 19 1 -12 1 -86 1 76 1 -4 1 -53 1 34 1 -51 1 77 1 -33 1 55 1 -51 1 -24 1 46 1 -27 1 -12 1 99 1 -52 1 -59 1 36 1 11 1 -7 1 1 1 23 1 -12 1 -16 1 -52 1 57 1 29 1 -35 1 -36 1 11 1 51 1 -45 1 16 1 -20 1 -19 1 25 1 47 1 25 1 -36 1 -53 1 21 1 65 1 14 1 -63 1 67 1 -77 1 12 1 61 1 -59 1 29 1 -16 1 -35 1 63 1 -90 1 -15 1 80 1 -65 1 158 1 -93 1 53 1 -49 1 -113 1 166 1 -125 1 28 1 100 1 -108 1 70 1 -19 1 -72 1 13 1 90 1 -66 1 19 1 -2 1 -58 1 56 1 -59 1 75 1 -47 1 69 1 -19 1 23 1 -48 1 44 1 -2 1 -21 1 25 1 -69 1 115 1 -46 1 -52 1 -55 1 46 1 29 1 -16 1 4 1 17 1 -4 1 41 1 -84 1 48 1 -57 1 12 1 56 1 48 1 -62 1 -54 1 -77 1 134 1 -26 1 26 1 -55 1 182 1 -197 1 16 1 47 1 37 1 -43 1 -25 1 95 1 -112 1 28 1 52 1 -112 1 60 1 -13 1 39 1 -24 1 50 1 40 1 -130 1 22 1 61 1 -15 1 -20 1 -62 1 46 1 -15 1 112 1 -23 1 -69 1 -19 1 14 1 3 1 -34 1 56 1 130 1 -111 1 12 1 4 1 -100 1 75 1 63 1 -21 1 -52 1 37 1 -53 1 -5 1 31 1 0 1 52 1 5 1 -61 1 -14 1 9 1 60 1 -15 1 -30 1 -5 1 -42 1 72 1 -35 1 65 1 -34 1 -36 1 -15 1 11 1 -66 1 122 1 -94 1 14 1 113 1 -69 1 35 1 -3 1 -81 1 9 1 6 1 30 1 -68 1 43 1 55 1 13 1 -47 1 -98 1 88 1 21 1 0 1 -7 1 -22 1 -15 1 -6 1 36 1 -84 1 95 1 46 1 -100 1 15 1 -10 1 31 1 -26 1 54 1 -18 1 11 1 -96 1 58 1 20 1 -42 1 44 1 63 1 -59 1 75 1 -17 1 -41 1 -122 1 53 1 -5 1 105 1 -72 1 35 1 35 1 -14 1 -61 1 74 1 -115 1 51 1 -6 1 42 1 -55 1 21 1 -37 1 24 1 -17 1 57 1 -79 1 51 1 0 1 -49 1 108 1 -6 1 -24 1 -29 1 58 1 -76 1 55 1 -42 1 -15 1 60 1 -20 1 84 1 -68 1 -33 1 28 1 11 1 17 1 -73 1 1 1 46 1 -29 1 63 1 -54 1 -57 1 41 1 65 1 -60 1 -54 1 73 1 81 1 -119 1 61 1 -79 1 54 1 35 1 -94 1 -24 1 28 1 12 1 49 1 -64 1 6 1 -7 1 16 1 7 1 29 1 -3 1 -3 1 14 1 14 1 -79 1 -5 1 52 1 -18 1 9 1 26 1 -58 1 47 1 -88 1 -21 1 152 1 -7 1 15 1 -79 1 28 1 -30 1 114 1 -76 1 -53 1 52 1 -34 1 13 1 2 1 -49 1 -23 1 51 1 55 1 -137 1 65 1 36 1 46 1 -77 1 57 1 27 1 -53 1 25 1 -25 1 21 1 -20 1 -12 1 91 1 -77 1 70 1 -110 1 33 1 28 1 -42 1 18 1 62 1 -35 1 -1 1 -47 1 12 1 2 1 42 1 17 1 -59 1 -27 1 106 1 -20 1 -72 1 -10 1 9 1 43 1 14 1 -81 1 64 1 45 1 -82 1 4 1 -5 1 38 1 -24 1 -35 1 112 1 -62 1 -89 1 94 1 13 1 13 1 -71 1 -33 1 65 1 -16 1 -19 1 24 1 -15 1 -30 1 55 1 -22 1 55 1 -15 1 -40 1 -59 1 46 1 34 1 -46 1 51 1 37 1 -40 1 -21 1 -49 1 106 1 -74 1 -1 1 33 1 36 1 -75 1 -17 1 53 1 -54 1 -13 1 -11 1 84 1 30 1 -69 1 42 1 88 1 -87 1 26 1 -64 1 -2 1 42 1 18 1 -70 1 60 1 -26 1 -18 1 21 1 36 1 -106 1 127 1 -7 1 -39 1 -20 1 67 1 -32 1 15 1 -1 1 -70 1 94 1 -101 1 44 1 -5 1 37 1 68 1 -57 1 -15 1 25 1 -15 1 -24 1 -114 1 140 1 -22 1 -13 1 22 1 83 1 -112 1 3 1 -18 1 50 1 -6 1 -29 1 107 1 -76 1 97 1 -73 1 -48 1 -2 1 53 1 8 1 76 1 -64 1 24 1 0 1 -15 1 -39 1 -38 1 104 1 37 1 -64 1 5 1 -6 1 -22 1 35 1 -47 1 61 1 -51 1 -3 1 59 1 -1 1 -46 1 20 1 -17 1 -6 1 -13 1 36 1 -17 1 10 1 -15 1 25 1 -20 1 37 1 0 1 -71 1 -10 1 97 1 -98 1 44 1 -31 1 33 1 -13 1 64 1 -59 1 100 1 28 1 -104 1 -25 1 35 1 -59 1 14 1 17 1 8 1 16 1 3 1 -27 1 69 1 -45 1 27 1 -40 1 -28 1 -35 1 76 1 34 1 -113 1 74 1 -58 1 -26 1 142 1 -62 1 12 1 9 1 9 1 -37 1 27 1 -41 1 23 1 1 1 -7 1 20 1 -11 1 9 1 10 1 -46 1 -16 1 -8 1 13 1 55 1 57 1 -80 1 106 1 -90 1 9 1 -25 1 65 1 -59 1 9 1 35 1 3 1 -46 1 38 1 90 1 -159 1 15 1 -10 1 -61 1 46 1 -3 1 79 1 -65 1 11 1 -44 1 1 1 -6 1 46 1 21 1 37 1 23 1 -77 1 27 1 -17 1 -5 1 26 1 -13 1 14 1 -30 1 -22 1 29 1 54 1 -98 1 61 1 4 1 -80 1 7 1 85 1 -36 1 -2 1 4 1 20 1 2 1 58 1 -102 1 27 1 -98 1 82 1 18 1 -61 1 33 1 34 1 -90 1 38 1 20 1 -19 1 1 1 -10 1 -14 1 20 1 -1 1 1 1 54 1 3 1 -75 1 43 1 86 1 -107 1 41 1 15 1 -39 1 5 1 -12 1 -21 1 54 1 -21 1 -5 1 -31 1 34 1 19 1 -69 1 111 1 -71 1 21 1 -94 1 104 1 -89 1 55 1 38 1 3 1 6 1 -53 1 56 1 -70 1 -5 1 77 1 2 1 3 1 -70 1 13 1 113 1 -90 1 -42 1 90 1 -55 1 43 1 -21 1 -43 1 -22 1 -11 1 75 1 -28 1 3 1 2 1 -18 1 -8 1 18 1 -38 1 29 1 31 1 -3 1 46 1 -89 1 28 1 -40 1 35 1 -9 1 -8 1 -41 1 68 1 -12 1 -17 1 18 1 9 1 -1 1 6 1 -37 1 -4 1 38 1 -42 1 105 1 -67 1 -70 1 76 1 66 1 -112 1 -5 1 14 1 -16 1 34 1 -84 1 34 1 70 1 -9 1 6 1 30 1 -13 1 -1 1 -35 1 93 1 -68 1 -53 1 26 1 20 1 -11 1 41 1 -13 1 -19 1 -38 1 73 1 -7 1 0 1 -38 1 11 1 46 1 -27 1 -117 1 137 1 -63 1 86 1 -61 1 -53 1 19 1 41 1 7 1 25 1 -63 1 -29 1 68 1 20 1 -28 1 -29 1 103 1 -118 1 80 1 -27 1 -53 1 -9 1 16 1 78 1 -65 1 -6 1 6 1 -7 1 -9 1 112 1 -103 1 73 1 -82 1 47 1 -25 1 5 1 -13 1 27 1 46 1 -41 1 50 1 -45 1 -39 1 -30 1 37 1 33 1 -43 1 35 1 9 1 -8 1 -9 1 27 1 -29 1 51 1 -56 1 46 1 9 1 -26 1 20 1 31 1 -32 1 -52 1 17 1 60 1 -23 1 -4 1 -58 1 34 1 52 1 -95 1 40 1 -70 1 97 1 -56 1 61 1 -16 1 37 1 -95 1 80 1 -60 1 66 1 -95 1 44 1 25 1 25 1 -24 1 -133 1 73 1 31 1 -72 1 114 1 -18 1 -34 1 41 1 39 1 -37 1 -2 1 -50 1 82 1 -24 1 -39 1 21 1 22 1 7 1 -91 1 72 1 0 1 -4 1 40 1 -37 1 -5 1 7 1 -16 1 19 1 -47 1 0 1 -45 1 160 1 -87 1 -37 1 52 1 21 1 -64 1 3 1 -89 1 89 1 -34 1 -47 1 113 1 -12 1 74 1 -156 1 137 1 -14 1 -74 1 38 1 -67 1 39 1 19 1 47 1 -98 1 48 1 7 1 -32 1 17 1 11 1 -5 1 -18 1 -1 1 69 1 -81 1 95 1 -181 1 143 1 -58 1 52 1 56 1 -94 1 48 1 -47 1 -15 1 -30 1 25 1 0 1 -22 1 67 1 -40 1 10 1 -42 1 85 1 -42 1 34 1 -81 1 63 1 -58 1 83 1 9 1 -58 1 -11 1 60 1 -80 1 77 1 -39 1 45 1 26 1 -35 1 -56 1 18 1 54 1 -66 1 39 1 -10 1 -67 1 83 1 -56 1 79 1 -83 1 -2 1 84 1 -56 1 -9 1 85 1 1 1 -37 1 -2 1 -18 1 -15 1 -27 1 53 1 -8 1 4 1 -113 1 27 1 101 1 -6 1 -24 1 -19 1 65 1 -56 1 24 1 -76 1 39 1 93 1 -20 1 -50 1 51 1 20 1 -63 1 57 1 -47 1 -1 1 -45 1 41 1 -100 1 63 1 11 1 8 1 13 1 22 1 -17 1 -22 1 82 1 -54 1 -73 1 64 1 -3 1 37 1 -31 1 58 1 -24 1 -35 1 29 1 4 1 -121 1 32 1 17 1 98 1 -61 1 56 1 -42 1 -25 1 17 1 -18 1 -10 1 62 1 -8 1 -27 1 -11 1 58 1 35 1 -72 1 -3 1 -46 1 14 1 52 1 -61 1 -56 1 50 1 -4 1 4 1 52 1 -29 1 -17 1 -10 1 -34 1 34 1 50 1 10 1 -23 1 -77 1 88 1 -113 1 132 1 15 1 -126 1 137 1 -38 1 10 1 -63 1 9 1 -41 1 77 1 -20 1 -8 1 59 1 -32 1 31 1 20 1 -119 1 53 1 32 1 -48 1 88 1 -93 1 21 1 6 1 12 1 2 1 -23 1 -15 1 -20 1 18 1 -14 1 -31 1 -27 1 119 1 -63 1 -48 1 64 1 -30 1 111 1 -116 1 96 1 26 1 -65 1 60 1 -82 1 67 1 76 1 -89 1 -31 1 20 1 2 1 -13 1 31 1 -18 1 47 1 -35 1 -82 1 -4 1 86 1 -56 1 41 1 43 1 -48 1 68 1 -100 1 31 1 62 1 -116 1 64 1 -22 1 37 1 16 1 -21 1 17 1 -96 1 58 1 24 1 -15 1 -26 1 93 1 -134 1 -3 1 79 1 -52 1 31 1 -47 1 26 1 -13 1 19 1 -19 1 39 1 -25 1 -16 1 23 1 -41 1 30 1 59 1 -10 1 -94 1 39 1 6 1 14 1 18 1 38 1 -82 1 78 1 -7 1 -28 1 -38 1 64 1 -25 1 -24 1 61 1 -45 1 70 1 -187 1 115 1 -12 1 12 1 -18 1 -19 1 13 1 66 1 -94 1 10 1 64 1 -10 1 -95 1 25 1 39 1 -36 1 27 1 14 1 -18 1 -50 1 51 1 39 1 -18 1 12 1 -109 1 44 1 67 1 40 1 -55 1 -28 1 -4 1 -61 1 98 1 -12 1 -51 1 115 1 -52 1 -52 1 21 1 17 1 43 1 -19 1 -53 1 63 1 31 1 -70 1 72 1 4 1 -49 1 8 1 -69 1 69 1 68 1 -125 1 13 1 55 1 18 1 -148 1 64 1 39 1 -59 1 78 1 -35 1 13 1 3 1 -26 1 -28 1 68 1 -16 1 -31 1 83 1 -40 1 16 1 -75 1 47 1 -48 1 124 1 -138 1 49 1 59 1 -68 1 -46 1 34 1 44 1 -3 1 -32 1 58 1 -79 1 23 1 -5 1 67 1 34 1 -117 1 33 1 48 1 -68 1 -16 1 11 1 50 1 33 1 -80 1 -62 1 58 1 -5 1 62 1 -14 1 46 1 -124 1 17 1 37 1 58 1 -41 1 -5 1 -29 1 47 1 -22 1 -32 1 23 1 -40 1 86 1 11 1 -60 1 -18 1 -18 1 80 1 -15 1 -21 1 65 1 -32 1 -18 1 -17 1 39 1 -44 1 53 1 24 1 -59 1 44 1 -5 1 -41 1 28 1 -27 1 -32 1 75 1 -12 1 -25 1 -9 1 14 1 28 1 -25 1 2 1 10 1 -14 1 22 1 -32 1 37 1 -42 1 -55 1 129 1 -77 1 68 1 -50 1 29 1 -11 1 -33 1 6 1 13 1 -5 1 -43 1 30 1 5 1 -9 1 40 1 -65 1 75 1 -33 1 -26 1 48 1 -33 1 45 1 -18 1 102 1 -146 1 -7 1 -8 1 -16 1 37 1 41 1 -73 1 1 1 76 1 45 1 -73 1 -54 1 99 1 -95 1 35 1 -39 1 76 1 -19 1 25 1 -13 1 -6 1 27 1 19 1 -61 1 -5 1 51 1 78 1 -56 1 -8 1 -72 1 3 1 32 1 -42 1 34 1 -30 1 81 1 -29 1 -13 1 41 1 -87 1 -1 1 112 1 -138 1 108 1 -44 1 22 1 16 1 -15 1 -79 1 86 1 -14 1 -51 1 32 1 46 1 -25 1 31 1 -48 1 79 1 -60 1 -16 1 10 1 -6 1 24 1 -58 1 29 1 -60 1 42 1 29 1 -15 1 -76 1 63 1 25 1 52 1 -1 1 -110 1 41 1 57 1 -51 1 28 1 -2 1 26 1 -91 1 62 1 29 1 -42 1 -62 1 138 1 -62 1 -97 1 23 1 8 1 92 1 -56 1 21 1 -4 1 -37 1 88 1 -71 1 -19 1 93 1 -6 1 -90 1 18 1 -1 1 41 1 -44 1 62 1 -50 1 -4 1 -44 1 73 1 59 1 -57 1 -36 1 43 1 -35 1 -22 1 61 1 -49 1 25 1 63 1 -59 1 5 1 -80 1 48 1 3 1 64 1 -49 1 -24 1 106 1 -63 1 42 1 -53 1 3 1 -35 1 -34 1 54 1 11 1 -38 1 76 1 -40 1 33 1 -58 1 15 1 73 1 6 1 -112 1 30 1 10 1 -25 1 41 1 -8 1 -28 1 -7 1 -33 1 93 1 -36 1 27 1 -131 1 145 1 -31 1 -91 1 107 1 -65 1 26 1 15 1 -46 1 63 1 15 1 -15 1 -25 1 -13 1 40 1 -1 1 59 1 -67 1 38 1 -59 1 -71 1 11 1 25 1 35 1 -7 1 15 1 -27 1 32 1 67 1 -73 1 -57 1 87 1 42 1 -66 1 -23 1 -3 1 -20 1 86 1 -83 1 23 1 32 1 -71 1 -3 1 28 1 47 1 -54 1 61 1 -79 1 60 1 -10 1 25 1 -152 1 207 1 -78 1 -7 1 18 1 -46 1 125 1 -59 1 -30 1 -87 1 37 1 39 1 27 1 -14 1 -61 1 48 1 41 1 37 1 -112 1 68 1 -11 1 -41 1 5 1 50 1 -35 1 -18 1 105 1 -59 1 -11 1 66 1 -40 1 -77 1 42 1 55 1 -65 1 -15 1 54 1 38 1 -49 1 15 1 -14 1 47 1 -66 1 -9 1 -22 1 105 1 -87 1 43 1 -57 1 79 1 -4 1 -17 1 60 1 -36 1 -38 1 4 1 -24 1 -13 1 140 1 -106 1 5 1 59 1 -39 1 5 1 -107 1 91 1 -5 1 -50 1 61 1 -55 1 102 1 -105 1 74 1 -19 1 53 1 45 1 -125 1 15 1 59 1 -68 1 -20 1 33 1 4 1 1 1 -31 1 -2 1 40 1 39 1 7 1 -14 1 -89 1 31 1 2 1 -26 1 -2 1 25 1 6 1 98 1 -89 1 25 1 -101 1 59 1 69 1 -74 1 -16 1 50 1 -104 1 8 1 97 1 -18 1 -7 1 11 1 -42 1 3 1 4 1 -15 1 82 1 -46 1 11 1 59 1 -140 1 -12 1 48 1 3 1 36 1 -40 1 -15 1 42 1 0 1 -87 1 36 1 54 1 -6 1 3 1 21 1 -37 1 15 1 72 1 -96 1 48 1 -22 1 10 1 -65 1 61 1 -39 1 68 1 -26 1 -64 1 47 1 -5 1 71 1 -66 1 -8 1 -10 1 100 1 -74 1 -13 1 0 1 52 1 -27 1 -22 1 59 1 -46 1 31 1 -129 1 156 1 -58 1 16 1 3 1 -19 1 -15 1 -23 1 73 1 20 1 -37 1 23 1 -57 1 -31 1 57 1 -14 1 31 1 -14 1 -16 1 -72 1 143 1 -131 1 111 1 -45 1 -39 1 44 1 -2 1 19 1 -9 1 -26 1 -37 1 62 1 -24 1 16 1 -28 1 2 1 109 1 -70 1 -88 1 -20 1 117 1 -119 1 69 1 75 1 -49 1 -61 1 -3 1 43 1 17 1 50 1 -51 1 53 1 -65 1 7 1 -14 1 -45 1 83 1 46 1 -22 1 -93 1 87 1 -82 1 65 1 -91 1 71 1 30 1 -168 1 14 1 86 1 -39 1 18 1 -74 1 50 1 -43 1 37 1 87 1 -65 1 19 1 -35 1 39 1 -43 1 81 1 -63 1 22 1 20 1 -81 1 75 1 -41 1 26 1 -48 1 -19 1 38 1 80 1 -67 1 -54 1 -7 1 73 1 80 1 -79 1 45 1 -4 1 -52 1 -30 1 74 1 5 1 -32 1 -57 1 -3 1 53 1 -12 1 40 1 -6 1 -44 1 71 1 -100 1 47 1 -3 1 11 1 -42 1 4 1 54 1 -7 1 -56 1 77 1 -71 1 30 1 -54 1 90 1 -112 1 90 1 48 1 -30 1 -57 1 42 1 54 1 -16 1 -110 1 145 1 -12 1 -98 1 14 1 39 1 -15 1 -88 1 139 1 -74 1 37 1 -88 1 154 1 -64 1 -38 1 -11 1 54 1 -60 1 -2 1 121 1 -102 1 -6 1 -31 1 58 1 35 1 5 1 -40 1 -29 1 39 1 3 1 11 1 -50 1 13 1 77 1 -126 1 64 1 -30 1 25 1 41 1 -23 1 -4 1 13 1 -100 1 99 1 -70 1 78 1 -56 1 -11 1 -22 1 36 1 8 1 -70 1 35 1 47 1 -27 1 6 1 -33 1 -43 1 99 1 -79 1 35 1 3 1 12 1 -43 1 43 1 54 1 -80 1 48 1 -85 1 97 1 -66 1 54 1 20 1 -120 1 36 1 41 1 15 1 40 1 -74 1 60 1 37 1 -80 1 52 1 -28 1 -31 1 -13 1 57 1 -46 1 -20 1 101 1 -46 1 -91 1 56 1 -45 1 36 1 -50 1 106 1 -19 1 -55 1 52 1 11 1 -32 1 -31 1 42 1 -61 1 98 1 31 1 -112 1 144 1 -122 1 -50 1 27 1 -44 1 158 1 -53 1 -86 1 87 1 -11 1 -23 1 38 1 -66 1 11 1 0 1 17 1 20 1 -17 1 35 1 -43 1 -53 1 -33 1 72 1 -57 1 89 1 -38 1 105 1 -127 1 112 1 -16 1 -88 1 3 1 52 1 -49 1 90 1 -102 1 70 1 24 1 -112 1 66 1 -36 1 71 1 -25 1 51 1 -91 1 3 1 17 1 4 1 117 1 -124 1 -1 1 41 1 -26 1 39 1 -50 1 10 1 29 1 -31 1 -6 1 12 1 -30 1 9 1 10 1 35 1 -12 1 -40 1 -10 1 96 1 -82 1 35 1 4 1 29 1 -8 1 11 1 26 1 -30 1 9 1 13 1 -84 1 51 1 29 1 0 1 -50 1 17 1 22 1 -35 1 18 1 -30 1 -44 1 49 1 24 1 -58 1 62 1 -37 1 35 1 -49 1 -27 1 68 1 15 1 -33 1 18 1 1 1 25 1 -50 1 -49 1 85 1 -53 1 -39 1 124 1 -70 1 45 1 -58 1 -17 1 31 1 13 1 9 1 -14 1 -9 1 -74 1 40 1 21 1 -24 1 0 1 -36 1 67 1 23 1 -37 1 68 1 -44 1 47 1 23 1 -108 1 30 1 -22 1 21 1 -16 1 -24 1 18 1 33 1 -30 1 45 1 -4 1 -44 1 -3 1 95 1 -27 1 -71 1 49 1 -4 1 -31 1 4 1 23 1 30 1 -85 1 31 1 12 1 73 1 -93 1 133 1 -128 1 39 1 19 1 -35 1 -19 1 36 1 -47 1 2 1 -1 1 18 1 36 1 -13 1 10 1 10 1 6 1 -57 1 -21 1 69 1 13 1 -17 1 -3 1 -22 1 51 1 -17 1 -70 1 78 1 -62 1 13 1 -68 1 121 1 -46 1 -17 1 73 1 -45 1 -24 1 50 1 -55 1 75 1 -115 1 64 1 -18 1 -48 1 -12 1 127 1 -20 1 -7 1 27 1 -82 1 -28 1 103 1 -110 1 85 1 -36 1 -42 1 51 1 -63 1 52 1 9 1 -26 1 -4 1 9 1 -83 1 81 1 -36 1 75 1 -37 1 -18 1 43 1 -56 1 82 1 -54 1 12 1 -6 1 27 1 31 1 -47 1 -6 1 -5 1 9 1 46 1 -48 1 -38 1 76 1 -91 1 45 1 -11 1 31 1 23 1 -73 1 45 1 35 1 -38 1 44 1 -3 1 -117 1 89 1 -4 1 66 1 -28 1 12 1 -94 1 27 1 54 1 -22 1 8 1 56 1 -62 1 3 1 -63 1 49 1 17 1 -12 1 -38 1 100 1 -28 1 -30 1 34 1 -30 1 26 1 -151 1 185 1 -30 1 9 1 -92 1 110 1 -111 1 76 1 22 1 -29 1 60 1 -57 1 -30 1 -15 1 82 1 -38 1 -20 1 42 1 -63 1 40 1 72 1 -73 1 69 1 -65 1 34 1 -43 1 6 1 -74 1 121 1 -70 1 -18 1 125 1 -94 1 -37 1 27 1 -44 1 9 1 112 1 -77 1 -29 1 68 1 -134 1 115 1 -22 1 23 1 -46 1 76 1 4 1 -72 1 108 1 -89 1 26 1 -9 1 -36 1 -12 1 14 1 19 1 0 1 50 1 -78 1 97 1 -31 1 -44 1 24 1 -18 1 64 1 -24 1 -112 1 121 1 -18 1 94 1 -112 1 11 1 34 1 -69 1 -19 1 53 1 -63 1 16 1 38 1 54 1 -43 1 -23 1 1 1 66 1 -42 1 22 1 -38 1 -57 1 129 1 -32 1 -95 1 96 1 -88 1 -6 1 16 1 -14 1 71 1 2 1 -13 1 -24 1 22 1 -27 1 22 1 8 1 -58 1 73 1 -35 1 61 1 -112 1 58 1 1 1 93 1 -66 1 -68 1 80 1 -9 1 -17 1 -69 1 61 1 -14 1 -90 1 121 1 -78 1 97 1 -15 1 -67 1 39 1 20 1 -18 1 2 1 36 1 -129 1 106 1 -40 1 61 1 -51 1 38 1 -124 1 126 1 -27 1 -2 1 2 1 -39 1 4 1 52 1 9 1 -27 1 -22 1 61 1 -56 1 -9 1 7 1 5 1 -1 1 -3 1 -21 1 -22 1 29 1 22 1 -30 1 -72 1 115 1 -73 1 -4 1 28 1 -76 1 111 1 -39 1 89 1 -6 1 31 1 -61 1 25 1 -74 1 102 1 16 1 -33 1 -19 1 -9 1 50 1 52 1 -57 1 25 1 -36 1 26 1 -92 1 95 1 -44 1 -10 1 33 1 -3 1 39 1 0 1 -108 1 36 1 35 1 -39 1 41 1 -6 1 -89 1 57 1 12 1 16 1 -7 1 -10 1 -38 1 1 1 -18 1 135 1 -18 1 -29 1 52 1 -83 1 14 1 -6 1 10 1 -57 1 69 1 -33 1 46 1 10 1 -10 1 -3 1 -20 1 -13 1 5 1 72 1 -37 1 -20 1 23 1 -44 1 76 1 -34 1 28 1 -71 1 51 1 -3 1 -34 1 -10 1 25 1 -5 1 47 1 -16 1 18 1 -62 1 37 1 -19 1 90 1 -49 1 -44 1 -20 1 88 1 -97 1 74 1 -17 1 -23 1 -49 1 74 1 14 1 -88 1 -13 1 82 1 -54 1 17 1 6 1 19 1 1 1 37 1 -35 1 41 1 -45 1 1 1 -26 1 28 1 -39 1 39 1 -100 1 133 1 -27 1 43 1 -38 1 40 1 -29 1 -44 1 3 1 44 1 2 1 -91 1 110 1 -105 1 66 1 -15 1 46 1 -53 1 5 1 13 1 35 1 -82 1 36 1 -5 1 -49 1 90 1 -36 1 -37 1 1 1 47 1 -15 1 72 1 -95 1 14 1 71 1 -51 1 -26 1 -60 1 89 1 -22 1 -23 1 43 1 50 1 -32 1 -106 1 14 1 4 1 43 1 27 1 -66 1 72 1 -62 1 32 1 5 1 15 1 -22 1 58 1 -56 1 69 1 -44 1 18 1 -2 1 -44 1 88 1 -95 1 17 1 -8 1 -43 1 56 1 -81 1 62 1 35 1 -19 1 -31 1 83 1 -65 1 27 1 -25 1 31 1 -55 1 -12 1 46 1 -15 1 -20 1 -3 1 40 1 -49 1 63 1 -10 1 -15 1 34 1 9 1 -53 1 -4 1 -4 1 78 1 -89 1 88 1 -91 1 -23 1 74 1 -67 1 98 1 -75 1 92 1 -68 1 23 1 -4 1 -11 1 -4 1 3 1 -31 1 15 1 1 1 18 1 59 1 -49 1 -88 1 136 1 -54 1 -1 1 -25 1 16 1 -52 1 19 1 50 1 28 1 -77 1 -7 1 -21 1 11 1 40 1 -7 1 41 1 -26 1 -77 1 75 1 52 1 -42 1 -9 1 27 1 17 1 -91 1 65 1 -11 1 -37 1 17 1 63 1 -1 1 -84 1 50 1 -67 1 -60 1 156 1 -40 1 38 1 -86 1 50 1 -126 1 87 1 25 1 59 1 -58 1 5 1 63 1 -24 1 -87 1 26 1 78 1 -46 1 -12 1 30 1 -69 1 72 1 56 1 -115 1 51 1 65 1 -71 1 -58 1 40 1 -24 1 81 1 -60 1 18 1 -7 1 26 1 -41 1 -31 1 -24 1 94 1 -29 1 30 1 -32 1 50 1 -71 1 -37 1 76 1 -49 1 13 1 12 1 -13 1 34 1 -26 1 -13 1 45 1 -62 1 24 1 24 1 -14 1 -18 1 -4 1 112 1 -99 1 -1 1 62 1 -91 1 11 1 -17 1 18 1 -20 1 100 1 -16 1 26 1 -2 1 -13 1 12 1 -5 1 -31 1 32 1 29 1 -106 1 99 1 69 1 -96 1 9 1 -17 1 38 1 -51 1 40 1 57 1 -30 1 -14 1 -17 1 12 1 -74 1 55 1 31 1 -82 1 -3 1 11 1 -55 1 81 1 3 1 -54 1 45 1 22 1 11 1 -88 1 39 1 -7 1 -42 1 20 1 31 1 87 1 18 1 -52 1 -12 1 -7 1 20 1 -39 1 -23 1 91 1 -47 1 -39 1 71 1 -46 1 28 1 -40 1 35 1 2 1 27 1 30 1 -56 1 33 1 -98 1 55 1 -68 1 108 1 -74 1 46 1 38 1 -38 1 58 1 -58 1 -41 1 29 1 -28 1 -11 1 81 1 -42 1 1 1 17 1 86 1 -89 1 9 1 1 1 2 1 -50 1 -19 1 90 1 -66 1 61 1 -14 1 2 1 20 1 -37 1 -24 1 11 1 54 1 -26 1 6 1 -45 1 16 1 15 1 -8 1 20 1 1 1 -64 1 11 1 73 1 -25 1 -34 1 58 1 -91 1 59 1 12 1 -49 1 23 1 57 1 -98 1 75 1 -93 1 40 1 -26 1 14 1 47 1 15 1 -49 1 -24 1 128 1 -153 1 158 1 -67 1 -100 1 69 1 18 1 -23 1 -75 1 92 1 -20 1 14 1 -65 1 45 1 36 1 44 1 -148 1 95 1 -51 1 52 1 -2 1 -20 1 2 1 36 1 -78 1 12 1 50 1 4 1 -28 1 30 1 -2 1 9 1 69 1 -26 1 -87 1 81 1 -6 1 18 1 -36 1 4 1 -79 1 28 1 15 1 -4 1 32 1 48 1 -61 1 6 1 -90 1 77 1 35 1 -45 1 -6 1 -2 1 21 1 -25 1 -93 1 76 1 75 1 -124 1 58 1 36 1 -11 1 -11 1 -27 1 101 1 -45 1 6 1 -106 1 90 1 10 1 -89 1 -40 1 23 1 31 1 11 1 69 1 -41 1 25 1 -26 1 14 1 44 1 -63 1 18 1 23 1 19 1 -35 1 40 1 16 1 -88 1 12 1 -9 1 -66 1 69 1 -46 1 133 1 -188 1 118 1 -97 1 45 1 53 1 -2 1 -83 1 148 1 -100 1 63 1 -65 1 -11 1 57 1 13 1 -90 1 65 1 -32 1 50 1 44 1 -99 1 65 1 -4 1 -88 1 27 1 38 1 -31 1 36 1 73 1 -44 1 -43 1 -15 1 -5 1 -32 1 30 1 -57 1 33 1 2 1 44 1 25 1 -13 1 32 1 -26 1 2 1 -61 1 35 1 -42 1 10 1 77 1 -76 1 70 1 -130 1 83 1 65 1 35 1 -74 1 29 1 -33 1 -45 1 15 1 14 1 -20 1 22 1 10 1 -19 1 64 1 -25 1 -23 1 -11 1 70 1 -87 1 47 1 17 1 15 1 -77 1 44 1 -32 1 -12 1 10 1 -21 1 58 1 -38 1 55 1 -144 1 68 1 2 1 -1 1 50 1 -48 1 23 1 -60 1 9 1 68 1 -16 1 31 1 -5 1 -24 1 -22 1 -9 1 56 1 -131 1 200 1 4 1 -76 1 -51 1 18 1 12 1 -3 1 -27 1 -5 1 -3 1 -69 1 119 1 -19 1 57 1 -123 1 113 1 2 1 -13 1 -105 1 52 1 27 1 -11 1 28 1 -56 1 98 1 -35 1 -78 1 0 1 82 1 -22 1 -99 1 23 1 58 1 13 1 -39 1 40 1 -82 1 99 1 -11 1 -40 1 7 1 2 1 -23 1 30 1 -24 1 13 1 -3 1 -26 1 80 1 -15 1 -99 1 67 1 -38 1 72 1 -56 1 15 1 -10 1 42 1 -51 1 -11 1 -37 1 88 1 -24 1 18 1 77 1 -91 1 -4 1 -13 1 12 1 63 1 -52 1 -42 1 52 1 -5 1 57 1 -36 1 -52 1 16 1 -56 1 33 1 6 1 -40 1 75 1 -68 1 68 1 -36 1 35 1 22 1 32 1 -34 1 -56 1 29 1 -26 1 -8 1 -13 1 21 1 18 1 -45 1 110 1 -73 1 21 1 35 1 -29 1 -3 1 -3 1 -32 1 20 1 -24 1 3 1 -12 1 11 1 74 1 12 1 -68 1 -47 1 55 1 -2 1 23 1 16 1 -35 1 12 1 62 1 -76 1 57 1 -13 1 -86 1 -3 1 -3 1 5 1 18 1 17 1 33 1 -79 1 9 1 94 1 -86 1 -14 1 32 1 29 1 -11 1 18 1 -22 1 -69 1 75 1 -11 1 -58 1 -14 1 90 1 -5 1 -2 1 -13 1 51 1 -41 1 17 1 -38 1 35 1 0 1 -23 1 -40 1 -7 1 56 1 -32 1 92 1 -77 1 4 1 39 1 -121 1 56 1 58 1 -89 1 67 1 27 1 -52 1 -18 1 31 1 18 1 1 1 -16 1 92 1 -130 1 40 1 93 1 -161 1 106 1 -17 1 1 1 -33 1 33 1 2 1 10 1 -45 1 77 1 11 1 -87 1 46 1 -7 1 -16 1 59 1 1 1 55 1 -145 1 54 1 0 1 7 1 -54 1 11 1 74 1 -18 1 -45 1 75 1 -38 1 15 1 -34 1 -28 1 24 1 -19 1 -6 1 70 1 -9 1 44 1 -157 1 109 1 -21 1 -7 1 -63 1 22 1 36 1 20 1 13 1 -35 1 51 1 -100 1 66 1 -23 1 -5 1 -31 1 38 1 16 1 -82 1 19 1 -14 1 -20 1 108 1 -93 1 80 1 -2 1 18 1 7 1 -51 1 83 1 -61 1 1 1 53 1 -143 1 130 1 -20 1 -21 1 -57 1 64 1 11 1 -64 1 60 1 -54 1 47 1 -8 1 -39 1 82 1 0 1 -69 1 66 1 -22 1 -2 1 26 1 42 1 -75 1 14 1 -81 1 34 1 59 1 -3 1 -22 1 11 1 -8 1 36 1 -27 1 -25 1 52 1 -55 1 -64 1 116 1 -54 1 -45 1 80 1 -72 1 -28 1 51 1 18 1 -98 1 98 1 -5 1 5 1 15 1 -30 1 70 1 -114 1 84 1 -20 1 4 1 -63 1 48 1 -43 1 21 1 58 1 12 1 -86 1 50 1 -18 1 64 1 -77 1 3 1 47 1 22 1 -43 1 46 1 -55 1 -8 1 -25 1 13 1 28 1 -17 1 50 1 -104 1 57 1 13 1 -26 1 37 1 -31 1 -31 1 7 1 -38 1 75 1 -1 1 54 1 -34 1 -47 1 11 1 -13 1 -34 1 18 1 53 1 -98 1 58 1 -9 1 -17 1 1 1 95 1 -34 1 1 1 0 1 -32 1 -6 1 -26 1 67 1 -12 1 -19 1 -11 1 57 1 -15 1 -35 1 -38 1 145 1 -96 1 4 1 0 1 26 1 -41 1 21 1 12 1 -40 1 46 1 -13 1 -53 1 25 1 60 1 3 1 -37 1 -2 1 -55 1 50 1 38 1 -72 1 8 1 25 1 -6 1 -72 1 100 1 -22 1 -35 1 -27 1 164 1 -95 1 3 1 17 1 -25 1 -15 1 64 1 20 1 -103 1 71 1 51 1 -72 1 -24 1 15 1 -1 1 37 1 -106 1 99 1 19 1 18 1 -103 1 49 1 -39 1 10 1 36 1 16 1 10 1 2 1 -25 1 -18 1 -28 1 92 1 -112 1 29 1 76 1 -60 1 -22 1 -12 1 -28 1 159 1 -52 1 -37 1 27 1 -78 1 41 1 -26 1 34 1 95 1 -80 1 16 1 3 1 -149 1 171 1 -46 1 -10 1 9 1 -17 1 -12 1 23 1 17 1 24 1 -9 1 -32 1 68 1 -59 1 7 1 16 1 -21 1 10 1 1 1 9 1 -5 1 14 1 -64 1 90 1 -38 1 21 1 -33 1 -88 1 174 1 -121 1 27 1 -19 1 94 1 -100 1 15 1 47 1 -45 1 104 1 -96 1 -26 1 103 1 -99 1 6 1 50 1 15 1 46 1 -25 1 -21 1 -68 1 61 1 -51 1 39 1 5 1 -27 1 -24 1 39 1 -20 1 36 1 15 1 -55 1 -1 1 92 1 -63 1 -36 1 52 1 36 1 -43 1 107 1 -129 1 -20 1 -8 1 17 1 -6 1 -13 1 42 1 -12 1 53 1 -99 1 75 1 -36 1 62 1 -46 1 11 1 -54 1 -2 1 53 1 76 1 -76 1 61 1 -123 1 99 1 -76 1 31 1 26 1 29 1 -55 1 68 1 -132 1 55 1 112 1 -15 1 -119 1 47 1 21 1 -53 1 -14 1 93 1 -92 1 17 1 9 1 14 1 21 1 63 1 -122 1 26 1 -21 1 -38 1 102 1 -47 1 11 1 -11 1 0 1 44 1 3 1 -51 1 -17 1 102 1 -71 1 -71 1 -9 1 151 1 -105 1 37 1 16 1 -43 1 50 1 -88 1 11 1 127 1 -94 1 -49 1 54 1 86 1 -36 1 5 1 -41 1 -49 1 27 1 -38 1 16 1 2 1 -63 1 96 1 41 1 -81 1 20 1 65 1 -29 1 11 1 -44 1 18 1 34 1 2 1 -8 1 -96 1 111 1 -16 1 -49 1 46 1 -30 1 12 1 -58 1 39 1 35 1 78 1 -122 1 38 1 -67 1 22 1 26 1 -33 1 8 1 86 1 -55 1 -15 1 24 1 12 1 -29 1 -8 1 4 1 2 1 18 1 -26 1 13 1 55 1 -40 1 -53 1 77 1 -58 1 13 1 -5 1 48 1 -29 1 23 1 -97 1 96 1 -27 1 10 1 84 1 19 1 -132 1 52 1 -60 1 73 1 -66 1 47 1 -46 1 72 1 -70 1 32 1 -20 1 60 1 -48 1 -5 1 -59 1 56 1 -4 1 35 1 -2 1 -13 1 -2 1 19 1 -2 1 -3 1 -69 1 49 1 50 1 -59 1 22 1 -66 1 83 1 -39 1 47 1 -92 1 104 1 -28 1 -26 1 -26 1 1 1 38 1 61 1 -87 1 -14 1 125 1 -130 1 55 1 35 1 1 1 -55 1 21 1 -22 1 -41 1 84 1 -78 1 2 1 88 1 -23 1 -80 1 45 1 6 1 -63 1 48 1 9 1 2 1 25 1 15 1 -66 1 64 1 -12 1 -51 1 94 1 -118 1 82 1 -57 1 62 1 -67 1 61 1 -68 1 107 1 -102 1 33 1 -47 1 64 1 -19 1 -11 1 -19 1 72 1 -18 1 -17 1 -45 1 -3 1 35 1 27 1 -17 1 62 1 -63 1 -4 1 -9 1 1 1 -2 1 7 1 8 1 -30 1 63 1 -61 1 23 1 -34 1 11 1 45 1 -27 1 -38 1 29 1 -6 1 5 1 -9 1 53 1 -13 1 -32 1 5 1 -64 1 68 1 -40 1 -12 1 2 1 55 1 -43 1 43 1 -19 1 16 1 -41 1 35 1 5 1 -35 1 49 1 -37 1 -12 1 -6 1 74 1 -39 1 -22 1 10 1 -10 1 -59 1 44 1 -15 1 58 1 -91 1 102 1 1 1 -76 1 4 1 10 1 45 1 -1 1 27 1 -72 1 38 1 -3 1 1 1 -7 1 17 1 25 1 -38 1 -38 1 -51 1 21 1 80 1 -38 1 44 1 -49 1 -4 1 71 1 -72 1 65 1 -34 1 44 1 -19 1 54 1 -81 1 10 1 -39 1 21 1 11 1 -31 1 31 1 -36 1 32 1 -51 1 11 1 28 1 -7 1 20 1 3 1 -41 1 -9 1 57 1 -31 1 33 1 -65 1 11 1 28 1 -18 1 -34 1 -9 1 82 1 -12 1 -8 1 38 1 -9 1 -41 1 23 1 -32 1 9 1 -52 1 31 1 -9 1 62 1 14 1 -101 1 47 1 34 1 57 1 -144 1 89 1 -40 1 -2 1 -8 1 -18 1 71 1 -34 1 69 1 -70 1 22 1 -22 1 18 1 -90 1 40 1 20 1 -25 1 170 1 -100 1 -24 1 -16 1 -4 1 34 1 -10 1 -44 1 22 1 -73 1 95 1 54 1 -39 1 71 1 -29 1 -20 1 -68 1 97 1 -103 1 44 1 22 1 -21 1 4 1 -45 1 12 1 41 1 23 1 -38 1 -76 1 78 1 -5 1 -26 1 -11 1 45 1 62 1 -57 1 -2 1 -69 1 48 1 47 1 -95 1 19 1 -15 1 -13 1 24 1 -7 1 30 1 -20 1 -10 1 13 1 63 1 -12 1 -67 1 37 1 -25 1 31 1 -34 1 -15 1 40 1 -40 1 74 1 -21 1 35 1 -32 1 -17 1 44 1 -88 1 -1 1 -32 1 149 1 -48 1 -21 1 -23 1 68 1 -48 1 -58 1 62 1 -16 1 -10 1 -17 1 39 1 68 1 -51 1 -28 1 44 1 -9 1 -64 1 24 1 43 1 -73 1 58 1 -30 1 43 1 6 1 -33 1 12 1 -2 1 27 1 43 1 -159 1 172 1 -97 1 62 1 47 1 -73 1 -7 1 -3 1 120 1 -124 1 57 1 -11 1 -34 1 -33 1 57 1 9 1 -79 1 54 1 37 1 -110 1 77 1 -31 1 6 1 3 1 -20 1 -22 1 -21 1 100 1 -32 1 -72 1 3 1 43 1 0 1 -49 1 80 1 -49 1 0 1 -9 1 50 1 -8 1 0 1 6 1 -16 1 -29 1 -45 1 106 1 -79 1 46 1 8 1 -22 1 -29 1 68 1 -40 1 -59 1 96 1 21 1 -15 1 -34 1 -44 1 17 1 7 1 18 1 -51 1 -14 1 122 1 -29 1 42 1 -84 1 28 1 -12 1 -13 1 46 1 -51 1 18 1 -3 1 -3 1 -39 1 32 1 -29 1 85 1 -25 1 -63 1 30 1 -16 1 9 1 -1 1 -9 1 -34 1 98 1 17 1 -34 1 -5 1 69 1 -94 1 60 1 -18 1 -19 1 -5 1 9 1 0 1 -4 1 54 1 -138 1 63 1 -44 1 48 1 -11 1 19 1 -69 1 114 1 -112 1 40 1 -19 1 104 1 12 1 -57 1 8 1 -31 1 55 1 -48 1 29 1 74 1 -60 1 -20 1 -51 1 -63 1 198 1 -108 1 -49 1 115 1 -60 1 56 1 -46 1 29 1 6 1 44 1 -77 1 -38 1 119 1 -36 1 -48 1 77 1 5 1 -72 1 -98 1 118 1 -15 1 -6 1 2 1 45 1 -50 1 -64 1 48 1 23 1 -46 1 33 1 -53 1 92 1 -99 1 111 1 -61 1 69 1 -120 1 41 1 39 1 -29 1 41 1 -62 1 41 1 5 1 21 1 -124 1 87 1 18 1 11 1 22 1 -85 1 44 1 -3 1 -36 1 16 1 22 1 -23 1 -36 1 4 1 49 1 -29 1 108 1 -27 1 -68 1 69 1 -71 1 40 1 -12 1 -19 1 53 1 -39 1 -63 1 101 1 -74 1 65 1 -55 1 20 1 -5 1 -94 1 49 1 39 1 52 1 -78 1 32 1 57 1 -15 1 -66 1 79 1 -58 1 10 1 6 1 -10 1 13 1 -56 1 91 1 -55 1 -15 1 47 1 52 1 -121 1 3 1 101 1 27 1 -146 1 93 1 -47 1 -2 1 26 1 71 1 -44 1 -35 1 -12 1 56 1 -83 1 55 1 17 1 13 1 -29 1 51 1 -45 1 25 1 -84 1 68 1 19 1 -1 1 -67 1 30 1 -32 1 63 1 -52 1 97 1 -173 1 152 1 -30 1 -10 1 -45 1 64 1 81 1 -99 1 -15 1 90 1 -33 1 -60 1 46 1 15 1 -89 1 68" fill="none" stroke="#d62728" stroke-width="0.9" vector-effect="non-scaling-stroke" stroke-linejoin="bevel"/>
<path d="M1488.5 895.2 1491.0 895.3 1493.4 894.4 1495.9 894.0 1498.3 893.9 1500.8 893.7 1503.2 893.8 1505.7 894.4 1508.1 894.1 1510.6 893.9 1513.0 894.7 1515.5 894.2 1517.9 893.5 1520.4 894.4 1522.8 895.8 1525.3 896.8 1527.7 896.1 1530.2 895.2 1532.6 895.4 1535.1 895.3 1537.5 895.6 1540.0 895.6 1542.4 894.6 1544.9 894.4 1547.3 893.7 1549.8 892.6 1552.2 892.1 1554.7 892.2 1557.1 893.3 1559.6 894.2 1562.0 894.5 1564.5 894.2 1566.9 893.8 1569.4 893.4 1571.8 894.4 1574.3 894.1 1576.7 893.9 1579.2 892.8 1581.6 893.5 1584.1 893.4 1586.5 894.2 1589.0 894.3 1591.4 894.6 1593.9 895.0 1596.3 895.1 1598.8 896.0 1601.2 896.2 1603.7 895.6 1606.1 895.6 1608.6 895.4 1611.0 895.1 1613.5 894.8 1615.9 893.8 1618.4 893.5 1620.8 895.0 1623.3 895.1 1625.7 894.5 1628.2 892.8 1630.6 892.5 1633.1 893.4 1635.5 893.6 1638.0 893.3 1640.4 892.3 1642.9 892.5 1645.3 891.6 1647.8 892.0 1650.2 892.5 1652.7 893.7 1655.2 893.6 1657.6 893.1 1660.1 894.6 1662.5 894.5 1665.0 894.0 1667.4 893.8 1669.9 893.7 1672.3 894.1 1674.8 894.8 1677.2 895.1 1679.7 894.1 1682.1 894.9 1684.6 896.0 1687.0 897.0 1689.5 896.9 1691.9 895.8 1694.4 895.0 1696.8 895.4 1699.3 894.5 1701.7 895.3 1704.2 895.2 1706.6 894.4 1709.1 892.7 1711.5 892.5 1714.0 893.0 1716.4 894.0 1718.9 895.8 1721.3 896.9 1723.8 897.5 1726.2 897.7 1728.7 897.6 1731.1 896.7 1733.6 895.3 1736.0 894.1 1738.5 893.9 1740.9 894.7 1743.4 896.4 1745.8 895.6 1748.3 895.3 1750.7 894.5 1753.2 893.0 1755.6 891.9 1758.1 892.0 1760.5 892.7 1763.0 892.2 1765.4 892.6 1767.9 892.1 1770.3 892.0 1772.8 893.3 1775.2 893.6 1777.7 893.9 1780.1 893.2 1782.6 893.0 1785.0 893.9 1787.5 895.4 1789.9 895.6 1792.4 897.2 1794.8 896.2 1797.3 896.2 1799.7 895.4 1802.2 895.0 1804.6 895.2 1807.1 889.9 1809.5 889.2 1812.0 887.8 1814.5 888.0 1816.9 888.3 1819.4 888.1 1821.8 887.3 1824.3 887.1 1826.7 887.5 1829.2 888.0 1831.6 889.3 1834.1 889.2 1836.5 889.3 1839.0 890.3 1841.4 891.1 1843.9 890.9 1846.3 889.6 1848.8 889.8 1851.2 890.1 1853.7 891.1 1856.1 891.1 1858.6 890.8 1861.0 890.5 1863.5 888.8 1865.9 887.1 1868.4 887.6 1870.8 888.7 1873.3 888.2 1875.7 888.7 1878.2 890.4 1880.6 892.0 1883.1 891.7 1885.5 890.5 1888.0 889.3 1890.4 887.1 1892.9 887.0 1895.3 887.4 1897.8 886.6 1900.2 885.9 1902.7 887.3 1905.1 887.8 1907.6 888.3 1910.0 886.8 1912.5 885.2 1914.9 887.2 1917.4 886.7 1919.8 886.4 1922.3 886.8 1924.7 886.6 1927.2 886.0 1929.6 886.0 1932.1 888.0 1934.5 889.0 1937.0 888.2 1939.4 888.9 1941.9 890.1 1944.3 890.2 1946.8 889.5 1949.2 888.2 1951.7 888.6 1954.1 889.3 1956.6 890.1 1959.0 890.6 1961.5 890.2 1963.9 888.5 1966.4 888.1 1968.8 887.5 1971.3 886.2 1973.7 886.0 1976.2 886.3 1976.2 898.1 1973.7 897.8 1971.3 898.0 1968.8 899.2 1966.4 899.8 1963.9 900.3 1961.5 902.0 1959.0 902.4 1956.6 901.9 1954.1 901.1 1951.7 900.4 1949.2 900.0 1946.8 901.3 1944.3 902.0 1941.9 901.9 1939.4 900.7 1937.0 900.0 1934.5 900.7 1932.1 899.7 1929.6 897.8 1927.2 897.7 1924.7 898.4 1922.3 898.6 1919.8 898.2 1917.4 898.5 1914.9 899.0 1912.5 897.0 1910.0 898.6 1907.6 900.1 1905.1 899.6 1902.7 899.1 1900.2 897.7 1897.8 898.4 1895.3 899.2 1892.9 898.8 1890.4 898.9 1888.0 901.1 1885.5 902.3 1883.1 903.5 1880.6 903.8 1878.2 902.2 1875.7 900.5 1873.3 900.0 1870.8 900.5 1868.4 899.4 1865.9 898.9 1863.5 900.6 1861.0 902.3 1858.6 902.6 1856.1 902.8 1853.7 902.9 1851.2 901.9 1848.8 901.5 1846.3 901.3 1843.9 902.6 1841.4 902.9 1839.0 902.1 1836.5 901.1 1834.1 901.0 1831.6 901.0 1829.2 899.8 1826.7 899.3 1824.3 898.9 1821.8 899.1 1819.4 899.9 1816.9 900.1 1814.5 899.8 1812.0 899.5 1809.5 901.0 1807.1 901.7 1804.6 907.0 1802.2 906.7 1799.7 907.2 1797.3 907.9 1794.8 908.0 1792.4 909.0 1789.9 907.4 1787.5 907.1 1785.0 905.6 1782.6 904.7 1780.1 905.0 1777.7 905.7 1775.2 905.4 1772.8 905.0 1770.3 903.8 1767.9 903.9 1765.4 904.4 1763.0 904.0 1760.5 904.5 1758.1 903.8 1755.6 903.7 1753.2 904.7 1750.7 906.3 1748.3 907.1 1745.8 907.4 1743.4 908.2 1740.9 906.4 1738.5 905.7 1736.0 905.9 1733.6 907.1 1731.1 908.5 1728.7 909.4 1726.2 909.5 1723.8 909.3 1721.3 908.6 1718.9 907.6 1716.4 905.8 1714.0 904.8 1711.5 904.2 1709.1 904.5 1706.6 906.2 1704.2 907.0 1701.7 907.0 1699.3 906.3 1696.8 907.2 1694.4 906.8 1691.9 907.6 1689.5 908.7 1687.0 908.7 1684.6 907.8 1682.1 906.7 1679.7 905.9 1677.2 906.9 1674.8 906.5 1672.3 905.9 1669.9 905.5 1667.4 905.6 1665.0 905.8 1662.5 906.3 1660.1 906.4 1657.6 904.9 1655.2 905.4 1652.7 905.4 1650.2 904.3 1647.8 903.7 1645.3 903.4 1642.9 904.3 1640.4 904.1 1638.0 905.1 1635.5 905.4 1633.1 905.2 1630.6 904.2 1628.2 904.6 1625.7 906.3 1623.3 906.9 1620.8 906.8 1618.4 905.3 1615.9 905.6 1613.5 906.6 1611.0 906.8 1608.6 907.2 1606.1 907.4 1603.7 907.3 1601.2 908.0 1598.8 907.8 1596.3 906.9 1593.9 906.8 1591.4 906.4 1589.0 906.1 1586.5 905.9 1584.1 905.2 1581.6 905.3 1579.2 904.6 1576.7 905.7 1574.3 905.9 1571.8 906.2 1569.4 905.1 1566.9 905.6 1564.5 906.0 1562.0 906.3 1559.6 906.0 1557.1 905.0 1554.7 903.9 1552.2 903.9 1549.8 904.3 1547.3 905.5 1544.9 906.1 1542.4 906.4 1540.0 907.4 1537.5 907.4 1535.1 907.0 1532.6 907.2 1530.2 907.0 1527.7 907.9 1525.3 908.6 1522.8 907.6 1520.4 906.2 1517.9 905.3 1515.5 905.9 1513.0 906.5 1510.6 905.7 1508.1 905.8 1505.7 906.1 1503.2 905.6 1500.8 905.4 1498.3 905.7 1495.9 905.8 1493.4 906.2 1491.0 907.1 1488.5 907.0Z" fill="#ff7f0e" stroke="#ff7f0e" stroke-width="1.5" stroke-linejoin="round"/>
<path transform="translate(1488.50,0) scale(0.09756,0.1)" d="M0 9031l1 -15 1 89 1 -103 1 52 1 -3 1 -27 1 3 1 -6 1 -34 1 16 1 -109 1 149 1 -51 1 8 1 93 1 -126 1 8 1 63 1 -40 1 15 1 -61 1 82 1 -24 1 37 1 -46 1 42 1 66 1 -51 1 33 1 -103 1 24 1 13 1 -6 1 -5 1 36 1 -42 1 -36 1 74 1 15 1 -95 1 37 1 -50 1 32 1 42 1 -84 1 1 1 142 1 -103 1 1 1 5 1 -23 1 45 1 10 1 -41 1 19 1 87 1 -89 1 77 1 -97 1 61 1 -27 1 30 1 4 1 -131 1 85 1 -14 1 -39 1 19 1 78 1 -13 1 30 1 -27 1 -21 1 -61 1 40 1 -18 1 58 1 -40 1 -64 1 87 1 -33 1 -16 1 62 1 -37 1 -59 1 75 1 -58 1 60 1 -17 1 -18 1 38 1 -8 1 -16 1 11 1 -13 1 23 1 -42 1 65 1 8 1 -71 1 -14 1 56 1 -24 1 -12 1 -3 1 62 1 -44 1 -9 1 54 1 -117 1 42 1 -28 1 27 1 9 1 39 1 26 1 -35 1 83 1 -130 1 27 1 44 1 -6 1 -8 1 -12 1 52 1 6 1 -110 1 80 1 -27 1 -51 1 75 1 -74 1 31 1 -4 1 82 1 -33 1 -15 1 -57 1 62 1 -3 1 -35 1 -71 1 63 1 12 1 14 1 46 1 -67 1 63 1 54 1 -86 1 -52 1 64 1 -33 1 -12 1 -21 1 31 1 22 1 -38 1 32 1 -35 1 22 1 -17 1 57 1 -53 1 -2 1 40 1 34 1 22 1 0 1 -87 1 19 1 -4 1 -27 1 41 1 29 1 -65 1 115 1 -23 1 -105 1 86 1 -4 1 -31 1 17 1 -26 1 13 1 127 1 -176 1 30 1 13 1 58 1 -111 1 61 1 -79 1 -22 1 32 1 -22 1 98 1 95 1 -111 1 -57 1 34 1 83 1 -103 1 37 1 -12 1 29 1 -19 1 53 1 -15 1 -79 1 -11 1 95 1 -8 1 -49 1 13 1 -80 1 86 1 53 1 -21 1 -101 1 57 1 0 1 37 1 -18 1 -38 1 29 1 -31 1 56 1 -42 1 -44 1 16 1 47 1 10 1 19 1 -51 1 60 1 -79 1 9 1 1 1 -52 1 1 1 29 1 52 1 37 1 -67 1 42 1 11 1 3 1 -38 1 -46 1 85 1 -44 1 -16 1 -40 1 142 1 -70 1 31 1 -40 1 44 1 13 1 -128 1 75 1 27 1 -83 1 53 1 83 1 -113 1 55 1 -61 1 38 1 -31 1 -21 1 68 1 81 1 -27 1 -52 1 -4 1 -32 1 -15 1 4 1 55 1 -5 1 29 1 39 1 -23 1 -56 1 4 1 -101 1 133 1 -46 1 33 1 -8 1 -17 1 24 1 -2 1 -49 1 -46 1 89 1 -45 1 53 1 29 1 -57 1 111 1 -49 1 -105 1 -20 1 60 1 30 1 -53 1 -7 1 9 1 18 1 19 1 -49 1 8 1 42 1 -63 1 46 1 -6 1 82 1 -70 1 28 1 -24 1 0 1 -21 1 48 1 -6 1 -46 1 57 1 -36 1 -53 1 79 1 56 1 -47 1 22 1 -10 1 -75 1 102 1 -29 1 -27 1 -11 1 -15 1 7 1 37 1 -4 1 35 1 -90 1 48 1 -86 1 74 1 75 1 -110 1 47 1 -17 1 -4 1 56 1 -66 1 36 1 -61 1 96 1 4 1 -72 1 56 1 -28 1 -33 1 51 1 27 1 -43 1 2 1 -2 1 16 1 15 1 -28 1 -8 1 -1 1 -83 1 95 1 -5 1 -22 1 39 1 31 1 -6 1 0 1 -50 1 -9 1 -8 1 -14 1 25 1 -30 1 16 1 3 1 20 1 -48 1 -41 1 164 1 -81 1 -14 1 40 1 -15 1 19 1 -15 1 12 1 -66 1 64 1 30 1 -71 1 54 1 -51 1 -57 1 115 1 -84 1 -4 1 98 1 -117 1 -35 1 78 1 13 1 -38 1 25 1 -10 1 12 1 17 1 37 1 -105 1 81 1 -49 1 -19 1 83 1 -59 1 3 1 6 1 -47 1 47 1 30 1 -47 1 -35 1 83 1 26 1 -73 1 10 1 73 1 10 1 -19 1 -36 1 -33 1 -34 1 -16 1 23 1 56 1 -69 1 28 1 81 1 -109 1 93 1 8 1 12 1 -5 1 -46 1 -18 1 58 1 -23 1 -66 1 97 1 -67 1 67 1 -92 1 39 1 -3 1 61 1 -106 1 36 1 -91 1 126 1 10 1 -34 1 -3 1 -7 1 46 1 18 1 -44 1 -13 1 -16 1 -3 1 -110 1 98 1 26 1 -15 1 -3 1 29 1 79 1 -51 1 -12 1 -2 1 25 1 44 1 -75 1 -63 1 62 1 -54 1 89 1 -20 1 16 1 3 1 -50 1 37 1 -18 1 65 1 -55 1 21 1 -21 1 -63 1 61 1 -16 1 -4 1 56 1 -13 1 -65 1 8 1 15 1 24 1 -2 1 27 1 -108 1 81 1 -70 1 59 1 65 1 -102 1 143 1 -53 1 8 1 20 1 -73 1 0 1 -61 1 73 1 -8 1 -1 1 32 1 -8 1 48 1 -118 1 93 1 -48 1 29 1 -58 1 -23 1 76 1 -97 1 45 1 32 1 -14 1 -25 1 -57 1 102 1 52 1 -40 1 -41 1 31 1 21 1 7 1 -93 1 34 1 -8 1 29 1 -22 1 151 1 -169 1 9 1 -84 1 97 1 -100 1 68 1 58 1 6 1 -2 1 -89 1 19 1 40 1 -45 1 53 1 -3 1 8 1 51 1 -59 1 -1 1 -24 1 43 1 2 1 -80 1 74 1 -9 1 11 1 -49 1 0 1 34 1 36 1 -37 1 -82 1 98 1 -11 1 -56 1 6 1 46 1 7 1 -80 1 44 1 23 1 -20 1 49 1 -1 1 -96 1 61 1 44 1 -94 1 42 1 -34 1 47 1 -38 1 4 1 61 1 -52 1 -25 1 70 1 -6 1 25 1 -50 1 10 1 -2 1 18 1 -125 1 74 1 60 1 -74 1 95 1 -95 1 -25 1 143 1 -119 1 59 1 -23 1 -47 1 76 1 -129 1 115 1 -86 1 4 1 37 1 15 1 -12 1 -6 1 -7 1 114 1 -95 1 2 1 -77 1 93 1 -25 1 93 1 -33 1 -15 1 -32 1 65 1 -88 1 32 1 82 1 -135 1 33 1 -33 1 92 1 -28 1 -71 1 75 1 69 1 -103 1 28 1 33 1 -34 1 -66 1 60 1 -72 1 54 1 -21 1 47 1 3 1 53 1 -87 1 1 1 26 1 -38 1 13 1 -3 1 28 1 3 1 31 1 3 1 -17 1 -67 1 -10 1 24 1 134 1 -70 1 17 1 -13 1 -60 1 27 1 32 1 -26 1 44 1 -79 1 25 1 -46 1 58 1 -2 1 -36 1 32 1 34 1 -42 1 98 1 -82 1 68 1 -73 1 -58 1 52 1 -24 1 33 1 -56 1 -25 1 69 1 -19 1 31 1 -27 1 47 1 -109 1 -7 1 50 1 16 1 46 1 33 1 -60 1 73 1 -48 1 19 1 -3 1 35 1 -79 1 49 1 17 1 -53 1 35 1 -25 1 -31 1 -17 1 -10 1 -25 1 41 1 40 1 -8 1 -38 1 34 1 -51 1 99 1 9 1 -46 1 21 1 -30 1 -73 1 45 1 28 1 -17 1 63 1 -91 1 34 1 9 1 -7 1 -7 1 15 1 48 1 -62 1 66 1 3 1 -80 1 0 1 -3 1 19 1 5 1 82 1 -152 1 103 1 -47 1 22 1 16 1 49 1 -93 1 34 1 -33 1 35 1 72 1 -91 1 -30 1 19 1 -2 1 -44 1 131 1 -76 1 -40 1 68 1 24 1 -31 1 -5 1 -19 1 -14 1 6 1 11 1 -39 1 27 1 17 1 16 1 30 1 -89 1 78 1 -18 1 8 1 -37 1 -73 1 87 1 -23 1 -2 1 32 1 -22 1 17 1 70 1 -148 1 59 1 -22 1 95 1 -146 1 49 1 78 1 45 1 -67 1 -24 1 -3 1 -12 1 51 1 -29 1 -12 1 -50 1 82 1 -4 1 26 1 -23 1 -35 1 -39 1 105 1 2 1 -59 1 29 1 -44 1 43 1 -13 1 -5 1 6 1 -36 1 38 1 -59 1 35 1 38 1 22 1 -91 1 67 1 -15 1 21 1 -89 1 51 1 77 1 -42 1 28 1 -36 1 -1 1 -26 1 42 1 4 1 -14 1 -24 1 81 1 -124 1 36 1 80 1 -33 1 -86 1 -27 1 85 1 -13 1 -17 1 51 1 -37 1 15 1 24 1 -79 1 60 1 -80 1 111 1 24 1 -15 1 -124 1 111 1 -113 1 141 1 -137 1 84 1 13 1 -107 1 77 1 45 1 13 1 -30 1 -23 1 52 1 -38 1 -15 1 49 1 -163 1 113 1 136 1 -180 1 17 1 -15 1 -1 1 63 1 -21 1 -16 1 -13 1 42 1 -29 1 106 1 -100 1 -35 1 13 1 -36 1 92 1 -42 1 -42 1 61 1 -9 1 -2 1 -69 1 70 1 32 1 -111 1 130 1 55 1 -74 1 -36 1 43 1 -23 1 -40 1 12 1 62 1 -151 1 89 1 26 1 -45 1 139 1 -42 1 -31 1 -65 1 66 1 26 1 -42 1 22 1 110 1 -131 1 -46 1 5 1 74 1 -105 1 88 1 -9 1 13 1 -38 1 24 1 -7 1 -52 1 -36 1 109 1 -21 1 -46 1 52 1 43 1 -124 1 59 1 -56 1 102 1 -60 1 58 1 -27 1 17 1 -96 1 59 1 54 1 -12 1 -16 1 -32 1 -42 1 35 1 41 1 -70 1 60 1 27 1 -55 1 41 1 10 1 -27 1 -17 1 -13 1 -14 1 -6 1 34 1 -42 1 116 1 -95 1 -11 1 19 1 -17 1 75 1 -59 1 44 1 60 1 -41 1 -58 1 0 1 -6 1 -2 1 53 1 18 1 -37 1 17 1 -7 1 4 1 22 1 13 1 -51 1 -49 1 59 1 -19 1 -69 1 57 1 -12 1 -35 1 115 1 -119 1 46 1 44 1 -105 1 99 1 -5 1 -5 1 -21 1 88 1 -50 1 -26 1 14 1 -24 1 1 1 -15 1 54 1 -41 1 -5 1 68 1 -114 1 15 1 89 1 33 1 -51 1 -4 1 7 1 6 1 -43 1 -89 1 76 1 -12 1 97 1 -101 1 -20 1 88 1 35 1 -68 1 -12 1 74 1 -43 1 -35 1 29 1 6 1 -3 1 46 1 -118 1 19 1 4 1 75 1 -81 1 90 1 -53 1 41 1 -4 1 -26 1 -42 1 53 1 13 1 -20 1 71 1 -64 1 0 1 1 1 -62 1 -3 1 91 1 -25 1 47 1 7 1 4 1 -117 1 117 1 -74 1 65 1 -51 1 90 1 -153 1 13 1 67 1 1 1 24 1 -11 1 -67 1 74 1 17 1 -47 1 -28 1 83 1 -45 1 63 1 -105 1 23 1 71 1 -105 1 84 1 -46 1 19 1 6 1 65 1 -105 1 -8 1 11 1 -1 1 4 1 -25 1 41 1 33 1 -60 1 -10 1 65 1 -89 1 158 1 -94 1 12 1 -48 1 29 1 -25 1 61 1 15 1 -60 1 -63 1 83 1 -64 1 33 1 50 1 -84 1 31 1 2 1 29 1 -14 1 17 1 110 1 -125 1 -19 1 60 1 -21 1 -33 1 -8 1 113 1 -95 1 -38 1 35 1 4 1 32 1 6 1 -138 1 93 1 2 1 9 1 -75 1 78 1 38 1 -145 1 119 1 -86 1 94 1 -79 1 23 1 32 1 21 1 -10 1 17 1 -7 1 -1 1 40 1 -40 1 40 1 -85 1 40 1 -71 1 96 1 -38 1 -61 1 86 1 23 1 -9 1 -112 1 24 1 -11 1 96 1 -69 1 -23 1 82 1 1 1 19 1 -64 1 69 1 -41 1 -69 1 134 1 -44 1 -22 1 -13 1 44 1 4 1 -70 1 67 1 -81 1 28 1 -12 1 -36 1 44 1 79 1 21 1 -105 1 19 1 -8 1 13 1 20 1 -4 1 -2 1 37 1 -37 1 -53 1 63 1 3 1 -121 1 0 1 111 1 -50 1 -70 1 98 1 15 1 -43 1 -9 1 33 1 55 1 -84 1 10 1 -13 1 -34 1 107 1 -17 1 -82 1 135 1 -47 1 -35 1 -24 1 11 1 4 1 30 1 -52 1 5 1 4 1 47 1 -79 1 60 1 -4 1 16 1 -6 1 12 1 -6 1 18 1 -8 1 -10 1 36 1 -47 1 47 1 -50 1 -19 1 20 1 -63 1 55 1 -4 1 21 1 -44 1 63 1 -73 1 -14 1 92 1 -14 1 -109 1 39 1 72 1 -25 1 6 1 -70 1 96 1 -68 1 10 1 34 1 30 1 -140 1 85 1 -46 1 30 1 3 1 0 1 110 1 -117 1 -19 1 -30 1 116 1 -61 1 71 1 -142 1 198 1 -121 1 -21 1 91 1 -65 1 -36 1 70 1 -84 1 89 1 67 1 -89 1 92 1 -66 1 38 1 24 1 -47 1 9 1 -17 1 22 1 -37 1 -6 1 -27 1 36 1 -77 1 59 1 -89 1 90 1 19 1 8 1 -20 1 -55 1 88 1 10 1 -57 1 51 1 -69 1 74 1 11 1 -94 1 106 1 -12 1 -64 1 13 1 -20 1 37 1 -83 1 96 1 41 1 -68 1 24 1 -35 1 35 1 -9 1 30 1 -33 1 -126 1 221 1 -99 1 -95 1 128 1 7 1 -68 1 -27 1 25 1 62 1 -128 1 62 1 -34 1 51 1 -103 1 94 1 47 1 -73 1 39 1 28 1 0 1 -64 1 24 1 76 1 -22 1 -66 1 20 1 -60 1 32 1 44 1 -93 1 9 1 37 1 38 1 -50 1 25 1 -80 1 212 1 -112 1 -38 1 15 1 37 1 -82 1 36 1 27 1 -108 1 36 1 57 1 -21 1 63 1 21 1 -52 1 -40 1 -70 1 126 1 11 1 -71 1 -9 1 32 1 75 1 -80 1 -8 1 75 1 -41 1 -35 1 -9 1 -8 1 -38 1 126 1 -76 1 -5 1 -11 1 8 1 43 1 -23 1 -34 1 28 1 63 1 -48 1 -41 1 54 1 24 1 6 1 -91 1 94 1 -12 1 -28 1 11 1 15 1 -45 1 -7 1 62 1 -48 1 107 1 -74 1 -86 1 -63 1 133 1 21 1 -87 1 -2 1 -11 1 29 1 62 1 -44 1 22 1 39 1 -23 1 16 1 -53 1 0 1 59 1 0 1 18 1 -27 1 -2 1 -32 1 -32 1 83 1 -64 1 38 1 14 1 -80 1 29 1 47 1 30 1 -74 1 44 1 -45 1 19 1 60 1 -55 1 -5 1 62 1 -53 1 -77 1 43 1 65 1 -44 1 -38 1 53 1 7 1 -22 1 67 1 -24 1 -129 1 97 1 -13 1 -16 1 32 1 -9 1 -67 1 79 1 -76 1 90 1 -74 1 35 1 1 1 9 1 -6 1 -11 1 32 1 6 1 -33 1 16 1 -42 1 -40 1 53 1 58 1 -9 1 -37 1 -39 1 24 1 27 1 -7 1 -45 1 167 1 -141 1 78 1 28 1 -58 1 -1 1 9 1 -55 1 98 1 -67 1 63 1 5 1 -96 1 -58 1 109 1 -54 1 28 1 -22 1 27 1 -43 1 -19 1 40 1 40 1 36 1 -67 1 25 1 -63 1 30 1 -62 1 108 1 -82 1 27 1 51 1 30 1 -38 1 96 1 -136 1 55 1 -96 1 28 1 0 1 5 1 18 1 -42 1 -1 1 65 1 17 1 4 1 -8 1 -41 1 50 1 -67 1 20 1 41 1 10 1 -8 1 -57 1 29 1 -39 1 -7 1 20 1 30 1 10 1 -23 1 -17 1 78 1 -87 1 8 1 4 1 -36 1 86 1 -29 1 -3 1 35 1 -34 1 -73 1 48 1 75 1 -19 1 28 1 -91 1 17 1 -68 1 76 1 38 1 1 1 24 1 -108 1 -4 1 2 1 -17 1 80 1 -4 1 -10 1 11 1 -38 1 23 1 -27 1 75 1 -55 1 81 1 -49 1 58 1 -82 1 -2 1 10 1 38 1 38 1 -79 1 7 1 8 1 79 1 -34 1 -50 1 -20 1 2 1 -20 1 -9 1 81 1 -26 1 -2 1 73 1 -30 1 -56 1 -20 1 37 1 66 1 -30 1 -2 1 -88 1 -21 1 40 1 106 1 -57 1 -45 1 21 1 42 1 -19 1 83 1 -127 1 -4 1 91 1 32 1 -180 1 131 1 -68 1 39 1 -67 1 41 1 14 1 7 1 -6 1 -27 1 73 1 -82 1 56 1 -11 1 -31 1 51 1 11 1 -15 1 -33 1 -5 1 68 1 -43 1 33 1 25 1 -139 1 47 1 -54 1 19 1 119 1 -34 1 -52 1 0 1 26 1 40 1 -95 1 35 1 -17 1 58 1 -3 1 -28 1 -36 1 -10 1 69 1 -40 1 39 1 -38 1 46 1 -2 1 33 1 -60 1 -32 1 36 1 20 1 -34 1 10 1 6 1 91 1 -81 1 -13 1 41 1 -57 1 87 1 -45 1 -34 1 25 1 -45 1 -1 1 38 1 -88 1 123 1 -49 1 45 1 -27 1 -43 1 44 1 23 1 -63 1 66 1 -61 1 48 1 -70 1 59 1 51 1 -70 1 24 1 -76 1 97 1 -39 1 67 1 -108 1 37 1 12 1 -21 1 28 1 15 1 -1 1 -60 1 -16 1 43 1 -3 1 28 1 -4 1 18 1 -79 1 43 1 -27 1 30 1 56 1 -28 1 20 1 -58 1 -2 1 54 1 28 1 -94 1 25 1 -64 1 10 1 78 1 -14 1 -106 1 89 1 -74 1 139 1 -47 1 -43 1 0 1 -8 1 61 1 -84 1 52 1 35 1 -11 1 -21 1 3 1 37 1 -104 1 68 1 111 1 -126 1 -5 1 -4 1 -39 1 63 1 -31 1 69 1 -78 1 184 1 -95 1 -42 1 -75 1 66 1 22 1 -28 1 43 1 -41 1 -16 1 51 1 -11 1 18 1 -41 1 21 1 -75 1 -46 1 166 1 -94 1 5 1 -13 1 78 1 -27 1 29 1 -1 1 19 1 -59 1 50 1 -86 1 25 1 -15 1 48 1 -29 1 13 1 1 1 -76 1 95 1 18 1 -37 1 -29 1 38 1 23 1 2 1 -30 1 -11 1 3 1 53 1 -59 1 70 1 -29 1 -13 1 -16 1 -18 1 -4 1 -11 1 13 1 -24 1 91 1 -105 1 44 1 44 1 19 1 -49 1 11 1 31 1 0 1 -35 1 -52 1 96 1 -5 1 -1 1 1 1 -55 1 44 1 0 1 -42 1 15 1 -28 1 25 1 -20 1 40 1 19 1 0 1 -99 1 82 1 29 1 -123 1 98 1 -30 1 12 1 -41 1 91 1 -40 1 -40 1 -31 1 70 1 -106 1 73 1 21 1 -8 1 -19 1 11 1 36 1 -20 1 -45 1 143 1 -117 1 29 1 42 1 -53 1 -38 1 6 1 27 1 -8 1 -24 1 45 1 -12 1 -10 1 -32 1 73 1 -46 1 -10 1 24 1 -21 1 18 1 45 1 -25 1 9 1 51 1 -43 1 -86 1 80 1 6 1 -52 1 36 1 -35 1 102 1 20 1 -129 1 40 1 -92 1 -1 1 92 1 37 1 -35 1 -38 1 -44 1 6 1 48 1 10 1 -14 1 72 1 -75 1 30 1 23 1 2 1 37 1 -35 1 -28 1 28 1 22 1 -30 1 11 1 -16 1 86 1 -123 1 35 1 17 1 14 1 -35 1 -36 1 42 1 60 1 -3 1 -92 1 28 1 -29 1 41 1 -35 1 74 1 57 1 -92 1 -129 1 113 1 -8 1 -2 1 -6 1 47 1 -31 1 34 1 -11 1 29 1 -29 1 -87 1 79 1 -23 1 0 1 -16 1 -30 1 119 1 -99 1 2 1 14 1 -7 1 -2 1 77 1 -36 1 -43 1 75 1 -54 1 98 1 -128 1 52 1 -57 1 29 1 8 1 -40 1 126 1 -101 1 23 1 44 1 -56 1 11 1 -19 1 1 1 8 1 45 1 -136 1 104 1 26 1 -44 1 16 1 22 1 -8 1 -1 1 -36 1 2 1 -11 1 92 1 -9 1 -96 1 -29 1 40 1 -33 1 77 1 18 1 -100 1 34 1 17 1 56 1 -99 1 89 1 -5 1 7 1 57 1 -70 1 -62 1 -4 1 127 1 -125 1 14 1 34 1 5 1 -6 1 64 1 -108 1 0 1 -8 1 83 1 -89 1 48 1 -7 1 22 1 18 1 -26 1 10 1 14 1 -42 1 -45 1 91 1 -38 1 11 1 -33 1 39 1 -18 1 -51 1 18 1 34 1 -55 1 36 1 -76 1 78 1 32 1 -50 1 65 1 -67 1 10 1 91 1 -23 1 -45 1 -21 1 25 1 -32 1 58 1 -39 1 33 1 -13 1 71 1 -11 1 -22 1 -1 1 -55 1 37 1 14 1 -56 1 -1 1 18 1 -21 1 23 1 11 1 -1 1 -14 1 40 1 -36 1 49 1 -24 1 -32 1 -22 1 124 1 -125 1 11 1 26 1 -38 1 54 1 -40 1 -44 1 98 1 -40 1 -44 1 28 1 49 1 7 1 -44 1 -5 1 37 1 -80 1 -12 1 22 1 68 1 -57 1 75 1 8 1 -8 1 -90 1 65 1 44 1 -105 1 34 1 -47 1 39 1 -12 1 -36 1 22 1 68 1 -34 1 12 1 55 1 55 1 -158 1 91 1 -122 1 65 1 -26 1 67 1 -66 1 -14 1 29 1 28 1 -27 1 -58 1 55 1 -88 1 148 1 -104 1 -16 1 25 1 -7 1 40 1 -1 1 35 1 17 1 -31 1 -85 1 20 1 41 1 7 1 10 1 -44 1 26 1 -87 1 54 1 24 1 7 1 -24 1 19 1 -43 1 -14 1 102 1 18 1 -42 1 -3 1 -55 1 8 1 95 1 -23 1 -82 1 39 1 12 1 66 1 -106 1 64 1 -74 1 21 1 94 1 -80 1 53 1 -50 1 31 1 28 1 -35 1 30 1 39 1 -104 1 68 1 -64 1 15 1 -39 1 39 1 0 1 49 1 16 1 -36 1 -19 1 -14 1 71 1 -38 1 -26 1 -5 1 13 1 -74 1 83 1 -79 1 -20 1 116 1 -50 1 -34 1 145 1 -104 1 62 1 -19 1 -11 1 -72 1 37 1 10 1 40 1 -37 1 3 1 13 1 -47 1 58 1 -52 1 18 1 33 1 103 1 -128 1 -3 1 50 1 -47 1 11 1 20 1 -21 1 -4 1 7 1 7 1 -51 1 11 1 3 1 46 1 -30 1 134 1 -171 1 86 1 -26 1 -3 1 20 1 -27 1 17 1 -1 1 6 1 -37 1 35 1 90 1 -139 1 23 1 1 1 -7 1 69 1 20 1 -33 1 20 1 -127 1 101 1 -65 1 57 1 -21 1 41 1 -29 1 -21 1 36 1 15 1 -44 1 87 1 -70 1 15 1 13 1 -15 1 -98 1 70 1 25 1 54 1 -82 1 10 1 14 1 76 1 -57 1 27 1 -128 1 131 1 -19 1 -46 1 24 1 0 1 8 1 -25 1 79 1 -51 1 -17 1 0 1 23 1 -19 1 -61 1 64 1 -69 1 137 1 -137 1 140 1 -95 1 97 1 -89 1 -23 1 10 1 -7 1 99 1 -51 1 10 1 -24 1 63 1 -57 1 25 1 -59 1 -63 1 70 1 -56 1 148 1 -117 1 88 1 -18 1 -12 1 0 1 -7 1 25 1 -25 1 -48 1 101 1 -61 1 10 1 -7 1 -55 1 11 1 59 1 24 1 -80 1 -5 1 74 1 -69 1 125 1 -68 1 -4 1 53 1 -81 1 -65 1 127 1 -74 1 -35 1 92 1 -72 1 15 1 39 1 -1 1 69 1 -92 1 41 1 32 1 -70 1 -20 1 -34 1 59 1 0 1 -67 1 83 1 -49 1 39 1 -14 1 11 1 -64 1 44 1 -34 1 47 1 30 1 -22 1 -19 1 11 1 -14 1 -81 1 93 1 21 1 -84 1 86 1 -50 1 31 1 -80 1 62 1 18 1 -38 1 57 1 -38 1 -15 1 -83 1 135 1 -58 1 25 1 -58 1 47 1 32 1 -42 1 14 1 75 1 -14 1 -68 1 -31 1 -33 1 88 1 -53 1 14 1 48 1 -90 1 104 1 -47 1 7 1 -25 1 32 1 -51 1 19 1 13 1 49 1 -25 1 -15 1 -17 1 27 1 -69 1 -26 1 44 1 13 1 70 1 -82 1 26 1 11 1 -33 1 40 1 21 1 -123 1 82 1 -41 1 64 1 -34 1 48 1 9 1 6 1 -117 1 12 1 26 1 86 1 -52 1 -8 1 1 1 56 1 -69 1 -43 1 29 1 17 1 17 1 32 1 -23 1 -72 1 84 1 -28 1 -26 1 16 1 -35 1 95 1 -47 1 24 1 -1 1 -6 1 -11 1 -21 1 55 1 -40 1 6 1 -29 1 40 1 -30 1 17 1 99 1 -122 1 55 1 26 1 -19 1 -13 1 25 1 -19 1 114 1 -76 1 -44 1 -55 1 -11 1 83 1 -21 1 57 1 -51 1 -21 1 88 1 -94 1 11 1 74 1 -77 1 91 1 16 1 -108 1 -14 1 81 1 -55 1 -11 1 -1 1 9 1 -57 1 43 1 24 1 -5 1 -105 1 66 1 37 1 28 1 -32 1 -33 1 45 1 21 1 -71 1 -6 1 51 1 28 1 7 1 -24 1 -46 1 40 1 13 1 -56 1 4 1 -12 1 -24 1 53 1 40 1 -77 1 55 1 5 1 50 1 -38 1 28 1 -23 1 -86 1 86 1 -15 1 -83 1 19 1 -21 1 140 1 -137 1 126 1 -70 1 11 1 -24 1 55 1 -13 1 -35 1 65 1 48 1 -105 1 5 1 4 1 3 1 -27 1 123 1 -164 1 26 1 103 1 -123 1 43 1 -60 1 36 1 46 1 40 1 -70 1 5 1 22 1 -55 1 45 1 -38 1 37 1 68 1 -78 1 87 1 -135 1 98 1 -80 1 -7 1 19 1 53 1 -68 1 -47 1 41 1 96 1 -60 1 -6 1 -51 1 41 1 11 1 -21 1 7 1 -7 1 37 1 10 1 -45 1 74 1 16 1 -100 1 71 1 25 1 -120 1 53 1 22 1 38 1 -18 1 -59 1 58 1 -62 1 -100 1 151 1 -56 1 33 1 16 1 -34 1 -40 1 28 1 5 1 -24 1 33 1 12 1 -108 1 63 1 27 1 -66 1 59 1 -16 1 -18 1 112 1 -83 1 24 1 -19 1 -32 1 63 1 58 1 -112 1 61 1 -27 1 38 1 -16 1 73 1 -81 1 -35 1 -4 1 50 1 4 1 -64 1 79 1 -60 1 89 1 -78 1 -29 1 -6 1 38 1 41 1 -24 1 -20 1 5 1 -18 1 33 1 -42 1 96 1 -128 1 72 1 -73 1 22 1 36 1 77 1 -30 1 -34 1 36 1 -7 1 -33 1 4 1 36 1 -107 1 47 1 -26 1 12 1 -11 1 40 1 -2 1 1 1 12 1 1 1 -9 1 -21 1 92 1 -122 1 104 1 16 1 -121 1 63 1 53 1 -61 1 53 1 -76 1 20 1 23 1 13 1 -87 1 62 1 -59 1 52 1 -19 1 40 1 14 1 -40 1 3 1 3 1 -44 1 61 1 23 1 -57 1 26 1 5 1 36 1 -75 1 44 1 -35 1 21 1 -8 1 11 1 2 1 -27 1 40 1 -36 1 81 1 -157 1 154 1 -117 1 25 1 4 1 19 1 0 1 -53 1 35 1 -3 1 36 1 -15 1 12 1 -7 1 -15 1 -25 1 25 1 42 1 -27 1 -44 1 28 1 -26 1 65 1 -50 1 -1 1 8 1 -16 1 -52 1 111 1 19 1 -74 1 67 1 -12 1 -104 1 77 1 -29 1 89 1 -51 1 -2 1 -41 1 11 1 45 1 -66 1 27 1 12 1 14 1 16 1 -27 1 85 1 -8 1 -88 1 -65 1 98 1 38 1 -26 1 -54 1 -12 1 81 1 -37 1 -23 1 -11 1 34 1 15 1 -71 1 41 1 45 1 -50 1 18 1 -2 1 53 1 -19 1 -22 1 -4 1 57 1 -5 1 -99 1 -33 1 58 1 86 1 -16 1 31 1 -77 1 30 1 -42 1 -54 1 33 1 11 1 24 1 41 1 -22 1 1 1 -10 1 -74 1 24 1 60 1 9 1 -5 1 33 1 -56 1 88 1 -70 1 28 1 -36 1 83 1 -109 1 -66 1 68 1 40 1 -26 1 -40 1 58 1 8 1 -7 1 -11 1 -60 1 43 1 2 1 0 1 2 1 3 1 19 1 9 1 -93 1 85 1 -12 1 0 1 21 1 17 1 -62 1 22 1 -55 1 7 1 120 1 -36 1 6 1 -125 1 94 1 -13 1 28 1 -59 1 2 1 -61 1 81 1 -44 1 81 1 -130 1 69 1 17 1 25 1 -17 1 -10 1 17 1 1 1 9 1 27 1 -63 1 147 1 -112 1 -40 1 17 1 -18 1 -88 1 119 1 -27 1 -45 1 65 1 1 1 5 1 60 1 -74 1 72 1 -50 1 -41 1 25 1 84 1 -71 1 26 1 27 1 -69 1 -83 1 82 1 -32 1 37 1 -2 1 -70 1 42 1 50 1 -24 1 -5 1 32 1 -6 1 -85 1 33 1 61 1 -53 1 75 1 -69 1 10 1 70 1 -95 1 -2 1 2 1 1 1 63 1 -32 1 -10 1 3 1 9 1 3 1 -31 1 35 1 79 1 -104 1 23 1 72 1 -37 1 17 1 19 1 -125 1 22 1 90 1 -92 1 25 1 -21 1 40 1 -16 1 -5 1 47 1 31 1 -77 1 36 1 13 1 -8 1 -52 1 52 1 -71 1 116 1 -76 1 -14 1 134 1 -66 1 50 1 -77 1 -28 1 23 1 2 1 85 1 -85 1 6 1 -3 1 1 1 -22 1 74 1 -84 1 80 1 -79 1 -51 1 115 1 -31 1 -4 1 6 1 2 1 25 1 -64 1 -12 1 40 1 28 1 5 1 23 1 -38 1 55 1 16 1 -69 1 -29 1 37 1 20 1 -76 1 41 1 -51 1 14 1 46 1 -30 1 -18 1 26 1 -41 1 -40 1 133 1 -44 1 7 1 -77 1 13 1 43 1 -14 1 2 1 16 1 -38 1 77 1 -33 1 10 1 -42 1 -9 1 53 1 -5 1 12 1 -10 1 13 1 9 1 -62 1 32 1 -55 1 -23 1 74 1 -21 1 -4 1 75 1 -11 1 -99 1 138 1 -184 1 60 1 28 1 -19 1 -2 1 68 1 21 1 -48 1 -27 1 15 1 20 1 12 1 3 1 -32 1 48 1 -59 1 34 1 -23 1 45 1 -43 1 -25 1 39 1 15 1 -74 1 72 1 40 1 -158 1 114 1 -7 1 -89 1 16 1 16 1 23 1 -12 1 -16 1 56 1 -16 1 11 1 17 1 -24 1 -43 1 61 1 -9 1 4 1 10 1 -18 1 88 1 -38 1 -84 1 69 1 -41 1 9 1 -25 1 -20 1 52 1 6 1 -43 1 -1 1 31 1 -50 1 18 1 -23 1 58 1 -43 1 -31 1 5 1 -19 1 96 1 -24 1 -35 1 -59 1 29 1 41 1 -18 1 -20 1 44 1 18 1 -43 1 -35 1 43 1 19 1 -83 1 76 1 49 1 -97 1 -27 1 109 1 -151 1 62 1 80 1 -8 1 -2 1 -83 1 109 1 -15 1 57 1 -109 1 -34 1 45 1 -37 1 77 1 -67 1 -13 1 -3 1 21 1 -15 1 20 1 -139 1 125 1 -56 1 81 1 50 1 -68 1 -21 1 29 1 29 1 -34 1 17 1 -18 1 -106 1 99 1 -52 1 36 1 -46 1 -34 1 -34 1 100 1 -8 1 53 1 -6 1 21 1 -41 1 5 1 -26 1 -7 1 24 1 -24 1 37 1 15 1 41 1 -74 1 39 1 -34 1 24 1 -9 1 -11 1 -39 1 49 1 -23 1 -25 1 90 1 -9 1 17 1 -57 1 45 1 -93 1 121 1 -81 1 -3 1 -18 1 56 1 38 1 -53 1 -2 1 14 1 -38 1 -25 1 54 1 -26 1 -4 1 141 1 -46 1 -69 1 -65 1 94 1 -52 1 40 1 -2 1 4 1 -31 1 21 1 20 1 9 1 3 1 39 1 -120 1 29 1 25 1 -72 1 82 1 -27 1 -24 1 76 1 -40 1 -26 1 -45 1 60 1 27 1 38 1 -100 1 29 1 16 1 -53 1 135 1 -81 1 53 1 0 1 -130 1 124 1 -57 1 -17 1 28 1 -71 1 143 1 -13 1 -132 1 79 1 13 1 -60 1 91 1 -160 1 83 1 -102 1 76 1 82 1 -39 1 -43 1 7 1 -55 1 79 1 48 1 27 1 -76 1 15 1 -65 1 30 1 64 1 -1 1 -25 1 0 1 -50 1 -19 1 128 1 -70 1 15 1 -39 1 -12 1 32 1 10 1 1 1 3 1 -46 1 -7 1 43 1 -15 1 -17 1 61 1 -36 1 15 1 -70 1 103 1 -8 1 -70 1 -45 1 92 1 4 1 41 1 -83 1 21 1 -3 1 38 1 -64 1 9 1 -70 1 91 1 31 1 -78 1 -64 1 129 1 -66 1 74 1 -10 1 25 1 -88 1 39 1 -23 1 -40 1 170 1 -22 1 -56 1 -6 1 -11 1 -76 1 59 1 19 1 14 1 35 1 3 1 -84 1 71 1 -50 1 -43 1 35 1 51 1 -87 1 53 1 61 1 -41 1 -42 1 93 1 -63 1 -6 1 27 1 -56 1 15 1 43 1 -29 1 -45 1 70 1 -61 1 48 1 -26 1 25 1 8 1 -67 1 98 1 24 1 -19 1 -91 1 104 1 -76 1 -12 1 53 1 -5 1 -11 1 52 1 -64 1 42 1 -35 1 -49 1 55 1 -29 1 -37 1 66 1 -42 1 32 1 7 1 17 1 -70 1 99 1 -95 1 77 1 -71 1 17 1 30 1 25 1 -81 1 53 1 32 1 -13 1 49 1 -64 1 25 1 -4 1 -73 1 59 1 -23 1 -15 1 -14 1 -32 1 -3 1 43 1 37 1 44 1 -28 1 26 1 16 1 -16 1 -10 1 -110 1 62 1 21 1 -16 1 76 1 -39 1 -50 1 14 1 58 1 -90 1 -10 1 20 1 26 1 2 1 11 1 -40 1 121 1 -41 1 -5 1 -39 1 56 1 -27 1 -7 1 -49 1 -1 1 8 1 57 1 -48 1 5 1 39 1 -13 1 -125 1 108 1 -43 1 21 1 68 1 -28 1 -11 1 7 1 -18 1 -134 1 195 1 -5 1 -119 1 92 1 -43 1 124 1 -133 1 15 1 -25 1 42 1 -25 1 -66 1 144 1 -43 1 17 1 -52 1 25 1 2 1 39 1 -45 1 14 1 -39 1 121 1 -100 1 -2 1 2 1 -33 1 27 1 37 1 -31 1 62 1 -66 1 -84 1 108 1 -16 1 -75 1 81 1 -75 1 56 1 49 1 -63 1 73 1 -36 1 1 1 -76 1 79 1 40 1 -6 1 -102 1 43 1 3 1 -35 1 33 1 32 1 -2 1 -36 1 51 1 -69 1 5 1 96 1 -103 1 0 1 56 1 9 1 -1 1 -38 1 -33 1 48 1 -7 1 12 1 -10 1 -15 1 31 1 -16 1 -14 1 98 1 -19 1 -56 1 -57 1 -54 1 89 1 -28 1 8 1 -1 1 -4 1 50 1 -35 1 2 1 26 1 -19 1 69 1 -44 1 -77 1 -8 1 85 1 -38 1 -17 1 29 1 77 1 -114 1 61 1 -16 1 46 1 -12 1 -63 1 89 1 -9 1 -29 1 -18 1 -35 1 -3 1 7 1 58 1 -2 1 -7 1 -22 1 -23 1 47 1 -36 1 53 1 -77 1 0 1 85 1 15 1 -75 1 -8 1 15 1 -32 1 31 1 -16 1 49 1 -53 1 51 1 -16 1 -55 1 94 1 -57 1 37 1 -51 1 1 1 53 1 -69 1 60 1 -42 1 51 1 -51 1 45 1 4 1 -20 1 -37 1 66 1 -94 1 81 1 -59 1 80 1 -24 1 -51 1 5 1 38 1 24 1 20 1 -11 1 12 1 -159 1 -2 1 93 1 89 1 -101 1 5 1 41 1 -47 1 48 1 -51 1 85 1 -50 1 -9 1 24 1 -42 1 12 1 40 1 -41 1 2 1 -30 1 -9 1 64 1 -7 1 14 1 -11 1 16 1 -18 1 -14 1 51 1 -6 1 -11 1 -32 1 84 1 -162 1 129 1 -68 1 -5 1 -47 1 63 1 30 1 -34 1 48 1 -96 1 74 1 -45 1 65 1 13 1 -78 1 31 1 -12 1 31 1 -89 1 17 1 14 1 15 1 63 1 -35 1 12 1 18 1 -91 1 52 1 -15 1 27 1 22 1 -55 1 50 1 -78 1 26 1 45 1 29 1 -64 1 51 1 22 1 -72 1 17 1 -21 1 -29 1 23 1 -18 1 58 1 -67 1 -3 1 101 1 -37 1 -35 1 -22 1 -5 1 5 1 26 1 -40 1 70 1 -54 1 4 1 -47 1 84 1 -16 1 22 1 -1 1 -21 1 -76 1 34 1 -31 1 32 1 72 1 -35 1 -49 1 47 1 -50 1 41 1 -33 1 -30 1 42 1 -34 1 6 1 42 1 72 1 6 1 -39 1 -74 1 65 1 -72 1 103 1 -15 1 39 1 -69 1 -16 1 -47 1 -43 1 170 1 -75 1 19 1 19 1 -19 1 -7 1 52 1 -31 1 -51 1 73 1 -38 1 13 1 -86 1 97 1 43 1 -93 1 -34 1 25 1 74 1 -24 1 -28 1 30 1 -5 1 9 1 -25 1 10 1 37 1 38 1 -95 1 -19 1 13 1 48 1 -5 1 -50 1 8 1 78 1 -45 1 -51 1 24 1 1 1 36 1 -30 1 71 1 -52 1 68 1 -50 1 -40 1 -86 1 52 1 33 1 6 1 25 1 -73 1 37 1 55 1 -57 1 23 1 -14 1 -29 1 61 1 -46 1 58 1 63 1 -62 1 -28 1 -64 1 41 1 -32 1 61 1 4 1 -26 1 -17 1 60 1 5 1 -67 1 17 1 -62 1 94 1 -18 1 9 1 0 1 -13 1 29 1 -31 1 -45 1 -26 1 95 1 -4 1 0 1 -8 1 47 1 -57 1 -48 1 65 1 1 1 41 1 -7 1 -19 1 8 1 65 1 -61 1 14 1 -54 1 119 1 -129 1 33 1 5 1 6 1 6 1 -1 1 28 1 -4 1 -13 1 -24 1 12 1 -29 1 -6 1 19 1 38 1 -60 1 73 1 -79 1 14 1 -26 1 25 1 5 1 60 1 53 1 -118 1 5 1 53 1 -80 1 81 1 -30 1 -21 1 68 1 -61 1 -50 1 106 1 25 1 -10 1 -45 1 -54 1 30 1 -27 1 20 1 -77 1 173 1 -122 1 1 1 3 1 24 1 11 1 -2 1 61 1 -97 1 35 1 -3 1 43 1 -52 1 -96 1 60 1 38 1 43 1 -77 1 28 1 -53 1 63 1 -28 1 94 1 -71 1 -5 1 -12 1 -13 1 106 1 -101 1 -9 1 16 1 -13 1 -20 1 74 1 -8 1 1 1 -81 1 123 1 -40 1 -1 1 17 1 -70 1 27 1 72 1 -137 1 58 1 14 1 1 1 63 1 -87 1 -34 1 -30 1 89 1 51 1 -1 1 -77 1 8 1 14 1 -66 1 91 1 -35 1 -6 1 -2 1 -52 1 23 1 19 1 5 1 -18 1 79 1 7 1 -74 1 -11 1 92 1 -101 1 72 1 20 1 -130 1 24 1 -60 1 64 1 29 1 -117 1 131 1 -10 1 25 1 -53 1 -13 1 28 1 26 1 -69 1 58 1 -14 1 -9 1 28 1 -55 1 112 1 -82 1 29 1 -39 1 65 1 -17 1 -42 1 -13 1 33 1 39 1 17 1 -99 1 45 1 26 1 -63 1 14 1 -5 1 3 1 36 1 -19 1 41 1 -35 1 58 1 -66 1 13 1 -4 1 11 1 -22 1 -2 1 -1 1 -4 1 -2 1 -2 1 -27 1 21 1 24 1 -13 1 52 1 -57 1 -38 1 7 1 13 1 -25 1 91 1 -76 1 133 1 -105 1 46 1 -97 1 22 1 76 1 -24 1 -55 1 58 1 37 1 -18 1 -32 1 -21 1 64 1 -27 1 -42 1 -23 1 38 1 -24 1 72 1 -82 1 -34 1 120 1 -52 1 27 1 14 1 -50 1 43 1 11 1 -10 1 -69 1 63 1 -13 1 -15 1 -28 1 65 1 77 1 -215 1 31 1 39 1 13 1 37 1 89 1 -89 1 14 1 -29 1 -45 1 35 1 -25 1 69 1 95 1 -191 1 69 1 1 1 -29 1 -15 1 48 1 33 1 -53 1 12 1 63 1 -77 1 45 1 -22 1 25 1 -25 1 85 1 -95 1 -24 1 34 1 69 1 -8 1 -88 1 28 1 -11 1 -29 1 51 1 18 1 23 1 -58 1 24 1 3 1 27 1 -52 1 28 1 63 1 -129 1 28 1 70 1 -112 1 14 1 -28 1 70 1 84 1 -62 1 31 1 -37 1 -8 1 60 1 -45 1 8 1 -50 1 92 1 -159 1 146 1 -45 1 -12 1 -36 1 47 1 -86 1 35 1 20 1 -30 1 105 1 -68 1 16 1 24 1 -1 1 -50 1 39 1 -10 1 -38 1 6 1 -33 1 77 1 -36 1 28 1 -16 1 28 1 -23 1 21 1 13 1 -42 1 38 1 13 1 43 1 -142 1 -15 1 8 1 3 1 61 1 -38 1 38 1 21 1 57 1 -58 1 -146 1 121 1 10 1 -59 1 48 1 -67 1 110 1 12 1 -113 1 6 1 72 1 -58 1 -33 1 37 1 -49 1 75 1 -37 1 5 1 54 1 20 1 -24 1 -112 1 -8 1 68 1 112 1 -102 1 33 1 13 1 -114 1 34 1 165 1 6 1 -91 1 -10 1 -79 1 80 1 23 1 8 1 -46 1 45 1 27 1 -25 1 32 1 -39 1 -85 1 28 1 16 1 52 1 -48 1 71 1 -14 1 15 1 -46 1 8 1 17 1 26 1 -158 1 56 1 20 1 35 1 5 1 1 1 -76 1 50 1 3 1 -15 1 -48 1 91 1 -26 1 27 1 -74 1 18 1 27 1 15 1 -76 1 -32 1 79 1 -4 1 11 1 -40 1 28 1 -2 1 -41 1 37 1 38 1 -27 1 21 1 -42 1 43 1 0 1 31 1 -136 1 159 1 -30 1 -5 1 -37 1 -19 1 50 1 7 1 -45 1 112 1 -112 1 -27 1 -21 1 18 1 1 1 88 1 -30 1 -10 1 25 1 -74 1 7 1 80 1 -30 1 -33 1 -78 1 135 1 -6 1 -61 1 56 1 -36 1 -58 1 59 1 59 1 -81 1 55 1 -32 1 -27 1 79 1 -74 1 4 1 24 1 -70 1 35 1 -6 1 16 1 2 1 94 1 -79 1 68 1 -137 1 88 1 -44 1 81 1 -15 1 -66 1 65 1 -71 1 -61 1 142 1 -51 1 -20 1 75 1 -49 1 -67 1 117 1 -31 1 37 1 -95 1 70 1 13 1 -31 1 7 1 -102 1 190 1 -191 1 92 1 1 1 -36 1 -11 1 47 1 24 1 -17 1 14 1 -16 1 24 1 -19 1 -19 1 43 1 -25 1 -18 1 9 1 27 1 7 1 -76 1 29 1 -5 1 -59 1 137 1 -111 1 -7 1 3 1 75 1 26 1 -99 1 -1 1 -3 1 26 1 -7 1 -7 1 -50 1 113 1 -70 1 81 1 -49 1 5 1 -52 1 33 1 -1 1 75 1 -160 1 150 1 -27 1 -11 1 2 1 20 1 27 1 11 1 56 1 -121 1 43 1 -20 1 6 1 11 1 11 1 -49 1 -44 1 63 1 37 1 27 1 -13 1 -24 1 57 1 -14 1 -25 1 -62 1 19 1 32 1 -45 1 6 1 5 1 12 1 37 1 -50 1 -17 1 -29 1 58 1 6 1 -63 1 58 1 -29 1 -49 1 115 1 -18 1 -81 1 -19 1 91 1 -72 1 52 1 -49 1 12 1 14 1 -21 1 -47 1 51 1 13 1 108 1 -155 1 148 1 2 1 -10 1 -65 1 -13 1 -34 1 33 1 92 1 -92 1 -6 1 54 1 -80 1 87 1 -57 1 62 1 -47 1 -55 1 20 1 38 1 -43 1 84 1 -117 1 47 1 50 1 26 1 -55 1 5 1 49 1 -47 1 -43 1 45 1 -23 1 68 1 -42 1 -60 1 1 1 69 1 26 1 -15 1 30 1 -19 1 -36 1 50 1 -96 1 59 1 39 1 -39 1 -1 1 25 1 -10 1 10 1 48 1 -81 1 19 1 14 1 14 1 -57 1 84 1 -6 1 -17 1 -45 1 -16 1 -82 1 111 1 -7 1 11 1 32 1 -126 1 24 1 79 1 2 1 -74 1 22 1 102 1 -101 1 -27 1 101 1 -72 1 -22 1 23 1 25 1 16 1 12 1 -80 1 32 1 0 1 47 1 -67 1 36 1 34 1 1 1 38 1 -42 1 -22 1 -40 1 13 1 -115 1 99 1 68 1 0 1 -36 1 30 1 -89 1 23 1 22 1 -17 1 -82 1 109 1 -5 1 -5 1 -10 1 -17 1 87 1 -69 1 26 1 -2 1 8 1 -40 1 -12 1 36 1 16 1 -27 1 15 1 -24 1 7 1 -3 1 -36 1 39 1 -38 1 35 1 -22 1 25 1 -33 1 -23 1 67 1 -12 1 -39 1 68 1 -44 1 -33 1 -52 1 91 1 -124 1 56 1 162 1 -61 1 -12 1 21 1 -64 1 86 1 -92 1 13 1 11 1 43 1 -34 1 -4 1 -16 1 60 1 -20 1 -63 1 82 1 -27 1 25 1 -72 1 41 1 -44 1 12 1 35 1 34 1 -123 1 93 1 31 1 -34 1 64 1 4 1 -34 1 -35 1 82 1 -74 1 -43 1 57 1 -108 1 109 1 -73 1 57 1 28 1 11 1 -16 1 -29 1 114 1 -32 1 -147 1 107 1 -54 1 78 1 -43 1 -6 1 -7 1 47 1 -15 1 41 1 -33 1 -45 1 86 1 -78 1 -107 1 100 1 -19 1 -7 1 9 1 73 1 -12 1 -69 1 30 1 53 1 -14 1 -81 1 17 1 57 1 -26 1 67 1 -22 1 -90 1 62 1 -23 1 50 1 -74 1 26 1 -16 1 35 1 -17 1 5 1 -55 1 71 1 -54 1 52 1 -6 1 -32 1 74 1 -32 1 24 1 -43 1 -46 1 19 1 35 1 -78 1 89 1 -26 1 26 1 -25 1 21 1 47 1 -89 1 14 1 -100 1 96 1 19 1 -55 1 71 1 -78 1 39 1 48 1 -73 1 91 1 20 1 -121 1 24 1 -14 1 31 1 10 1 0 1 92 1 -100 1 -63 1 33 1 -26 1 -13 1 30 1 52 1 17 1 60 1 -145 1 43 1 -44 1 -47 1 73 1 -10 1 37 1 -14 1 -72 1 33 1 47 1 -2 1 21 1 27 1 -85 1 34 1 38 1 10 1 -52 1 -38 1 113 1 -66 1 7 1 45 1 -100 1 59 1 46 1 -124 1 68 1 -23 1 9 1 27 1 18 1 -21 1 -48 1 23 1 30 1 15 1 -34 1 -42 1 76 1 10 1 -77 1 39 1 65 1 -146 1 33 1 110 1 -53 1 -53 1 -27 1 75 1 -52 1 63 1 63 1 -97 1 57 1 -31 1 -25 1 15 1 20 1 7 1 -120 1 35 1 4 1 91 1 -99 1 65 1 -5 1 26 1 -69 1 32 1 -36 1 4 1 45 1 -68 1 45 1 9 1 -21 1 41 1 -89 1 98 1 -85 1 40 1 -28 1 91 1 -115 1 50 1 23 1 -54 1 43 1 41 1 -37 1 -22 1 -10 1 -22 1 -5 1 5 1 39 1 12 1 14 1 38 1 -76 1 1 1 19 1 -28 1 34 1 14 1 49 1 -51 1 -20 1 -12 1 28 1 10 1 2 1 -30 1 34 1 -7 1 12 1 -18 1 8 1 -9 1 -86 1 75 1 79 1 -71" fill="none" stroke="#ff7f0e" stroke-width="0.9" vector-effect="non-scaling-stroke" stroke-linejoin="bevel"/>
<rect x="1464.40" y="548.20" width="535.90" height="113.10" fill="none" stroke="#000" stroke-width="1.1"/>
<line x1="1458.70" y1="661.30" x2="1464.40" y2="661.30" stroke="#000" stroke-width="1.1"/>
<text x="1378.99" y="670.41" font-size="24.30" fill="#000">−0.05</text>
<line x1="1458.70" y1="604.75" x2="1464.40" y2="604.75" stroke="#000" stroke-width="1.1"/>
<text x="1398.91" y="613.86" font-size="24.30" fill="#000">0.00</text>
<line x1="1458.70" y1="548.20" x2="1464.40" y2="548.20" stroke="#000" stroke-width="1.1"/>
<text x="1399.40" y="557.31" font-size="24.30" fill="#000">0.05</text>
<line x1="1488.50" y1="661.30" x2="1488.50" y2="666.90" stroke="#000" stroke-width="1.1"/>
<line x1="1610.42" y1="661.30" x2="1610.42" y2="666.90" stroke="#000" stroke-width="1.1"/>
<line x1="1732.35" y1="661.30" x2="1732.35" y2="666.90" stroke="#000" stroke-width="1.1"/>
<line x1="1854.28" y1="661.30" x2="1854.28" y2="666.90" stroke="#000" stroke-width="1.1"/>
<line x1="1976.20" y1="661.30" x2="1976.20" y2="666.90" stroke="#000" stroke-width="1.1"/>
<rect x="1464.40" y="693.30" width="535.90" height="113.00" fill="none" stroke="#000" stroke-width="1.1"/>
<line x1="1458.70" y1="806.30" x2="1464.40" y2="806.30" stroke="#000" stroke-width="1.1"/>
<text x="1378.99" y="815.41" font-size="24.30" fill="#000">−0.05</text>
<line x1="1458.70" y1="749.80" x2="1464.40" y2="749.80" stroke="#000" stroke-width="1.1"/>
<text x="1398.91" y="758.91" font-size="24.30" fill="#000">0.00</text>
<line x1="1458.70" y1="693.30" x2="1464.40" y2="693.30" stroke="#000" stroke-width="1.1"/>
<text x="1399.40" y="702.41" font-size="24.30" fill="#000">0.05</text>
<line x1="1488.50" y1="806.30" x2="1488.50" y2="811.90" stroke="#000" stroke-width="1.1"/>
<line x1="1976.20" y1="806.30" x2="1976.20" y2="811.90" stroke="#000" stroke-width="1.1"/>
<rect x="1464.40" y="838.80" width="535.90" height="112.80" fill="none" stroke="#000" stroke-width="1.1"/>
<line x1="1458.70" y1="951.60" x2="1464.40" y2="951.60" stroke="#000" stroke-width="1.1"/>
<text x="1378.99" y="960.71" font-size="24.30" fill="#000">−0.05</text>
<line x1="1458.70" y1="895.20" x2="1464.40" y2="895.20" stroke="#000" stroke-width="1.1"/>
<text x="1398.91" y="904.31" font-size="24.30" fill="#000">0.00</text>
<line x1="1458.70" y1="838.80" x2="1464.40" y2="838.80" stroke="#000" stroke-width="1.1"/>
<text x="1399.40" y="847.91" font-size="24.30" fill="#000">0.05</text>
<line x1="1488.50" y1="951.60" x2="1488.50" y2="957.20" stroke="#000" stroke-width="1.1"/>
<text x="1472.95" y="982.68" font-size="24.30" fill="#000">20</text>
<line x1="1610.42" y1="951.60" x2="1610.42" y2="957.20" stroke="#000" stroke-width="1.1"/>
<text x="1595.12" y="982.68" font-size="24.30" fill="#000">25</text>
<line x1="1732.35" y1="951.60" x2="1732.35" y2="957.20" stroke="#000" stroke-width="1.1"/>
<text x="1716.80" y="982.68" font-size="24.30" fill="#000">30</text>
<line x1="1854.28" y1="951.60" x2="1854.28" y2="957.20" stroke="#000" stroke-width="1.1"/>
<text x="1838.97" y="982.68" font-size="24.30" fill="#000">35</text>
<line x1="1976.20" y1="951.60" x2="1976.20" y2="957.20" stroke="#000" stroke-width="1.1"/>
<text x="1960.95" y="982.68" font-size="24.30" fill="#000">40</text>
<text x="1678.90" y="1014.40" font-size="29.0">t<tspan font-style="italic" font-size="20.30" dy="5.80">CG</tspan><tspan dy="-5.80"> [</tspan><tspan font-style="italic">μ</tspan>s]</text>
<text x="0" y="0" font-size="28.8" transform="translate(1366.99,776.62) rotate(-90)">flux</text>
<text x="8.10" y="27.11" font-size="37.60" font-weight="bold" fill="#000">a</text>
<text x="619.89" y="28.33" font-size="37.80" font-weight="bold" fill="#000">b</text>
<text x="1368.09" y="27.22" font-size="37.80" font-weight="bold" fill="#000">c</text>
<line x1="190.70" y1="100.20" x2="209.00" y2="110.40" stroke="#4a4a4a" stroke-width="1.6" stroke-linecap="round"/>
<line x1="209.00" y1="110.40" x2="209.00" y2="131.70" stroke="#4a4a4a" stroke-width="1.6" stroke-linecap="round"/>
<line x1="209.00" y1="131.70" x2="190.70" y2="142.70" stroke="#4a4a4a" stroke-width="1.6" stroke-linecap="round"/>
<line x1="190.70" y1="142.70" x2="172.40" y2="131.70" stroke="#4a4a4a" stroke-width="1.6" stroke-linecap="round"/>
<line x1="172.40" y1="131.70" x2="172.40" y2="110.40" stroke="#4a4a4a" stroke-width="1.6" stroke-linecap="round"/>
<line x1="172.40" y1="110.40" x2="190.70" y2="100.20" stroke="#4a4a4a" stroke-width="1.6" stroke-linecap="round"/>
<line x1="192.40" y1="104.00" x2="205.90" y2="111.90" stroke="#4a4a4a" stroke-width="1.6" stroke-linecap="round"/>
<line x1="175.60" y1="112.80" x2="175.60" y2="129.30" stroke="#4a4a4a" stroke-width="1.6" stroke-linecap="round"/>
<line x1="191.60" y1="139.40" x2="205.90" y2="130.90" stroke="#4a4a4a" stroke-width="1.6" stroke-linecap="round"/>
<line x1="190.70" y1="100.20" x2="190.70" y2="78.20" stroke="#4a4a4a" stroke-width="1.6" stroke-linecap="round"/>
<line x1="191.41" y1="76.88" x2="180.91" y2="71.28" stroke="#4a4a4a" stroke-width="1.6" stroke-linecap="round"/>
<line x1="189.99" y1="79.52" x2="179.49" y2="73.92" stroke="#4a4a4a" stroke-width="1.6" stroke-linecap="round"/>
<line x1="190.70" y1="78.20" x2="201.00" y2="73.20" stroke="#4a4a4a" stroke-width="1.6" stroke-linecap="round"/>
<text x="166.79" y="74.27" font-size="15.0" fill="#4a4a4a" style="font-family:'Liberation Sans',Arial,sans-serif">O</text>
<text x="202.90" y="73.67" font-size="15.0" fill="#4a4a4a" style="font-family:'Liberation Sans',Arial,sans-serif">N</text>
<text x="221.20" y="83.97" font-size="15.0" fill="#4a4a4a" style="font-family:'Liberation Sans',Arial,sans-serif">H</text>
<text x="202.64" y="53.17" font-size="15.0" fill="#4a4a4a" style="font-family:'Liberation Sans',Arial,sans-serif">R</text>
<line x1="214.00" y1="72.80" x2="218.20" y2="74.50" stroke="#4a4a4a" stroke-width="1.4" stroke-linecap="round"/>
<line x1="208.30" y1="57.20" x2="208.30" y2="60.80" stroke="#4a4a4a" stroke-width="1.4" stroke-linecap="round"/>
<line x1="172.40" y1="131.70" x2="154.80" y2="142.70" stroke="#4a4a4a" stroke-width="1.6" stroke-linecap="round"/>
<line x1="153.30" y1="142.70" x2="153.30" y2="155.00" stroke="#4a4a4a" stroke-width="1.6" stroke-linecap="round"/>
<line x1="156.30" y1="142.70" x2="156.30" y2="155.00" stroke="#4a4a4a" stroke-width="1.6" stroke-linecap="round"/>
<line x1="154.80" y1="142.70" x2="143.90" y2="136.30" stroke="#4a4a4a" stroke-width="1.6" stroke-linecap="round"/>
<text x="148.49" y="166.68" font-size="15.0" fill="#4a4a4a" style="font-family:'Liberation Sans',Arial,sans-serif">O</text>
<text x="131.20" y="135.88" font-size="15.0" fill="#4a4a4a" style="font-family:'Liberation Sans',Arial,sans-serif">N</text>
<text x="130.50" y="115.57" font-size="15.0" fill="#4a4a4a" style="font-family:'Liberation Sans',Arial,sans-serif">H</text>
<text x="111.84" y="146.88" font-size="15.0" fill="#4a4a4a" style="font-family:'Liberation Sans',Arial,sans-serif">R</text>
<line x1="135.90" y1="119.40" x2="135.90" y2="123.40" stroke="#4a4a4a" stroke-width="1.4" stroke-linecap="round"/>
<line x1="127.60" y1="136.90" x2="124.20" y2="138.30" stroke="#4a4a4a" stroke-width="1.4" stroke-linecap="round"/>
<line x1="209.00" y1="131.70" x2="226.60" y2="142.70" stroke="#4a4a4a" stroke-width="1.6" stroke-linecap="round"/>
<line x1="227.37" y1="143.99" x2="238.07" y2="137.59" stroke="#4a4a4a" stroke-width="1.6" stroke-linecap="round"/>
<line x1="225.83" y1="141.41" x2="236.53" y2="135.01" stroke="#4a4a4a" stroke-width="1.6" stroke-linecap="round"/>
<line x1="226.60" y1="142.70" x2="226.60" y2="156.30" stroke="#4a4a4a" stroke-width="1.6" stroke-linecap="round"/>
<text x="238.49" y="136.58" font-size="15.0" fill="#4a4a4a" style="font-family:'Liberation Sans',Arial,sans-serif">O</text>
<text x="221.20" y="166.68" font-size="15.0" fill="#4a4a4a" style="font-family:'Liberation Sans',Arial,sans-serif">N</text>
<text x="203.00" y="177.68" font-size="15.0" fill="#4a4a4a" style="font-family:'Liberation Sans',Arial,sans-serif">H</text>
<text x="238.64" y="178.47" font-size="15.0" fill="#4a4a4a" style="font-family:'Liberation Sans',Arial,sans-serif">R</text>
<line x1="218.30" y1="167.60" x2="214.90" y2="169.00" stroke="#4a4a4a" stroke-width="1.4" stroke-linecap="round"/>
<line x1="233.90" y1="167.60" x2="237.40" y2="169.00" stroke="#4a4a4a" stroke-width="1.4" stroke-linecap="round"/>
<text x="355.44" y="132.96" font-size="24.60" fill="#000">R=</text>
<text x="388.57" y="111.65" font-size="18.85" fill="#000">SOLVOPHILIC CHAIN</text>
<path d="M400.3,129.0C403.8,127.6 414.7,121.0 421.3,120.6C427.9,120.2 433.7,126.7 440.2,126.8C446.7,126.9 453.5,121.2 460.2,121.3C466.9,121.4 473.6,127.3 480.1,127.4C486.6,127.5 492.9,121.9 499.0,121.8C505.1,121.7 510.6,126.9 516.9,126.8C523.2,126.7 530.0,120.8 536.8,121.2C543.6,121.6 554.3,127.7 557.8,129.0" fill="none" stroke="#5a5a5a" stroke-width="6.2"/>
<defs><radialGradient id="bead" cx="0.45" cy="0.45" r="0.6"><stop offset="0" stop-color="#aaaaaa" stop-opacity="0.42"/><stop offset="0.8" stop-color="#969696" stop-opacity="0.5"/><stop offset="1" stop-color="#888" stop-opacity="0.55"/></radialGradient><linearGradient id="stk" x1="0" y1="0" x2="1" y2="1"><stop offset="0" stop-color="#5a5a5a"/><stop offset="1" stop-color="#3c3c3c"/></linearGradient></defs>
<circle cx="182.8" cy="211.9" r="15.6" fill="url(#bead)"/>
<circle cx="196.6" cy="240.0" r="15.6" fill="url(#bead)"/>
<circle cx="194.2" cy="267.3" r="15.6" fill="url(#bead)"/>
<circle cx="193.8" cy="295.0" r="15.6" fill="url(#bead)"/>
<circle cx="190.3" cy="320.5" r="15.6" fill="url(#bead)"/>
<circle cx="170.4" cy="339.0" r="15.6" fill="url(#bead)"/>
<circle cx="144.0" cy="347.8" r="15.6" fill="url(#bead)"/>
<circle cx="122.5" cy="366.9" r="15.6" fill="url(#bead)"/>
<circle cx="101.0" cy="382.5" r="15.6" fill="url(#bead)"/>
<circle cx="80.0" cy="402.0" r="15.6" fill="url(#bead)"/>
<circle cx="197.6" cy="344.6" r="15.6" fill="url(#bead)"/>
<circle cx="216.4" cy="362.2" r="15.6" fill="url(#bead)"/>
<circle cx="243.3" cy="375.1" r="15.6" fill="url(#bead)"/>
<circle cx="262.0" cy="389.2" r="15.6" fill="url(#bead)"/>
<circle cx="291.3" cy="402.0" r="15.6" fill="url(#bead)"/>
<polyline points="182.0,211.1 198.4,240.0 196.1,268.1 193.8,297.8 189.8,319.7 186.0,334.0" fill="none" stroke="#4a4a4a" stroke-width="7.4" stroke-linecap="round" stroke-linejoin="round"/>
<polyline points="182.0,211.1 198.4,240.0 196.1,268.1 193.8,297.8 189.8,319.7 186.0,334.0" fill="none" stroke="#5c5c5c" stroke-width="2.6" stroke-linecap="round" stroke-linejoin="round" opacity="0.6"/>
<polyline points="79.5,402.0 101.0,381.5 122.5,365.0 144.0,346.4 172.3,337.6 186.0,334.0" fill="none" stroke="#4a4a4a" stroke-width="7.4" stroke-linecap="round" stroke-linejoin="round"/>
<polyline points="79.5,402.0 101.0,381.5 122.5,365.0 144.0,346.4 172.3,337.6 186.0,334.0" fill="none" stroke="#5c5c5c" stroke-width="2.6" stroke-linecap="round" stroke-linejoin="round" opacity="0.6"/>
<polyline points="292.5,402.0 262.0,390.3 244.5,375.1 214.0,361.0 190.6,337.6 186.0,334.0" fill="none" stroke="#4a4a4a" stroke-width="7.4" stroke-linecap="round" stroke-linejoin="round"/>
<polyline points="292.5,402.0 262.0,390.3 244.5,375.1 214.0,361.0 190.6,337.6 186.0,334.0" fill="none" stroke="#5c5c5c" stroke-width="2.6" stroke-linecap="round" stroke-linejoin="round" opacity="0.6"/>
<path d="M188.6,320.5 L172.6,337.4 L199.6,345.4 Z" fill="#4a4a4a" stroke="#4a4a4a" stroke-width="3" stroke-linejoin="round"/>
<circle cx="185.9" cy="335.3" r="7.8" fill="#ee1010"/><circle cx="190.9" cy="337.3" r="6" fill="#f5f01a"/>
<polyline points="386.7,251.1 408.7,256.4 415.7,286.2 419.2,323.1 421.0,332.0 405.1,349.5 399.9,381.1" fill="none" stroke="#3e3e3e" stroke-width="14.8" stroke-linecap="round" stroke-linejoin="round"/>
<polyline points="386.7,251.1 408.7,256.4 415.7,286.2 419.2,323.1 421.0,332.0 405.1,349.5 399.9,381.1" fill="none" stroke="#4c4c4c" stroke-width="6.66" stroke-linecap="round" stroke-linejoin="round" opacity="0.7"/>
<circle cx="385" cy="250.5" r="10" fill="#4a4a4a"/><circle cx="388" cy="246" r="8" fill="#555"/>
<circle cx="414.5" cy="311.5" r="6.5" fill="#f2ee10"/>
<circle cx="437" cy="301.5" r="6.8" fill="#f5f01a"/>
<polyline points="413.9,289.8 443.8,324.9 471.9,328.4 482.5,353.0 473.7,384.7" fill="none" stroke="#4e4e4e" stroke-width="14.8" stroke-linecap="round" stroke-linejoin="round"/>
<polyline points="413.9,289.8 443.8,324.9 471.9,328.4 482.5,353.0 473.7,384.7" fill="none" stroke="#5f5f5f" stroke-width="6.66" stroke-linecap="round" stroke-linejoin="round" opacity="0.7"/>
<circle cx="524.8" cy="291.5" r="7.2" fill="#f5f01a"/>
<polyline points="521.0,196.7 501.1,222.5 487.0,250.6 519.8,264.7 532.7,276.4 536.2,288.1 533.9,311.6 526.9,339.7 517.5,370.1 526.9,386.5 499.9,407.6" fill="none" stroke="#4e4e4e" stroke-width="14.8" stroke-linecap="round" stroke-linejoin="round"/>
<polyline points="521.0,196.7 501.1,222.5 487.0,250.6 519.8,264.7 532.7,276.4 536.2,288.1 533.9,311.6 526.9,339.7 517.5,370.1 526.9,386.5 499.9,407.6" fill="none" stroke="#5f5f5f" stroke-width="6.66" stroke-linecap="round" stroke-linejoin="round" opacity="0.7"/>
<polyline points="552.7,262.3 570.0,263.5" fill="none" stroke="#3a3a3a" stroke-width="16" stroke-linecap="round" stroke-linejoin="round"/>
<polyline points="552.7,262.3 570.0,263.5" fill="none" stroke="#444" stroke-width="7.2" stroke-linecap="round" stroke-linejoin="round" opacity="0.7"/>
<polyline points="553.5,263.0 549.1,320.9" fill="none" stroke="#555" stroke-width="16" stroke-linecap="round" stroke-linejoin="round"/>
<polyline points="553.5,263.0 549.1,320.9" fill="none" stroke="#666" stroke-width="7.2" stroke-linecap="round" stroke-linejoin="round" opacity="0.7"/>
<line x1="452.00" y1="298.20" x2="500.00" y2="288.00" stroke="#000" stroke-width="4.2"/>
<path d="M442,300.3 L455.2,289.5 L459.1,308.2 Z" fill="#000"/>
<path d="M510.5,285.8 L494.1,281.1 L496.4,299.8 Z" fill="#000"/>
<defs><g id="stack"><circle cx="828.5" cy="90.8" r="2.9" fill="#e01010"/><ellipse cx="829.0" cy="89.8" rx="3.2" ry="2.0" fill="#f0ec18"/><circle cx="828.0" cy="117.8" r="2.9" fill="#e01010"/><ellipse cx="828.5" cy="116.8" rx="3.2" ry="2.0" fill="#f0ec18"/><circle cx="825.8" cy="140.0" r="2.9" fill="#e01010"/><ellipse cx="826.3" cy="139.0" rx="3.2" ry="2.0" fill="#f0ec18"/><circle cx="822.1" cy="166.2" r="2.9" fill="#e01010"/><ellipse cx="822.6" cy="165.2" rx="3.2" ry="2.0" fill="#f0ec18"/><circle cx="818.1" cy="185.3" r="2.9" fill="#e01010"/><ellipse cx="818.6" cy="184.3" rx="3.2" ry="2.0" fill="#f0ec18"/><circle cx="814.0" cy="206.6" r="2.9" fill="#e01010"/><ellipse cx="814.5" cy="205.6" rx="3.2" ry="2.0" fill="#f0ec18"/><circle cx="807.0" cy="233.7" r="2.9" fill="#e01010"/><ellipse cx="807.5" cy="232.7" rx="3.2" ry="2.0" fill="#f0ec18"/><circle cx="794.4" cy="248.4" r="2.9" fill="#e01010"/><ellipse cx="794.9" cy="247.4" rx="3.2" ry="2.0" fill="#f0ec18"/><circle cx="779.9" cy="262.3" r="2.9" fill="#e01010"/><ellipse cx="780.4" cy="261.3" rx="3.2" ry="2.0" fill="#f0ec18"/><circle cx="761.4" cy="276.2" r="2.9" fill="#e01010"/><ellipse cx="761.9" cy="275.2" rx="3.2" ry="2.0" fill="#f0ec18"/><circle cx="740.3" cy="296.8" r="2.9" fill="#e01010"/><ellipse cx="740.8" cy="295.8" rx="3.2" ry="2.0" fill="#f0ec18"/><circle cx="727.2" cy="313.9" r="2.9" fill="#e01010"/><ellipse cx="727.7" cy="312.9" rx="3.2" ry="2.0" fill="#f0ec18"/><circle cx="722.6" cy="331.8" r="2.9" fill="#e01010"/><ellipse cx="723.1" cy="330.8" rx="3.2" ry="2.0" fill="#f0ec18"/><circle cx="717.5" cy="356.5" r="2.9" fill="#e01010"/><ellipse cx="718.0" cy="355.5" rx="3.2" ry="2.0" fill="#f0ec18"/><circle cx="704.1" cy="378.5" r="2.9" fill="#e01010"/><ellipse cx="704.6" cy="377.5" rx="3.2" ry="2.0" fill="#f0ec18"/><circle cx="693.8" cy="400.5" r="2.9" fill="#e01010"/><ellipse cx="694.3" cy="399.5" rx="3.2" ry="2.0" fill="#f0ec18"/><path d="M828.2 85.9L838.1 78.3 838.0 73.8 858.9 67.2M828.2 85.9L816.5 87.8 806.4 94.4 788.1 101.5M828.2 85.9L832.3 99.2 845.7 100.2 850.6 110.3M828.4 90.3L838.4 96.5 857.7 93.0 868.1 101.4M828.4 90.3L831.5 80.4 819.0 76.6 814.2 69.4M828.4 90.3L811.3 98.0 803.0 101.5 796.2 104.1M828.8 104.0L814.0 108.4 807.6 116.2 791.1 127.1M828.8 104.0L843.3 111.7 858.3 108.7 868.4 113.2M828.8 104.0L833.8 95.4 825.9 87.4 832.5 78.8M828.4 116.9L842.2 117.8 850.7 109.6 866.3 112.1M828.4 116.9L823.6 106.9 804.7 107.1 793.2 99.8M828.4 116.9L820.3 123.6 821.8 136.1 812.6 139.6M827.2 128.5L839.8 133.3 847.3 129.2 862.8 137.7 873.3 135.9M827.2 128.5L824.2 121.4 811.3 119.5 803.3 106.7M827.2 128.5L812.5 129.7 810.0 138.9 796.6 145.4M825.9 140.5L831.9 132.9 828.8 122.5 836.2 120.1 835.5 111.5M825.9 140.5L812.9 139.2 802.4 141.9 786.4 141.7 769.5 143.2M825.9 140.5L835.8 151.2 848.3 154.2 858.1 163.9M824.8 146.9L810.2 140.3 794.1 137.6 784.0 133.1M824.8 146.9L819.2 156.1 826.0 165.2 821.1 170.9M824.8 146.9L837.1 143.9 838.1 134.2 849.4 130.3M821.7 165.1L828.8 158.0 824.4 148.5 828.0 140.6 820.0 134.7M821.7 165.1L805.3 160.0 793.7 161.3 780.3 161.9 771.3 166.3M821.7 165.1L827.1 175.2 842.3 181.9 849.0 189.4M820.0 175.1L818.1 181.8 824.5 192.2 819.6 199.5M820.0 175.1L831.8 174.3 838.2 168.3 851.5 165.0 856.6 157.0M820.0 175.1L812.5 167.6 798.4 161.8 793.8 154.7M818.1 186.5L833.7 184.1 834.6 179.1 839.4 171.1 836.2 162.1M818.1 186.5L806.4 179.5 793.3 177.6 779.1 168.1 762.3 167.2M818.1 186.5L817.7 199.7 831.5 202.1 836.4 212.6 844.6 216.0M816.4 196.7L817.5 205.6 827.8 214.3 824.2 222.3 830.3 229.5M816.4 196.7L826.3 190.4 832.7 182.1 845.4 179.5 851.3 172.1M816.4 196.7L803.8 190.5 792.9 194.9 777.5 193.1M814.6 206.5L830.4 215.1 840.8 214.6 856.7 220.7M814.6 206.5L811.6 197.1 800.7 190.1 796.2 177.0 783.4 173.4M814.6 206.5L803.6 211.7 804.5 224.4 801.2 227.8M810.3 221.1L801.8 214.1 789.6 208.1 786.7 196.7M810.3 221.1L807.7 228.1 812.9 235.8 810.6 244.3 821.8 253.3M810.3 221.1L821.0 222.6 836.2 220.9 852.3 225.1M807.2 232.0L793.2 229.7 783.5 239.6 772.4 239.0 770.3 246.1M807.2 232.0L819.1 241.5 834.3 240.7 844.9 246.1 860.8 246.3M807.2 232.0L812.0 226.0 800.5 213.4 798.5 204.2M802.6 240.1L812.4 238.4 811.1 227.9 820.9 225.8M802.6 240.1L790.9 227.9 777.1 225.5 762.9 215.2 754.3 214.7M802.6 240.1L799.2 252.1 813.2 265.7 810.2 272.7 824.2 286.7M795.0 249.0L786.5 249.3 789.9 264.3 781.7 264.9M795.0 249.0L808.5 257.7 821.0 261.4 831.7 272.2 847.1 276.2M795.0 249.0L795.0 240.5 785.7 225.8 786.7 218.7M784.5 258.7L778.3 263.2 777.6 275.2 771.7 281.0M784.5 258.7L793.2 268.3 803.7 268.9 814.0 276.6M784.5 258.7L784.2 248.6 773.9 233.3 769.3 219.0M778.1 263.1L775.8 275.8 786.5 285.3 788.3 298.5M778.1 263.1L790.1 265.5 787.2 249.3 800.7 248.5 807.7 242.9M778.1 263.1L772.8 252.7 758.0 247.3 749.8 236.3M768.1 269.9L781.4 278.6 792.4 276.2 801.6 284.6 811.7 277.7M768.1 269.9L762.6 257.0 751.8 252.2 746.9 239.8 735.5 231.6M768.1 269.9L758.6 273.3 756.6 284.2 749.8 290.5M760.0 277.0L757.5 265.0 751.7 252.5 755.1 246.4M760.0 277.0L751.3 280.7 748.1 286.0 741.8 289.9M760.0 277.0L772.3 283.7 782.1 280.5 792.4 289.1 799.6 287.5M747.4 289.6L735.1 283.8 723.6 286.5 713.8 279.0 702.8 280.0M747.4 289.6L752.5 300.6 761.7 310.6 768.6 321.5 777.9 328.7M747.4 289.6L754.5 288.6 756.0 279.7 772.1 279.6M741.8 295.9L739.8 284.9 731.7 273.4 727.2 266.3 716.0 253.1M741.8 295.9L730.7 296.1 729.2 305.4 716.4 306.6M741.8 295.9L756.3 305.3 766.6 304.6 780.0 311.2 787.7 306.7M735.7 303.1L722.2 299.1 712.9 304.9 701.1 301.1M735.7 303.1L743.2 315.4 756.9 321.6 762.5 331.4 771.3 336.9M735.7 303.1L743.6 295.3 736.3 282.1 748.9 281.2 748.4 269.1M728.0 315.0L723.1 322.0 726.4 332.6 727.2 341.2 731.5 349.6M728.0 315.0L748.8 317.4 754.6 313.8 771.1 316.3 776.8 309.4M728.0 315.0L721.7 305.5 704.2 293.3 701.3 285.9 686.4 279.2M723.5 326.3L716.7 327.4 716.0 340.7 702.6 344.2M723.5 326.3L735.1 331.4 743.3 327.4 758.6 327.1 772.2 321.6M723.5 326.3L713.4 314.4 695.7 309.5 690.3 299.9M721.6 332.5L720.1 340.9 731.2 350.3 728.5 358.4M721.6 332.5L736.7 329.4 742.6 324.7 756.4 320.6 765.3 315.0M721.6 332.5L709.0 327.8 697.7 327.0 682.2 323.7M719.2 347.4L720.5 336.6 713.3 326.5 716.1 321.2 714.1 313.4M719.2 347.4L704.5 350.6 702.3 360.0 684.3 364.4 693.5 371.5M719.2 347.4L730.2 359.5 741.1 354.6 756.0 360.6 768.3 364.2M717.0 356.8L710.3 347.3 701.2 340.2 690.8 330.8M717.0 356.8L711.3 364.1 713.2 373.1 708.3 377.9M717.0 356.8L729.3 362.5 742.5 361.4 752.5 366.7 766.8 371.5M710.2 368.7L721.5 373.4 735.7 375.1 745.3 386.5 764.2 390.8M710.2 368.7L712.2 358.0 696.6 350.0 693.5 338.0 680.0 332.5M710.2 368.7L700.6 369.8 695.8 380.9 688.3 385.4 689.9 393.4M704.3 379.4L697.6 370.4 688.4 365.4 677.9 359.4 664.8 354.3M704.3 379.4L701.8 385.6 710.5 397.3 707.6 405.4 716.6 420.0M704.3 379.4L715.7 384.9 725.8 376.7 737.9 382.5 745.2 372.5M701.8 384.5L713.0 394.8 733.5 393.4 745.3 401.9 754.1 398.6M701.8 384.5L702.1 374.4 690.8 367.7 688.2 355.2 681.3 347.5M701.8 384.5L689.4 388.0 690.3 396.3 681.4 396.1 682.5 406.1M694.3 399.4L707.2 393.6 701.2 386.0 705.9 380.3 704.5 368.0M694.3 399.4L680.4 392.2 668.3 387.9 657.9 374.4 646.7 371.2M694.3 399.4L694.9 410.5 705.9 417.6 709.7 424.8" fill="none" stroke="#535353" stroke-width="8.4" stroke-linecap="round" stroke-linejoin="round"/><path d="M828.2 85.9L838.1 78.3 838.0 73.8 858.9 67.2M828.2 85.9L816.5 87.8 806.4 94.4 788.1 101.5M828.2 85.9L832.3 99.2 845.7 100.2 850.6 110.3M828.4 90.3L838.4 96.5 857.7 93.0 868.1 101.4M828.4 90.3L831.5 80.4 819.0 76.6 814.2 69.4M828.4 90.3L811.3 98.0 803.0 101.5 796.2 104.1M828.8 104.0L814.0 108.4 807.6 116.2 791.1 127.1M828.8 104.0L843.3 111.7 858.3 108.7 868.4 113.2M828.8 104.0L833.8 95.4 825.9 87.4 832.5 78.8M828.4 116.9L842.2 117.8 850.7 109.6 866.3 112.1M828.4 116.9L823.6 106.9 804.7 107.1 793.2 99.8M828.4 116.9L820.3 123.6 821.8 136.1 812.6 139.6M827.2 128.5L839.8 133.3 847.3 129.2 862.8 137.7 873.3 135.9M827.2 128.5L824.2 121.4 811.3 119.5 803.3 106.7M827.2 128.5L812.5 129.7 810.0 138.9 796.6 145.4M825.9 140.5L831.9 132.9 828.8 122.5 836.2 120.1 835.5 111.5M825.9 140.5L812.9 139.2 802.4 141.9 786.4 141.7 769.5 143.2M825.9 140.5L835.8 151.2 848.3 154.2 858.1 163.9M824.8 146.9L810.2 140.3 794.1 137.6 784.0 133.1M824.8 146.9L819.2 156.1 826.0 165.2 821.1 170.9M824.8 146.9L837.1 143.9 838.1 134.2 849.4 130.3M821.7 165.1L828.8 158.0 824.4 148.5 828.0 140.6 820.0 134.7M821.7 165.1L805.3 160.0 793.7 161.3 780.3 161.9 771.3 166.3M821.7 165.1L827.1 175.2 842.3 181.9 849.0 189.4M820.0 175.1L818.1 181.8 824.5 192.2 819.6 199.5M820.0 175.1L831.8 174.3 838.2 168.3 851.5 165.0 856.6 157.0M820.0 175.1L812.5 167.6 798.4 161.8 793.8 154.7M818.1 186.5L833.7 184.1 834.6 179.1 839.4 171.1 836.2 162.1M818.1 186.5L806.4 179.5 793.3 177.6 779.1 168.1 762.3 167.2M818.1 186.5L817.7 199.7 831.5 202.1 836.4 212.6 844.6 216.0M816.4 196.7L817.5 205.6 827.8 214.3 824.2 222.3 830.3 229.5M816.4 196.7L826.3 190.4 832.7 182.1 845.4 179.5 851.3 172.1M816.4 196.7L803.8 190.5 792.9 194.9 777.5 193.1M814.6 206.5L830.4 215.1 840.8 214.6 856.7 220.7M814.6 206.5L811.6 197.1 800.7 190.1 796.2 177.0 783.4 173.4M814.6 206.5L803.6 211.7 804.5 224.4 801.2 227.8M810.3 221.1L801.8 214.1 789.6 208.1 786.7 196.7M810.3 221.1L807.7 228.1 812.9 235.8 810.6 244.3 821.8 253.3M810.3 221.1L821.0 222.6 836.2 220.9 852.3 225.1M807.2 232.0L793.2 229.7 783.5 239.6 772.4 239.0 770.3 246.1M807.2 232.0L819.1 241.5 834.3 240.7 844.9 246.1 860.8 246.3M807.2 232.0L812.0 226.0 800.5 213.4 798.5 204.2M802.6 240.1L812.4 238.4 811.1 227.9 820.9 225.8M802.6 240.1L790.9 227.9 777.1 225.5 762.9 215.2 754.3 214.7M802.6 240.1L799.2 252.1 813.2 265.7 810.2 272.7 824.2 286.7M795.0 249.0L786.5 249.3 789.9 264.3 781.7 264.9M795.0 249.0L808.5 257.7 821.0 261.4 831.7 272.2 847.1 276.2M795.0 249.0L795.0 240.5 785.7 225.8 786.7 218.7M784.5 258.7L778.3 263.2 777.6 275.2 771.7 281.0M784.5 258.7L793.2 268.3 803.7 268.9 814.0 276.6M784.5 258.7L784.2 248.6 773.9 233.3 769.3 219.0M778.1 263.1L775.8 275.8 786.5 285.3 788.3 298.5M778.1 263.1L790.1 265.5 787.2 249.3 800.7 248.5 807.7 242.9M778.1 263.1L772.8 252.7 758.0 247.3 749.8 236.3M768.1 269.9L781.4 278.6 792.4 276.2 801.6 284.6 811.7 277.7M768.1 269.9L762.6 257.0 751.8 252.2 746.9 239.8 735.5 231.6M768.1 269.9L758.6 273.3 756.6 284.2 749.8 290.5M760.0 277.0L757.5 265.0 751.7 252.5 755.1 246.4M760.0 277.0L751.3 280.7 748.1 286.0 741.8 289.9M760.0 277.0L772.3 283.7 782.1 280.5 792.4 289.1 799.6 287.5M747.4 289.6L735.1 283.8 723.6 286.5 713.8 279.0 702.8 280.0M747.4 289.6L752.5 300.6 761.7 310.6 768.6 321.5 777.9 328.7M747.4 289.6L754.5 288.6 756.0 279.7 772.1 279.6M741.8 295.9L739.8 284.9 731.7 273.4 727.2 266.3 716.0 253.1M741.8 295.9L730.7 296.1 729.2 305.4 716.4 306.6M741.8 295.9L756.3 305.3 766.6 304.6 780.0 311.2 787.7 306.7M735.7 303.1L722.2 299.1 712.9 304.9 701.1 301.1M735.7 303.1L743.2 315.4 756.9 321.6 762.5 331.4 771.3 336.9M735.7 303.1L743.6 295.3 736.3 282.1 748.9 281.2 748.4 269.1M728.0 315.0L723.1 322.0 726.4 332.6 727.2 341.2 731.5 349.6M728.0 315.0L748.8 317.4 754.6 313.8 771.1 316.3 776.8 309.4M728.0 315.0L721.7 305.5 704.2 293.3 701.3 285.9 686.4 279.2M723.5 326.3L716.7 327.4 716.0 340.7 702.6 344.2M723.5 326.3L735.1 331.4 743.3 327.4 758.6 327.1 772.2 321.6M723.5 326.3L713.4 314.4 695.7 309.5 690.3 299.9M721.6 332.5L720.1 340.9 731.2 350.3 728.5 358.4M721.6 332.5L736.7 329.4 742.6 324.7 756.4 320.6 765.3 315.0M721.6 332.5L709.0 327.8 697.7 327.0 682.2 323.7M719.2 347.4L720.5 336.6 713.3 326.5 716.1 321.2 714.1 313.4M719.2 347.4L704.5 350.6 702.3 360.0 684.3 364.4 693.5 371.5M719.2 347.4L730.2 359.5 741.1 354.6 756.0 360.6 768.3 364.2M717.0 356.8L710.3 347.3 701.2 340.2 690.8 330.8M717.0 356.8L711.3 364.1 713.2 373.1 708.3 377.9M717.0 356.8L729.3 362.5 742.5 361.4 752.5 366.7 766.8 371.5M710.2 368.7L721.5 373.4 735.7 375.1 745.3 386.5 764.2 390.8M710.2 368.7L712.2 358.0 696.6 350.0 693.5 338.0 680.0 332.5M710.2 368.7L700.6 369.8 695.8 380.9 688.3 385.4 689.9 393.4M704.3 379.4L697.6 370.4 688.4 365.4 677.9 359.4 664.8 354.3M704.3 379.4L701.8 385.6 710.5 397.3 707.6 405.4 716.6 420.0M704.3 379.4L715.7 384.9 725.8 376.7 737.9 382.5 745.2 372.5M701.8 384.5L713.0 394.8 733.5 393.4 745.3 401.9 754.1 398.6M701.8 384.5L702.1 374.4 690.8 367.7 688.2 355.2 681.3 347.5M701.8 384.5L689.4 388.0 690.3 396.3 681.4 396.1 682.5 406.1M694.3 399.4L707.2 393.6 701.2 386.0 705.9 380.3 704.5 368.0M694.3 399.4L680.4 392.2 668.3 387.9 657.9 374.4 646.7 371.2M694.3 399.4L694.9 410.5 705.9 417.6 709.7 424.8" fill="none" stroke="#6c6c6c" stroke-width="3.2" stroke-linecap="round" stroke-linejoin="round" opacity="0.55"/><circle cx="827.8" cy="84.9" r="2.9" fill="#e01010"/><ellipse cx="828.3" cy="83.9" rx="3.2" ry="2.0" fill="#f0ec18"/><circle cx="829.4" cy="103.1" r="2.9" fill="#e01010"/><ellipse cx="829.9" cy="102.1" rx="3.2" ry="2.0" fill="#f0ec18"/><circle cx="827.6" cy="129.2" r="2.9" fill="#e01010"/><ellipse cx="828.1" cy="128.2" rx="3.2" ry="2.0" fill="#f0ec18"/><circle cx="824.7" cy="146.8" r="2.9" fill="#e01010"/><ellipse cx="825.2" cy="145.8" rx="3.2" ry="2.0" fill="#f0ec18"/><circle cx="820.5" cy="174.5" r="2.9" fill="#e01010"/><ellipse cx="821.0" cy="173.5" rx="3.2" ry="2.0" fill="#f0ec18"/><circle cx="816.1" cy="197.1" r="2.9" fill="#e01010"/><ellipse cx="816.6" cy="196.1" rx="3.2" ry="2.0" fill="#f0ec18"/><circle cx="811.2" cy="220.6" r="2.9" fill="#e01010"/><ellipse cx="811.7" cy="219.6" rx="3.2" ry="2.0" fill="#f0ec18"/><circle cx="801.9" cy="241.3" r="2.9" fill="#e01010"/><ellipse cx="802.4" cy="240.3" rx="3.2" ry="2.0" fill="#f0ec18"/><circle cx="784.9" cy="258.0" r="2.9" fill="#e01010"/><ellipse cx="785.4" cy="257.0" rx="3.2" ry="2.0" fill="#f0ec18"/><circle cx="767.1" cy="270.0" r="2.9" fill="#e01010"/><ellipse cx="767.6" cy="269.0" rx="3.2" ry="2.0" fill="#f0ec18"/><circle cx="747.5" cy="290.4" r="2.9" fill="#e01010"/><ellipse cx="748.0" cy="289.4" rx="3.2" ry="2.0" fill="#f0ec18"/><circle cx="735.6" cy="304.3" r="2.9" fill="#e01010"/><ellipse cx="736.1" cy="303.3" rx="3.2" ry="2.0" fill="#f0ec18"/><circle cx="725.0" cy="326.0" r="2.9" fill="#e01010"/><ellipse cx="725.5" cy="325.0" rx="3.2" ry="2.0" fill="#f0ec18"/><circle cx="718.5" cy="347.5" r="2.9" fill="#e01010"/><ellipse cx="719.0" cy="346.5" rx="3.2" ry="2.0" fill="#f0ec18"/><circle cx="710.3" cy="369.3" r="2.9" fill="#e01010"/><ellipse cx="710.8" cy="368.3" rx="3.2" ry="2.0" fill="#f0ec18"/><circle cx="700.8" cy="384.3" r="2.9" fill="#e01010"/><ellipse cx="701.3" cy="383.3" rx="3.2" ry="2.0" fill="#f0ec18"/></g></defs>
<clipPath id="boxclip"><rect x="624" y="68" width="346" height="346"/></clipPath>
<g clip-path="url(#boxclip)"><use href="#stack"/></g>
<rect x="623.5" y="67.4" width="346.8" height="346.7" fill="none" stroke="#686868" stroke-width="2.2" stroke-dasharray="10.5,4.4"/>
<clipPath id="snapclip"><rect x="978" y="63" width="351" height="354"/></clipPath>
<line x1="970.30" y1="414.00" x2="1047.30" y2="348.00" stroke="#5a5a5a" stroke-width="2.0" stroke-dasharray="9,3,2,3"/>
<defs><g id="m0"><path d="M0 0l 1.4 2.9 -0.6 3.1 2.1 4.0M0 0l -1.5 3.5 -3.0 1.7 -2.0 3.8M0 0l 0.5 -3.8 2.9 -1.6" stroke="#a8a8a8" stroke-width="4.2"/><path d="M0 0l 1.4 2.9 -0.6 3.1 2.1 4.0M0 0l -1.5 3.5 -3.0 1.7 -2.0 3.8M0 0l 0.5 -3.8 2.9 -1.6" stroke="#cecece" stroke-width="1.7"/></g><g id="m1"><path d="M0 0l -3.9 0.7 -4.0 -1.4 -3.0 1.1M0 0l 3.7 -2.4 3.2 -0.3 2.4 -2.3M0 0l 1.4 2.7 0.1 3.6" stroke="#a8a8a8" stroke-width="4.2"/><path d="M0 0l -3.9 0.7 -4.0 -1.4 -3.0 1.1M0 0l 3.7 -2.4 3.2 -0.3 2.4 -2.3M0 0l 1.4 2.7 0.1 3.6" stroke="#cecece" stroke-width="1.7"/></g><g id="m2"><path d="M0 0l -2.3 1.9 -4.5 1.0 -3.0 2.8M0 0l 1.6 -4.0 2.7 -2.2 0.9 -3.0M0 0l 3.2 1.9 1.6 3.8" stroke="#a8a8a8" stroke-width="4.2"/><path d="M0 0l -2.3 1.9 -4.5 1.0 -3.0 2.8M0 0l 1.6 -4.0 2.7 -2.2 0.9 -3.0M0 0l 3.2 1.9 1.6 3.8" stroke="#cecece" stroke-width="1.7"/></g><g id="m3"><path d="M0 0l 3.7 2.4 2.0 3.8M0 0l -3.2 -1.4 -2.2 -3.1 -3.3 -0.4M0 0l 2.7 -3.7 3.5 -0.8" stroke="#a8a8a8" stroke-width="4.2"/><path d="M0 0l 3.7 2.4 2.0 3.8M0 0l -3.2 -1.4 -2.2 -3.1 -3.3 -0.4M0 0l 2.7 -3.7 3.5 -0.8" stroke="#cecece" stroke-width="1.7"/></g><g id="m4"><path d="M0 0l -3.1 0.3 -3.2 -1.1 -3.9 1.6M0 0l -1.8 -3.7 1.5 -4.2 -1.1 -3.8M0 0l 4.4 0.7 1.7 2.6 3.1 1.0" stroke="#a8a8a8" stroke-width="4.2"/><path d="M0 0l -3.1 0.3 -3.2 -1.1 -3.9 1.6M0 0l -1.8 -3.7 1.5 -4.2 -1.1 -3.8M0 0l 4.4 0.7 1.7 2.6 3.1 1.0" stroke="#cecece" stroke-width="1.7"/></g><g id="m5"><path d="M0 0l 3.4 -1.1 4.4 0.4M0 0l -0.7 3.1 -2.6 2.1M0 0l -3.2 -2.3 -1.3 -3.3" stroke="#a8a8a8" stroke-width="4.2"/><path d="M0 0l 3.4 -1.1 4.4 0.4M0 0l -0.7 3.1 -2.6 2.1M0 0l -3.2 -2.3 -1.3 -3.3" stroke="#cecece" stroke-width="1.7"/></g><g id="m6"><path d="M0 0l -1.9 -3.1 0.6 -3.1M0 0l 2.5 -3.8 4.0 -0.8M0 0l -1.4 2.9 -2.8 1.2 -1.7 3.8" stroke="#a8a8a8" stroke-width="4.2"/><path d="M0 0l -1.9 -3.1 0.6 -3.1M0 0l 2.5 -3.8 4.0 -0.8M0 0l -1.4 2.9 -2.8 1.2 -1.7 3.8" stroke="#cecece" stroke-width="1.7"/></g><g id="m7"><path d="M0 0l 0.3 -4.3 1.7 -2.7 0.1 -3.8M0 0l 2.6 2.2 0.5 3.5 2.7 2.1M0 0l -3.7 1.3 -3.6 -1.3 -4.4 1.3" stroke="#a8a8a8" stroke-width="4.2"/><path d="M0 0l 0.3 -4.3 1.7 -2.7 0.1 -3.8M0 0l 2.6 2.2 0.5 3.5 2.7 2.1M0 0l -3.7 1.3 -3.6 -1.3 -4.4 1.3" stroke="#cecece" stroke-width="1.7"/></g><g id="m8"><path d="M0 0l 2.2 2.4 0.6 4.2M0 0l -2.9 3.0 -4.0 0.3 -3.5 2.4M0 0l -1.7 -3.8 1.7 -3.5" stroke="#a8a8a8" stroke-width="4.2"/><path d="M0 0l 2.2 2.4 0.6 4.2M0 0l -2.9 3.0 -4.0 0.3 -3.5 2.4M0 0l -1.7 -3.8 1.7 -3.5" stroke="#cecece" stroke-width="1.7"/></g><g id="m9"><path d="M0 0l -1.2 -2.9 1.2 -4.1M0 0l 4.4 0.1 3.8 2.3 3.1 0.2M0 0l -1.5 3.4 -3.0 1.3 -1.3 3.4" stroke="#a8a8a8" stroke-width="4.2"/><path d="M0 0l -1.2 -2.9 1.2 -4.1M0 0l 4.4 0.1 3.8 2.3 3.1 0.2M0 0l -1.5 3.4 -3.0 1.3 -1.3 3.4" stroke="#cecece" stroke-width="1.7"/></g><g id="m10"><path d="M0 0l -3.3 -0.2 -2.4 -1.9 -4.5 -0.9M0 0l 0.1 -3.9 2.4 -2.8 1.2 -4.0M0 0l 3.0 3.2 0.3 3.7" stroke="#a8a8a8" stroke-width="4.2"/><path d="M0 0l -3.3 -0.2 -2.4 -1.9 -4.5 -0.9M0 0l 0.1 -3.9 2.4 -2.8 1.2 -4.0M0 0l 3.0 3.2 0.3 3.7" stroke="#cecece" stroke-width="1.7"/></g><g id="m11"><path d="M0 0l 0.1 3.1 -2.2 2.8M0 0l -0.8 -3.2 0.9 -4.1 -1.3 -2.8M0 0l 4.1 1.5 1.5 3.2" stroke="#a8a8a8" stroke-width="4.2"/><path d="M0 0l 0.1 3.1 -2.2 2.8M0 0l -0.8 -3.2 0.9 -4.1 -1.3 -2.8M0 0l 4.1 1.5 1.5 3.2" stroke="#cecece" stroke-width="1.7"/></g><g id="m12"><path d="M0 0l 1.3 -3.3 3.3 -2.1M0 0l 1.0 4.2 -2.1 3.0M0 0l -3.8 -2.5 -0.7 -4.0" stroke="#a8a8a8" stroke-width="4.2"/><path d="M0 0l 1.3 -3.3 3.3 -2.1M0 0l 1.0 4.2 -2.1 3.0M0 0l -3.8 -2.5 -0.7 -4.0" stroke="#cecece" stroke-width="1.7"/></g><g id="m13"><path d="M0 0l -2.5 3.3 -3.8 1.6 -2.0 3.1M0 0l -0.5 -3.2 2.2 -3.1 -0.4 -3.2M0 0l 3.1 0.6 2.9 2.2" stroke="#a8a8a8" stroke-width="4.2"/><path d="M0 0l -2.5 3.3 -3.8 1.6 -2.0 3.1M0 0l -0.5 -3.2 2.2 -3.1 -0.4 -3.2M0 0l 3.1 0.6 2.9 2.2" stroke="#cecece" stroke-width="1.7"/></g><g id="m14"><path d="M0 0l -4.5 -0.5 -2.0 -3.2 -3.5 -0.9M0 0l 3.6 -2.3 3.0 -0.5 3.1 -2.7M0 0l 1.7 2.8 0.1 3.9" stroke="#a8a8a8" stroke-width="4.2"/><path d="M0 0l -4.5 -0.5 -2.0 -3.2 -3.5 -0.9M0 0l 3.6 -2.3 3.0 -0.5 3.1 -2.7M0 0l 1.7 2.8 0.1 3.9" stroke="#cecece" stroke-width="1.7"/></g><g id="m15"><path d="M0 0l -1.7 -3.9 0.1 -3.0M0 0l -0.3 -3.2 1.3 -3.3M0 0l 3.1 1.8 1.4 3.7" stroke="#a8a8a8" stroke-width="4.2"/><path d="M0 0l -1.7 -3.9 0.1 -3.0M0 0l -0.3 -3.2 1.3 -3.3M0 0l 3.1 1.8 1.4 3.7" stroke="#cecece" stroke-width="1.7"/></g><g id="m16"><path d="M0 0l 3.0 -0.9 3.8 1.3M0 0l 2.7 2.5 0.9 4.3M0 0l -1.2 -4.3 1.1 -2.8" stroke="#a8a8a8" stroke-width="4.2"/><path d="M0 0l 3.0 -0.9 3.8 1.3M0 0l 2.7 2.5 0.9 4.3M0 0l -1.2 -4.3 1.1 -2.8" stroke="#cecece" stroke-width="1.7"/></g><g id="m17"><path d="M0 0l 1.9 3.2 -0.8 4.1 1.2 3.9M0 0l -3.7 1.7 -3.3 -0.9M0 0l 2.3 -2.0 2.9 -0.7" stroke="#a8a8a8" stroke-width="4.2"/><path d="M0 0l 1.9 3.2 -0.8 4.1 1.2 3.9M0 0l -3.7 1.7 -3.3 -0.9M0 0l 2.3 -2.0 2.9 -0.7" stroke="#cecece" stroke-width="1.7"/></g></defs>
<g clip-path="url(#snapclip)"><g fill="none" stroke-linecap="round" stroke-linejoin="round"><use href="#m11" x="977" y="79"/><use href="#m3" x="981" y="72"/><use href="#m11" x="981" y="68"/><use href="#m1" x="983" y="61"/><use href="#m9" x="979" y="78"/><use href="#m5" x="1009" y="78"/><use href="#m14" x="1001" y="68"/><use href="#m12" x="1011" y="72"/><use href="#m1" x="999" y="64"/><use href="#m13" x="1009" y="78"/><use href="#m17" x="1011" y="68"/><use href="#m2" x="1013" y="74"/><use href="#m4" x="1029" y="68"/><use href="#m6" x="1027" y="70"/><use href="#m16" x="1029" y="79"/><use href="#m15" x="1023" y="67"/><use href="#m14" x="1034" y="68"/><use href="#m14" x="1017" y="69"/><use href="#m10" x="1025" y="76"/><use href="#m15" x="1047" y="73"/><use href="#m14" x="1038" y="77"/><use href="#m9" x="1054" y="64"/><use href="#m8" x="1045" y="66"/><use href="#m11" x="1047" y="70"/><use href="#m8" x="1041" y="70"/><use href="#m6" x="1053" y="69"/><use href="#m16" x="1045" y="65"/><use href="#m4" x="1061" y="77"/><use href="#m11" x="1067" y="80"/><use href="#m2" x="1074" y="75"/><use href="#m3" x="1066" y="74"/><use href="#m13" x="1064" y="73"/><use href="#m2" x="1060" y="60"/><use href="#m12" x="1064" y="78"/><use href="#m13" x="1091" y="80"/><use href="#m16" x="1094" y="63"/><use href="#m6" x="1078" y="65"/><use href="#m6" x="1098" y="60"/><use href="#m13" x="1114" y="67"/><use href="#m11" x="1104" y="75"/><use href="#m8" x="1123" y="71"/><use href="#m1" x="1121" y="64"/><use href="#m10" x="1121" y="66"/><use href="#m10" x="1122" y="67"/><use href="#m10" x="1135" y="60"/><use href="#m1" x="1152" y="73"/><use href="#m16" x="1194" y="64"/><use href="#m16" x="1205" y="74"/><use href="#m2" x="1211" y="65"/><use href="#m8" x="1196" y="66"/><use href="#m15" x="1215" y="78"/><use href="#m10" x="1211" y="78"/><use href="#m1" x="1202" y="80"/><use href="#m8" x="1226" y="72"/><use href="#m16" x="1229" y="73"/><use href="#m0" x="1228" y="78"/><use href="#m3" x="1228" y="80"/><use href="#m9" x="1231" y="63"/><use href="#m3" x="1233" y="69"/><use href="#m15" x="1221" y="72"/><use href="#m2" x="1232" y="74"/><use href="#m11" x="1237" y="62"/><use href="#m3" x="1246" y="79"/><use href="#m12" x="1241" y="62"/><use href="#m14" x="1244" y="70"/><use href="#m8" x="1247" y="65"/><use href="#m13" x="1261" y="62"/><use href="#m6" x="1274" y="63"/><use href="#m3" x="1294" y="67"/><use href="#m15" x="1276" y="78"/><use href="#m1" x="1299" y="75"/><use href="#m17" x="1314" y="75"/><use href="#m11" x="1313" y="80"/><use href="#m9" x="1298" y="77"/><use href="#m0" x="1303" y="66"/><use href="#m9" x="1296" y="60"/><use href="#m15" x="1327" y="75"/><use href="#m17" x="1331" y="79"/><use href="#m13" x="1328" y="75"/><use href="#m10" x="1317" y="61"/><use href="#m12" x="979" y="96"/><use href="#m8" x="975" y="91"/><use href="#m3" x="984" y="81"/><use href="#m4" x="981" y="87"/><use href="#m2" x="989" y="83"/><use href="#m7" x="987" y="99"/><use href="#m17" x="977" y="82"/><use href="#m3" x="979" y="83"/><use href="#m0" x="977" y="84"/><use href="#m4" x="1008" y="87"/><use href="#m8" x="998" y="82"/><use href="#m4" x="998" y="90"/><use href="#m1" x="1012" y="94"/><use href="#m3" x="996" y="81"/><use href="#m17" x="1004" y="87"/><use href="#m12" x="997" y="85"/><use href="#m2" x="1009" y="91"/><use href="#m9" x="1013" y="82"/><use href="#m11" x="999" y="91"/><use href="#m10" x="1035" y="92"/><use href="#m3" x="1030" y="94"/><use href="#m2" x="1027" y="86"/><use href="#m0" x="1022" y="83"/><use href="#m0" x="1032" y="94"/><use href="#m0" x="1030" y="86"/><use href="#m7" x="1019" y="92"/><use href="#m3" x="1032" y="96"/><use href="#m16" x="1020" y="94"/><use href="#m13" x="1046" y="82"/><use href="#m9" x="1046" y="87"/><use href="#m1" x="1042" y="94"/><use href="#m8" x="1043" y="82"/><use href="#m4" x="1041" y="97"/><use href="#m17" x="1042" y="97"/><use href="#m13" x="1052" y="84"/><use href="#m4" x="1049" y="86"/><use href="#m15" x="1054" y="87"/><use href="#m13" x="1049" y="84"/><use href="#m10" x="1062" y="82"/><use href="#m0" x="1064" y="93"/><use href="#m10" x="1060" y="97"/><use href="#m4" x="1072" y="81"/><use href="#m6" x="1060" y="83"/><use href="#m8" x="1062" y="88"/><use href="#m5" x="1072" y="92"/><use href="#m10" x="1091" y="90"/><use href="#m12" x="1113" y="92"/><use href="#m7" x="1100" y="98"/><use href="#m6" x="1110" y="96"/><use href="#m3" x="1133" y="85"/><use href="#m0" x="1131" y="91"/><use href="#m3" x="1123" y="82"/><use href="#m4" x="1128" y="95"/><use href="#m0" x="1121" y="95"/><use href="#m11" x="1146" y="96"/><use href="#m10" x="1137" y="98"/><use href="#m12" x="1150" y="91"/><use href="#m5" x="1203" y="82"/><use href="#m12" x="1197" y="81"/><use href="#m3" x="1228" y="92"/><use href="#m1" x="1227" y="96"/><use href="#m1" x="1223" y="82"/><use href="#m10" x="1223" y="82"/><use href="#m1" x="1217" y="88"/><use href="#m15" x="1230" y="86"/><use href="#m13" x="1220" y="86"/><use href="#m16" x="1224" y="81"/><use href="#m8" x="1227" y="96"/><use href="#m15" x="1216" y="96"/><use href="#m10" x="1236" y="98"/><use href="#m1" x="1241" y="91"/><use href="#m9" x="1253" y="92"/><use href="#m4" x="1255" y="85"/><use href="#m11" x="1247" y="90"/><use href="#m7" x="1248" y="91"/><use href="#m6" x="1248" y="82"/><use href="#m3" x="1264" y="84"/><use href="#m10" x="1268" y="83"/><use href="#m2" x="1261" y="81"/><use href="#m10" x="1280" y="89"/><use href="#m10" x="1284" y="81"/><use href="#m17" x="1280" y="92"/><use href="#m4" x="1307" y="87"/><use href="#m5" x="1304" y="92"/><use href="#m9" x="1307" y="94"/><use href="#m4" x="1297" y="85"/><use href="#m13" x="1302" y="92"/><use href="#m7" x="1301" y="82"/><use href="#m4" x="1317" y="90"/><use href="#m12" x="1327" y="83"/><use href="#m0" x="1322" y="99"/><use href="#m1" x="984" y="112"/><use href="#m12" x="983" y="102"/><use href="#m10" x="975" y="117"/><use href="#m2" x="991" y="107"/><use href="#m9" x="986" y="120"/><use href="#m11" x="976" y="106"/><use href="#m7" x="991" y="115"/><use href="#m10" x="983" y="100"/><use href="#m11" x="983" y="102"/><use href="#m1" x="988" y="109"/><use href="#m5" x="1005" y="105"/><use href="#m13" x="1003" y="119"/><use href="#m8" x="1000" y="110"/><use href="#m17" x="1013" y="117"/><use href="#m12" x="1013" y="115"/><use href="#m17" x="1009" y="109"/><use href="#m2" x="1010" y="113"/><use href="#m10" x="1014" y="106"/><use href="#m15" x="999" y="119"/><use href="#m8" x="1015" y="101"/><use href="#m5" x="1034" y="113"/><use href="#m12" x="1018" y="100"/><use href="#m4" x="1034" y="116"/><use href="#m1" x="1024" y="115"/><use href="#m16" x="1021" y="117"/><use href="#m1" x="1042" y="101"/><use href="#m2" x="1046" y="100"/><use href="#m16" x="1046" y="103"/><use href="#m13" x="1038" y="104"/><use href="#m5" x="1040" y="112"/><use href="#m14" x="1050" y="115"/><use href="#m11" x="1049" y="111"/><use href="#m6" x="1072" y="108"/><use href="#m9" x="1068" y="101"/><use href="#m6" x="1057" y="107"/><use href="#m9" x="1070" y="107"/><use href="#m12" x="1057" y="108"/><use href="#m2" x="1063" y="110"/><use href="#m4" x="1069" y="118"/><use href="#m17" x="1071" y="101"/><use href="#m8" x="1062" y="111"/><use href="#m15" x="1057" y="115"/><use href="#m7" x="1075" y="108"/><use href="#m0" x="1085" y="117"/><use href="#m13" x="1079" y="106"/><use href="#m8" x="1103" y="105"/><use href="#m16" x="1112" y="107"/><use href="#m17" x="1106" y="119"/><use href="#m3" x="1113" y="118"/><use href="#m1" x="1129" y="114"/><use href="#m9" x="1127" y="104"/><use href="#m11" x="1126" y="113"/><use href="#m8" x="1129" y="109"/><use href="#m9" x="1131" y="114"/><use href="#m1" x="1130" y="106"/><use href="#m8" x="1117" y="102"/><use href="#m5" x="1142" y="104"/><use href="#m13" x="1150" y="107"/><use href="#m15" x="1140" y="114"/><use href="#m5" x="1142" y="117"/><use href="#m11" x="1197" y="115"/><use href="#m7" x="1202" y="115"/><use href="#m15" x="1215" y="115"/><use href="#m15" x="1234" y="118"/><use href="#m7" x="1232" y="100"/><use href="#m11" x="1216" y="112"/><use href="#m9" x="1231" y="105"/><use href="#m3" x="1224" y="120"/><use href="#m5" x="1223" y="112"/><use href="#m10" x="1235" y="104"/><use href="#m12" x="1243" y="105"/><use href="#m3" x="1244" y="111"/><use href="#m7" x="1245" y="113"/><use href="#m7" x="1252" y="111"/><use href="#m6" x="1254" y="103"/><use href="#m8" x="1236" y="118"/><use href="#m4" x="1238" y="108"/><use href="#m15" x="1262" y="117"/><use href="#m5" x="1258" y="104"/><use href="#m4" x="1274" y="109"/><use href="#m6" x="1305" y="116"/><use href="#m2" x="1300" y="107"/><use href="#m10" x="1300" y="106"/><use href="#m14" x="1320" y="117"/><use href="#m14" x="1317" y="107"/><use href="#m9" x="992" y="131"/><use href="#m13" x="980" y="136"/><use href="#m14" x="991" y="128"/><use href="#m4" x="976" y="133"/><use href="#m12" x="988" y="120"/><use href="#m9" x="994" y="121"/><use href="#m10" x="978" y="121"/><use href="#m7" x="983" y="137"/><use href="#m1" x="976" y="124"/><use href="#m16" x="975" y="125"/><use href="#m17" x="995" y="126"/><use href="#m10" x="1007" y="132"/><use href="#m14" x="1008" y="132"/><use href="#m0" x="1008" y="132"/><use href="#m12" x="999" y="128"/><use href="#m4" x="1012" y="126"/><use href="#m13" x="998" y="136"/><use href="#m13" x="1012" y="134"/><use href="#m11" x="1003" y="130"/><use href="#m9" x="1007" y="139"/><use href="#m11" x="1030" y="120"/><use href="#m3" x="1034" y="125"/><use href="#m14" x="1025" y="138"/><use href="#m11" x="1025" y="134"/><use href="#m1" x="1054" y="124"/><use href="#m2" x="1041" y="123"/><use href="#m9" x="1050" y="137"/><use href="#m2" x="1036" y="126"/><use href="#m3" x="1049" y="135"/><use href="#m8" x="1073" y="138"/><use href="#m10" x="1057" y="134"/><use href="#m13" x="1073" y="128"/><use href="#m12" x="1058" y="129"/><use href="#m6" x="1063" y="136"/><use href="#m14" x="1068" y="134"/><use href="#m11" x="1058" y="121"/><use href="#m9" x="1063" y="137"/><use href="#m11" x="1071" y="132"/><use href="#m16" x="1071" y="140"/><use href="#m12" x="1094" y="135"/><use href="#m9" x="1091" y="122"/><use href="#m0" x="1093" y="125"/><use href="#m3" x="1081" y="123"/><use href="#m11" x="1076" y="136"/><use href="#m11" x="1081" y="135"/><use href="#m16" x="1089" y="128"/><use href="#m17" x="1112" y="134"/><use href="#m4" x="1095" y="138"/><use href="#m3" x="1107" y="121"/><use href="#m9" x="1107" y="126"/><use href="#m9" x="1113" y="125"/><use href="#m2" x="1122" y="138"/><use href="#m9" x="1128" y="122"/><use href="#m7" x="1117" y="134"/><use href="#m14" x="1132" y="122"/><use href="#m8" x="1120" y="126"/><use href="#m14" x="1130" y="140"/><use href="#m5" x="1126" y="126"/><use href="#m2" x="1147" y="123"/><use href="#m12" x="1150" y="123"/><use href="#m5" x="1147" y="124"/><use href="#m13" x="1141" y="134"/><use href="#m0" x="1148" y="132"/><use href="#m3" x="1182" y="135"/><use href="#m10" x="1184" y="129"/><use href="#m12" x="1210" y="129"/><use href="#m13" x="1210" y="134"/><use href="#m17" x="1203" y="127"/><use href="#m12" x="1215" y="130"/><use href="#m7" x="1209" y="125"/><use href="#m2" x="1214" y="135"/><use href="#m11" x="1231" y="138"/><use href="#m17" x="1231" y="138"/><use href="#m1" x="1230" y="137"/><use href="#m4" x="1225" y="122"/><use href="#m9" x="1220" y="121"/><use href="#m11" x="1234" y="137"/><use href="#m11" x="1230" y="133"/><use href="#m16" x="1237" y="126"/><use href="#m9" x="1247" y="126"/><use href="#m13" x="1238" y="127"/><use href="#m3" x="1254" y="124"/><use href="#m8" x="1266" y="125"/><use href="#m8" x="1296" y="139"/><use href="#m13" x="978" y="160"/><use href="#m3" x="990" y="150"/><use href="#m14" x="980" y="148"/><use href="#m8" x="982" y="145"/><use href="#m5" x="983" y="149"/><use href="#m12" x="979" y="141"/><use href="#m15" x="992" y="141"/><use href="#m11" x="986" y="160"/><use href="#m10" x="979" y="158"/><use href="#m2" x="978" y="153"/><use href="#m9" x="1007" y="154"/><use href="#m2" x="1011" y="148"/><use href="#m3" x="1014" y="140"/><use href="#m1" x="1007" y="145"/><use href="#m12" x="1003" y="158"/><use href="#m6" x="996" y="143"/><use href="#m5" x="1006" y="155"/><use href="#m13" x="1004" y="145"/><use href="#m15" x="998" y="144"/><use href="#m3" x="1013" y="148"/><use href="#m2" x="1028" y="149"/><use href="#m0" x="1035" y="159"/><use href="#m2" x="1020" y="157"/><use href="#m8" x="1028" y="153"/><use href="#m3" x="1030" y="149"/><use href="#m2" x="1031" y="149"/><use href="#m7" x="1024" y="155"/><use href="#m12" x="1035" y="148"/><use href="#m11" x="1028" y="142"/><use href="#m2" x="1020" y="146"/><use href="#m2" x="1040" y="159"/><use href="#m7" x="1043" y="158"/><use href="#m1" x="1051" y="155"/><use href="#m16" x="1050" y="146"/><use href="#m2" x="1054" y="141"/><use href="#m16" x="1043" y="147"/><use href="#m0" x="1044" y="148"/><use href="#m15" x="1070" y="145"/><use href="#m3" x="1064" y="142"/><use href="#m13" x="1056" y="148"/><use href="#m6" x="1058" y="157"/><use href="#m16" x="1061" y="157"/><use href="#m6" x="1059" y="154"/><use href="#m4" x="1064" y="152"/><use href="#m7" x="1079" y="152"/><use href="#m14" x="1095" y="146"/><use href="#m3" x="1080" y="142"/><use href="#m3" x="1076" y="145"/><use href="#m16" x="1090" y="142"/><use href="#m11" x="1081" y="145"/><use href="#m11" x="1104" y="149"/><use href="#m2" x="1106" y="158"/><use href="#m8" x="1095" y="142"/><use href="#m10" x="1101" y="145"/><use href="#m1" x="1115" y="146"/><use href="#m16" x="1107" y="141"/><use href="#m3" x="1100" y="142"/><use href="#m9" x="1116" y="141"/><use href="#m11" x="1116" y="145"/><use href="#m2" x="1134" y="156"/><use href="#m5" x="1134" y="152"/><use href="#m14" x="1129" y="146"/><use href="#m8" x="1128" y="146"/><use href="#m8" x="1131" y="144"/><use href="#m10" x="1152" y="149"/><use href="#m3" x="1141" y="146"/><use href="#m7" x="1153" y="149"/><use href="#m16" x="1144" y="159"/><use href="#m9" x="1153" y="151"/><use href="#m14" x="1141" y="142"/><use href="#m11" x="1147" y="141"/><use href="#m8" x="1147" y="155"/><use href="#m6" x="1159" y="157"/><use href="#m8" x="1167" y="149"/><use href="#m5" x="1172" y="146"/><use href="#m0" x="1188" y="154"/><use href="#m9" x="1177" y="144"/><use href="#m11" x="1190" y="153"/><use href="#m14" x="1187" y="153"/><use href="#m2" x="1184" y="147"/><use href="#m10" x="1205" y="154"/><use href="#m12" x="1213" y="157"/><use href="#m11" x="1196" y="153"/><use href="#m6" x="1197" y="150"/><use href="#m16" x="1212" y="156"/><use href="#m1" x="1199" y="154"/><use href="#m7" x="1214" y="142"/><use href="#m1" x="1227" y="156"/><use href="#m6" x="1219" y="150"/><use href="#m14" x="1223" y="148"/><use href="#m9" x="1216" y="156"/><use href="#m8" x="1223" y="153"/><use href="#m8" x="1232" y="157"/><use href="#m6" x="1227" y="148"/><use href="#m1" x="1251" y="153"/><use href="#m14" x="1245" y="151"/><use href="#m11" x="1238" y="154"/><use href="#m5" x="1246" y="140"/><use href="#m16" x="1243" y="152"/><use href="#m11" x="1260" y="153"/><use href="#m13" x="1268" y="152"/><use href="#m6" x="1258" y="151"/><use href="#m8" x="1293" y="147"/><use href="#m5" x="977" y="178"/><use href="#m11" x="995" y="176"/><use href="#m10" x="994" y="167"/><use href="#m8" x="984" y="163"/><use href="#m7" x="994" y="173"/><use href="#m15" x="1006" y="173"/><use href="#m10" x="1004" y="170"/><use href="#m9" x="997" y="169"/><use href="#m12" x="999" y="166"/><use href="#m5" x="1011" y="163"/><use href="#m3" x="1011" y="162"/><use href="#m9" x="1001" y="178"/><use href="#m7" x="1011" y="175"/><use href="#m16" x="995" y="164"/><use href="#m16" x="1001" y="168"/><use href="#m4" x="1017" y="179"/><use href="#m11" x="1028" y="160"/><use href="#m11" x="1028" y="176"/><use href="#m7" x="1016" y="163"/><use href="#m16" x="1017" y="168"/><use href="#m14" x="1016" y="168"/><use href="#m5" x="1023" y="168"/><use href="#m9" x="1026" y="164"/><use href="#m2" x="1031" y="170"/><use href="#m6" x="1049" y="163"/><use href="#m5" x="1054" y="172"/><use href="#m6" x="1040" y="161"/><use href="#m8" x="1040" y="166"/><use href="#m6" x="1055" y="172"/><use href="#m14" x="1039" y="167"/><use href="#m7" x="1037" y="169"/><use href="#m7" x="1045" y="178"/><use href="#m7" x="1049" y="174"/><use href="#m16" x="1066" y="169"/><use href="#m2" x="1055" y="180"/><use href="#m11" x="1057" y="178"/><use href="#m6" x="1057" y="179"/><use href="#m9" x="1068" y="168"/><use href="#m15" x="1069" y="168"/><use href="#m14" x="1069" y="175"/><use href="#m3" x="1069" y="178"/><use href="#m16" x="1091" y="180"/><use href="#m14" x="1084" y="171"/><use href="#m1" x="1090" y="173"/><use href="#m1" x="1076" y="165"/><use href="#m7" x="1091" y="164"/><use href="#m5" x="1091" y="163"/><use href="#m0" x="1081" y="165"/><use href="#m0" x="1101" y="168"/><use href="#m4" x="1102" y="161"/><use href="#m15" x="1098" y="166"/><use href="#m1" x="1109" y="167"/><use href="#m9" x="1102" y="171"/><use href="#m12" x="1101" y="169"/><use href="#m0" x="1095" y="170"/><use href="#m1" x="1135" y="176"/><use href="#m9" x="1128" y="173"/><use href="#m16" x="1130" y="180"/><use href="#m6" x="1124" y="176"/><use href="#m13" x="1119" y="162"/><use href="#m16" x="1115" y="178"/><use href="#m10" x="1133" y="163"/><use href="#m13" x="1121" y="165"/><use href="#m10" x="1135" y="178"/><use href="#m13" x="1155" y="171"/><use href="#m16" x="1155" y="174"/><use href="#m0" x="1151" y="177"/><use href="#m4" x="1153" y="172"/><use href="#m0" x="1152" y="168"/><use href="#m6" x="1139" y="164"/><use href="#m3" x="1151" y="161"/><use href="#m1" x="1155" y="174"/><use href="#m4" x="1165" y="164"/><use href="#m17" x="1173" y="163"/><use href="#m8" x="1167" y="169"/><use href="#m3" x="1159" y="166"/><use href="#m16" x="1158" y="160"/><use href="#m10" x="1173" y="178"/><use href="#m12" x="1194" y="168"/><use href="#m14" x="1175" y="169"/><use href="#m9" x="1186" y="178"/><use href="#m11" x="1176" y="177"/><use href="#m9" x="1190" y="168"/><use href="#m4" x="1181" y="167"/><use href="#m4" x="1184" y="172"/><use href="#m2" x="1198" y="169"/><use href="#m9" x="1211" y="174"/><use href="#m13" x="1207" y="173"/><use href="#m8" x="1211" y="177"/><use href="#m16" x="1206" y="162"/><use href="#m7" x="1200" y="164"/><use href="#m15" x="1201" y="176"/><use href="#m6" x="1223" y="164"/><use href="#m17" x="1226" y="168"/><use href="#m16" x="1227" y="180"/><use href="#m17" x="1232" y="170"/><use href="#m0" x="1219" y="162"/><use href="#m5" x="1230" y="163"/><use href="#m11" x="1221" y="170"/><use href="#m13" x="1241" y="163"/><use href="#m5" x="1254" y="171"/><use href="#m11" x="1241" y="163"/><use href="#m1" x="1242" y="172"/><use href="#m17" x="1244" y="176"/><use href="#m17" x="1246" y="167"/><use href="#m11" x="1251" y="162"/><use href="#m13" x="1271" y="162"/><use href="#m17" x="1267" y="176"/><use href="#m7" x="1272" y="163"/><use href="#m0" x="1266" y="171"/><use href="#m14" x="1280" y="174"/><use href="#m5" x="982" y="189"/><use href="#m14" x="983" y="191"/><use href="#m14" x="989" y="194"/><use href="#m17" x="984" y="191"/><use href="#m9" x="975" y="184"/><use href="#m4" x="979" y="190"/><use href="#m10" x="1006" y="197"/><use href="#m1" x="1000" y="190"/><use href="#m5" x="996" y="183"/><use href="#m10" x="1003" y="198"/><use href="#m10" x="1006" y="195"/><use href="#m6" x="1003" y="197"/><use href="#m16" x="1007" y="198"/><use href="#m4" x="1029" y="183"/><use href="#m16" x="1017" y="188"/><use href="#m12" x="1022" y="195"/><use href="#m9" x="1024" y="186"/><use href="#m9" x="1027" y="183"/><use href="#m11" x="1027" y="183"/><use href="#m17" x="1026" y="184"/><use href="#m5" x="1016" y="184"/><use href="#m5" x="1048" y="194"/><use href="#m17" x="1044" y="193"/><use href="#m9" x="1041" y="184"/><use href="#m17" x="1043" y="194"/><use href="#m2" x="1048" y="180"/><use href="#m11" x="1068" y="196"/><use href="#m13" x="1069" y="185"/><use href="#m1" x="1075" y="192"/><use href="#m16" x="1074" y="185"/><use href="#m10" x="1074" y="182"/><use href="#m11" x="1060" y="182"/><use href="#m0" x="1079" y="196"/><use href="#m8" x="1080" y="180"/><use href="#m10" x="1089" y="193"/><use href="#m14" x="1083" y="198"/><use href="#m8" x="1075" y="198"/><use href="#m13" x="1077" y="200"/><use href="#m12" x="1077" y="195"/><use href="#m4" x="1112" y="182"/><use href="#m6" x="1101" y="198"/><use href="#m8" x="1098" y="182"/><use href="#m3" x="1097" y="182"/><use href="#m6" x="1111" y="189"/><use href="#m1" x="1122" y="190"/><use href="#m8" x="1128" y="194"/><use href="#m6" x="1146" y="181"/><use href="#m13" x="1151" y="195"/><use href="#m11" x="1144" y="198"/><use href="#m1" x="1150" y="192"/><use href="#m8" x="1156" y="199"/><use href="#m0" x="1159" y="190"/><use href="#m10" x="1166" y="184"/><use href="#m5" x="1173" y="186"/><use href="#m3" x="1164" y="182"/><use href="#m10" x="1190" y="185"/><use href="#m2" x="1182" y="193"/><use href="#m17" x="1190" y="184"/><use href="#m12" x="1176" y="187"/><use href="#m9" x="1180" y="196"/><use href="#m9" x="1197" y="192"/><use href="#m13" x="1199" y="187"/><use href="#m14" x="1200" y="181"/><use href="#m12" x="1196" y="192"/><use href="#m2" x="1226" y="181"/><use href="#m0" x="1245" y="180"/><use href="#m11" x="1270" y="186"/><use href="#m12" x="1280" y="198"/><use href="#m6" x="1303" y="190"/><use href="#m12" x="988" y="204"/><use href="#m1" x="989" y="200"/><use href="#m3" x="976" y="202"/><use href="#m4" x="990" y="209"/><use href="#m14" x="994" y="204"/><use href="#m1" x="990" y="219"/><use href="#m5" x="977" y="209"/><use href="#m15" x="1009" y="211"/><use href="#m5" x="998" y="207"/><use href="#m14" x="1004" y="204"/><use href="#m5" x="1013" y="208"/><use href="#m10" x="998" y="213"/><use href="#m6" x="1005" y="208"/><use href="#m1" x="997" y="215"/><use href="#m10" x="1015" y="212"/><use href="#m15" x="1024" y="209"/><use href="#m13" x="1020" y="208"/><use href="#m0" x="1046" y="209"/><use href="#m0" x="1040" y="208"/><use href="#m13" x="1046" y="202"/><use href="#m11" x="1051" y="207"/><use href="#m2" x="1036" y="203"/><use href="#m13" x="1046" y="203"/><use href="#m9" x="1072" y="214"/><use href="#m12" x="1058" y="220"/><use href="#m14" x="1060" y="207"/><use href="#m4" x="1074" y="213"/><use href="#m1" x="1066" y="208"/><use href="#m12" x="1064" y="209"/><use href="#m15" x="1058" y="216"/><use href="#m1" x="1073" y="218"/><use href="#m12" x="1078" y="204"/><use href="#m2" x="1089" y="207"/><use href="#m12" x="1095" y="207"/><use href="#m5" x="1089" y="218"/><use href="#m6" x="1086" y="202"/><use href="#m3" x="1089" y="215"/><use href="#m12" x="1095" y="211"/><use href="#m14" x="1106" y="216"/><use href="#m8" x="1099" y="203"/><use href="#m5" x="1103" y="219"/><use href="#m8" x="1111" y="215"/><use href="#m16" x="1103" y="220"/><use href="#m14" x="1119" y="208"/><use href="#m5" x="1154" y="208"/><use href="#m1" x="1152" y="212"/><use href="#m1" x="1144" y="216"/><use href="#m12" x="1141" y="206"/><use href="#m1" x="1174" y="200"/><use href="#m9" x="1173" y="212"/><use href="#m5" x="1173" y="219"/><use href="#m8" x="1174" y="209"/><use href="#m7" x="1168" y="218"/><use href="#m14" x="1162" y="207"/><use href="#m7" x="1155" y="217"/><use href="#m16" x="1184" y="213"/><use href="#m14" x="1189" y="207"/><use href="#m3" x="1181" y="207"/><use href="#m9" x="1191" y="200"/><use href="#m13" x="1187" y="217"/><use href="#m10" x="1183" y="209"/><use href="#m6" x="1185" y="213"/><use href="#m1" x="1191" y="211"/><use href="#m7" x="1181" y="218"/><use href="#m7" x="1190" y="206"/><use href="#m0" x="1199" y="205"/><use href="#m5" x="1198" y="215"/><use href="#m1" x="1204" y="207"/><use href="#m10" x="1200" y="209"/><use href="#m8" x="1206" y="212"/><use href="#m7" x="1232" y="219"/><use href="#m14" x="1226" y="219"/><use href="#m16" x="1228" y="203"/><use href="#m17" x="1228" y="211"/><use href="#m12" x="1220" y="220"/><use href="#m8" x="1255" y="206"/><use href="#m8" x="1249" y="205"/><use href="#m15" x="1243" y="213"/><use href="#m13" x="1306" y="219"/><use href="#m1" x="1327" y="215"/><use href="#m1" x="1331" y="216"/><use href="#m12" x="993" y="234"/><use href="#m6" x="991" y="230"/><use href="#m10" x="989" y="240"/><use href="#m12" x="991" y="236"/><use href="#m3" x="979" y="221"/><use href="#m1" x="984" y="239"/><use href="#m12" x="984" y="238"/><use href="#m5" x="1003" y="237"/><use href="#m14" x="1014" y="231"/><use href="#m6" x="1011" y="229"/><use href="#m5" x="1001" y="235"/><use href="#m1" x="1011" y="239"/><use href="#m10" x="997" y="236"/><use href="#m0" x="1021" y="240"/><use href="#m9" x="1016" y="229"/><use href="#m7" x="1055" y="225"/><use href="#m11" x="1053" y="231"/><use href="#m12" x="1050" y="233"/><use href="#m12" x="1051" y="238"/><use href="#m2" x="1064" y="222"/><use href="#m11" x="1067" y="239"/><use href="#m9" x="1058" y="222"/><use href="#m4" x="1066" y="235"/><use href="#m14" x="1070" y="229"/><use href="#m0" x="1073" y="231"/><use href="#m12" x="1085" y="222"/><use href="#m4" x="1079" y="226"/><use href="#m10" x="1077" y="234"/><use href="#m17" x="1083" y="224"/><use href="#m17" x="1088" y="227"/><use href="#m12" x="1077" y="230"/><use href="#m13" x="1101" y="222"/><use href="#m0" x="1099" y="236"/><use href="#m2" x="1115" y="235"/><use href="#m12" x="1103" y="224"/><use href="#m8" x="1117" y="225"/><use href="#m4" x="1149" y="239"/><use href="#m10" x="1141" y="239"/><use href="#m13" x="1147" y="239"/><use href="#m6" x="1156" y="225"/><use href="#m15" x="1164" y="235"/><use href="#m8" x="1160" y="238"/><use href="#m7" x="1167" y="232"/><use href="#m14" x="1168" y="225"/><use href="#m14" x="1174" y="223"/><use href="#m2" x="1168" y="232"/><use href="#m0" x="1160" y="234"/><use href="#m1" x="1165" y="239"/><use href="#m0" x="1173" y="232"/><use href="#m14" x="1180" y="237"/><use href="#m9" x="1187" y="232"/><use href="#m17" x="1186" y="227"/><use href="#m1" x="1183" y="231"/><use href="#m15" x="1192" y="228"/><use href="#m15" x="1185" y="221"/><use href="#m11" x="1191" y="224"/><use href="#m2" x="1188" y="223"/><use href="#m15" x="1190" y="239"/><use href="#m14" x="1181" y="223"/><use href="#m10" x="1211" y="224"/><use href="#m3" x="1198" y="223"/><use href="#m12" x="1196" y="228"/><use href="#m14" x="1199" y="236"/><use href="#m0" x="1199" y="235"/><use href="#m11" x="1205" y="222"/><use href="#m17" x="1202" y="228"/><use href="#m17" x="1210" y="230"/><use href="#m14" x="1220" y="231"/><use href="#m13" x="1232" y="226"/><use href="#m11" x="1227" y="234"/><use href="#m16" x="1222" y="225"/><use href="#m11" x="1232" y="229"/><use href="#m16" x="1218" y="236"/><use href="#m9" x="1229" y="222"/><use href="#m3" x="1242" y="238"/><use href="#m4" x="1235" y="226"/><use href="#m8" x="1249" y="234"/><use href="#m15" x="1239" y="232"/><use href="#m2" x="1279" y="221"/><use href="#m11" x="1293" y="232"/><use href="#m9" x="1313" y="227"/><use href="#m10" x="1311" y="224"/><use href="#m10" x="1309" y="222"/><use href="#m6" x="1299" y="229"/><use href="#m1" x="1316" y="229"/><use href="#m7" x="1330" y="220"/><use href="#m11" x="976" y="250"/><use href="#m0" x="993" y="250"/><use href="#m8" x="985" y="241"/><use href="#m14" x="980" y="249"/><use href="#m11" x="989" y="256"/><use href="#m6" x="976" y="260"/><use href="#m3" x="980" y="241"/><use href="#m11" x="997" y="241"/><use href="#m7" x="1009" y="251"/><use href="#m4" x="1000" y="255"/><use href="#m8" x="995" y="245"/><use href="#m6" x="1036" y="255"/><use href="#m12" x="1078" y="255"/><use href="#m11" x="1082" y="252"/><use href="#m6" x="1111" y="259"/><use href="#m6" x="1097" y="247"/><use href="#m5" x="1120" y="243"/><use href="#m3" x="1149" y="243"/><use href="#m13" x="1141" y="245"/><use href="#m2" x="1152" y="246"/><use href="#m1" x="1163" y="241"/><use href="#m0" x="1169" y="253"/><use href="#m15" x="1165" y="244"/><use href="#m6" x="1165" y="244"/><use href="#m16" x="1167" y="257"/><use href="#m3" x="1174" y="250"/><use href="#m16" x="1175" y="259"/><use href="#m1" x="1180" y="252"/><use href="#m1" x="1193" y="249"/><use href="#m11" x="1188" y="244"/><use href="#m5" x="1184" y="246"/><use href="#m8" x="1190" y="243"/><use href="#m4" x="1186" y="250"/><use href="#m6" x="1192" y="247"/><use href="#m0" x="1191" y="241"/><use href="#m7" x="1177" y="257"/><use href="#m6" x="1188" y="244"/><use href="#m6" x="1213" y="258"/><use href="#m17" x="1213" y="252"/><use href="#m4" x="1204" y="253"/><use href="#m4" x="1204" y="241"/><use href="#m9" x="1197" y="245"/><use href="#m10" x="1211" y="252"/><use href="#m14" x="1209" y="253"/><use href="#m7" x="1200" y="254"/><use href="#m2" x="1195" y="247"/><use href="#m10" x="1198" y="254"/><use href="#m5" x="1231" y="259"/><use href="#m2" x="1229" y="259"/><use href="#m14" x="1234" y="253"/><use href="#m8" x="1231" y="256"/><use href="#m2" x="1221" y="252"/><use href="#m5" x="1221" y="257"/><use href="#m0" x="1262" y="247"/><use href="#m4" x="1272" y="240"/><use href="#m14" x="1274" y="241"/><use href="#m6" x="1288" y="243"/><use href="#m14" x="1277" y="248"/><use href="#m3" x="1280" y="248"/><use href="#m2" x="1283" y="251"/><use href="#m11" x="1284" y="250"/><use href="#m16" x="1297" y="255"/><use href="#m3" x="1311" y="258"/><use href="#m7" x="1313" y="251"/><use href="#m14" x="1304" y="250"/><use href="#m7" x="1309" y="251"/><use href="#m8" x="1313" y="249"/><use href="#m0" x="1298" y="248"/><use href="#m1" x="1331" y="252"/><use href="#m3" x="1321" y="251"/><use href="#m7" x="1331" y="254"/><use href="#m11" x="1320" y="251"/><use href="#m13" x="976" y="275"/><use href="#m11" x="995" y="275"/><use href="#m7" x="980" y="261"/><use href="#m7" x="982" y="270"/><use href="#m15" x="982" y="261"/><use href="#m1" x="982" y="272"/><use href="#m9" x="979" y="264"/><use href="#m4" x="1010" y="270"/><use href="#m17" x="996" y="279"/><use href="#m15" x="1001" y="260"/><use href="#m5" x="1005" y="263"/><use href="#m6" x="1003" y="266"/><use href="#m13" x="1013" y="268"/><use href="#m2" x="1006" y="278"/><use href="#m12" x="1025" y="268"/><use href="#m12" x="1021" y="265"/><use href="#m12" x="1034" y="276"/><use href="#m12" x="1028" y="279"/><use href="#m6" x="1044" y="272"/><use href="#m2" x="1055" y="274"/><use href="#m1" x="1094" y="272"/><use href="#m16" x="1113" y="270"/><use href="#m3" x="1120" y="270"/><use href="#m10" x="1153" y="269"/><use href="#m5" x="1157" y="264"/><use href="#m3" x="1159" y="272"/><use href="#m8" x="1157" y="273"/><use href="#m15" x="1173" y="261"/><use href="#m2" x="1160" y="269"/><use href="#m0" x="1184" y="269"/><use href="#m16" x="1178" y="261"/><use href="#m15" x="1187" y="267"/><use href="#m5" x="1193" y="262"/><use href="#m7" x="1176" y="276"/><use href="#m2" x="1193" y="266"/><use href="#m14" x="1194" y="265"/><use href="#m11" x="1202" y="274"/><use href="#m9" x="1202" y="272"/><use href="#m9" x="1195" y="270"/><use href="#m8" x="1208" y="275"/><use href="#m9" x="1213" y="276"/><use href="#m15" x="1203" y="262"/><use href="#m5" x="1208" y="261"/><use href="#m17" x="1205" y="265"/><use href="#m5" x="1196" y="277"/><use href="#m15" x="1230" y="262"/><use href="#m15" x="1229" y="271"/><use href="#m11" x="1218" y="276"/><use href="#m17" x="1231" y="277"/><use href="#m7" x="1266" y="274"/><use href="#m12" x="1270" y="269"/><use href="#m10" x="1268" y="272"/><use href="#m14" x="1269" y="266"/><use href="#m4" x="1291" y="279"/><use href="#m16" x="1281" y="273"/><use href="#m10" x="1293" y="260"/><use href="#m4" x="1287" y="277"/><use href="#m17" x="1283" y="270"/><use href="#m15" x="1292" y="279"/><use href="#m4" x="1293" y="262"/><use href="#m0" x="1296" y="262"/><use href="#m1" x="1300" y="266"/><use href="#m4" x="1314" y="276"/><use href="#m1" x="1299" y="274"/><use href="#m14" x="1307" y="269"/><use href="#m7" x="1310" y="270"/><use href="#m13" x="1309" y="260"/><use href="#m1" x="1299" y="272"/><use href="#m13" x="1332" y="278"/><use href="#m14" x="1322" y="261"/><use href="#m2" x="1333" y="279"/><use href="#m0" x="1315" y="264"/><use href="#m7" x="1322" y="274"/><use href="#m8" x="991" y="284"/><use href="#m13" x="981" y="299"/><use href="#m9" x="985" y="291"/><use href="#m14" x="986" y="294"/><use href="#m15" x="987" y="293"/><use href="#m0" x="987" y="285"/><use href="#m13" x="979" y="285"/><use href="#m2" x="1005" y="296"/><use href="#m6" x="1007" y="289"/><use href="#m17" x="1004" y="299"/><use href="#m11" x="995" y="297"/><use href="#m2" x="1005" y="299"/><use href="#m2" x="1014" y="293"/><use href="#m5" x="1007" y="290"/><use href="#m17" x="1025" y="288"/><use href="#m15" x="1023" y="290"/><use href="#m3" x="1020" y="293"/><use href="#m1" x="1030" y="298"/><use href="#m2" x="1021" y="284"/><use href="#m16" x="1028" y="286"/><use href="#m5" x="1016" y="295"/><use href="#m10" x="1038" y="290"/><use href="#m14" x="1052" y="287"/><use href="#m5" x="1036" y="295"/><use href="#m12" x="1043" y="300"/><use href="#m4" x="1087" y="282"/><use href="#m17" x="1098" y="295"/><use href="#m9" x="1123" y="292"/><use href="#m2" x="1162" y="294"/><use href="#m5" x="1166" y="281"/><use href="#m5" x="1163" y="287"/><use href="#m5" x="1192" y="299"/><use href="#m16" x="1185" y="291"/><use href="#m12" x="1187" y="290"/><use href="#m0" x="1177" y="296"/><use href="#m15" x="1190" y="286"/><use href="#m3" x="1212" y="281"/><use href="#m5" x="1208" y="285"/><use href="#m4" x="1204" y="283"/><use href="#m10" x="1210" y="282"/><use href="#m8" x="1208" y="297"/><use href="#m12" x="1206" y="283"/><use href="#m14" x="1214" y="281"/><use href="#m8" x="1227" y="292"/><use href="#m6" x="1218" y="292"/><use href="#m12" x="1233" y="280"/><use href="#m9" x="1228" y="298"/><use href="#m0" x="1262" y="283"/><use href="#m5" x="1273" y="284"/><use href="#m8" x="1262" y="296"/><use href="#m13" x="1273" y="282"/><use href="#m15" x="1256" y="284"/><use href="#m8" x="1269" y="282"/><use href="#m16" x="1279" y="299"/><use href="#m10" x="1278" y="297"/><use href="#m7" x="1285" y="295"/><use href="#m9" x="1293" y="286"/><use href="#m2" x="1294" y="280"/><use href="#m6" x="1278" y="300"/><use href="#m12" x="1275" y="286"/><use href="#m6" x="1313" y="295"/><use href="#m4" x="1306" y="288"/><use href="#m3" x="1298" y="288"/><use href="#m3" x="1307" y="297"/><use href="#m4" x="1312" y="293"/><use href="#m11" x="1298" y="281"/><use href="#m0" x="1314" y="285"/><use href="#m2" x="1296" y="293"/><use href="#m4" x="1328" y="298"/><use href="#m4" x="1328" y="295"/><use href="#m8" x="1323" y="296"/><use href="#m4" x="1319" y="281"/><use href="#m16" x="1323" y="291"/><use href="#m2" x="990" y="316"/><use href="#m3" x="990" y="306"/><use href="#m12" x="986" y="310"/><use href="#m15" x="983" y="317"/><use href="#m0" x="994" y="312"/><use href="#m14" x="993" y="305"/><use href="#m6" x="984" y="318"/><use href="#m13" x="1007" y="308"/><use href="#m8" x="1011" y="307"/><use href="#m10" x="999" y="308"/><use href="#m11" x="1004" y="302"/><use href="#m1" x="1035" y="303"/><use href="#m2" x="1022" y="313"/><use href="#m2" x="1016" y="318"/><use href="#m15" x="1054" y="310"/><use href="#m10" x="1046" y="310"/><use href="#m1" x="1088" y="309"/><use href="#m15" x="1081" y="304"/><use href="#m0" x="1160" y="316"/><use href="#m5" x="1169" y="313"/><use href="#m9" x="1161" y="313"/><use href="#m8" x="1195" y="305"/><use href="#m3" x="1183" y="318"/><use href="#m12" x="1178" y="313"/><use href="#m12" x="1175" y="315"/><use href="#m10" x="1188" y="311"/><use href="#m13" x="1182" y="313"/><use href="#m8" x="1196" y="305"/><use href="#m7" x="1198" y="310"/><use href="#m11" x="1199" y="319"/><use href="#m12" x="1202" y="300"/><use href="#m13" x="1197" y="300"/><use href="#m0" x="1201" y="309"/><use href="#m4" x="1202" y="303"/><use href="#m13" x="1231" y="306"/><use href="#m10" x="1219" y="302"/><use href="#m7" x="1221" y="301"/><use href="#m8" x="1229" y="308"/><use href="#m11" x="1220" y="306"/><use href="#m14" x="1220" y="307"/><use href="#m8" x="1274" y="303"/><use href="#m0" x="1264" y="311"/><use href="#m10" x="1266" y="306"/><use href="#m14" x="1272" y="310"/><use href="#m16" x="1271" y="316"/><use href="#m3" x="1258" y="303"/><use href="#m13" x="1291" y="308"/><use href="#m2" x="1286" y="306"/><use href="#m6" x="1276" y="308"/><use href="#m14" x="1289" y="320"/><use href="#m12" x="1284" y="319"/><use href="#m6" x="1285" y="315"/><use href="#m15" x="1284" y="303"/><use href="#m12" x="1293" y="307"/><use href="#m16" x="1301" y="314"/><use href="#m8" x="1300" y="318"/><use href="#m8" x="1295" y="317"/><use href="#m15" x="1297" y="300"/><use href="#m1" x="1308" y="312"/><use href="#m3" x="1304" y="302"/><use href="#m8" x="1303" y="311"/><use href="#m16" x="1318" y="319"/><use href="#m9" x="1328" y="303"/><use href="#m1" x="1323" y="305"/><use href="#m6" x="1322" y="305"/><use href="#m16" x="1331" y="313"/><use href="#m7" x="1317" y="316"/><use href="#m7" x="976" y="323"/><use href="#m11" x="978" y="336"/><use href="#m17" x="990" y="326"/><use href="#m9" x="976" y="339"/><use href="#m3" x="991" y="329"/><use href="#m0" x="982" y="328"/><use href="#m1" x="977" y="337"/><use href="#m15" x="1008" y="327"/><use href="#m8" x="1011" y="333"/><use href="#m3" x="1003" y="329"/><use href="#m17" x="996" y="328"/><use href="#m1" x="1017" y="321"/><use href="#m13" x="1024" y="331"/><use href="#m15" x="1083" y="329"/><use href="#m14" x="1077" y="324"/><use href="#m8" x="1104" y="330"/><use href="#m12" x="1153" y="325"/><use href="#m11" x="1166" y="336"/><use href="#m9" x="1158" y="321"/><use href="#m14" x="1162" y="332"/><use href="#m3" x="1164" y="328"/><use href="#m7" x="1189" y="340"/><use href="#m9" x="1185" y="340"/><use href="#m12" x="1183" y="331"/><use href="#m0" x="1178" y="326"/><use href="#m12" x="1180" y="329"/><use href="#m16" x="1196" y="331"/><use href="#m16" x="1202" y="321"/><use href="#m13" x="1214" y="335"/><use href="#m8" x="1211" y="335"/><use href="#m17" x="1198" y="338"/><use href="#m3" x="1209" y="339"/><use href="#m15" x="1206" y="333"/><use href="#m1" x="1222" y="323"/><use href="#m7" x="1232" y="327"/><use href="#m10" x="1233" y="324"/><use href="#m11" x="1220" y="333"/><use href="#m13" x="1253" y="335"/><use href="#m2" x="1261" y="330"/><use href="#m11" x="1258" y="329"/><use href="#m11" x="1257" y="332"/><use href="#m8" x="1273" y="331"/><use href="#m5" x="1259" y="329"/><use href="#m17" x="1289" y="335"/><use href="#m12" x="1290" y="336"/><use href="#m1" x="1290" y="325"/><use href="#m10" x="1283" y="322"/><use href="#m2" x="1288" y="323"/><use href="#m12" x="1286" y="321"/><use href="#m2" x="1283" y="331"/><use href="#m4" x="1314" y="322"/><use href="#m10" x="1309" y="329"/><use href="#m15" x="1314" y="330"/><use href="#m4" x="1308" y="327"/><use href="#m11" x="1315" y="327"/><use href="#m9" x="1334" y="321"/><use href="#m12" x="1327" y="328"/><use href="#m1" x="1334" y="322"/><use href="#m4" x="1332" y="320"/><use href="#m11" x="1320" y="323"/><use href="#m7" x="994" y="345"/><use href="#m14" x="975" y="355"/><use href="#m16" x="975" y="352"/><use href="#m1" x="987" y="351"/><use href="#m11" x="981" y="358"/><use href="#m15" x="979" y="359"/><use href="#m17" x="992" y="348"/><use href="#m9" x="999" y="350"/><use href="#m9" x="998" y="360"/><use href="#m15" x="999" y="350"/><use href="#m1" x="1001" y="357"/><use href="#m12" x="1022" y="353"/><use href="#m3" x="1181" y="345"/><use href="#m12" x="1177" y="358"/><use href="#m12" x="1187" y="352"/><use href="#m2" x="1201" y="344"/><use href="#m1" x="1198" y="344"/><use href="#m12" x="1221" y="348"/><use href="#m13" x="1267" y="348"/><use href="#m0" x="1259" y="347"/><use href="#m14" x="1286" y="349"/><use href="#m14" x="1275" y="357"/><use href="#m15" x="1292" y="349"/><use href="#m2" x="1284" y="353"/><use href="#m17" x="1285" y="346"/><use href="#m10" x="1284" y="351"/><use href="#m11" x="1294" y="352"/><use href="#m7" x="1304" y="349"/><use href="#m16" x="1301" y="346"/><use href="#m3" x="1306" y="342"/><use href="#m2" x="1305" y="353"/><use href="#m8" x="1315" y="342"/><use href="#m0" x="1309" y="358"/><use href="#m8" x="1297" y="346"/><use href="#m12" x="1332" y="353"/><use href="#m17" x="1334" y="346"/><use href="#m13" x="1327" y="348"/><use href="#m12" x="1329" y="357"/><use href="#m10" x="1329" y="348"/><use href="#m15" x="983" y="372"/><use href="#m10" x="985" y="378"/><use href="#m10" x="989" y="372"/><use href="#m12" x="989" y="367"/><use href="#m2" x="981" y="372"/><use href="#m2" x="991" y="375"/><use href="#m13" x="988" y="367"/><use href="#m17" x="1012" y="374"/><use href="#m5" x="1006" y="366"/><use href="#m3" x="1011" y="372"/><use href="#m14" x="1000" y="364"/><use href="#m8" x="1008" y="375"/><use href="#m14" x="1020" y="374"/><use href="#m2" x="1062" y="371"/><use href="#m8" x="1078" y="374"/><use href="#m7" x="1084" y="369"/><use href="#m12" x="1079" y="379"/><use href="#m16" x="1088" y="362"/><use href="#m8" x="1089" y="376"/><use href="#m6" x="1110" y="373"/><use href="#m11" x="1103" y="366"/><use href="#m16" x="1097" y="366"/><use href="#m3" x="1127" y="365"/><use href="#m10" x="1117" y="371"/><use href="#m8" x="1117" y="368"/><use href="#m12" x="1138" y="379"/><use href="#m14" x="1144" y="361"/><use href="#m7" x="1140" y="376"/><use href="#m1" x="1170" y="373"/><use href="#m10" x="1156" y="373"/><use href="#m15" x="1163" y="366"/><use href="#m10" x="1195" y="372"/><use href="#m4" x="1190" y="362"/><use href="#m0" x="1199" y="371"/><use href="#m15" x="1208" y="378"/><use href="#m1" x="1228" y="368"/><use href="#m8" x="1277" y="360"/><use href="#m5" x="1278" y="379"/><use href="#m4" x="1288" y="362"/><use href="#m11" x="1285" y="377"/><use href="#m13" x="1279" y="367"/><use href="#m8" x="1285" y="363"/><use href="#m4" x="1292" y="363"/><use href="#m8" x="1286" y="369"/><use href="#m1" x="1309" y="370"/><use href="#m12" x="1310" y="378"/><use href="#m2" x="1305" y="368"/><use href="#m16" x="1314" y="377"/><use href="#m4" x="1299" y="378"/><use href="#m11" x="1305" y="363"/><use href="#m13" x="1298" y="377"/><use href="#m5" x="1324" y="368"/><use href="#m0" x="1324" y="366"/><use href="#m16" x="1325" y="366"/><use href="#m12" x="1319" y="376"/><use href="#m14" x="1331" y="372"/><use href="#m6" x="979" y="387"/><use href="#m1" x="981" y="387"/><use href="#m6" x="977" y="383"/><use href="#m2" x="983" y="399"/><use href="#m6" x="994" y="382"/><use href="#m10" x="975" y="393"/><use href="#m3" x="988" y="390"/><use href="#m5" x="996" y="393"/><use href="#m3" x="1011" y="382"/><use href="#m17" x="999" y="398"/><use href="#m14" x="1015" y="388"/><use href="#m15" x="1020" y="394"/><use href="#m16" x="1038" y="395"/><use href="#m3" x="1059" y="386"/><use href="#m11" x="1071" y="397"/><use href="#m7" x="1067" y="399"/><use href="#m11" x="1080" y="382"/><use href="#m12" x="1089" y="382"/><use href="#m11" x="1089" y="386"/><use href="#m9" x="1086" y="392"/><use href="#m13" x="1086" y="388"/><use href="#m12" x="1079" y="397"/><use href="#m0" x="1083" y="395"/><use href="#m10" x="1105" y="391"/><use href="#m7" x="1103" y="391"/><use href="#m8" x="1112" y="385"/><use href="#m2" x="1110" y="388"/><use href="#m15" x="1112" y="382"/><use href="#m1" x="1114" y="396"/><use href="#m11" x="1099" y="397"/><use href="#m4" x="1120" y="393"/><use href="#m2" x="1129" y="384"/><use href="#m1" x="1121" y="380"/><use href="#m6" x="1127" y="393"/><use href="#m9" x="1123" y="386"/><use href="#m1" x="1151" y="399"/><use href="#m7" x="1153" y="382"/><use href="#m2" x="1142" y="391"/><use href="#m7" x="1136" y="382"/><use href="#m14" x="1155" y="389"/><use href="#m7" x="1151" y="394"/><use href="#m13" x="1143" y="399"/><use href="#m13" x="1160" y="393"/><use href="#m4" x="1172" y="396"/><use href="#m9" x="1171" y="398"/><use href="#m11" x="1159" y="387"/><use href="#m11" x="1155" y="388"/><use href="#m11" x="1169" y="394"/><use href="#m3" x="1160" y="398"/><use href="#m9" x="1159" y="399"/><use href="#m2" x="1189" y="392"/><use href="#m0" x="1186" y="394"/><use href="#m2" x="1188" y="384"/><use href="#m8" x="1189" y="398"/><use href="#m11" x="1180" y="391"/><use href="#m1" x="1179" y="388"/><use href="#m4" x="1175" y="387"/><use href="#m15" x="1198" y="382"/><use href="#m10" x="1206" y="388"/><use href="#m11" x="1203" y="391"/><use href="#m10" x="1203" y="386"/><use href="#m0" x="1201" y="395"/><use href="#m16" x="1202" y="395"/><use href="#m0" x="1232" y="385"/><use href="#m7" x="1223" y="385"/><use href="#m7" x="1233" y="394"/><use href="#m14" x="1255" y="394"/><use href="#m14" x="1293" y="396"/><use href="#m8" x="1280" y="395"/><use href="#m12" x="1283" y="397"/><use href="#m2" x="1275" y="390"/><use href="#m15" x="1286" y="388"/><use href="#m13" x="1299" y="385"/><use href="#m17" x="1306" y="386"/><use href="#m1" x="1313" y="392"/><use href="#m5" x="1308" y="381"/><use href="#m17" x="1305" y="391"/><use href="#m1" x="1308" y="380"/><use href="#m16" x="1299" y="395"/><use href="#m7" x="1309" y="391"/><use href="#m13" x="1327" y="380"/><use href="#m0" x="1334" y="394"/><use href="#m3" x="1319" y="394"/><use href="#m16" x="1332" y="393"/><use href="#m4" x="1326" y="392"/><use href="#m3" x="993" y="407"/><use href="#m14" x="980" y="410"/><use href="#m14" x="993" y="420"/><use href="#m16" x="994" y="402"/><use href="#m8" x="986" y="414"/><use href="#m1" x="977" y="407"/><use href="#m6" x="987" y="407"/><use href="#m2" x="999" y="413"/><use href="#m5" x="999" y="418"/><use href="#m10" x="1003" y="406"/><use href="#m1" x="1005" y="407"/><use href="#m4" x="1007" y="406"/><use href="#m8" x="998" y="401"/><use href="#m13" x="1014" y="415"/><use href="#m7" x="1028" y="412"/><use href="#m16" x="1027" y="420"/><use href="#m6" x="1034" y="409"/><use href="#m10" x="1035" y="419"/><use href="#m7" x="1025" y="418"/><use href="#m16" x="1033" y="402"/><use href="#m9" x="1052" y="405"/><use href="#m16" x="1042" y="406"/><use href="#m12" x="1041" y="409"/><use href="#m10" x="1052" y="409"/><use href="#m16" x="1064" y="405"/><use href="#m2" x="1074" y="411"/><use href="#m6" x="1056" y="409"/><use href="#m4" x="1056" y="413"/><use href="#m7" x="1061" y="404"/><use href="#m9" x="1093" y="400"/><use href="#m9" x="1077" y="401"/><use href="#m7" x="1095" y="406"/><use href="#m9" x="1093" y="413"/><use href="#m7" x="1082" y="414"/><use href="#m14" x="1088" y="408"/><use href="#m13" x="1090" y="407"/><use href="#m6" x="1114" y="402"/><use href="#m9" x="1096" y="406"/><use href="#m2" x="1102" y="419"/><use href="#m4" x="1114" y="405"/><use href="#m5" x="1103" y="419"/><use href="#m8" x="1100" y="415"/><use href="#m11" x="1121" y="419"/><use href="#m6" x="1135" y="408"/><use href="#m16" x="1130" y="405"/><use href="#m5" x="1124" y="405"/><use href="#m16" x="1120" y="418"/><use href="#m12" x="1153" y="416"/><use href="#m13" x="1140" y="414"/><use href="#m7" x="1148" y="407"/><use href="#m17" x="1154" y="413"/><use href="#m15" x="1153" y="407"/><use href="#m3" x="1142" y="411"/><use href="#m10" x="1172" y="405"/><use href="#m14" x="1173" y="412"/><use href="#m3" x="1165" y="409"/><use href="#m3" x="1160" y="410"/><use href="#m11" x="1165" y="411"/><use href="#m8" x="1178" y="404"/><use href="#m17" x="1194" y="412"/><use href="#m11" x="1184" y="409"/><use href="#m3" x="1182" y="411"/><use href="#m14" x="1214" y="404"/><use href="#m16" x="1205" y="417"/><use href="#m2" x="1208" y="412"/><use href="#m11" x="1206" y="417"/><use href="#m2" x="1199" y="418"/><use href="#m15" x="1217" y="413"/><use href="#m1" x="1234" y="419"/><use href="#m10" x="1229" y="410"/><use href="#m11" x="1226" y="416"/><use href="#m0" x="1232" y="417"/><use href="#m15" x="1239" y="414"/><use href="#m16" x="1246" y="419"/><use href="#m1" x="1243" y="417"/><use href="#m9" x="1278" y="407"/><use href="#m17" x="1290" y="417"/><use href="#m13" x="1280" y="416"/><use href="#m0" x="1279" y="413"/><use href="#m6" x="1304" y="419"/><use href="#m6" x="1300" y="404"/><use href="#m5" x="1310" y="416"/><use href="#m14" x="1307" y="401"/><use href="#m5" x="1303" y="403"/><use href="#m5" x="1329" y="405"/><use href="#m1" x="1326" y="419"/><use href="#m4" x="1321" y="405"/><use href="#m7" x="1316" y="411"/><use href="#m9" x="1327" y="419"/></g></g>
<line x1="970.30" y1="67.50" x2="1129.70" y2="167.20" stroke="#5a5a5a" stroke-width="2.0" stroke-dasharray="30,4,12,3,40,5,18,3,60"/>
<g clip-path="url(#snapclip)"><path d="M982.0 70.5L996.1 72.3L1010.2 72.3L1027.7 71.4L1041.8 68.8L1048.8 66.2L1059.4 65.3M1003.1 97.8L1015.4 86.4L1027.7 79.3L1040.0 73.2L1045.3 67.0M1045.3 72.3L1048.8 84.6L1057.6 96.9L1064.6 111.0L1070.8 119.8L1076.1 128.6M989.1 88.1L990.8 103.9L994.3 118.0L1001.4 132.1L1013.7 142.6L1027.7 153.2L1041.8 162.0L1055.9 170.7L1073.4 176.9L1087.5 181.3L1098.0 188.3L1108.6 193.6M1027.7 132.1L1033.0 142.6L1040.0 154.9L1047.1 162.0L1052.3 154.9L1055.0 149.6M1047.1 163.7L1033.0 167.2L1018.9 174.3L1006.6 186.6L994.3 197.1L987.3 209.4L984.7 223.5L982.0 235.8M1122.7 77.6L1122.7 95.2L1117.4 112.7L1115.6 130.3L1115.6 144.4L1119.1 158.4L1120.9 169.0L1126.2 179.5L1136.7 183.0L1145.5 181.3M1108.6 161.1L1124.4 159.3L1142.0 157.6L1154.3 158.4M1145.5 165.5L1145.5 174.3L1142.0 186.6M1040.0 209.4L1054.1 214.7L1069.9 221.7L1084.0 227.0L1098.0 226.1L1110.4 220.0L1120.9 216.4M1140.2 218.2L1154.3 216.4M1218.6 65.3L1229.1 75.8L1239.6 84.6L1248.4 91.6L1255.5 105.7L1259.9 112.7M1253.7 82.9L1246.7 93.4L1234.4 105.7L1223.8 116.2L1216.8 126.8L1211.5 139.1L1202.7 149.6L1193.9 160.2L1190.4 172.5L1186.9 186.6L1179.9 200.6L1172.9 207.7L1160.5 212.9L1150.0 218.2M1192.2 147.0L1209.8 150.5L1223.8 153.2L1241.4 154.0L1255.5 158.4L1269.5 164.6L1278.3 171.6M1150.0 158.4L1160.5 159.3L1172.9 156.7M1178.1 211.2L1183.4 223.5L1186.9 235.8M1220.3 212.9L1227.3 218.2L1223.8 227.0L1216.8 234.0M1302.9 86.4L1301.2 74.1L1304.7 65.3L1317.0 67.0L1325.8 68.8M1306.4 230.5L1302.9 239.3M982.2 274.8L998.5 275.7L1011.1 274.8L1022.0 282.0L1029.2 292.8L1029.2 301.9M982.2 294.6L989.5 291.0L994.9 283.8L998.5 280.2M980.4 309.1L984.0 320.0L985.8 332.6L991.3 341.6L993.1 354.3L994.9 365.1L996.7 377.8L997.6 392.2L997.6 403.1L995.8 413.9M991.3 245.8L989.5 251.3M1047.3 413.9L1052.7 410.3M1063.6 413.0L1076.2 408.5L1090.7 402.2L1105.1 397.7L1117.8 394.0L1126.8 388.6M1065.4 390.4L1076.2 383.2L1083.4 377.8M1092.5 370.6L1106.9 373.3L1121.4 377.8M1134.0 385.0L1148.5 382.3L1155.0 382.3M1144.9 244.0L1153.9 249.5M1150.0 247.7L1162.7 257.6L1173.5 262.1L1182.5 267.5L1188.0 273.0L1191.6 280.2L1197.0 291.0L1202.4 298.3L1200.6 312.7L1202.4 318.1M1178.9 235.0L1177.1 249.5L1180.7 262.1L1180.7 280.2L1184.3 292.8M1186.1 235.0L1189.8 244.0L1192.5 258.5L1191.6 271.1M1216.9 274.8L1216.9 289.2L1215.1 303.7L1209.6 318.1L1206.0 329.0L1204.2 343.4M1178.9 314.5L1189.8 321.8L1200.6 327.2L1206.0 329.0M1150.0 382.3L1164.5 383.2L1178.9 385.0L1189.8 392.2L1200.6 401.3L1209.6 408.5L1216.9 414.8M1303.6 235.0L1300.0 245.8L1296.4 256.7L1289.2 265.7L1283.7 273.9L1298.2 273.0L1312.7 273.0L1328.9 273.9M1327.1 240.4L1319.9 249.5L1312.7 254.9M1258.4 307.3L1267.5 298.3L1276.5 291.0L1281.9 285.6M1272.9 300.1L1287.4 307.3L1301.8 308.2L1312.7 305.5L1323.5 298.3L1328.9 305.5M1272.9 303.7L1274.7 318.1L1276.5 332.6L1278.3 347.1L1279.2 361.5L1283.7 372.4L1292.8 379.6M1294.6 332.6L1296.4 347.1L1300.0 361.5L1303.6 376.0L1303.6 390.4L1305.4 403.1L1304.5 415.7M1077.0 109.2l0.01 0M1091.0 119.8l0.01 0M1138.5 113.6l0.01 0M1084.0 165.5l0.01 0M1031.2 214.7l0.01 0M1087.5 235.8l0.01 0M994.3 77.6l0.01 0M1239.6 231.4l0.01 0M1137.7 376.9l0.01 0M1087.0 236.8l0.01 0M988.6 367.0l0.01 0M1213.3 237.7l0.01 0M1157.2 334.4l0.01 0M1247.6 352.5l0.01 0M1282.8 326.3l0.01 0M1281.9 381.4l0.01 0" fill="none" stroke="#a81616" stroke-width="6.8" stroke-linecap="round" stroke-dasharray="0 6.3"/><path d="M982.0 70.5L996.1 72.3L1010.2 72.3L1027.7 71.4L1041.8 68.8L1048.8 66.2L1059.4 65.3M1003.1 97.8L1015.4 86.4L1027.7 79.3L1040.0 73.2L1045.3 67.0M1045.3 72.3L1048.8 84.6L1057.6 96.9L1064.6 111.0L1070.8 119.8L1076.1 128.6M989.1 88.1L990.8 103.9L994.3 118.0L1001.4 132.1L1013.7 142.6L1027.7 153.2L1041.8 162.0L1055.9 170.7L1073.4 176.9L1087.5 181.3L1098.0 188.3L1108.6 193.6M1027.7 132.1L1033.0 142.6L1040.0 154.9L1047.1 162.0L1052.3 154.9L1055.0 149.6M1047.1 163.7L1033.0 167.2L1018.9 174.3L1006.6 186.6L994.3 197.1L987.3 209.4L984.7 223.5L982.0 235.8M1122.7 77.6L1122.7 95.2L1117.4 112.7L1115.6 130.3L1115.6 144.4L1119.1 158.4L1120.9 169.0L1126.2 179.5L1136.7 183.0L1145.5 181.3M1108.6 161.1L1124.4 159.3L1142.0 157.6L1154.3 158.4M1145.5 165.5L1145.5 174.3L1142.0 186.6M1040.0 209.4L1054.1 214.7L1069.9 221.7L1084.0 227.0L1098.0 226.1L1110.4 220.0L1120.9 216.4M1140.2 218.2L1154.3 216.4M1218.6 65.3L1229.1 75.8L1239.6 84.6L1248.4 91.6L1255.5 105.7L1259.9 112.7M1253.7 82.9L1246.7 93.4L1234.4 105.7L1223.8 116.2L1216.8 126.8L1211.5 139.1L1202.7 149.6L1193.9 160.2L1190.4 172.5L1186.9 186.6L1179.9 200.6L1172.9 207.7L1160.5 212.9L1150.0 218.2M1192.2 147.0L1209.8 150.5L1223.8 153.2L1241.4 154.0L1255.5 158.4L1269.5 164.6L1278.3 171.6M1150.0 158.4L1160.5 159.3L1172.9 156.7M1178.1 211.2L1183.4 223.5L1186.9 235.8M1220.3 212.9L1227.3 218.2L1223.8 227.0L1216.8 234.0M1302.9 86.4L1301.2 74.1L1304.7 65.3L1317.0 67.0L1325.8 68.8M1306.4 230.5L1302.9 239.3M982.2 274.8L998.5 275.7L1011.1 274.8L1022.0 282.0L1029.2 292.8L1029.2 301.9M982.2 294.6L989.5 291.0L994.9 283.8L998.5 280.2M980.4 309.1L984.0 320.0L985.8 332.6L991.3 341.6L993.1 354.3L994.9 365.1L996.7 377.8L997.6 392.2L997.6 403.1L995.8 413.9M991.3 245.8L989.5 251.3M1047.3 413.9L1052.7 410.3M1063.6 413.0L1076.2 408.5L1090.7 402.2L1105.1 397.7L1117.8 394.0L1126.8 388.6M1065.4 390.4L1076.2 383.2L1083.4 377.8M1092.5 370.6L1106.9 373.3L1121.4 377.8M1134.0 385.0L1148.5 382.3L1155.0 382.3M1144.9 244.0L1153.9 249.5M1150.0 247.7L1162.7 257.6L1173.5 262.1L1182.5 267.5L1188.0 273.0L1191.6 280.2L1197.0 291.0L1202.4 298.3L1200.6 312.7L1202.4 318.1M1178.9 235.0L1177.1 249.5L1180.7 262.1L1180.7 280.2L1184.3 292.8M1186.1 235.0L1189.8 244.0L1192.5 258.5L1191.6 271.1M1216.9 274.8L1216.9 289.2L1215.1 303.7L1209.6 318.1L1206.0 329.0L1204.2 343.4M1178.9 314.5L1189.8 321.8L1200.6 327.2L1206.0 329.0M1150.0 382.3L1164.5 383.2L1178.9 385.0L1189.8 392.2L1200.6 401.3L1209.6 408.5L1216.9 414.8M1303.6 235.0L1300.0 245.8L1296.4 256.7L1289.2 265.7L1283.7 273.9L1298.2 273.0L1312.7 273.0L1328.9 273.9M1327.1 240.4L1319.9 249.5L1312.7 254.9M1258.4 307.3L1267.5 298.3L1276.5 291.0L1281.9 285.6M1272.9 300.1L1287.4 307.3L1301.8 308.2L1312.7 305.5L1323.5 298.3L1328.9 305.5M1272.9 303.7L1274.7 318.1L1276.5 332.6L1278.3 347.1L1279.2 361.5L1283.7 372.4L1292.8 379.6M1294.6 332.6L1296.4 347.1L1300.0 361.5L1303.6 376.0L1303.6 390.4L1305.4 403.1L1304.5 415.7M1077.0 109.2l0.01 0M1091.0 119.8l0.01 0M1138.5 113.6l0.01 0M1084.0 165.5l0.01 0M1031.2 214.7l0.01 0M1087.5 235.8l0.01 0M994.3 77.6l0.01 0M1239.6 231.4l0.01 0M1137.7 376.9l0.01 0M1087.0 236.8l0.01 0M988.6 367.0l0.01 0M1213.3 237.7l0.01 0M1157.2 334.4l0.01 0M1247.6 352.5l0.01 0M1282.8 326.3l0.01 0M1281.9 381.4l0.01 0" fill="none" stroke="#c2b81e" stroke-width="3.4" stroke-linecap="round" stroke-dasharray="0 6.3" stroke-dashoffset="-3.15"/></g>
<g clip-path="url(#snapclip)"><use href="#stack" transform="matrix(0.51,0,0,0.51,712.4,139.9)"/></g>
</svg></body></html>
